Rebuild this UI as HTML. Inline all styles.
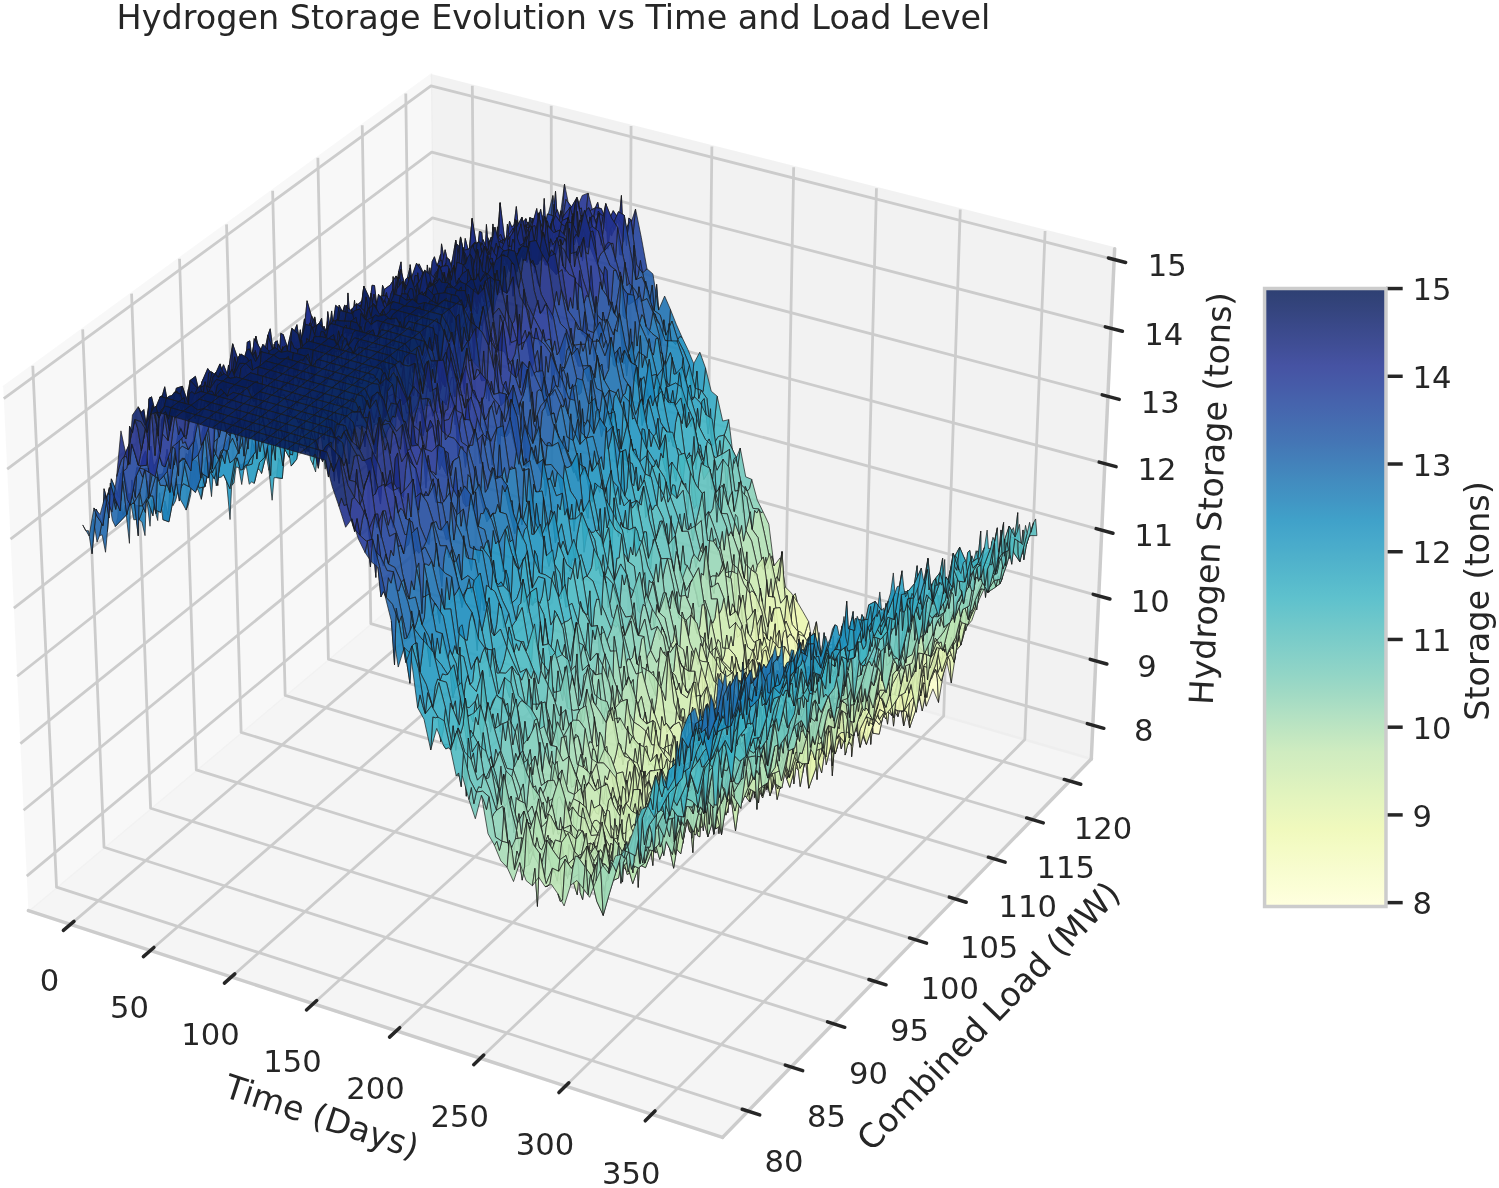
<!DOCTYPE html>
<html lang="en"><head><meta charset="utf-8"><title>Hydrogen Storage Evolution vs Time and Load Level</title>
<style>html,body{margin:0;padding:0;background:#fff}svg{display:block}text{font-family:"DejaVu Sans","Liberation Sans",sans-serif}</style></head>
<body>
<svg width="1499" height="1188" viewBox="116.1700 76.4300 538.0259 426.4008">
 
 <defs>
  <style type="text/css">*{stroke-linejoin: round; stroke-linecap: butt}</style>
 </defs>
 <g id="figure_1">
  <g id="patch_1">
   <path d="M 0 576 L 720 576 L 720 0 L 0 0 z" style="fill: #ffffff"/>
  </g>
  <g id="patch_2">
   <path d="M 92.88 512.64 L 536.4 512.64 L 536.4 69.12 L 92.88 69.12 z" style="fill: #ffffff"/>
  </g>
  <g id="pane3d_1">
   <g id="patch_3">
    <path d="M 126.368819 403.282182 L 272.833607 280.512492 L 270.797607 103.456652 L 117.323723 215.454902 " style="fill: #f2f2f2; opacity: 0.5; stroke: #f2f2f2; stroke-linejoin: miter"/>
   </g>
  </g>
  <g id="pane3d_2">
   <g id="patch_4">
    <path d="M 272.833607 280.512492 L 507.857334 348.82461 L 516.244503 165.670285 L 270.797607 103.456652 " style="fill: #e6e6e6; opacity: 0.5; stroke: #e6e6e6; stroke-linejoin: miter"/>
   </g>
  </g>
  <g id="pane3d_3">
   <g id="patch_5">
    <path d="M 126.368819 403.282182 L 375.505448 484.650204 L 507.857334 348.82461 L 272.833607 280.512492 " style="fill: #ececec; opacity: 0.5; stroke: #ececec; stroke-linejoin: miter"/>
   </g>
  </g>
  <g id="grid3d_1">
   <g id="Line3DCollection_1">
    <path d="M 141.45784 408.210256 L 287.127031 284.667025 L 285.695367 107.232799 " style="fill: none; stroke: #cccccc"/>
    <path d="M 170.153529 417.582268 L 314.288562 292.56181 L 314.015842 114.411214 " style="fill: none; stroke: #cccccc"/>
    <path d="M 199.208256 427.071542 L 341.761764 300.547185 L 342.675338 121.675561 " style="fill: none; stroke: #cccccc"/>
    <path d="M 228.628801 436.680292 L 369.552033 308.62472 L 371.679981 129.027393 " style="fill: none; stroke: #cccccc"/>
    <path d="M 258.422118 446.410789 L 397.66489 316.796017 L 401.036042 136.468298 " style="fill: none; stroke: #cccccc"/>
    <path d="M 288.595336 456.265362 L 426.105985 325.062721 L 430.749947 143.999907 " style="fill: none; stroke: #cccccc"/>
    <path d="M 319.155768 466.246399 L 454.881099 333.42651 L 460.82828 151.623888 " style="fill: none; stroke: #cccccc"/>
    <path d="M 350.110917 476.35635 L 483.996152 341.889107 L 491.277785 159.34195 " style="fill: none; stroke: #cccccc"/>
   </g>
  </g>
  <g id="grid3d_2">
   <g id="Line3DCollection_2">
    <path d="M 127.936822 207.709945 L 136.46148 394.822312 L 384.663174 475.252125 " style="fill: none; stroke: #cccccc"/>
    <path d="M 145.842697 194.643053 L 153.501301 380.539197 L 400.111845 459.397988 " style="fill: none; stroke: #cccccc"/>
    <path d="M 163.394076 181.834856 L 170.218412 366.526583 L 415.252504 443.859948 " style="fill: none; stroke: #cccccc"/>
    <path d="M 180.601381 169.277749 L 186.621894 352.776859 L 430.094271 428.628643 " style="fill: none; stroke: #cccccc"/>
    <path d="M 197.474632 156.964419 L 202.720492 339.282695 L 444.645911 413.69508 " style="fill: none; stroke: #cccccc"/>
    <path d="M 214.023464 144.887835 L 218.522626 326.037033 L 458.915849 399.050614 " style="fill: none; stroke: #cccccc"/>
    <path d="M 230.257143 133.041235 L 234.036413 313.033069 L 472.912186 384.686929 " style="fill: none; stroke: #cccccc"/>
    <path d="M 246.184588 121.418111 L 249.269672 300.264249 L 486.642717 370.596027 " style="fill: none; stroke: #cccccc"/>
    <path d="M 261.814383 110.012199 L 264.229945 287.724252 L 500.114941 356.77021 " style="fill: none; stroke: #cccccc"/>
   </g>
  </g>
  <g id="grid3d_3">
   <g id="Line3DCollection_3">
    <path d="M 508.412456 336.702177 L 272.698585 268.770576 L 125.771093 390.870019 " style="fill: none; stroke: #cccccc"/>
    <path d="M 509.46887 313.632785 L 272.441736 246.434391 L 124.633233 367.241614 " style="fill: none; stroke: #cccccc"/>
    <path d="M 510.537238 290.302355 L 272.182121 223.85755 L 123.482006 343.335642 " style="fill: none; stroke: #cccccc"/>
    <path d="M 511.617764 266.706431 L 271.919693 201.036143 L 122.317175 319.147183 " style="fill: none; stroke: #cccccc"/>
    <path d="M 512.710656 242.840456 L 271.654407 177.966173 L 121.138499 294.671199 " style="fill: none; stroke: #cccccc"/>
    <path d="M 513.816129 218.699766 L 271.386215 154.643558 L 119.945728 269.902533 " style="fill: none; stroke: #cccccc"/>
    <path d="M 514.934399 194.279592 L 271.11507 131.064126 L 118.738608 244.835905 " style="fill: none; stroke: #cccccc"/>
    <path d="M 516.065692 169.57505 L 270.840924 107.223609 L 117.516878 219.465905 " style="fill: none; stroke: #cccccc"/>
   </g>
  </g>
  <g id="axis3d_1">
   <g id="line2d_1">
    <path d="M 126.368819 403.282182 L 375.505448 484.650204 " style="fill: none; stroke: #cccccc; stroke-width: 1.25; stroke-linecap: round"/>
   </g>
   <g id="xtick_1">
    
    <g id="line2d_3">
     <path d="M 142.726319 407.134449 L 138.915439 410.366487 " style="fill: none; stroke: #262626; stroke-width: 1.25; stroke-linecap: round"/>
    </g>
    <g id="text_1">
     <text style="font-size: 11px; font-family: 'DejaVu Sans', 'Liberation Sans', sans-serif; text-anchor: middle; fill: #262626" x="133.939969" y="432.255923" transform="rotate(-0 133.939969 432.255923)">0</text>
    </g>
   </g>
   <g id="xtick_2">
    
    <g id="line2d_5">
     <path d="M 171.409283 416.493047 L 167.6366 419.765413 " style="fill: none; stroke: #262626; stroke-width: 1.25; stroke-linecap: round"/>
    </g>
    <g id="text_2">
     <text style="font-size: 11px; font-family: 'DejaVu Sans', 'Liberation Sans', sans-serif; text-anchor: middle; fill: #262626" x="162.653119" y="441.746685" transform="rotate(-0 162.653119 441.746685)">50</text>
    </g>
   </g>
   <g id="xtick_3">
    
    <g id="line2d_7">
     <path d="M 200.450866 425.968655 L 196.717638 429.282107 " style="fill: none; stroke: #262626; stroke-width: 1.25; stroke-linecap: round"/>
    </g>
    <g id="text_3">
     <text style="font-size: 11px; font-family: 'DejaVu Sans', 'Liberation Sans', sans-serif; text-anchor: middle; fill: #262626" x="191.726335" y="451.356462" transform="rotate(-0 191.726335 451.356462)">100</text>
    </g>
   </g>
   <g id="xtick_4">
    
    <g id="line2d_9">
     <path d="M 229.857836 435.56348 L 226.165359 438.918798 " style="fill: none; stroke: #262626; stroke-width: 1.25; stroke-linecap: round"/>
    </g>
    <g id="text_4">
     <text style="font-size: 11px; font-family: 'DejaVu Sans', 'Liberation Sans', sans-serif; text-anchor: middle; fill: #262626" x="221.166434" y="461.087508" transform="rotate(-0 221.166434 461.087508)">150</text>
    </g>
   </g>
   <g id="xtick_5">
    
    <g id="line2d_11">
     <path d="M 259.637133 445.279787 L 255.986743 448.677769 " style="fill: none; stroke: #262626; stroke-width: 1.25; stroke-linecap: round"/>
    </g>
    <g id="text_5">
     <text style="font-size: 11px; font-family: 'DejaVu Sans', 'Liberation Sans', sans-serif; text-anchor: middle; fill: #262626" x="250.980403" y="470.942131" transform="rotate(-0 250.980403 470.942131)">200</text>
    </g>
   </g>
   <g id="xtick_6">
    
    <g id="line2d_13">
     <path d="M 289.795872 455.119898 L 286.188948 458.561362 " style="fill: none; stroke: #262626; stroke-width: 1.25; stroke-linecap: round"/>
    </g>
    <g id="text_6">
     <text style="font-size: 11px; font-family: 'DejaVu Sans', 'Liberation Sans', sans-serif; text-anchor: middle; fill: #262626" x="281.175411" y="480.922702" transform="rotate(-0 281.175411 480.922702)">250</text>
    </g>
   </g>
   <g id="xtick_7">
    
    <g id="line2d_15">
     <path d="M 320.341353 465.086194 L 316.779315 468.57198 " style="fill: none; stroke: #262626; stroke-width: 1.25; stroke-linecap: round"/>
    </g>
    <g id="text_7">
     <text style="font-size: 11px; font-family: 'DejaVu Sans', 'Liberation Sans', sans-serif; text-anchor: middle; fill: #262626" x="311.758809" y="491.03165" transform="rotate(-0 311.758809 491.03165)">300</text>
    </g>
   </g>
   <g id="xtick_8">
    
    <g id="line2d_17">
     <path d="M 351.281063 475.181117 L 347.765375 478.712088 " style="fill: none; stroke: #262626; stroke-width: 1.25; stroke-linecap: round"/>
    </g>
    <g id="text_8">
     <text style="font-size: 11px; font-family: 'DejaVu Sans', 'Liberation Sans', sans-serif; text-anchor: middle; fill: #262626" x="342.738139" y="501.271469" transform="rotate(-0 342.738139 501.271469)">350</text>
    </g>
   </g>
   <g id="text_9">
    <text style="font-size: 12px; font-family: 'DejaVu Sans', 'Liberation Sans', sans-serif; text-anchor: middle; fill: #262626" x="230.387606" y="481.196517" transform="rotate(-341.912962 230.387606 481.196517)">Time (Days)</text>
   </g>
  </g>
  <g id="axis3d_2">
   <g id="line2d_18">
    <path d="M 507.857334 348.82461 L 375.505448 484.650204 " style="fill: none; stroke: #cccccc; stroke-width: 1.25; stroke-linecap: round"/>
   </g>
   <g id="xtick_9">
    
    <g id="line2d_20">
     <path d="M 382.571571 474.57434 L 388.85179 476.609446 " style="fill: none; stroke: #262626; stroke-width: 1.25; stroke-linecap: round"/>
    </g>
    <g id="text_10">
     <text style="font-size: 11px; font-family: 'DejaVu Sans', 'Liberation Sans', sans-serif; text-anchor: middle; fill: #262626" x="397.540724" y="497.030484" transform="rotate(-0 397.540724 497.030484)">80</text>
    </g>
   </g>
   <g id="xtick_10">
    
    <g id="line2d_22">
     <path d="M 398.034711 458.733782 L 404.271432 460.728101 " style="fill: none; stroke: #262626; stroke-width: 1.25; stroke-linecap: round"/>
    </g>
    <g id="text_11">
     <text style="font-size: 11px; font-family: 'DejaVu Sans', 'Liberation Sans', sans-serif; text-anchor: middle; fill: #262626" x="412.865174" y="481.035532" transform="rotate(-0 412.865174 481.035532)">85</text>
    </g>
   </g>
   <g id="xtick_11">
    
    <g id="line2d_24">
     <path d="M 413.189679 443.208915 L 419.383381 445.163663 " style="fill: none; stroke: #262626; stroke-width: 1.25; stroke-linecap: round"/>
    </g>
    <g id="text_12">
     <text style="font-size: 11px; font-family: 'DejaVu Sans', 'Liberation Sans', sans-serif; text-anchor: middle; fill: #262626" x="427.883981" y="465.359596" transform="rotate(-0 427.883981 465.359596)">90</text>
    </g>
   </g>
   <g id="xtick_12">
    
    <g id="line2d_26">
     <path d="M 428.0456 427.990397 L 434.196756 429.906738 " style="fill: none; stroke: #262626; stroke-width: 1.25; stroke-linecap: round"/>
    </g>
    <g id="text_13">
     <text style="font-size: 11px; font-family: 'DejaVu Sans', 'Liberation Sans', sans-serif; text-anchor: middle; fill: #262626" x="442.606199" y="449.993226" transform="rotate(-0 442.606199 449.993226)">95</text>
    </g>
   </g>
   <g id="xtick_13">
    
    <g id="line2d_28">
     <path d="M 442.611236 413.069247 L 448.720318 414.948303 " style="fill: none; stroke: #262626; stroke-width: 1.25; stroke-linecap: round"/>
    </g>
    <g id="text_14">
     <text style="font-size: 11px; font-family: 'DejaVu Sans', 'Liberation Sans', sans-serif; text-anchor: middle; fill: #262626" x="457.040528" y="434.927342" transform="rotate(-0 457.040528 434.927342)">100</text>
    </g>
   </g>
   <g id="xtick_14">
    
    <g id="line2d_30">
     <path d="M 456.895014 398.436835 L 462.962492 400.279683 " style="fill: none; stroke: #262626; stroke-width: 1.25; stroke-linecap: round"/>
    </g>
    <g id="text_15">
     <text style="font-size: 11px; font-family: 'DejaVu Sans', 'Liberation Sans', sans-serif; text-anchor: middle; fill: #262626" x="471.195329" y="420.153215" transform="rotate(-0 471.195329 420.153215)">105</text>
    </g>
   </g>
   <g id="xtick_15">
    
    <g id="line2d_32">
     <path d="M 470.905038 384.084859 L 476.931375 385.892536 " style="fill: none; stroke: #262626; stroke-width: 1.25; stroke-linecap: round"/>
    </g>
    <g id="text_16">
     <text style="font-size: 11px; font-family: 'DejaVu Sans', 'Liberation Sans', sans-serif; text-anchor: middle; fill: #262626" x="485.078646" y="405.662451" transform="rotate(-0 485.078646 405.662451)">110</text>
    </g>
   </g>
   <g id="xtick_16">
    
    <g id="line2d_34">
     <path d="M 484.649102 370.005334 L 490.634759 371.778838 " style="fill: none; stroke: #262626; stroke-width: 1.25; stroke-linecap: round"/>
    </g>
    <g id="text_17">
     <text style="font-size: 11px; font-family: 'DejaVu Sans', 'Liberation Sans', sans-serif; text-anchor: middle; fill: #262626" x="498.698214" y="391.446977" transform="rotate(-0 498.698214 391.446977)">115</text>
    </g>
   </g>
   <g id="xtick_17">
    
    <g id="line2d_36">
     <path d="M 498.134708 356.190576 L 504.080143 357.930866 " style="fill: none; stroke: #262626; stroke-width: 1.25; stroke-linecap: round"/>
    </g>
    <g id="text_18">
     <text style="font-size: 11px; font-family: 'DejaVu Sans', 'Liberation Sans', sans-serif; text-anchor: middle; fill: #262626" x="512.061478" y="377.49902" transform="rotate(-0 512.061478 377.49902)">120</text>
    </g>
   </g>
   <g id="text_19">
    <text style="font-size: 12px; font-family: 'DejaVu Sans', 'Liberation Sans', sans-serif; text-anchor: middle; fill: #262626" x="473.973188" y="444.004222" transform="rotate(-45.742112 473.973188 444.004222)">Combined Load (MW)</text>
   </g>
  </g>
  <g id="axis3d_3">
   <g id="line2d_37">
    <path d="M 507.857334 348.82461 L 516.244503 165.670285 " style="fill: none; stroke: #cccccc; stroke-width: 1.25; stroke-linecap: round"/>
   </g>
   <g id="xtick_18">
    
    <g id="line2d_39">
     <path d="M 506.433893 336.131965 L 512.374301 337.843962 " style="fill: none; stroke: #262626; stroke-width: 1.25; stroke-linecap: round"/>
    </g>
    <g id="text_20">
     <text style="font-size: 11px; font-family: 'DejaVu Sans', 'Liberation Sans', sans-serif; text-anchor: middle; fill: #262626" x="526.736078" y="342.466512" transform="rotate(-0 526.736078 342.466512)">8</text>
    </g>
   </g>
   <g id="xtick_19">
    
    <g id="line2d_41">
     <path d="M 507.478759 313.068578 L 513.453867 314.762552 " style="fill: none; stroke: #262626; stroke-width: 1.25; stroke-linecap: round"/>
    </g>
    <g id="text_21">
     <text style="font-size: 11px; font-family: 'DejaVu Sans', 'Liberation Sans', sans-serif; text-anchor: middle; fill: #262626" x="527.893472" y="319.424461" transform="rotate(-0 527.893472 319.424461)">9</text>
    </g>
   </g>
   <g id="xtick_20">
    
    <g id="line2d_43">
     <path d="M 508.535443 289.744327 L 514.545658 291.419758 " style="fill: none; stroke: #262626; stroke-width: 1.25; stroke-linecap: round"/>
    </g>
    <g id="text_22">
     <text style="font-size: 11px; font-family: 'DejaVu Sans', 'Liberation Sans', sans-serif; text-anchor: middle; fill: #262626" x="529.063939" y="296.122157" transform="rotate(-0 529.063939 296.122157)">10</text>
    </g>
   </g>
   <g id="xtick_21">
    
    <g id="line2d_45">
     <path d="M 509.604147 266.154759 L 515.649884 267.811115 " style="fill: none; stroke: #262626; stroke-width: 1.25; stroke-linecap: round"/>
    </g>
    <g id="text_23">
     <text style="font-size: 11px; font-family: 'DejaVu Sans', 'Liberation Sans', sans-serif; text-anchor: middle; fill: #262626" x="530.2477" y="272.555166" transform="rotate(-0 530.2477 272.555166)">11</text>
    </g>
   </g>
   <g id="xtick_22">
    
    <g id="line2d_47">
     <path d="M 510.685077 242.295322 L 516.766757 243.932055 " style="fill: none; stroke: #262626; stroke-width: 1.25; stroke-linecap: round"/>
    </g>
    <g id="text_24">
     <text style="font-size: 11px; font-family: 'DejaVu Sans', 'Liberation Sans', sans-serif; text-anchor: middle; fill: #262626" x="531.444984" y="248.718954" transform="rotate(-0 531.444984 248.718954)">12</text>
    </g>
   </g>
   <g id="xtick_23">
    
    <g id="line2d_49">
     <path d="M 511.778445 218.161358 L 517.896497 219.777904 " style="fill: none; stroke: #262626; stroke-width: 1.25; stroke-linecap: round"/>
    </g>
    <g id="text_25">
     <text style="font-size: 11px; font-family: 'DejaVu Sans', 'Liberation Sans', sans-serif; text-anchor: middle; fill: #262626" x="532.656025" y="224.60888" transform="rotate(-0 532.656025 224.60888)">13</text>
    </g>
   </g>
   <g id="xtick_24">
    
    <g id="line2d_51">
     <path d="M 512.884465 193.748102 L 519.039327 195.343884 " style="fill: none; stroke: #262626; stroke-width: 1.25; stroke-linecap: round"/>
    </g>
    <g id="text_26">
     <text style="font-size: 11px; font-family: 'DejaVu Sans', 'Liberation Sans', sans-serif; text-anchor: middle; fill: #262626" x="533.881059" y="200.220196" transform="rotate(-0 533.881059 200.220196)">14</text>
    </g>
   </g>
   <g id="xtick_25">
    
    <g id="line2d_53">
     <path d="M 514.00336 169.050676 L 520.195477 170.625099 " style="fill: none; stroke: #262626; stroke-width: 1.25; stroke-linecap: round"/>
    </g>
    <g id="text_27">
     <text style="font-size: 11px; font-family: 'DejaVu Sans', 'Liberation Sans', sans-serif; text-anchor: middle; fill: #262626" x="535.120333" y="175.548047" transform="rotate(-0 535.120333 175.548047)">15</text>
    </g>
   </g>
   <g id="text_28">
    <text style="font-size: 12px; font-family: 'DejaVu Sans', 'Liberation Sans', sans-serif; text-anchor: middle; fill: #262626" x="554.853" y="255.525" transform="rotate(-87.378092 554.853 255.525)">Hydrogen Storage (tons)</text>
   </g>
  </g>
  <g id="axes_1">
   <g id="surface" transform="scale(0.35892)" fill-opacity="0.9" stroke="#1a1a1a" stroke-opacity="0.85" stroke-width="0.835833" stroke-linejoin="round">
<path d="M769.6 618l5.4-27.5 5.7 .2 2-28.7 2.4 15.5-5.6 13.8-5.3 29.7-2.4-13.3z" fill="#63c3bf"/>
<path d="M762.7 610.1l5.7 6 5.3-44.6 2.3 9.4 2.6 28.9 2.1-19.1-5.7-.2-5.4 27.5-2.3-5.8-2.2 5.3z" fill="#67c4be"/>
<path d="M755.8 601.4l5.8 12.8 5.4-22.5 2.2-8.6 2.4 10.9 2.1-22.5-5.3 44.6-5.7-6-2.1 15.8-2.5-18.7z" fill="#61c2bf"/>
<path d="M780.7 590.7l5.5-21.3 5.5-18.9 2.3 7.6 2.4 15.7-5.7-7-5.6 10.7-2.4-15.5z" fill="#44b7c4"/>
<path d="M773.7 571.5l5.9 22.9 5.6-6.8 2.2-12 2.2-9.4 2.1-15.7-5.5 18.9-5.5 21.3-2.1 19.1-2.6-28.9z" fill="#4cbac2"/>
<path d="M749.1 618l5.7 .9 5.4-21.5 2.3-2.6 2.2-5.2 2.3 2.1-5.4 22.5-5.8-12.8-2.2 12.9-2.2 3.1z" fill="#5fc1c0"/>
<path d="M791.7 550.5l5.6-9.6 5.6-20.3 2.4 18.3 2.2-9.7-5.3 51.4-5.8-6.8-2.4-15.7z" fill="#34a9c3"/>
<path d="M742.2 620.9l5.7 1.9 5.3-39.4 2.4 10.3 2.1-14.9 2.5 18.6-5.4 21.5-5.7-.9-2.4-5.5-2.1 14z" fill="#5bc0c0"/>
<path d="M767 591.7l5.6-15.9 5.5-18.2 2.1-19.9 2.4 13.3 2.6 36.6-5.6 6.8-5.9-22.9-2.1 22.5-2.4-10.9z" fill="#40b5c4"/>
<path d="M785.2 587.6l5.5-25.5 5.4-31.4 2.4 15.8 2.3 1.1 2.1-27-5.6 20.3-5.6 9.6-2.1 15.7-2.2 9.4z" fill="#34a9c3"/>
<path d="M760.2 597.4l5.6-14.2 5.5-21 2.4 17.5 2.3-5.3 2.1-16.8-5.5 18.2-5.6 15.9-2.3-2.1-2.2 5.2z" fill="#40b5c4"/>
<path d="M735.4 627.3l5.5-10.3 5.4-27.2 2.4 6.7 2.4 4.2 2.1-17.3-5.3 39.4-5.7-1.9-2.1 15.3-2.6-23.1z" fill="#59bfc0"/>
<path d="M802.9 520.6l5.8 11.9 5.6-17.3 2.4 15.3 2.2-15.3-5.9-14.2-5.5 28.2-2.2 9.7z" fill="#2296c1"/>
<path d="M778.1 557.6l5.7 3.2 5.6-14.7 2-32.6 2.6 34.7 2.1-17.5-5.4 31.4-5.5 25.5-2.6-36.6-2.4-13.3z" fill="#2ea3c2"/>
<path d="M753.2 583.4l5.5-11.7 6 18.1 2-19.4 2.4 6.6 2.2-14.8-5.5 21-5.6 14.2-2.5-18.6-2.1 14.9z" fill="#3db2c4"/>
<path d="M728.4 626.4l5.5-18.1 5.5-17.2 2.1-12.2 2.4 4.4 2.4 6.5-5.4 27.2-5.5 10.3-2.5-15.8-2 22.6z" fill="#4ebbc2"/>
<path d="M796.1 530.7l5.9 14.3 5.5-26.7 2.3 .5 2.3-4.7 2.2 1.1-5.6 17.3-5.8-11.9-2.1 27-2.3-1.1z" fill="#2397c1"/>
<path d="M771.3 562.2l5.6-12.1 5.7-3.5 2.3 2.5 2.3 8 2.2-11-5.6 14.7-5.7-3.2-2.1 16.8-2.3 5.3z" fill="#31a5c2"/>
<path d="M721.2 605.5l6.3 45.8 5.3-27 2.1-23.4 2.4 7.8 2.1-17.6-5.5 17.2-5.5 18.1-2 21.8-2.5-14.9z" fill="#55bec1"/>
<path d="M746.3 589.8l5.6-8.1 5.7-3.3 2.2-9.7 2.5 18.9 2.4 2.2-6-18.1-5.5 11.7-2.1 17.3-2.4-4.2z" fill="#3cb1c3"/>
<path d="M764.7 589.8l5.5-21.3 5.5-17.6 2.4 7.8 2.5 25.7 2-37.8-5.7 3.5-5.6 12.1-2.2 14.8-2.4-6.6z" fill="#32a6c2"/>
<path d="M814.3 515.2l5.7-20 5.6-21.4 2.4 21.8 2.2-7.1-5.7 11-5.6 15.7-2.2 15.3z" fill="#1f82b9"/>
<path d="M789.4 546.1l5.5-30.2 5.9 10.6 2.1-19.1 2.4 14.1 2.2-3.2-5.5 26.7-5.9-14.3-2.1 17.5-2.6-34.7z" fill="#1f93c0"/>
<path d="M714.6 638.3l5.5-19.6 5.3-28.2 2.6 23.8 2.5 12 2.3-2-5.3 27-6.3-45.8-1.9 33.9-2.2 4.2z" fill="#55bec1"/>
<path d="M1127.8 849.4l5.8 8.8 6.5-23.4 .9 53.7 2.6-27.4-6 3.2-5.3-29.7-2.2 6.9z" fill="#f4fbc0"/>
<path d="M1140.1 834.8l5.1 38.5 6.3-14.5 1.9 3 1.5 25.3-5.6-15.8-5.7-10.2-2.6 27.4z" fill="#f7fcc6"/>
<path d="M739.4 591.1l5.5-13.7 5.9 16.1 2.3-2.5 2.2-14.6 2.3 2-5.7 3.3-5.6 8.1-2.4-6.5-2.4-4.4z" fill="#39adc3"/>
<path d="M1151.5 858.8l6-1.8 5.4 23.2 2.2-4.5 1.6 14.8-5.9 1.1-5.9-4.5-1.5-25.3z" fill="#f8fcca"/>
<path d="M1162.9 880.2l6-1.2 5.6 15.8 2 .8 1.9 6.7-5.3-26.6-6.4 14.8-1.6-14.8z" fill="#fbfdd0"/>
<path d="M807.5 518.3l5.7-19.9 5.7 .7 2.4 8 2.1-28.6 2.2-4.7-5.6 21.4-5.7 20-2.2-1.1-2.3 4.7z" fill="#1f7eb7"/>
<path d="M757.6 578.4l5.4-31.5 5.9 16.8 2.3-2.7 2.2-9.5 2.3-.6-5.5 17.6-5.5 21.3-2.4-2.2-2.5-18.9z" fill="#2ea3c2"/>
<path d="M782.6 546.6l5.6-11.6 5.7-12.4 2.3 5.3 2.1-20 2.5 18.6-5.9-10.6-5.5 30.2-2.2 11-2.3-8z" fill="#1f93c0"/>
<path d="M1116.7 808.9l5.2 38 5.9 2.5 2.3-7.9 2.2-6.9-5.8-10.2-5.7-9.8-1.9-8z" fill="#ecf7b1"/>
<path d="M707.8 649.9l5.6-10.7 5-42.1 2.9 32.2 2.2-9 1.9-29.8-5.3 28.2-5.5 19.6-2.5-11.9-1.9 24z" fill="#52bcc2"/>
<path d="M1174.5 894.8l6.2-7 6-2.3 2.2-7.5 1.6 17.2-5.7-10-6.4 17.1-1.9-6.7z" fill="#fbfdd0"/>
<path d="M732.8 624.3l5.3-31.9 5.6-10.4 2.1-19.3 2.5 15.1 2.5 15.7-5.9-16.1-5.5 13.7-2.1 17.6-2.4-7.8z" fill="#3aaec3"/>
<path d="M1121.7 844.5l5.3 34.6 6.5-27.1 2.1-.4 1.7 13.5 2.8-30.3-6.5 23.4-5.8-8.8-2-2.9-2-1.6z" fill="#f1fabb"/>
<path d="M1133.5 852l5.4 24.8 5.8 7.5 2.2-2.9 2.2-7.2 2.4-15.4-6.3 14.5-5.1-38.5-2.8 30.3-1.7-13.5z" fill="#f5fbc2"/>
<path d="M1105.7 764.6l4.6 69.8 6.4-25.5 2.2-2.3 1.9 8-5.8-8.6-5.8-5.9-2.1 1.4z" fill="#dff2b2"/>
<path d="M1110.5 808.6l5.4 28.9 5.8 7 2.1 .4 2 1.6 2 2.9-5.9-2.5-5.2-38-2.7 33.4-1.9-7.9z" fill="#edf8b2"/>
<path d="M1144.7 884.3l6.4-17.1 6-1.3 1.5 23.6 1.9 5.3 2.4-14.6-5.4-23.2-6 1.8-2.4 15.4-2.2 7.2z" fill="#f7fcc6"/>
<path d="M1186.7 885.5l5.4 24.6 6.5-18.3 1.5 16.5 2.8-27.1-7 37.5-5.4-23.5-1.6-17.2z" fill="#fcfed1"/>
<path d="M750.8 593.5l5.5-22.1 5.9 13.3 1.9-42 2.6 30.9 2.2-9.9-5.9-16.8-5.4 31.5-2.3-2-2.2 14.6z" fill="#2ea3c2"/>
<path d="M825.6 473.8l5.7-22.7 6 43.7 2.2-19.2 2.2-2.5-5.8-5.7-5.7 21.1-2.2 7.1z" fill="#216aad"/>
<path d="M1157.1 865.9l5.4 26.3 5.9 4.1 2.5-21.3 1.5 22.5 2.1-2.7-5.6-15.8-6 1.2-2.4 14.6-1.9-5.3z" fill="#f9fdcc"/>
<path d="M775.7 550.9l5.7-5.1 5.5-27.1 2.2-10.6 2.4 .7 2.4 13.8-5.7 12.4-5.6 11.6-2 37.8-2.5-25.7z" fill="#1f93c0"/>
<path d="M800.8 526.5l5.5-31.4 5.8-3.6 2.2-5.1 2.4 14.9 2.2-2.2-5.7-.7-5.7 19.9-2.2 3.2-2.4-14.1z" fill="#1f7bb6"/>
<path d="M1093.6 772.9l5.4 29.9 6.7-38.2 1.4 36.9 2.1-1.4-5.4-29.3-6.1 8-1.9-10.1z" fill="#d1edb3"/>
<path d="M725.4 590.5l5.7 2.3 5.9 8.5 2-22.1 2.3-3 2.4 5.8-5.6 10.4-5.3 31.9-2.3 2-2.5-12z" fill="#3aaec3"/>
<path d="M1115.4 848.5l5.8 8.5 5.7 15.4 2.1-3.9 2 3.9 2.5-20.4-6.5 27.1-5.3-34.6-2.4 17.1-1.8-11.5z" fill="#f3fabd"/>
<path d="M700.6 636.9l5.7-.4 5.3-27.1 2.4 5.7 2.4 4.5 2-22.5-5 42.1-5.6 10.7-2.3 3.8-2.8-31z" fill="#4ebbc2"/>
<path d="M1098.9 792.7l5.5 23.5 6.1-7.6 1.6 25.8 1.9 7.9 2.7-33.4-6.4 25.5-4.6-69.8-2.7 29.5-2-4.8z" fill="#ddf2b2"/>
<path d="M1126.9 872.4l6.1-10.2 5.5 23.7 2.5-21 1.8 15.6 1.9 3.8-5.8-7.5-5.4-24.8-2.5 20.4-2-3.9z" fill="#f5fbc2"/>
<path d="M1168.4 896.3l6.5-23.1 5.6 15.5 2.1-2.9 1.7 15.9 2.4-16.2-6 2.3-6.2 7-2.1 2.7-1.5-22.5z" fill="#f9fdcb"/>
<path d="M1103.4 853.7l6.3-19.7 5.7 14.5 2.1 1.6 1.8 11.5 2.4-17.1-5.8-7-5.4-28.9-2.6 27.9-2.3 8.9z" fill="#edf8b2"/>
<path d="M1138.5 885.9l6-1.1 5.6 19.1 2 1.4 2.6-25.5 2.4-13.9-6 1.3-6.4 17.1-1.9-3.8-1.8-15.6z" fill="#f7fcc7"/>
<path d="M1198.6 891.8l6-.7 5.7 11 2.5-18.5 2.1-1.1-6.4 14.5-5.6-15.8-2.8 27.1z" fill="#f9fdcc"/>
<path d="M1180.5 888.7l5.4 25.3 6.1-3.4 2.5-17 1.9 4.2 2.2-6-6.5 18.3-5.4-24.6-2.4 16.2-1.7-15.9z" fill="#fafdcf"/>
<path d="M818.9 499.1l5.8-12.9 5.7-16.4 2.3 4.6 2.1-19.5 2.5 39.9-6-43.7-5.7 22.7-2.2 4.7-2.1 28.6z" fill="#2168ad"/>
<path d="M1150.1 903.9l6.6-27.1 5.6 15.7 1.8 9.3 2.8-29.3 1.5 23.8-5.9-4.1-5.4-26.3-2.4 13.9-2.6 25.5z" fill="#f8fcca"/>
<path d="M793.9 522.6l5.4-38.8 6 21.5 2.3 9.5 2.2-20.1 2.3-3.2-5.8 3.6-5.5 31.4-2.5-18.6-2.1 20z" fill="#1f7ab5"/>
<path d="M768.9 563.7l5.4-36.4 6 16.4 2.1-17.6 2.1-24.5 2.4 17.1-5.5 27.1-5.7 5.1-2.3 .6-2.2 9.5z" fill="#1d8ebf"/>
<path d="M1087.1 782.7l6.3-16.3 5.5 26.3 2.1-3.4 2 4.8 2.7-29.5-6.7 38.2-5.4-29.9-2.2 8.8-1.9-11.6z" fill="#ceecb3"/>
<path d="M743.7 582l5.6-11.8 5.6-16.1 2.4 9.1 2.1-22.2 2.8 43.7-5.9-13.3-5.5 22.1-2.5-15.7-2.5-15.1z" fill="#2a9ec1"/>
<path d="M1092.3 809.3l5.9 .8 5.2 43.6 2.2-8.3 2.3-8.9 2.6-27.9-6.1 7.6-5.5-23.5-2.4 17.5-1.8-18.6z" fill="#e0f3b2"/>
<path d="M1082.6 722l5.5 24.6 5.5 26.3 2.2-4.2 1.9 10.1-5.2-41.7-5.8-12.5-2.1 1z" fill="#b2e1b6"/>
<path d="M837.3 494.8l5.7-30.6 5.8 6.7 2.2-28.7 2.2 7.3-5.8-10.6-5.7 34.2-2.2 2.5z" fill="#225ca7"/>
<path d="M718.4 597.1l5.9 6.2 5.9 10.3 1.7-45.1 2.6 20.8 2.5 12-5.9-8.5-5.7-2.3-1.9 29.8-2.2 9z" fill="#39adc3"/>
<path d="M1192 910.6l6.5-17.6 5.6 15.4 2.5-18.1 1.5 17.9 2.2-6.1-5.7-11-6 .7-2.2 6-1.9-4.2z" fill="#fafdce"/>
<path d="M1210.3 902.1l6.6-19.5 5.6 14.8 2.3-11.5 1.6 13.7-6.1 3.6-5.4-20.7-2.1 1.1z" fill="#f8fcca"/>
<path d="M1162.3 892.5l5.3 31.1 6.9-38.5 1.9 5.6 1.6 17.5 2.5-19.5-5.6-15.5-6.5 23.1-1.5-23.8-2.8 29.3z" fill="#f8fcca"/>
<path d="M1120.6 873.8l5.5 23.8 6.3-18.1 2 4.7 2.5-21.8 1.6 23.5-5.5-23.7-6.1 10.2-1.9-8.4-2.3 8.5z" fill="#f4fbc1"/>
<path d="M1109.3 842.4l5.2 37.1 6.1-5.7 2.1-1.3 2.3-8.5 1.9 8.4-5.7-15.4-5.8-8.5-2-1.4-2.2 3.4z" fill="#f0f9b8"/>
<path d="M812.1 491.5l5.8 12.9 5.6-31.1 2.2-19.2 2.5 45.3 2.2-29.6-5.7 16.4-5.8 12.9-2.2 2.2-2.4-14.9z" fill="#216aad"/>
<path d="M1174.5 885.1l5.1 37.2 6.6-22.5 1.8 6.3 1.9 8 2.1-3.5-6.1 3.4-5.4-25.3-2.5 19.5-1.6-17.5z" fill="#fafdcf"/>
<path d="M693 609.7l6 15.1 6 18.2 2.1-15.2 2-28.5 2.5 10.1-5.3 27.1-5.7 .4-2.4 .6-2.2 10.5z" fill="#46b8c3"/>
<path d="M1132.4 879.5l5.7 17.8 6.1-8.6 2.3-11.4 1.9 8.3 1.7 18.3-5.6-19.1-6 1.1-1.6-23.5-2.5 21.8z" fill="#f6fbc5"/>
<path d="M762.2 584.7l5.4-39.6 5.4-28.1 2.7 37.1 2.3-9.7 2.3-.7-6-16.4-5.4 36.4-2.2 9.9-2.6-30.9z" fill="#1f93c0"/>
<path d="M1097.7 821.3l6-.8 5.6 21.9 1.9 8.1 2.2-3.4 2 1.4-5.7-14.5-6.3 19.7-2-7-2-2.8z" fill="#e9f7b1"/>
<path d="M1085.9 814.5l5.5 25.5 6.3-18.7 1.7 22.6 2 2.8 2 7-5.2-43.6-5.9-.8-1.8-16.9-2.8 42.1z" fill="#e2f4b2"/>
<path d="M1204.1 908.4l6.3-10.9 5.5 17.3 2.4-12.8 1.9 6.1 2.3-10.7-5.6-14.8-6.6 19.5-2.2 6.1-1.5-17.9z" fill="#f9fdcc"/>
<path d="M1075.9 742.4l5.8 8.2 5.4 32.1 2.4-12.6 1.9 11.6 2.2-8.8-5.5-26.3-5.5-24.6-2.2 4-2.1-2.8z" fill="#b2e1b6"/>
<path d="M1222.5 897.4l6.3-8.4 5.8 8.1 2-2.4 1.9 6-5.6-16.9-6.5 15.8-1.6-13.7z" fill="#f8fcc9"/>
<path d="M830.4 469.8l5.8-.2 5.8-3 2.2-.9 2.2-28.8 2.4 34-5.8-6.7-5.7 30.6-2.5-39.9-2.1 19.5z" fill="#225aa6"/>
<path d="M1234.6 897.1l5.9 5.6 5.5 17.2 2.4-12.5 1.6 11.7-5.5-19.6-6 1.2-1.9-6z" fill="#fafdce"/>
<path d="M1080.9 778.5l6.1-8.6 5.3 39.4 2.4-17.7 1.8 18.6 2.4-17.5-5.5-26.3-6.3 16.3-2-5.3-2.1 1.9z" fill="#cdebb4"/>
<path d="M1144.2 888.7l6.4-16.2 4.9 49.8 2.6-26.4 2.4-12.9 1.8 9.5-5.6-15.7-6.6 27.1-1.7-18.3-1.9-8.3z" fill="#f7fcc6"/>
<path d="M711.6 609.4l5.7-2.6 5.8 4.9 2.4 1.9 1.8-39.6 2.9 39.6-5.9-10.3-5.9-6.2-2 22.5-2.4-4.5z" fill="#39adc3"/>
<path d="M786.9 518.7l5.8 .9 5.7-19.1 2.3 4.7 2.2-16.9 2.4 17-6-21.5-5.4 38.8-2.4-13.8-2.4-.7z" fill="#2073b2"/>
<path d="M1186.2 899.8l5.5 17.5 6.8-29.2 1 38.9 3.3-46.9 1.3 28.3-5.6-15.4-6.5 17.6-2.1 3.5-1.9-8z" fill="#fafdce"/>
<path d="M737 601.3l5.5-19.6 5.6-14.2 2.2-12.2 2.2-9 2.4 7.8-5.6 16.1-5.6 11.8-2.4-5.8-2.3 3z" fill="#289cc1"/>
<path d="M1070.9 704l5.7 17.3 6 .7 2 3.6 2.1-1-5.7-11.4-5.6-20.9-2.3 9.3z" fill="#8cd2ba"/>
<path d="M1103 843.5l5.2 39.4 5.9 1.5 2.2-4.2 2.1-1.4 2.2-5-6.1 5.7-5.2-37.1-2.2 3.3-2.3 14.1z" fill="#f1faba"/>
<path d="M1155.5 922.3l6.5-23.4 6 1.8 2.2-7.4 2.3-11.3 2 3.1-6.9 38.5-5.3-31.1-1.8-9.5-2.4 12.9z" fill="#f8fcc9"/>
<path d="M1215.9 914.8l6.3-7.7 5.1 31.6 3.2-39.6 2-1.1 2.1-.9-5.8-8.1-6.3 8.4-2.3 10.7-1.9-6.1z" fill="#fafdce"/>
<path d="M1114.1 884.4l6.2-9.6 6.5-22 1.4 33.1 2 2.6 2.2-9-6.3 18.1-5.5-23.8-2.2 5-2.1 1.4z" fill="#f4fbc0"/>
<path d="M1126.8 852.8l4.9 53.2 6.1-6.9 2 3.5 1.9 7 2.5-20.9-6.1 8.6-5.7-17.8-2.2 9-2-2.6z" fill="#f6fbc5"/>
<path d="M848.8 470.9l5.7-19.9 5.9 9.9 2.3-3.1 2.1-29.9-5.8 12.3-5.8 9.3-2.2-7.3z" fill="#2350a1"/>
<path d="M805.3 505.3l5.7-6.2 5.6-31.9 2.4 5.8 2.1-33.2 2.4 33.5-5.6 31.1-5.8-12.9-2.3 3.2-2.2 20.1z" fill="#2165ab"/>
<path d="M1137.8 899.1l6.1-7.4 5.6 20.5 2.5-18 2 2.5 1.5 25.6-4.9-49.8-6.4 16.2-2.5 20.9-1.9-7z" fill="#f8fcc9"/>
<path d="M1246 919.9l6.9-27.1 6.4-10.5 1.7 9.5 1.2 23.6-5.6-13.6-6.6 17.3-1.6-11.7z" fill="#f9fdcb"/>
<path d="M1069.5 743.1l5.8 11 5.6 24.4 2.1 .8 2.1-1.9 2 5.3-5.4-32.1-5.8-8.2-1.8-17.8-2.3 10z" fill="#b2e1b6"/>
<path d="M1074.5 782.4l5.9 4.4 5.5 27.7 1.8 20 2.8-42.1 1.8 16.9-5.3-39.4-6.1 8.6-2.3 9.9-1.9-10.7z" fill="#ceecb3"/>
<path d="M1059.5 669.5l5.6 28.3 5.8 6.2 2.2-2.4 2.3-9.3-6-2.5-5.5-28.8-2.4 18.4z" fill="#71c8bd"/>
<path d="M686.4 638.4l5.3-22.6 6.1 19.7 1.9-28.9 2.8 25.7 2.5 10.7-6-18.2-6-15.1-2.2 10.5-2.4-2.4z" fill="#3fb4c4"/>
<path d="M730.2 613.6l5.1-46.2 5.9 7.3 2.3 3.6 2.3-5.6 2.3-5.2-5.6 14.2-5.5 19.6-2.5-12-2.6-20.8z" fill="#2a9ec1"/>
<path d="M1198.5 888.1l6 3.2 5.7 11.6 1.5 20.5 2.3-10.1 1.9 1.5-5.5-17.3-6.3 10.9-1.3-28.3-3.3 46.9z" fill="#f9fdcb"/>
<path d="M1064.6 703.1l5.8 7.1 5.5 32.2 2.4-19.2 2.1 2.8 2.2-4-6-.7-5.7-17.3-2-4.6-2.5 26.2z" fill="#8cd2ba"/>
<path d="M1168 900.7l5.5 17.8 6.7-24.7 2 1.2 1.8 7.6 2.2-2.8-6.6 22.5-5.1-37.2-2-3.1-2.3 11.3z" fill="#f7fcc7"/>
<path d="M823.5 473.3l5.9 4.4 5.7-23.5 2.3 3.4 2.4 20.3 2.2-11.3-5.8 3-5.8 .2-2.2 29.6-2.5-45.3z" fill="#2259a6"/>
<path d="M780.3 543.7l5.3-42.1 5.7-13.1 2.4 7.8 2.5 25.3 2.2-21.1-5.7 19.1-5.8-.9-2.4-17.1-2.1 24.5z" fill="#2075b3"/>
<path d="M1090.9 851.9l5.9 3.9 6.2-12.3 1.8 16.3 2.3-14.1 2.2-3.3-5.6-21.9-6 .8-2.3 13.3-1.9-15.2z" fill="#e5f5b2"/>
<path d="M1227.3 938.7l6.8-26.2 6.6-15.8 2.5-15.7 1.7 10.3 1.1 28.6-5.5-17.2-5.9-5.6-2.1 .9-2 1.1z" fill="#f8fcca"/>
<path d="M754.9 554.1l5.6-16.1 5.6-16.4 2.4 6.8 2.4 8 2.1-19.4-5.4 28.1-5.4 39.6-2.8-43.7-2.1 22.2z" fill="#1e8abd"/>
<path d="M1079.6 808.7l5.8 15.4 5.5 27.8 2.6-32.5 1.9 15.2 2.3-13.3-6.3 18.7-5.5-25.5-1.9-13.3-2.5 23.7z" fill="#dcf1b2"/>
<path d="M842 466.6l5.8 2.6 5.7-38.6 2.3 1 2.4 39.8 2.2-10.5-5.9-9.9-5.7 19.9-2.4-34-2.2 28.8z" fill="#2350a1"/>
<path d="M1210.2 902.9l6.4-12.2 6 .7 1.4 22.1 2.6-17.7 .7 42.9-5.1-31.6-6.3 7.7-1.9-1.5-2.3 10.1z" fill="#f9fdcb"/>
<path d="M798.4 500.5l5.7-13.1 5.9 13.3 2.3-1.5 2.1-19 2.2-13-5.6 31.9-5.7 6.2-2.4-17-2.2 16.9z" fill="#2166ac"/>
<path d="M1149.5 912.2l6.7-29.8 5.4 27.7 2.4-17.6 2.4-14.1 1.6 22.3-6-1.8-6.5 23.4-1.5-25.6-2-2.5z" fill="#f7fcc6"/>
<path d="M1053.2 662.4l5.4 41.7 6-1 1.8 22.5 2.5-26.2 2 4.6-5.8-6.2-5.6-28.3-2.1 3.1-2.5 22.8z" fill="#73c8bd"/>
<path d="M705 643l4.9-55.5 5.6-9.7 2.3-8.1 2.5 11.5 2.8 30.5-5.8-4.9-5.7 2.6-2.5-10.1-2 28.5z" fill="#32a6c2"/>
<path d="M1084.9 828.5l5.1 56 6.5-30.8 2.4-17 1.4 38.2 2.7-31.4-6.2 12.3-5.9-3.9-2-5.7-2.1-1.1z" fill="#e9f7b1"/>
<path d="M1047.9 648l5.9 9.6 5.7 11.9 2 9.9 2.4-18.4-6.1 15.5-5.4-43.9-2.2 8.9z" fill="#55bec1"/>
<path d="M1180.2 893.8l5.7 11.5 6 2.8 2.3-12.4 2.1-.8 2.2-6.8-6.8 29.2-5.5-17.5-2.2 2.8-1.8-7.6z" fill="#f7fcc6"/>
<path d="M679.3 638.7l5.7-.6 5.8 4 1.8-35.1 2.7 17.4 2.5 11.1-6.1-19.7-5.3 22.6-2.3 4-2.4-3.2z" fill="#40b5c4"/>
<path d="M1063.1 747.8l5.5 28.5 5.9 6.1 2.2-4.7 1.9 10.7 2.3-9.9-5.6-24.4-5.8-11-2.3 11-1.9-15.8z" fill="#b2e1b6"/>
<path d="M1096.5 853.7l5.8 7.1 6-1.3 1.9 12.4 2 5.1 1.9 7.4-5.9-1.5-5.2-39.4-2.7 31.4-1.4-38.2z" fill="#eef8b3"/>
<path d="M860.4 460.9l5.8-24 5.9 11.1 2.2 1 2.2-40.5-5.8 23.5-5.9-4.1-2.1 29.9z" fill="#24479d"/>
<path d="M1068 791.5l5.9 5 5.7 12.2 1.9 16.2 2.5-23.7 1.9 13.3-5.5-27.7-5.9-4.4-2.4 19.3-1.6-36.9z" fill="#cdebb4"/>
<path d="M1161.6 910.1l6.1-6.5 5.3 33.8 2.5-19.4 2.5-17.4 2.2-6.8-6.7 24.7-5.5-17.8-1.6-22.3-2.4 14.1z" fill="#f7fcc7"/>
<path d="M723.1 611.7l5.1-44.2 5.8 1.4 2.6 16.4 2.2-14.7 2.4 4.1-5.9-7.3-5.1 46.2-2.9-39.6-1.8 39.6z" fill="#299dc1"/>
<path d="M1035.9 659.4l6.1-9.9 5.9-1.5 2.3-6.5 2.2-8.9-6 1.4-5.6-24.9-2.4 23z" fill="#44b7c4"/>
<path d="M1120 879.4l5.6 18 6.4-18 1.9 6 1.5 29.6 2.4-15.9-6.1 6.9-4.9-53.2-2.4 13.9-2.2 6.2z" fill="#f3fabd"/>
<path d="M773 517l5.7-14 5.8 1 2.3-10.3 2.4 17 2.1-22.2-5.7 13.1-5.3 42.1-2.3 .7-2.3 9.7z" fill="#2073b2"/>
<path d="M1108.3 859.5l5.8 10.6 5.9 9.3 2.2-6.5 2.2-6.2 2.4-13.9-6.5 22-6.2 9.6-1.9-7.4-2-5.1z" fill="#eff9b5"/>
<path d="M1132 879.4l5.2 38 7-45.3 1.3 34.5 2.2-7.5 1.8 13.1-5.6-20.5-6.1 7.4-2.4 15.9-1.5-29.6z" fill="#f5fbc4"/>
<path d="M1057.9 724.5l6.4-30.7 5.2 49.3 2.3-8.5 2.3-10 1.8 17.8-5.5-32.2-5.8-7.1-2-8.1-2.5 26.1z" fill="#85cfba"/>
<path d="M748.1 567.5l5.6-12.9 5.8 1.5 2.3-2.2 2-30.4 2.3-1.9-5.6 16.4-5.6 16.1-2.4-7.8-2.2 9z" fill="#1e88bc"/>
<path d="M1222.6 891.4l5.5 20.6 5.2 28.6 3.8-58.4 1.6 11.8 2 2.7-6.6 15.8-6.8 26.2-.7-42.9-2.6 17.7z" fill="#f8fcc9"/>
<path d="M1191.9 908.1l5.6 16.7 6.2-5.3 2.3-10.4 2.2-6.2 2 0-5.7-11.6-6-3.2-2.2 6.8-2.1 .8z" fill="#f7fcc6"/>
<path d="M1041.2 669.5l6-3.2 6-3.9 1.7 33 2.5-22.8 2.1-3.1-5.7-11.9-5.9-9.6-2.4 23.2-1.9-17.8z" fill="#59bfc0"/>
<path d="M835.1 454.2l5.8-1.9 5.9 21.2 2.3-12.4 2.2-7.8 2.2-22.7-5.7 38.6-5.8-2.6-2.2 11.3-2.4-20.3z" fill="#2350a1"/>
<path d="M1240.7 896.7l5.2 27.1 7.1-33.7 2 2 2.2-5.8 2.1-4-6.4 10.5-6.9 27.1-1.1-28.6-1.7-10.3z" fill="#f4fbc1"/>
<path d="M1073.3 805.9l5.4 36.6 6.2-14 1.9 16.6 2.1 1.1 2 5.7-5.5-27.8-5.8-15.4-2-3.6-2.1-1.3z" fill="#daf0b3"/>
<path d="M853.5 430.6l6 29.8 5.8-3.8 2.2-21.6 2.3 2 2.3 11-5.9-11.1-5.8 24-2.2 10.5-2.4-39.8z" fill="#24489d"/>
<path d="M1173 937.4l6.4-16.4 6.6-22.6 1.9 6.9 2.1-4.4 1.9 7.2-6-2.8-5.7-11.5-2.2 6.8-2.5 17.4z" fill="#f7fcc7"/>
<path d="M1259.3 882.3l5.7 11.7 6.9-24.4 1.8 4.6 1.3 21.7-5.3-25.5-7.5 45-1.2-23.6z" fill="#f2fabc"/>
<path d="M1144.2 872.1l5.3 33.5 6 1.3 1.9 4.7 1.5 23.9 2.7-25.4-5.4-27.7-6.7 29.8-1.8-13.1-2.2 7.5z" fill="#f6fbc5"/>
<path d="M697.8 635.5l5.4-25.4 5.2-31.3 2.8 25 2.2-12 2.1-14-5.6 9.7-4.9 55.5-2.5-10.7-2.8-25.7z" fill="#32a6c2"/>
<path d="M1029.8 627.8l5.9 3.9 5.5 37.8 2.4-16.1 1.9 17.8 2.4-23.2-5.9 1.5-6.1 9.9-1.7-37.8-2.4 25.3z" fill="#48b9c3"/>
<path d="M1024.7 603.2l5.8 8.1 5.4 48.1 2.5-27.3 2.4-23-5.9-5-5.7-23.2-2.4 23.5z" fill="#34a9c3"/>
<path d="M816.6 467.2l5.9 2.6 5.7-18.2 2.3 3.6 2.3 6.6 2.3-7.6-5.7 23.5-5.9-4.4-2.4-33.5-2.1 33.2z" fill="#2350a1"/>
<path d="M1101.3 898.6l6.3-14 5.5 23.3 2.4-15.5 2.1 2.7 2.4-15.7-5.9-9.3-5.8-10.6-2.4 17.7-2.1-1.1z" fill="#f1faba"/>
<path d="M1203.7 919.5l5.7 12.4 6.5-16.4 1.9 3 2.5-15.7 2.3-11.4-6-.7-6.4 12.2-2 0-2.2 6.2z" fill="#f7fcc7"/>
<path d="M1046.7 672.3l5.8 7.8 5.4 44.4 2.2-3.4 2.5-26.1 2 8.1-6 1-5.4-41.7-2.7 42.7-1.8-23.4z" fill="#6fc7bd"/>
<path d="M791.3 488.5l5.9 4.4 5.7-19.2 2.2-9.9 2.6 44.2 2.3-7.3-5.9-13.3-5.7 13.1-2.2 21.1-2.5-25.3z" fill="#2262aa"/>
<path d="M872.1 448l5.8 7 5.9-5.5 2.2-21.8 2.2-30.7-5.8 42.9-5.9-31.4-2.2 40.5z" fill="#24409a"/>
<path d="M1155.5 906.9l6.3-14.7 5.6 19.9 2.1-2.5 2.1-.9 1.4 28.7-5.3-33.8-6.1 6.5-2.7 25.4-1.5-23.9z" fill="#f8fcc9"/>
<path d="M1090.1 858.3l5.6 19.9 5.6 20.4 2.5-22.5 2.1 1.1 2.4-17.7-6 1.3-5.8-7.1-2.1-4.1-2.4 17.4z" fill="#edf8b1"/>
<path d="M741.2 574.7l5.6-11.3 5.3-41.3 2.7 33.1 2.2-17.4 2.5 18.3-5.8-1.5-5.6 12.9-2.3 5.2-2.3 5.6z" fill="#1d8dbe"/>
<path d="M1186 898.4l5.1 37.3 5.7 10.5 2.8-27.8 2.6-18.7 1.5 19.8-6.2 5.3-5.6-16.7-1.9-7.2-2.1 4.4z" fill="#f8fcca"/>
<path d="M1078.7 822.3l5.2 43.3 6.2-7.3 1.9 8.7 2.4-17.4 2.1 4.1-6.5 30.8-5.1-56-2.4 17.9-2.3 14.3z" fill="#e6f5b2"/>
<path d="M1113.1 907.9l6.3-15.2 5.9 7.1 2.8-36.1 .9 59.3 3-43.6-6.4 18-5.6-18-2.4 15.7-2.1-2.7z" fill="#f3fabf"/>
<path d="M672.8 676.8l4.7-59.5 5.4-20.9 2.6 15.1 2.5 7 2.8 23.6-5.8-4-5.7 .6-2.1 14.5-3.1-33.8z" fill="#3cb1c3"/>
<path d="M1056.7 749.1l5.7 16.5 5.6 25.9 2.5-26.7 1.6 36.9 2.4-19.3-5.9-6.1-5.5-28.5-1.9-17.5-2.1-3z" fill="#abdeb7"/>
<path d="M1051.6 717.6l5.7 14.6 5.8 15.6 2.2-9.5 1.9 15.8 2.3-11-5.2-49.3-6.4 30.7-1.9-19.8-2.2 3.9z" fill="#87d0ba"/>
<path d="M1233.3 940.6l6.7-19.2 6.8-25.7 1.6 14.6 2.5-14.8 2.1-5.4-7.1 33.7-5.2-27.1-2-2.7-1.6-11.8z" fill="#f5fbc4"/>
<path d="M1034.9 658.2l5.7 25.1 6.1-11 2 9.4 1.8 23.4 2.7-42.7-6 3.9-6 3.2-2.1 1-2.2-2.8z" fill="#5bc0c0"/>
<path d="M810 500.7l5.7-10.9 5.7-23.9 2.4 14.6 2.1-26.3 2.3-2.6-5.7 18.2-5.9-2.6-2.2 13-2.1 19z" fill="#2355a4"/>
<path d="M1013 578.2l5.8 22.9 5.9 2.1 2.1 1.2 2.4-23.5-5.7-15.8-6.1 11.5-2.5 29.1z" fill="#289cc1"/>
<path d="M766.1 521.6l5.8 1.1 5.7-9.8 2.4 5.6 2.2-11.1 2.3-3.4-5.8-1-5.7 14-2.1 19.4-2.4-8z" fill="#2070b0"/>
<path d="M1215.9 915.5l5.8 8 6.9-26.8 1.4 19.5 2.6-18.5 .7 42.9-5.2-28.6-5.5-20.6-2.3 11.4-2.5 15.7z" fill="#f7fcc6"/>
<path d="M1196.8 946.2l6.1 .9 7-35.1 1.7 10.8 2.8-27 1.5 19.7-6.5 16.4-5.7-12.4-1.5-19.8-2.6 18.7z" fill="#f9fdcb"/>
<path d="M1125.3 899.8l6.1-7.1 5.7 18 1.9 8.5 2.2-7.7 3-39.4-7 45.3-5.2-38-3 43.6-.9-59.3z" fill="#f4fbc0"/>
<path d="M1018.1 609.8l5.9 5.8 5.8 12.2 2 19.1 2.4-25.3 1.7 37.8-5.4-48.1-5.8-8.1-2.3 8.3-1.8-27.4z" fill="#35aac3"/>
<path d="M1061.7 781.6l5.8 15.2 5.8 9.1 2.2-2.1 2.1 1.3 2 3.6-5.7-12.2-5.9-5-2-8.5-1.8-21.8z" fill="#c4e8b4"/>
<path d="M1066.5 836.2l6-4.5 6.2-9.4 1.5 38.4 2.3-14.3 2.4-17.9-6.2 14-5.4-36.6-1.9-10.9-2.5 23.4z" fill="#d7efb3"/>
<path d="M846.8 473.5l5.9-7.7 5.8-16.8 2.2-20.8 2.2-2.8 2.4 31.2-5.8 3.8-6-29.8-2.2 22.7-2.2 7.8z" fill="#24479d"/>
<path d="M865.3 456.6l5.8-29.7 5.9 2 2.2-24.7 2.3 36.2 2.3 9.1-5.9 5.5-5.8-7-2.3-11-2.3-2z" fill="#24409a"/>
<path d="M1167.4 912.1l6.4-14.4 6.1-.1 1.6 14.6 2 3.2 2.5-17-6.6 22.6-6.4 16.4-1.4-28.7-2.1 .9z" fill="#f6fbc5"/>
<path d="M1001.4 552.5l5.8 11.1 5.8 14.6 1.9 27.5 2.5-29.1-5.8-14-5.8-12.1-2.2-1.2z" fill="#1d90c0"/>
<path d="M1095.3 882.4l6.2-13.3 5.4 36.4 2.3-11 2.2-7.4 1.7 20.8-5.5-23.3-6.3 14-1.7-20.5-2.3 9.3z" fill="#f1faba"/>
<path d="M1039.8 705.4l6.1-7.2 5.7 19.4 2.2-9 2.2-3.9 1.9 19.8-5.4-44.4-5.8-7.8-2.5 24.4-2.2 5.5z" fill="#6fc7bd"/>
<path d="M690.8 642.1l5-44 6 11.1 2-23.7 2.6 13.3 2-20-5.2 31.3-5.4 25.4-2.5-11.1-2.7-17.4z" fill="#2fa4c2"/>
<path d="M1083.8 852.1l5.1 53.1 6.4-22.8 2 5 2.3-9.3 1.7 20.5-5.6-20.4-5.6-19.9-2-7.9-2.3 8.2z" fill="#edf8b2"/>
<path d="M1106.9 905.5l5.9 2 5.8 10.5 2.2-2.8 2.6-27.8 1.9 12.4-5.9-7.1-6.3 15.2-1.7-20.8-2.2 7.4z" fill="#f4fbc0"/>
<path d="M1137.1 910.7l6.2-8.2 5.5 24 2.9-38.4 1.8 12.4 2 6.4-6-1.3-5.3-33.5-3 39.4-2.2 7.7z" fill="#f4fbc1"/>
<path d="M828.2 451.6l5.9 3 5.7-20.8 2.4 26.9 2.2-17.6 2.4 30.4-5.9-21.2-5.8 1.9-2.3 7.6-2.3-6.6z" fill="#24489d"/>
<path d="M665.6 674.2l5-37.6 6 10.2 2-21 2.5 7.7 1.8-37.1-5.4 20.9-4.7 59.5-3.2-42.8-2 19.2z" fill="#3eb3c4"/>
<path d="M1179.9 897.6l5.1 35 6.6-20.6 1.3 29.1 2.5-18.1 1.4 23.2-5.7-10.5-5.1-37.3-2.5 17-2-3.2z" fill="#f8fcca"/>
<path d="M715.5 577.8l5.6-14.6 5.7-5.4 2.5 10.5 2.2-12.8 2.5 13.4-5.8-1.4-5.1 44.2-2.8-30.5-2.5-11.5z" fill="#1d91c0"/>
<path d="M1118.6 918l5.6 24.4 6.4-20.2 1.9 7.3 2.6-23.3 2 4.5-5.7-18-6.1 7.1-1.9-12.4-2.6 27.8z" fill="#f6fbc5"/>
<path d="M784.5 504l6 19.7 5.6-22.5 2.2-16.4 2.3-8.5 2.3-2.6-5.7 19.2-5.9-4.4-2.1 22.2-2.4-17z" fill="#225ea8"/>
<path d="M1006.6 570.5l5.5 42.5 6-3.2 2.5-25.7 1.8 27.4 2.3-8.3-5.9-2.1-5.8-22.9-2.2 9-2.3 6.9z" fill="#299dc1"/>
<path d="M1023.2 640.6l5.8 11.7 5.9 5.9 2 9.5 2.2 2.8 2.1-1-5.5-37.8-5.9-3.9-2-16.2-2.1 2.5z" fill="#3fb4c4"/>
<path d="M883.8 449.5l5.8-37.1 5.9 7.8 2.2 14.2 2.3-12.1-5.9 4.1-5.9-29.4-2.2 30.7z" fill="#253595"/>
<path d="M759.5 556.1l5.5-25.5 5.5-29.2 2.3-7 2.7 41.1 2.1-22.6-5.7 9.8-5.8-1.1-2.3 1.9-2 30.4z" fill="#2072b1"/>
<path d="M1253 890.1l6.9-25.2 5.9 7.7 2.7-21 1.3 20 2.1-2-6.9 24.4-5.7-11.7-2.1 4-2.2 5.8z" fill="#edf8b2"/>
<path d="M1028.2 674l5.9 12.1 5.7 19.3 2.2-3.2 2.2-5.5 2.5-24.4-6.1 11-5.7-25.1-2.1-6.3-2.2 3.8z" fill="#59bfc0"/>
<path d="M734 568.9l6 11.2 5.4-29.9 2-27.8 2.5 10.2 2.2-10.5-5.3 41.3-5.6 11.3-2.4-4.1-2.2 14.7z" fill="#1e86bb"/>
<path d="M989.6 548.1l6-14 5.8 18.4 2.2-3.2 2.2 1.2-5.8-13.1-5.9-15-2.4 37.2z" fill="#1f7eb7"/>
<path d="M1228.6 896.7l5 36.8 7.1-35.8 2.5-13.7 1.2 25 2.4-13.3-6.8 25.7-6.7 19.2-.7-42.9-2.6 18.5z" fill="#f5fbc2"/>
<path d="M1050.3 740.2l5.5 36.2 5.9 5.2 2.5-20.4 1.8 21.8 2 8.5-5.6-25.9-5.7-16.5-2.1-4.6-2.2 4.4z" fill="#a5dcb7"/>
<path d="M1045 726.3l6 .5 5.7 22.3 2.4-21.8 2.1 3 1.9 17.5-5.8-15.6-5.7-14.6-2-12.7-2-8.1z" fill="#80cebb"/>
<path d="M1148.8 926.5l5.9 6.1 6.3-11.4 2.4-15.3 2.3-7.8 1.7 14-5.6-19.9-6.3 14.7-2-6.4-1.8-12.4z" fill="#f4fbc1"/>
<path d="M1071.9 846.3l5.8 9 6.1-3.2 2 6.5 2.3-8.2 2 7.9-6.2 7.3-5.2-43.3-2.5 20-2.2 7.9z" fill="#e0f3b2"/>
<path d="M1055.3 784.2l5.9 2.8 5.3 49.2 2.4-17.8 2.5-23.4 1.9 10.9-5.8-9.1-5.8-15.2-2.7 39.2-1.4-53.3z" fill="#c4e8b4"/>
<path d="M1191.6 912l6 3.3 5.8 10.5 2.1-3.9 2.5-16.4 1.9 6.5-7 35.1-6.1-.9-1.4-23.2-2.5 18.1z" fill="#f8fcca"/>
<path d="M657.8 643l6.4 33.7 5.3-23.8 1.6-42.2 3 30.1 2.5 6-6-10.2-5 37.6-2.4-1.2-2.5-5.7z" fill="#44b7c4"/>
<path d="M977.9 523.5l5.9 4.3 5.8 20.3 2.1 11.5 2.4-37.2-5.8-13.4-6 14-2-25.7z" fill="#2072b1"/>
<path d="M1209.9 912l5.8 8.8 5.9 8.6 2.7-23.5 1.4 19.2 2.9-28.4-6.9 26.8-5.8-8-1.5-19.7-2.8 27z" fill="#f6fbc5"/>
<path d="M1130.6 922.2l6.1-2.5 6 1.3 2.1-1.2 2.3-10.6 1.7 17.3-5.5-24-6.2 8.2-2-4.5-2.6 23.3z" fill="#f7fcc6"/>
<path d="M802.9 473.7l5.8 5.1 5.8-7.6 2.1-34.3 2.5 31.4 2.3-2.4-5.7 23.9-5.7 10.9-2.3 7.3-2.6-44.2z" fill="#2351a2"/>
<path d="M777.6 512.9l5.7-12.6 6 13.6 2.2-13 2.2-19.6 2.4 19.9-5.6 22.5-6-19.7-2.3 3.4-2.2 11.1z" fill="#2163aa"/>
<path d="M1271.9 869.6l6.2-4.3 6.4-7.3 2.3-7.9 2.3-9.1-6.2 1.9-7.9 53-1.3-21.7z" fill="#e5f5b2"/>
<path d="M839.8 433.8l5.9 8.8 5.9-7.4 2.3 6.6 2.3 23.3 2.3-16.1-5.8 16.8-5.9 7.7-2.4-30.4-2.2 17.6z" fill="#24439b"/>
<path d="M1060.1 836.6l6.4-28.6 5.4 38.3 2.1 3.9 2.2-7.9 2.5-20-6.2 9.4-6 4.5-1.8-21.2-2.1-6.8z" fill="#d4eeb3"/>
<path d="M994.8 553.8l6 .2 5.8 16.5 1.9 23.6 2.3-6.9 2.2-9-5.8-14.6-5.8-11.1-2.2 5.1-2.2-2.8z" fill="#1e8bbd"/>
<path d="M877 428.9l5.9 7.4 5.8 .3 2.3-4.3 2.3 11 2.2-23.1-5.9-7.8-5.8 37.1-2.3-9.1-2.3-36.2z" fill="#253896"/>
<path d="M858.5 449l5.8-26.8 5.9 32.7 2.3-.3 2.2-12.5 2.3-13.2-5.9-2-5.8 29.7-2.4-31.2-2.2 2.8z" fill="#243c98"/>
<path d="M1011.7 601.7l5.7 19.5 5.8 19.4 2.5-26.5 2.1-2.5 2 16.2-5.8-12.2-5.9-5.8-2.2 3.3-2-15.1z" fill="#2fa4c2"/>
<path d="M1100.5 907.4l6.3-13.3 5.7 16 2.1-.7 2.1 .7 1.9 7.9-5.8-10.5-5.9-2-1.9-12.6-2.1-2.1z" fill="#f3fabd"/>
<path d="M1033.6 682.3l5.6 30 5.8 14 2.6-29.5 2 8.1 2 12.7-5.7-19.4-6.1 7.2-1.8-32.7-2.5 29.7z" fill="#69c5be"/>
<path d="M821.4 465.9l5.8-1.3 5.9-3.3 2.3-2.1 2.2-13.3 2.2-12.1-5.7 20.8-5.9-3-2.3 2.6-2.1 26.3z" fill="#24479d"/>
<path d="M1112.5 910.1l6.1-5.8 5.7 17.4 2.1 2.1 2.3-9.1 1.9 7.5-6.4 20.2-5.6-24.4-1.9-7.9-2.1-.7z" fill="#f6fbc5"/>
<path d="M895.5 420.2l5.9-8 5.9 27.2 2.2-10.7 2.3-22.6-5.9 2.3-5.9 13.9-2.3 12.1z" fill="#243392"/>
<path d="M1077.2 864.8l5.7 16.6 6.4-18.4 1.4 37 2.3-10.6 2.3-7-6.4 22.8-5.1-53.1-2.5 20.5-1.8-17.8z" fill="#eaf7b1"/>
<path d="M708.4 578.8l6 14.8 5.2-40.2 2.4 2.9 2.8 24 2-22.5-5.7 5.4-5.6 14.6-2.1 14-2.2 12z" fill="#1d90c0"/>
<path d="M1161 921.2l6 1 6.5-16.3 1.2 32.7 2.8-27.9 2.4-13.1-6.1 .1-6.4 14.4-1.7-14-2.3 7.8z" fill="#f4fbc1"/>
<path d="M1246.8 895.7l6 3 7.4-39.1 1.2 26 2.1-5 2.3-8-5.9-7.7-6.9 25.2-2.1 5.4-2.5 14.8z" fill="#eef8b3"/>
<path d="M1016.8 632l5.6 28.8 5.8 13.2 2.4-18.3 2.2-3.8 2.1 6.3-5.9-5.9-5.8-11.7-2-19.3-2.4 28.5z" fill="#3fb4c4"/>
<path d="M1089.3 863l5.5 26.1 5.7 18.3 2.4-16.6 2.1 2.1 1.9 12.6-5.4-36.4-6.2 13.3-2.3 7-2.3 10.6z" fill="#eff9b5"/>
<path d="M682.9 596.4l6 14 5.7-.9 2.2-12.9 2.2-10 2.8 22.6-6-11.1-5 44-2.8-23.6-2.5-7z" fill="#2ca1c2"/>
<path d="M983.1 536.7l5.8 16.8 5.9 .3 2.2 1 2.2 2.8 2.2-5.1-5.8-18.4-6 14-2.1-15.4-2.4 25.7z" fill="#1f7eb7"/>
<path d="M1142.7 921l6 2.8 6.3-11.8 2.3-12.7 1.7 19.2 2 2.7-6.3 11.4-5.9-6.1-1.7-17.3-2.3 10.6z" fill="#f6fbc5"/>
<path d="M1043.6 758.5l5.7 27.1 6-1.4 2.3-16.7 1.4 53.3 2.7-39.2-5.9-5.2-5.5-36.2-2.4 22.9-1.9-18.8z" fill="#a7dcb7"/>
<path d="M1173.5 905.9l5.4 26.4 5.9 3.7 2.1-.5 2.7-23.8 2 .3-6.6 20.6-5.1-35-2.4 13.1-2.8 27.9z" fill="#f7fcc6"/>
<path d="M966.3 485.9l5.7 24.9 5.9 12.7 2.4-26.2 2 25.7-5.7-36.1-5.9-5.1-2.2 1.8z" fill="#225da8"/>
<path d="M999.9 586.5l6-6.7 5.8 21.9 2.2-3.7 2 15.1 2.2-3.3-6 3.2-5.5-42.5-2.5 31.1-2-13.4z" fill="#259ac1"/>
<path d="M752.1 522.1l5.8 2.7 5.7-12.1 2.5 12 2.3-4.9 2.1-18.4-5.5 29.2-5.5 25.5-2.5-18.3-2.2 17.4z" fill="#2070b0"/>
<path d="M726.8 557.8l5.7-6 5.8-1.7 2.4 6.1 2.5 4.5 2.2-10.5-5.4 29.9-6-11.2-2.5-13.4-2.2 12.8z" fill="#1e85ba"/>
<path d="M1021.9 658.4l5.6 34 6.1-10.1 1.9 20.1 2.5-29.7 1.8 32.7-5.7-19.3-5.9-12.1-2.1-1.7-2-14.3z" fill="#55bec1"/>
<path d="M1038.8 704.1l5.7 21.1 5.8 15 2.1 8.7 2.2-4.4 2.1 4.6-5.7-22.3-6-.5-1.8-26.9-2.6 35.9z" fill="#7ecdbb"/>
<path d="M971.4 503.3l5.8 22.7 5.9 10.7 2 21.7 2.4-25.7 2.1 15.4-5.8-20.3-5.9-4.3-2-25.4-2.3 15.6z" fill="#206eb0"/>
<path d="M1065.6 838l5.7 22.1 5.9 4.7 2.3-10 1.8 17.8 2.5-20.5-6.1 3.2-5.8-9-2-9.1-2.4 19.9z" fill="#dff2b2"/>
<path d="M1203.4 925.8l6.7-22.9 5.6 17.7 1.5 18.5 2.7-23.7 1.7 14-5.9-8.6-5.8-8.8-1.9-6.5-2.5 16.4z" fill="#f5fbc4"/>
<path d="M1221.6 929.4l6.8-26.8 6.2-2.8 1.7 12.1 2.6-19.5 1.8 5.3-7.1 35.8-5-36.8-2.9 28.4-1.4-19.2z" fill="#f3fabf"/>
<path d="M676.6 646.8l5.3-23.8 5.8-.9 2.5 8.2 2.3-4.6 2.1-16.2-5.7 .9-6-14-1.8 37.1-2.5-7.7z" fill="#31a5c2"/>
<path d="M870.2 454.9l5.9-5.4 5.9-9.4 2.2-15.7 2.3 9.7 2.2 2.5-5.8-.3-5.9-7.4-2.3 13.2-2.2 12.5z" fill="#253b97"/>
<path d="M1048.8 788.7l5.9 2.6 5.4 45.3 2.5-28.4 2.1 6.8 1.8 21.2-5.3-49.2-5.9-2.8-2.3 10.9-1.9-20.5z" fill="#c2e7b4"/>
<path d="M907.3 439.4l5.9-15.5 5.9-3.3 2.3-5.3 2.2 11.1-5.9 2.3-5.9-22.6-2.3 22.6z" fill="#233390"/>
<path d="M796.1 501.2l5.7-17.2 5.8-18.7 2.3 5.2 2.3 .2 2.3 .5-5.8 7.6-5.8-5.1-2.3 2.6-2.3 8.5z" fill="#2350a1"/>
<path d="M1005.2 599.7l5.7 18.7 5.9 13.6 2 17.8 2.4-28.5 2 19.3-5.8-19.4-5.7-19.5-2.6 38.1-2-15.1z" fill="#32a6c2"/>
<path d="M1124.3 921.7l6.1-2.9 6.4-13.8 1.6 19.5 2.4-13.3 1.9 9.8-6-1.3-6.1 2.5-1.9-7.5-2.3 9.1z" fill="#f5fbc2"/>
<path d="M1265.8 872.6l6.5-12.3 5.6 14.9 2.6-16.2 2.3-10.8 1.7 9.8-6.4 7.3-6.2 4.3-2.1 2-1.3-20z" fill="#e2f4b2"/>
<path d="M650.9 659.9l5.7-4.5 5.4-15.1 2.4-2.9 2.4-.3 2.7 15.8-5.3 23.8-6.4-33.7-1.9 26.1-2.8-17.4z" fill="#3fb4c4"/>
<path d="M888.7 436.6l5.9-15.8 6-10.4 2.2 11.7 2.2-1.2 2.3 18.5-5.9-27.2-5.9 8-2.2 23.1-2.3-11z" fill="#233390"/>
<path d="M1184.8 936l6.1 1.1 6.2-6.6 2.1 .5 2.9-32.6 1.3 27.4-5.8-10.5-6-3.3-2-.3-2.7 23.8z" fill="#f6fbc5"/>
<path d="M814.5 471.2l5.9 6.7 5.8-7.7 2.3-11 2.3 5.9 2.3-3.8-5.9 3.3-5.8 1.3-2.3 2.4-2.5-31.4z" fill="#24479d"/>
<path d="M988 581.4l6.1-15.8 5.8 20.9 2.2 1.7 2 13.4 2.5-31.1-5.8-16.5-6-.2-2-17.3-2.4 28.4z" fill="#1e8abd"/>
<path d="M770.5 501.4l5.7-14.2 6.1 23.3 2.1-23.1 2.5 20.4 2.4 6.1-6-13.6-5.7 12.6-2.1 22.6-2.7-41.1z" fill="#225da8"/>
<path d="M701.8 609.2l5.3-31.6 5.5-19.7 2.5 13 2.6 13.8 1.9-31.3-5.2 40.2-6-14.8-2 20-2.6-13.3z" fill="#1d90c0"/>
<path d="M919.1 420.6l5.9 .9 5.9 15.2 2.3-10.2 2.1 22.3-5.9-5.2-5.8-17.2-2.2-11.1z" fill="#253494"/>
<path d="M1053.8 828.4l6-4.2 5.8 13.8 1.9 19.1 2.4-19.9 2 9.1-5.4-38.3-6.4 28.6-1.9-15.8-2.1-4.1z" fill="#d1edb3"/>
<path d="M851.6 435.2l5.9 16.9 5.8-19 2.4 18.2 2.2-39.9 2.3 43.5-5.9-32.7-5.8 26.8-2.3 16.1-2.3-23.3z" fill="#253b97"/>
<path d="M1240.7 897.7l6.4-9.8 5.9 7.1 2.3-7.8 2.1-3.5 2.8-24.1-7.4 39.1-6-3-2.4 13.3-1.2-25z" fill="#edf8b2"/>
<path d="M1155 912l6-.5 6 5.6 2 3.9 2.1-3.4 2.4-11.7-6.5 16.3-6-1-2-2.7-1.7-19.2z" fill="#f3fabf"/>
<path d="M833.1 461.3l5.8-16.3 5.9 7 2.3-2.7 2.3 14.6 2.2-28.7-5.9 7.4-5.9-8.8-2.2 12.1-2.2 13.3z" fill="#243d98"/>
<path d="M1215.7 920.6l6 3.2 6.1-.1 2 .4 1.9 6 2.9-30.3-6.2 2.8-6.8 26.8-1.7-14-2.7 23.7z" fill="#f5fbc2"/>
<path d="M1070.5 881.3l6.4-19.4 5 62.3 2.8-41.7 2.4-18.3 2.2-1.2-6.4 18.4-5.7-16.6-2.4 17.2-2-10z" fill="#e8f6b1"/>
<path d="M1167 917.1l5.3 31.6 6.8-28.3 1.8 8.6 2 3.8 1.9 3.2-5.9-3.7-5.4-26.4-2.4 11.7-2.1 3.4z" fill="#f6fbc5"/>
<path d="M1081.9 924.2l6.5-30.4 5.8 10.9 2.7-29.5 1.6 27.9 2 4.3-5.7-18.3-5.5-26.1-2.2 1.2-2.4 18.3z" fill="#edf8b2"/>
<path d="M959.6 492.7l6-2.9 5.8 13.5 2.2 10.4 2.3-15.6 2 25.4-5.9-12.7-5.7-24.9-2.2-12.6-2.3 15.3z" fill="#2259a6"/>
<path d="M789.3 513.9l5.6-22.1 5.8-11.8 2.3 .6 2.4 4.2 2.2-19.5-5.8 18.7-5.7 17.2-2.4-19.9-2.2 19.6z" fill="#2352a3"/>
<path d="M993.2 598.8l6-2.8 6 3.7 1.9 25 2 15.1 2.6-38.1-5.8-21.9-6 6.7-2.2 .6-2-16.7z" fill="#2397c1"/>
<path d="M1010.2 640.7l6-10.7 5.7 28.4 2.2-.4 2 14.3 2.1 1.7-5.8-13.2-5.6-28.8-2.3 8-2-15z" fill="#3cb1c3"/>
<path d="M1106.1 915.5l6-.3 5.7 18.7 2.1-2.9 2.5-15.5 1.9 6.2-5.7-17.4-6.1 5.8-2.1-.5-2-4.8z" fill="#f3fabf"/>
<path d="M900.6 410.4l5.8 29.5 6-19.1 2.2 34.1 2.3-22.5 2.2-11.8-5.9 3.3-5.9 15.5-2.3-18.5-2.2 1.2z" fill="#233390"/>
<path d="M976.6 525.2l5.8 21.2 5.6 35 2.4-16.5 2.4-28.4 2 17.3-5.9-.3-5.8-16.8-2.2-2-2.1-7.8z" fill="#2076b3"/>
<path d="M1094.2 904.7l6.4-21.3 5.5 32.1 2.3-10.7 2 4.8 2.1 .5-5.7-16-6.3 13.3-2-4.3-1.6-27.9z" fill="#f0f9b7"/>
<path d="M1037.2 754.2l5.9 9.9 5.7 24.6 2.3-14.1 1.9 20.5 2.3-10.9-6 1.4-5.7-27.1-2.2 5.7-2-13z" fill="#a0dab8"/>
<path d="M1032.1 724.7l5.8 15.8 5.7 18 2.4-14.2 1.9 18.8 2.4-22.9-5.8-15-5.7-21.1-2.4 17.5-2.2 4.1z" fill="#7cccbb"/>
<path d="M930.9 436.7l6-13.1 5.9 9.1 2.3-24.3 2 46.6-5.8-20.4-6 14.2-2.1-22.3z" fill="#253494"/>
<path d="M954.7 432.8l5.7 45.1 5.9 8 2.2-2.3 2.2-1.8-5.7-31.3-5.8-28.5-2.4 25.2z" fill="#24439b"/>
<path d="M1059.2 835.5l5.9 8.8 5.4 37 2.3-9.3 2 10 2.4-17.2-5.9-4.7-5.7-22.1-2.3 10.3-2.2 2z" fill="#dcf1b2"/>
<path d="M1027.2 677.8l5.9 3.3 5.7 23 1.8 31.2 2.6-35.9 1.8 26.9-5.8-14-5.6-30-2.1-4-1.9-19.5z" fill="#5dc0c0"/>
<path d="M1136.8 905l5.8 10.5 6.4-16.2 1.5 28.4 2.4-15.3 2.1-.4-6.3 11.8-6-2.8-1.9-9.8-2.4 13.3z" fill="#f3fabd"/>
<path d="M1197.1 930.5l5.9 7 6.5-13.4 1.7 13 2.7-26.2 1.8 9.7-5.6-17.7-6.7 22.9-1.3-27.4-2.9 32.6z" fill="#f4fbc1"/>
<path d="M1179.1 920.4l5.9 7.3 6.4-12.4 1.7 12.6 1.3 29.5 2.7-26.9-6.2 6.6-6.1-1.1-1.9-3.2-2-3.8z" fill="#f7fcc6"/>
<path d="M1260.2 859.6l5.3 24.8 6.8-19.5 2.6-17.7 1.9 2.9 1.1 25.1-5.6-14.9-6.5 12.3-2.3 8-2.1 5z" fill="#e1f3b2"/>
<path d="M807.6 465.3l5.9 18.6 5.8-8.9 2.3-10.2 2.3-3.4 2.3 8.8-5.8 7.7-5.9-6.7-2.3-.5-2.3-.2z" fill="#24489d"/>
<path d="M863.3 433.1l6 17 5.8-14.4 2.3 15.7 2.3-17.4 2.3 6.1-5.9 9.4-5.9 5.4-2.3-43.5-2.2 39.9z" fill="#253896"/>
<path d="M669.5 652.9l5.3-24.8 5.2-34.3 2.6 15.1 2.4-4.5 2.7 17.7-5.8 .9-5.3 23.8-2.5-6-3-30.1z" fill="#2ea3c2"/>
<path d="M719.6 553.4l6 8.8 6 14.7 1.8-37.4 2.4-2.8 2.5 13.4-5.8 1.7-5.7 6-2 22.5-2.8-24z" fill="#1f7db6"/>
<path d="M745.4 550.2l5.4-30.8 5.9 4.4 2.3-6.7 2.2-11.8 2.4 7.4-5.7 12.1-5.8-2.7-2.2 10.5-2.5-10.2z" fill="#2166ac"/>
<path d="M981.7 551.1l5.6 39 5.9 8.7 2.5-28.4 2 16.7 2.2-.6-5.8-20.9-6.1 15.8-2-15.2-2.2-1.1z" fill="#1e8abd"/>
<path d="M694.6 609.5l6 10.4 5.2-36 2.3-4.1 2.2-11.5 2.3-10.4-5.5 19.7-5.3 31.6-2.8-22.6-2.2 10z" fill="#1d91c0"/>
<path d="M1117.8 933.9l6.3-13.6 5.7 15 2.4-13.4 2.3-10.8 2.3-6.1-6.4 13.8-6.1 2.9-1.9-6.2-2.5 15.5z" fill="#f4fbc0"/>
<path d="M1042.3 789.1l6.1-8.8 5.4 48.1 2.3-11.7 2.1 4.1 1.9 15.8-5.4-45.3-5.9-2.6-2-14.2-2.3 8z" fill="#b9e4b5"/>
<path d="M1234.6 899.8l6 3.2 6.9-23.8 1.4 19.6 1.6 11.7 2.5-15.5-5.9-7.1-6.4 9.8-1.8-5.3-2.6 19.5z" fill="#eef8b3"/>
<path d="M912.4 420.8l5.9 13.4 5.9-6.9 2.3 3.4 2.2 4.3 2.2 1.7-5.9-15.2-5.9-.9-2.2 11.8-2.3 22.5z" fill="#233390"/>
<path d="M882 440.1l5.9-12.1 5.9-7.7 2.2 19.8 2.3-20.7 2.3-9-6 10.4-5.9 15.8-2.2-2.5-2.3-9.7z" fill="#21318d"/>
<path d="M1015.1 682.7l6.2-18.7 5.9 13.8 2.4-19 1.9 19.5 2.1 4-6.1 10.1-5.6-34-2.4 24-1.8-33.1z" fill="#48b9c3"/>
<path d="M1284.5 858l7.3-34.7 6.6-11.4 1.8 5.7 2.1-3.9-6.8 19.7-6.4 7.6-2.3 9.1z" fill="#ceecb3"/>
<path d="M844.8 452l5.9-2.6 5.8-18.1 2.3 7.1 2.3-7.7 2.2 2.4-5.8 19-5.9-16.9-2.2 28.7-2.3-14.6z" fill="#253896"/>
<path d="M942.8 432.7l5.9 10.3 6-10.2 2.1 14.4 2.4-25.2-6.1 18.8-6 14.2-2-46.6z" fill="#243392"/>
<path d="M964.7 514.6l6-3 5.9 13.6 2.2 1.7 2.1 7.8 2.2 2-5.9-10.7-5.8-22.7-2.1-9.2-2.4 17.9z" fill="#2262aa"/>
<path d="M763.6 512.7l5.8-2.6 5.7-22.1 2.3 1.2 2.5 17.7 2.4 3.6-6.1-23.3-5.7 14.2-2.1 18.4-2.3 4.9z" fill="#2259a6"/>
<path d="M826.2 470.2l5.8-11.4 5.8-21.4 2.2-17.9 2.5 25.4 2.3 7.1-5.9-7-5.8 16.3-2.3 3.8-2.3-5.9z" fill="#243c98"/>
<path d="M1076.3 872.1l5.5 30.8 6.2-8.2 2.1 1.8 1.9 11.4 2.2-3.2-5.8-10.9-6.5 30.4-1.6-34.3-1.9-15.3z" fill="#edf8b2"/>
<path d="M1047.5 811.1l5.6 30.3 6.1-5.9 1.9 14.8 2.2-2 2.3-10.3-5.8-13.8-6 4.2-1.9-19.5-2.5 20.6z" fill="#ceecb3"/>
<path d="M998.4 619.2l6.1-8.3 5.7 29.8 2.3-15.7 2 15 2.3-8-5.9-13.6-5.7-18.7-2.1-14.1-2.4 19.8z" fill="#2a9ec1"/>
<path d="M1160.6 922.4l5.7 15.6 5.9 8.6 2.4-11.8 1.9 3.4 2.6-17.8-6.8 28.3-5.3-31.6-1.8-12.6-2.6 20.8z" fill="#f5fbc4"/>
<path d="M1020.2 717.2l5.8 16.6 6.1-9.1 2.1 1 2.2-4.1 2.4-17.5-5.7-23-5.9-3.3-2.2-2.1-2.3 14z" fill="#61c2bf"/>
<path d="M1064.1 884.7l6-3.5 6.2-9.1 2.1 2.5 1.9 15.3 1.6 34.3-5-62.3-6.4 19.4-1.7-24.1-2.6 25.5z" fill="#e6f5b2"/>
<path d="M1149 899.3l5.6 19.6 6 3.5 2 2.9 2.6-20.8 1.8 12.6-6-5.6-6 .5-2.1 .4-2.4 15.3z" fill="#f1fabb"/>
<path d="M687.7 622.1l5.2-31.3 5.8-.5 2.3-9.6 2.1-15 2.7 18.2-5.2 36-6-10.4-2.1 16.2-2.3 4.6z" fill="#2296c1"/>
<path d="M948 428.3l5.8 34.2 5.8 30.2 2.2-4.1 2.3-15.3 2.2 12.6-5.9-8-5.7-45.1-2.2-1.8-2.4 27.5z" fill="#24419a"/>
<path d="M1025.8 706.4l5.4 46.9 6 .9 2.2-3 2 13 2.2-5.7-5.7-18-5.8-15.8-2.4 21.6-1.7-41.5z" fill="#7cccbb"/>
<path d="M969.8 539.5l5.9 6.9 6 4.7 2.1 14 2.2 1.1 2 15.2-5.6-35-5.8-21.2-2.3 14-2.3 8.9z" fill="#2076b3"/>
<path d="M782.3 510.5l5.6-21.3 5.8-13.5 2.3 1.4 2.4-1.1 2.3 4-5.8 11.8-5.6 22.1-2.4-6.1-2.5-20.4z" fill="#2351a2"/>
<path d="M643.1 632.9l5.5-11.6 5.6-8.5 3.2 37.5 1.9-25.3 2.7 15.3-5.4 15.1-5.7 4.5-2 22.2-2.9-24.5z" fill="#36abc3"/>
<path d="M1191.4 915.3l5.9 7.1 5.8 9.8 2 3 2.3-7.9 2.1-3.2-6.5 13.4-5.9-7-2.7 26.9-1.3-29.5z" fill="#f5fbc4"/>
<path d="M1088 894.7l5.7 21.3 6.3-15.1 1.7 21.4 2.3-9 2.1 2.2-5.5-32.1-6.4 21.3-2.2 3.2-1.9-11.4z" fill="#eff9b6"/>
<path d="M1100 900.9l5.8 11.2 5.8 14.1 2.2-6.2 1.9 11 2.1 2.9-5.7-18.7-6 .3-2.1-2.2-2.3 9z" fill="#f3fabd"/>
<path d="M1003.7 630.2l5.6 43 5.8 9.5 2.6-33.4 1.8 33.1 2.4-24-5.7-28.4-6 10.7-2-23.9-2.4 19.7z" fill="#39adc3"/>
<path d="M924.2 427.3l6 3.1 5.9 8.7 2.2 4 2.3-11.7 2.2 1.3-5.9-9.1-6 13.1-2.2-1.7-2.2-4.3z" fill="#22328f"/>
<path d="M712.6 557.9l6.1 22.3 5.3-32.9 2.6 14.8 2.2-11.6 2.8 26.4-6-14.7-6-8.8-1.9 31.3-2.6-13.8z" fill="#1f7eb7"/>
<path d="M952.9 496.1l5.9 6.9 5.9 11.6 2.2-2.6 2.4-17.9 2.1 9.2-5.8-13.5-6 2.9-2-34.4-2.5 49.4z" fill="#2354a3"/>
<path d="M1052.4 861.3l5.9 6.5 5.8 16.9 2.1-2 2.6-25.5 1.7 24.1-5.4-37-5.9-8.8-2.5 23.4-2-9.7z" fill="#dcf1b2"/>
<path d="M1227.8 923.7l6.4-9.7 6.4-9.2 2.2-6.1 1.8 7.1 2.9-26.6-6.9 23.8-6-3.2-2.9 30.3-1.9-6z" fill="#f0f9b7"/>
<path d="M738.3 550.1l5.3-40.1 6.2 27.7 1.9-38.5 2.3-6.7 2.7 31.3-5.9-4.4-5.4 30.8-2.2 10.5-2.5-4.5z" fill="#2168ad"/>
<path d="M893.8 420.3l5.9 23.2 5.9-15.2 2.3 .4 2.2-5.9 2.3-2-6 19.1-5.8-29.5-2.3 9-2.3 20.7z" fill="#21308b"/>
<path d="M1030.3 792.3l6-3.4 6 .2 2.2-6.6 2.3-8 2 14.2-5.7-24.6-5.9-9.9-2-13.4-2.4 16.3z" fill="#99d7b8"/>
<path d="M986.8 581.1l5.7 31.5 5.9 6.6 2.3-13.8 2.4-19.8 2.1 14.1-6-3.7-6 2.8-2.2 .7-2-26.1z" fill="#2094c0"/>
<path d="M1111.6 926.2l5.9 6.2 6.1-1.4 2.3-8.9 2.1 1.2 1.8 12-5.7-15-6.3 13.6-2.1-2.9-1.9-11z" fill="#f4fbc0"/>
<path d="M875.1 435.7l5.9-13 6 19.2 2.2-6.2 2.3 3 2.3-18.4-5.9 7.7-5.9 12.1-2.3-6.1-2.3 17.4z" fill="#233390"/>
<path d="M1277.9 875.2l7.7-46 6 5.7 2.4-11.3 2.4-11.3 2-.4-6.6 11.4-7.3 34.7-1.7-9.8-2.3 10.8z" fill="#cfecb3"/>
<path d="M1253 895l6.7-18.2 7.3-35.7 1.3 24 2.5-15.7 1.5 15.5-6.8 19.5-5.3-24.8-2.8 24.1-2.1 3.5z" fill="#e0f3b2"/>
<path d="M800.7 480l5.8-4.5 5.9-8.4 2.3 11.2 2.1-38.3 2.5 35-5.8 8.9-5.9-18.6-2.2 19.5-2.4-4.2z" fill="#24459c"/>
<path d="M1209.5 924.1l6.2-4.2 7-31.3 1.8 9.5 2.2-7.1 1.1 32.7-6.1 .1-6-3.2-1.8-9.7-2.7 26.2z" fill="#f0f9b8"/>
<path d="M1129.8 935.3l6.5-17.6 6-.6 2 5.5 2.4-14.1 2.3-9.2-6.4 16.2-5.8-10.5-2.3 6.1-2.3 10.8z" fill="#f1faba"/>
<path d="M856.5 431.3l6 33 5.8-34.8 2.3 25.7 2.3-5.5 2.2-14-5.8 14.4-6-17-2.2-2.4-2.3 7.7z" fill="#253494"/>
<path d="M662 640.3l5.4-21.2 5.8 .7 2.2-12.4 2.2-8.5 2.4-5.1-5.2 34.3-5.3 24.8-2.7-15.8-2.4 .3z" fill="#2b9fc2"/>
<path d="M1172.2 946.6l6.5-17 6.2-3.1 1.7 14.7 2.5-17.5 2.3-8.4-6.4 12.4-5.9-7.3-2.6 17.8-1.9-3.4z" fill="#f4fbc1"/>
<path d="M1008.7 673.9l6-5.9 5.5 49.2 2.5-27.5 2.3-14 2.2 2.1-5.9-13.8-6.2 18.7-2-17-2.2 3.9z" fill="#48b9c3"/>
<path d="M975 564.5l5.8 24.6 6-8 2.2-7.7 2 26.1 2.2-.7-5.9-8.7-5.6-39-2.2 .5-2.4 16.4z" fill="#1e85ba"/>
<path d="M1035.7 799.9l6-4 5.8 15.2 1.9 18.4 2.5-20.6 1.9 19.5-5.4-48.1-6.1 8.8-2.1-3.5-2.5 20.8z" fill="#b4e2b6"/>
<path d="M1014 684.8l5.9 13.4 5.9 8.2 2.2-1.6 1.7 41.5 2.4-21.6-6.1 9.1-5.8-16.6-2.2 4.5-2.1-10.2z" fill="#65c3bf"/>
<path d="M936.1 439.1l6-14.5 5.9 3.7 2.1 30.2 2.4-27.5 2.2 1.8-6 10.2-5.9-10.3-2.2-1.3-2.3 11.7z" fill="#233390"/>
<path d="M1041 811.9l5.4 49.2 6 .2 2.3-12.1 2 9.7 2.5-23.4-6.1 5.9-5.6-30.3-2.3 10.9-2.2 4.2z" fill="#ceecb3"/>
<path d="M819.3 475l5.9-.2 5.8-24.6 2.2-16.1 2.3 6.1 2.3-2.8-5.8 21.4-5.8 11.4-2.3-8.8-2.3 3.4z" fill="#243c98"/>
<path d="M958.1 514l6-5.6 5.7 31.1 2.2 8.6 2.3-8.9 2.3-14-5.9-13.6-6 3-2.1-14.9-2.4 25.3z" fill="#2260a9"/>
<path d="M905.6 428.3l5.9 8.6 6-7.6 2.2 10.7 2.3-15.9 2.2 3.2-5.9 6.9-5.9-13.4-2.3 2-2.2 5.9z" fill="#203089"/>
<path d="M887 441.9l5.9 .7 5.9 8.6 2.3-26.7 2.2 33.4 2.3-29.6-5.9 15.2-5.9-23.2-2.3 18.4-2.3-3z" fill="#233390"/>
<path d="M941.3 440.5l5.8 30 5.8 25.6 2.2 11.6 2.5-49.4 2 34.4-5.8-30.2-5.8-34.2-2.4 39.6-2.2-.3z" fill="#24439b"/>
<path d="M1045.8 873.7l5.9 5.9 5.9 6.6 2.4-15.7 2 10.2 2.1 4-5.8-16.9-5.9-6.5-2-13.3-2.4 20.1z" fill="#dff2b2"/>
<path d="M1024.1 762.8l5.9 7.7 5.7 29.4 2 6.5 2.5-20.8 2.1 3.5-6-.2-6 3.4-2.1-6.4-1.9-29.7z" fill="#a0dab8"/>
<path d="M991.9 615.1l5.9 .5 5.9 14.6 2.1 6.3 2.4-19.7 2 23.9-5.7-29.8-6.1 8.3-2-15.7-2.4 14.1z" fill="#299dc1"/>
<path d="M996.8 659.2l6 3.2 5.9 11.5 2.2-4.3 2.2-3.9 2 17-5.8-9.5-5.6-43-2.2-4.9-2.2 10z" fill="#3aaec3"/>
<path d="M837.8 437.4l5.9 .1 5.9-5.8 2.4 28 2.3 4.7 2.2-33.1-5.8 18.1-5.9 2.6-2.3-7.1-2.5-25.4z" fill="#243392"/>
<path d="M1081.4 909.6l6.2-14.3 5.6 30.3 2.2-6.3 2 7.4 2.6-25.8-6.3 15.1-5.7-21.3-2.3 12.6-2.4 13.4z" fill="#eff9b6"/>
<path d="M946.2 497.6l5.9 20 6-3.6 2.1 11 2.4-25.3 2.1 14.9-5.9-11.6-5.9-6.9-2.2 2.4-2.1-23.4z" fill="#2355a4"/>
<path d="M636.7 677.6l5.1-32.5 5.9 7.3 2-23.7 3.1 31.8 1.4-47.7-5.6 8.5-5.5 11.6-1.8 31.9-2 20.1z" fill="#35aac3"/>
<path d="M980.1 587.3l5.9 18.7 5.9 9.1 2.1 2.5 2.4-14.1 2 15.7-5.9-6.6-5.7-31.5-2.4 18.1-2.3 15.9z" fill="#2195c0"/>
<path d="M1069.7 884.9l5.7 18 6 6.7 1.9 11.1 2.4-13.4 2.3-12.6-6.2 8.2-5.5-30.8-2.5 26.7-1.8-26.4z" fill="#eaf7b1"/>
<path d="M1057.6 886.2l5.9 9.3 6.2-10.6 2.3-12.5 1.8 26.4 2.5-26.7-6.2 9.1-6 3.5-2.1-4-2-10.2z" fill="#e3f4b2"/>
<path d="M1142.3 917.1l5.7 17.5 6.6-23.4 2 5.3 1.9 6.1 2.1-.2-6-3.5-5.6-19.6-2.3 9.2-2.4 14.1z" fill="#f0f9b8"/>
<path d="M1154.6 911.2l5.7 16.4 5.8 12.9 2.4-12.4 1.5 24.5 2.2-6-5.9-8.6-5.7-15.6-2.1 .2-1.9-6.1z" fill="#f4fbc0"/>
<path d="M1018.9 739.3l6-5.7 5.4 58.7 2.5-35.2 2.4-16.3 2 13.4-6-.9-5.4-46.9-2.3 12.7-2.3 10.1z" fill="#78cbbc"/>
<path d="M731.6 576.9l5.1-51 5.7-14.2 2.4 4.3 2.8 33.3 2.2-11.6-6.2-27.7-5.3 40.1-2.5-13.4-2.4 2.8z" fill="#2168ad"/>
<path d="M756.7 523.8l5.4-40.5 6 12.5 2.1-21.1 2.7 33.8 2.2-20.5-5.7 22.1-5.8 2.6-2.4-7.4-2.2 11.8z" fill="#2354a3"/>
<path d="M1093.2 925.6l5.9 3.3 5.9 10.8 2.6-27 1.9 12.4 2.1 1.1-5.8-14.1-5.8-11.2-2.6 25.8-2-7.4z" fill="#f1fabb"/>
<path d="M917.5 429.3l5.9 17.8 6-30.5 2.1 45.5 2.3-20.8 2.3-2.2-5.9-8.7-6-3.1-2.2-3.2-2.3 15.9z" fill="#21318d"/>
<path d="M1002.2 668.3l6-2.2 5.8 18.7 1.9 26.7 2.1 10.2 2.2-4.5-5.5-49.2-6 5.9-2.4 23.7-2.1-12.8z" fill="#4ebbc2"/>
<path d="M868.3 429.5l6 30.5 5.9-15.6 2.2-3.7 2.3-17.1 2.3 18.3-6-19.2-5.9 13-2.2 14-2.3 5.5z" fill="#233390"/>
<path d="M1272.3 864.9l6.5-9.5 6.8-19.8 3.1-32.3 .6 40.3 2.3-8.7-6-5.7-7.7 46-1.1-25.1-1.9-2.9z" fill="#cfecb3"/>
<path d="M1123.6 931l6.2-5.6 5.9 8.8 2.4-15.2 2.5-19.8 1.7 17.9-6 .6-6.5 17.6-1.8-12-2.1-1.2z" fill="#f1fabb"/>
<path d="M775.1 488l5.8 3.4 5.7-21 2.6 26.5 2-34.7 2.5 13.5-5.8 13.5-5.6 21.3-2.4-3.6-2.5-17.7z" fill="#234b9f"/>
<path d="M1184.9 926.5l5.4 25.2 6.5-13 2.7-23.2 1.7 10.1 1.9 6.6-5.8-9.8-5.9-7.1-2.3 8.4-2.5 17.5z" fill="#f3fabd"/>
<path d="M1166.1 940.5l6 5.5 6.1-2.2 2.5-17 1.7 17.3 2.5-17.6-6.2 3.1-6.5 17-2.2 6-1.5-24.5z" fill="#f5fbc2"/>
<path d="M1203.1 932.2l6.4-9.7 6 5.8 2.6-21.5 2.2-5.9 2.4-12.3-7 31.3-6.2 4.2-2.1 3.2-2.3 7.9z" fill="#f0f9b8"/>
<path d="M1247.5 879.2l6.1 1.8 6.8-20.5 2-1.7 2.3-7.9 2.3-9.8-7.3 35.7-6.7 18.2-2.5 15.5-1.6-11.7z" fill="#dff2b2"/>
<path d="M898.8 451.2l6-17.9 5.9 27.1 2.2-.9 2.3-30.3 2.3 .1-6 7.6-5.9-8.6-2.3 29.6-2.2-33.4z" fill="#233390"/>
<path d="M963.2 536.1l5.9 13.2 5.9 15.2 2.1 3.5 2.4-16.4 2.2-.5-6-4.7-5.9-6.9-2.1-8.8-2.2-3.2z" fill="#206eb0"/>
<path d="M1034.3 831.8l5.6 25.9 5.9 16 2.2-5.6 2.4-20.1 2 13.3-6-.2-5.4-49.2-2.4 19.1-2.2 5.1z" fill="#d0edb3"/>
<path d="M680 593.8l5.8 3 5.5-20.2 2.6 12.7 2.5 2.1 2.3-1.1-5.8 .5-5.2 31.3-2.7-17.7-2.4 4.5z" fill="#1d8ebf"/>
<path d="M849.6 431.7l6 21.1 5.9-8 2.3-2.9 2.3 5.4 2.2-17.8-5.8 34.8-6-33-2.2 33.1-2.3-4.7z" fill="#253494"/>
<path d="M1105 939.7l6 2.6 6 1.6 2.5-18 2.2-6.5 1.9 11.6-6.1 1.4-5.9-6.2-2.1-1.1-1.9-12.4z" fill="#f3fabd"/>
<path d="M793.7 475.7l5.8-1.9 6.1 24.9 2.1-37.9 2.4 14.3 2.3-8-5.9 8.4-5.8 4.5-2.3-4-2.4 1.1z" fill="#24449c"/>
<path d="M705.8 583.9l5.4-28.9 5.9 3.8 2.1-19.1 2.5 10.3 2.3-2.7-5.3 32.9-6.1-22.3-2.3 10.4-2.2 11.5z" fill="#1f78b4"/>
<path d="M968.3 568.9l5.8 20 6-1.6 2 27.8 2.3-15.9 2.4-18.1-6 8-5.8-24.6-2.2-12.9-2.3 19.4z" fill="#1e85ba"/>
<path d="M929.4 416.6l5.9 14.6 6 9.3 2.1 27.1 2.2 .3 2.4-39.6-5.9-3.7-6 14.5-2.3 2.2-2.3 20.8z" fill="#233390"/>
<path d="M654.2 612.8l5.8 .3 6 8.6 2.7 14.4 2.1-15.5 2.4-.8-5.8-.7-5.4 21.2-2.7-15.3-1.9 25.3z" fill="#299dc1"/>
<path d="M1135.7 934.2l5.8 12.3 6.4-12.9 1.9 7.7 1.6 22.3 3.2-52.4-6.6 23.4-5.7-17.5-1.7-17.9-2.5 19.8z" fill="#f3fabd"/>
<path d="M812.4 467.1l5.9 17.5 5.5-68.9 2.7 55.7 2.2-17.8 2.3-3.4-5.8 24.6-5.9 .2-2.5-35-2.1 38.3z" fill="#253b97"/>
<path d="M1222.7 888.6l5.1 35.4 6.9-26.6 1.9 5.1 2.7-19.9 1.3 22.2-6.4 9.2-6.4 9.7-1.1-32.7-2.2 7.1z" fill="#eaf7b1"/>
<path d="M1012.3 742.7l6-3.6 5.8 23.7 2.2-6.6 1.9 29.7 2.1 6.4-5.4-58.7-6 5.7-2.4 14.3-2-17.5z" fill="#7ecdbb"/>
<path d="M934.5 456.4l5.9 19.6 5.8 21.6 2.4-22.5 2.1 23.4 2.2-2.4-5.8-25.6-5.8-30-2.4 34.6-2.2-18.8z" fill="#24419a"/>
<path d="M990.4 644.8l6 .5 5.8 23 2 16.5 2.1 12.8 2.4-23.7-5.9-11.5-6-3.2-2.1-9.5-2.2 5.2z" fill="#3bb0c3"/>
<path d="M1117 943.9l6.4-13.2 5.6 23 2.3-8.9 1.9 5.4 2.5-16-5.9-8.8-6.2 5.6-1.9-11.6-2.2 6.5z" fill="#f4fbc0"/>
<path d="M1298.4 811.9l6.8-18.6 5.8 11.9 2-.4 2.7-20-6.7 14.3-6.7 14.6-2.1 3.9z" fill="#aedfb6"/>
<path d="M1062.9 907.4l6.2-9 5.6 26.1 2.5-23.1 1.9 16.3 2.3-8.1-6-6.7-5.7-18-2.5 19.6-2-9.4z" fill="#ecf7b1"/>
<path d="M1029.6 758.9l5.4 53.1 6-.1 2 14.3 2.2-4.2 2.3-10.9-5.8-15.2-6 4-2.2-.8-2.1-8.8z" fill="#abdeb7"/>
<path d="M629.2 665.6l5.2-22 6.2 19.1 2.1-19.5 2.3-5 2.7 14.2-5.9-7.3-5.1 32.5-2.5-5-3-24.7z" fill="#36abc3"/>
<path d="M1051.2 882.7l6 4.4 5.7 20.3 2.3-12.3 2 9.4 2.5-19.6-6.2 10.6-5.9-9.3-1.9-17-2.5 21.9z" fill="#e5f5b2"/>
<path d="M1129 953.7l6.1-.8 6 1.5 2.2-2.5 2.2-6.4 2.4-11.9-6.4 12.9-5.8-12.3-2.5 16-1.9-5.4z" fill="#f6fbc5"/>
<path d="M985.3 603.7l5.8 30.4 5.7 25.1 2.5-23.9 2.2-10 2.2 4.9-5.9-14.6-5.9-.5-2.1-14.9-2.3 14.2z" fill="#269bc1"/>
<path d="M956.3 582.8l6-18 6 4.1 2.2 2.1 2.3-19.4 2.2 12.9-5.9-15.2-5.9-13.2-2.4 22.9-2-24.7z" fill="#2073b2"/>
<path d="M910.7 460.4l5.9-4.7 6-29.5 2.2 32 2.3-15.8 2.3-25.8-6 30.5-5.9-17.8-2.3-.1-2.3 30.3z" fill="#22328f"/>
<path d="M880.2 444.4l5.9-11 5.9-2.7 2.3 17.7 2.3-21.9 2.2 24.7-5.9-8.6-5.9-.7-2.3-18.3-2.3 17.1z" fill="#21308b"/>
<path d="M1007.3 697.4l5.9 10.3 5.7 31.6 2.3-10.1 2.3-10.1 2.3-12.7-5.9-8.2-5.9-13.4-2.6 43-1.9-31.4z" fill="#59bfc0"/>
<path d="M831 450.2l5.8-9 6 22.8 2.3-4.2 2.3-12.5 2.2-15.6-5.9 5.8-5.9-.1-2.3 2.8-2.3-6.1z" fill="#22328f"/>
<path d="M1147.9 933.6l6.1-.7 6.3-11.3 1.7 17.4 2 4.3 2.1-2.8-5.8-12.9-5.7-16.4-3.2 52.4-1.6-22.3z" fill="#f3fabf"/>
<path d="M1074.7 924.5l5.9 5.5 6.5-24 1.9 10.9 2.3-5.9 1.9 14.6-5.6-30.3-6.2 14.3-2.3 8.1-1.9-16.3z" fill="#eef8b3"/>
<path d="M1039.4 860.5l5.9 14.6 5.9 7.6 2 8.4 2.5-21.9 1.9 17-5.9-6.6-5.9-5.9-2-18.2-2.1-2.9z" fill="#dbf1b2"/>
<path d="M861.5 444.8l6 29.4 5.8-30.6 2.3 14.5 2.2-40.9 2.4 27.2-5.9 15.6-6-30.5-2.2 17.8-2.3-5.4z" fill="#233390"/>
<path d="M1178.2 943.8l6.1-.3 5.8 13.8 2.8-26.7 2.5-18.8 1.4 26.9-6.5 13-5.4-25.2-2.5 17.6-1.7-17.3z" fill="#f4fbc0"/>
<path d="M1087.1 906l5.4 35.6 6.5-23.9 1.8 22 2.2-8 2 8-5.9-10.8-5.9-3.3-1.9-14.6-2.3 5.9z" fill="#f1faba"/>
<path d="M973.3 617.2l6-5.8 6-7.7 2.2 10.7 2.3-14.2 2.1 14.9-5.9-9.1-5.9-18.7-2.3 14.6-2.2 1.8z" fill="#1d91c0"/>
<path d="M951.4 507l6 1.2 5.8 27.9 2.3-8.6 2.2 3.2 2.1 8.8-5.7-31.1-6 5.6-2.2-15.4-2.3 9z" fill="#2259a6"/>
<path d="M749.8 537.7l5.5-33.3 5.8-.4 2.5 9.3 2.1-20 2.4 2.5-6-12.5-5.4 40.5-2.7-31.3-2.3 6.7z" fill="#2351a2"/>
<path d="M724 547.3l5.5-23.9 6 5.1 2.1-20.7 2.8 31.7 2-27.8-5.7 14.2-5.1 51-2.8-26.4-2.2 11.6z" fill="#2165ab"/>
<path d="M892 430.7l6 27.2 5.9-24.6 2.2 40.7 2.3-21.8 2.3 8.2-5.9-27.1-6 17.9-2.2-24.7-2.3 21.9z" fill="#233390"/>
<path d="M1240.6 904.8l7-26.6 6.3-6.9 2.2-3.3 2.1-2.2 2.2-5.3-6.8 20.5-6.1-1.8-2.9 26.6-1.8-7.1z" fill="#dff2b2"/>
<path d="M698.7 590.3l5.6-13 5.4-27.2 2.9 32.8 1.8-40 2.7 15.9-5.9-3.8-5.4 28.9-2.7-18.2-2.1 15z" fill="#1f7ab5"/>
<path d="M939.6 483.2l5.9 16.5 5.9 7.3 2.2 .6 2.3-9 2.2 15.4-6 3.6-5.9-20-2.2-12.7-2.2 7.7z" fill="#234fa1"/>
<path d="M961.4 598l6.1-8.3 5.8 27.5 2.3-13.5 2.2-1.8 2.3-14.6-6 1.6-5.8-20-2.3 11.5-2-31.8z" fill="#1e86bb"/>
<path d="M1196.8 938.7l6.5-16.4 6.1 3.5 2.8-26.6 1.4 23.1 1.9 6-6-5.8-6.4 9.7-1.9-6.6-1.7-10.1z" fill="#f0f9b7"/>
<path d="M768.1 495.8l5.8-.6 6.1 19.9 2.1-24.6 2.2-12.8 2.3-7.3-5.7 21-5.8-3.4-2.2 20.5-2.7-33.8z" fill="#23499e"/>
<path d="M1267 841.1l6.7-15.6 6.2-1.1 .9 34.8 2.9-25.9 1.9 2.3-6.8 19.8-6.5 9.5-1.5-15.5-2.5 15.7z" fill="#cbebb4"/>
<path d="M1017.5 767.2l5.9 7.2 6.2-15.5 1.8 31.4 2.1 8.8 2.2 .8-5.7-29.4-5.9-7.7-2.3 7.6-2.3 9.9z" fill="#90d4b9"/>
<path d="M786.6 470.4l5.9 .6 6 12 2.3-1.1 2.3-3.4 2.5 20.2-6.1-24.9-5.8 1.9-2.5-13.5-2 34.7z" fill="#24439b"/>
<path d="M1099 917.7l5.7 19.7 6.1 2.3 2.5-20.2 2 5 1.7 19.4-6-1.6-6-2.6-2-8-2.2 8z" fill="#f2fabc"/>
<path d="M842.8 464l5.8-25.3 6 4.3 2.3-4.1 2.3 30 2.3-24.1-5.9 8-6-21.1-2.2 15.6-2.3 12.5z" fill="#233390"/>
<path d="M995.5 675.1l5.9 9.4 5.9 12.9 2.2-1 1.9 31.4 2.6-43-5.8-18.7-6 2.2-2.5 26-2.1-8.8z" fill="#46b8c3"/>
<path d="M922.6 426.2l5.9 37.1 6-6.9 2.2-.1 2.2 18.8 2.4-34.6-6-9.3-5.9-14.6-2.3 25.8-2.3 15.8z" fill="#22328f"/>
<path d="M1027.9 817.6l5.4 48 6.1-5.1 2.3-7.9 2.1 2.9 2 18.2-5.9-16-5.6-25.9-2.5 20.2-1.8-29z" fill="#cdebb4"/>
<path d="M1291.6 834.9l6.6-13.4 6.9-19.8 2.5-12.8 1.9 1.6 1.5 14.7-5.8-11.9-6.8 18.6-2 .4-2.4 11.3z" fill="#aedfb6"/>
<path d="M1160.3 921.6l5.6 23.7 6.3-9.4 2.1 .7 2.1-4.1 1.8 11.3-6.1 2.2-6-5.5-2.1 2.8-2-4.3z" fill="#f3fabf"/>
<path d="M944.8 489.6l5.8 44.3 5.7 48.9 2.5-48.5 2 24.7 2.4-22.9-5.8-27.9-6-1.2-2.3 24.8-2.3-2.9z" fill="#225ea8"/>
<path d="M805.6 498.7l5.5-48.9 6 13.3 2.4 5.2 2.3-6.9 2-45.7-5.5 68.9-5.9-17.5-2.3 8-2.4-14.3z" fill="#253997"/>
<path d="M949.6 572.8l6.1-18 5.7 43.2 2.6-49.4 2 31.8 2.3-11.5-6-4.1-6 18-2-41-2.4 20.5z" fill="#2076b3"/>
<path d="M1022.4 820l6.1-6.8 5.8 18.6 2.1 4.3 2.2-5.1 2.4-19.1-6 .1-5.4-53.1-2.5 29.1-2.2-1.9z" fill="#abdeb7"/>
<path d="M823.8 415.7l6.2 50.4 5.9-6.6 2.3-5.5 2.3 6 2.3 4-6-22.8-5.8 9-2.3 3.4-2.2 17.8z" fill="#253494"/>
<path d="M978.6 611l5.8 24.6 6 9.2 2.1 10.1 2.2-5.2 2.1 9.5-5.7-25.1-5.8-30.4-2.1-4.1-2.4 19.7z" fill="#289cc1"/>
<path d="M673.2 619.8l5.5-14.5 5.4-23.8 2.4-3.7 2.2-11.9 2.6 10.7-5.5 20.2-5.8-3-2.4 5.1-2.2 8.5z" fill="#1e86bb"/>
<path d="M1000.6 711.3l6.1-8 5.6 39.4 2.2-6.6 2 17.5 2.4-14.3-5.7-31.6-5.9-10.3-2.2-4-2.2 8.1z" fill="#5dc0c0"/>
<path d="M1215.5 928.3l7.2-40 5.7 17.5 2.4-14.8 1.6 15.3 2.3-8.9-6.9 26.6-5.1-35.4-2.4 12.3-2.2 5.9z" fill="#e7f6b1"/>
<path d="M903.9 433.3l6 11.9 5.9-6 2.2 21.6 2.3-23 2.3-11.6-6 29.5-5.9 4.7-2.3-8.2-2.3 21.8z" fill="#22328f"/>
<path d="M647.7 652.4l5.1-36.1 5.8-1.6 2.4 2.8 2.2-14.9 2.8 19.1-6-8.6-5.8-.3-1.4 47.7-3.1-31.8z" fill="#2498c1"/>
<path d="M742.4 511.7l5.8-4.1 6 9.7 2.1-19 2.3-8.9 2.5 14.6-5.8 .4-5.5 33.3-2.2 11.6-2.8-33.3z" fill="#2354a3"/>
<path d="M1068.8 889l5.3 47.7 5.9 12 2.6-28.4 1.9 11.6 2.6-25.9-6.5 24-5.9-5.5-1.8-21.8-2.4 17.3z" fill="#eef8b3"/>
<path d="M927.7 463.7l5.9 14.9 6 4.6 2.2 9.4 2.2-7.7 2.2 12.7-5.8-21.6-5.9-19.6-2.3-1.2-2.2 2.2z" fill="#243f99"/>
<path d="M1311 805.2l6.3-3.8 6.4-4.8 2.1-4.6 2.6-14.9-6.9 18.8-5.8-11.1-2.7 20z" fill="#9ed9b8"/>
<path d="M1110.8 939.7l5.9 5.2 6.2-3.9 2.3-9.4 1.9 7.8 1.9 14.3-5.6-23-6.4 13.2-1.7-19.4-2-5z" fill="#f2fabc"/>
<path d="M983.6 660.2l5.8 24.1 6.1-9.2 2.1 10.4 2.1 8.8 2.5-26-5.8-23-6-.5-2.2-3.7-2.2-1z" fill="#36abc3"/>
<path d="M1005.7 744.3l6-.1 5.8 23 2 13.1 2.3-9.9 2.3-7.6-5.8-23.7-6 3.6-2.2-1-2-15.6z" fill="#76cabc"/>
<path d="M1172.2 935.9l6.2-4.1 5.4 28.4 2.5-15.3 1.9 5.7 1.9 6.7-5.8-13.8-6.1 .3-1.8-11.3-2.1 4.1z" fill="#f4fbc0"/>
<path d="M954.9 575.7l5.9 4.3 5.8 37.9 2.2-2.2 2.4-13.8 2.1 15.3-5.8-27.5-6.1 8.3-2.2-4.4-2.2-1z" fill="#1e8abd"/>
<path d="M1285.6 835.6l6.1 2 7-23.9 1.7 9.1 2.7-19.4 2-1.7-6.9 19.8-6.6 13.4-2.3 8.7-.6-40.3z" fill="#b7e3b6"/>
<path d="M932.7 518.3l5.9 8.9 6.2-37.6 2 39.3 2.3 2.9 2.3-24.8-5.9-7.3-5.9-16.5-2.3 .1-2.3 30.5z" fill="#2350a1"/>
<path d="M1141.1 954.4l6.5-19.3 5.9 11.4 2.2-7 2.6-23.2 2 5.3-6.3 11.3-6.1 .7-2.4 11.9-2.2 6.4z" fill="#f2fabc"/>
<path d="M854.6 443l5.8-21.5 6.1 45.4 2.3-13.2 2.2-19.9 2.3 9.8-5.8 30.6-6-29.4-2.3 24.1-2.3-30z" fill="#22328f"/>
<path d="M691.3 576.6l5.8-2.7 5.8-.1 2.5 5.8 2-28.2 2.3-1.3-5.4 27.2-5.6 13-2.3 1.1-2.5-2.1z" fill="#1f7ab5"/>
<path d="M1234.7 897.4l5.3 27.8 8.3-67.4 1.7 8.5 1.2 26.5 2.7-21.5-6.3 6.9-7 26.6-1.3-22.2-2.7 19.9z" fill="#dff2b2"/>
<path d="M1080 948.7l6.3-19.9 6.1 2.3 2.2-7.4 1.8 20.2 2.6-26.2-6.5 23.9-5.4-35.6-2.6 25.9-1.9-11.6z" fill="#f0f9b7"/>
<path d="M621.5 654.3l5.9 4.6 5.5-15.9 2-19.6 2.9 19.6 2.8 19.7-6.2-19.1-5.2 22-2.6-5.4-2.5 .6z" fill="#31a5c2"/>
<path d="M1032.9 863.7l5.9 8.3 5.9 12.7 2.1 1.4 2.3-6.4 2.1 3-5.9-7.6-5.9-14.6-2.5 24.5-1.7-34.3z" fill="#d7efb3"/>
<path d="M873.3 443.6l5.9-15.3 6 8.6 2.3 11.1 2.2-8.8 2.3-8.5-5.9 2.7-5.9 11-2.4-27.2-2.2 40.9z" fill="#1e2e85"/>
<path d="M1044.7 884.7l5.9 4.8 6.1-4.1 2.3-9 1.9 17.7 2 13.3-5.7-20.3-6-4.4-2.1-3-2.3 6.4z" fill="#dff2b2"/>
<path d="M1056.7 885.4l5.8 22.1 6.3-18.5 1.7 31 2.4-17.3 1.8 21.8-5.6-26.1-6.2 9-2-13.3-1.9-17.7z" fill="#e5f5b2"/>
<path d="M761.1 504l5.5-30.6 6.3 31.8 2.1-25.9 2.4 5.9 2.6 29.9-6.1-19.9-5.8 .6-2.4-2.5-2.1 20z" fill="#23499e"/>
<path d="M966.6 617.9l6.3-45.7 5.7 38.8 2.2 8.3 2.4-19.7 2.1 4.1-6 7.7-6 5.8-2.1-15.3-2.4 13.8z" fill="#1d8ebf"/>
<path d="M835.9 459.5l5.9 9 5.9-2.6 2.2-28.5 2.4 25.6 2.3-20-6-4.3-5.8 25.3-2.3-4-2.3-6z" fill="#243392"/>
<path d="M1010.8 778.5l5.9 11.4 5.7 30.1 2.5-33.9 2.2 1.9 2.5-29.1-6.2 15.5-5.9-7.2-2.3 5.2-2.3 11.8z" fill="#8ed3ba"/>
<path d="M1260.4 860.5l6.1 1.4 6.1 1.1 2.5-13 1.6 12 3.2-37.6-6.2 1.1-6.7 15.6-2.3 9.8-2.3 7.9z" fill="#cbebb4"/>
<path d="M1122.9 941l6.3-9.1 5.8 10.4 2.3-7.1 1.9 8.4 1.9 10.8-6-1.5-6.1 .8-1.9-14.3-1.9-7.8z" fill="#f3fabd"/>
<path d="M937.9 526.2l5.9 8.8 5.8 37.8 2.3-10.5 2.4-20.5 2 41-5.7-48.9-5.8-44.3-2.5 45.1-2.1-17.1z" fill="#2262aa"/>
<path d="M1092.4 931.1l5.9 11 6 1.2 2.1 1.6 1.9 11.6 2.5-16.8-6.1-2.3-5.7-19.7-2.6 26.2-1.8-20.2z" fill="#f1fabb"/>
<path d="M666 621.7l5-41 5.9 .8 2.5 3.7 2.6 13.5 2.1-17.2-5.4 23.8-5.5 14.5-2.4 .8-2.1 15.5z" fill="#1e8bbd"/>
<path d="M798.5 483l5.9-2.6 5.8-13.9 2.2-12.4 2.5 17.5 2.2-8.5-6-13.3-5.5 48.9-2.5-20.2-2.3 3.4z" fill="#243c98"/>
<path d="M915.8 439.2l6 4.7 5.9 19.8 2.3-6.3 2.2-2.2 2.3 1.2-6 6.9-5.9-37.1-2.3 11.6-2.3 23z" fill="#21318d"/>
<path d="M1190.1 957.3l6.6-19.2 7.3-40.6 1.6 14.7 1.9 7.8 1.9 5.8-6.1-3.5-6.5 16.4-1.4-26.9-2.5 18.8z" fill="#eff9b5"/>
<path d="M989.1 647.8l5.5 57.8 6 5.7 2.3-9.8 2.2-8.1 2.2 4-5.9-12.9-5.9-9.4-2.5 28.1-2.1-8.1z" fill="#42b6c4"/>
<path d="M717.1 558.8l5.5-20.1 5.4-34.7 2.7 23.4 2.4 3.1 2.4-2-6-5.1-5.5 23.9-2.3 2.7-2.5-10.3z" fill="#225da8"/>
<path d="M1153.5 946.5l5.8 12.7 6.4-13.1 2 2.8 1.7 17.3 2.8-30.3-6.3 9.4-5.6-23.7-2-5.3-2.6 23.2z" fill="#f2fabc"/>
<path d="M640.6 662.7l4.7-54 6.2 19.1 2.8 19.4 1.9-26.7 2.4-5.8-5.8 1.6-5.1 36.1-2.7-14.2-2.3 5z" fill="#269bc1"/>
<path d="M780 515.1l5.6-27.7 5.7-26.6 2.5 16.5 2.1-20.5 2.6 26.2-6-12-5.9-.6-2.3 7.3-2.2 12.8z" fill="#243f99"/>
<path d="M920.9 477.2l5.9 10.3 5.9 30.8 2.3-4.5 2.3-30.5 2.3-.1-6-4.6-5.9-14.9-2.3 1.8-2.2 3.7z" fill="#24419a"/>
<path d="M1016.1 792.4l6.2-11.7 5.6 36.9 2.1 5.4 1.8 29 2.5-20.2-5.8-18.6-6.1 6.8-2.1-12.6-2.1-6.2z" fill="#abdeb7"/>
<path d="M1021 846.6l6 4.6 5.9 12.5 2.3-13 1.7 34.3 2.5-24.5-6.1 5.1-5.4-48-2.2 .1-2.4 22.3z" fill="#caeab4"/>
<path d="M943.1 526.3l5.9 31.4 5.9 18 2.1 16.9 2.2 1 2.2 4.4-5.7-43.2-6.1 18-2.2 4.3-2.2-22.3z" fill="#2075b3"/>
<path d="M817.1 463.1l6 3.1 5.9-1 2.1-28.2 2.5 26 2.3-3.5-5.9 6.6-6.2-50.4-2 45.7-2.3 6.9z" fill="#233390"/>
<path d="M1104.3 943.3l6 2.2 6 5.8 2.1 2 2.5-18.3 2 6-6.2 3.9-5.9-5.2-2.5 16.8-1.9-11.6z" fill="#f3fabd"/>
<path d="M999 747.6l5.6 48.5 6.2-17.6 2.1 5.7 2.3-11.8 2.3-5.2-5.8-23-6 .1-2.1-17.5-2.3 10.6z" fill="#78cbbc"/>
<path d="M885.2 436.9l5.9 4 6-2.4 2.3-25.3 2.2 34.5 2.3-14.4-5.9 24.6-6-27.2-2.3 8.5-2.2 8.8z" fill="#1d2e83"/>
<path d="M1305.1 801.7l6.2 1.7 6.5-10 1.8 6.2 2.4-10.9 1.7 7.9-6.4 4.8-6.3 3.8-1.5-14.7-1.9-1.6z" fill="#99d7b8"/>
<path d="M1049.7 921l6 5.6 5.9 9.6 2.7-37.3 1.7 31.4 2.8-41.3-6.3 18.5-5.8-22.1-2.6 31.2-2-8.6z" fill="#e8f6b1"/>
<path d="M1253.9 871.3l6.7-16.6 5.9 8.8 2.3-6.3 1.6 11.2 2.2-5.4-6.1-1.1-6.1-1.4-2.2 5.3-2.1 2.2z" fill="#d0edb3"/>
<path d="M1209.4 925.8l6.6-19 6.1 2.5 2.7-23 1.8 9.7 1.8 9.8-5.7-17.5-7.2 40-1.9-6-1.4-23.1z" fill="#e6f5b2"/>
<path d="M1279.9 824.4l6.6-11.5 5.5 19.5 2.3-8.1 2.1-2.3 2.3-8.3-7 23.9-6.1-2-1.9-2.3-2.9 25.9z" fill="#b9e4b5"/>
<path d="M994 709.8l5.8 15.7 5.9 18.8 2.4-18.2 2 15.6 2.2 1-5.6-39.4-6.1 8-2.1-12.9-2.2-.6z" fill="#57bec1"/>
<path d="M1135 942.3l5.8 14.6 6.3-9.3 2.2-.7 2 3.8 2.2-4.2-5.9-11.4-6.5 19.3-1.9-10.8-1.9-8.4z" fill="#f3fabd"/>
<path d="M972 612.2l5.8 22.2 5.8 25.8 2.4-20.1 2.2 1 2.2 3.7-6-9.2-5.8-24.6-2.2 7.7-2.2-10.3z" fill="#2498c1"/>
<path d="M735.5 528.5l5.6-21 5.8 1.5 2.6 13.2 2.1-23.1 2.6 18.2-6-9.7-5.8 4.1-2 27.8-2.8-31.7z" fill="#2351a2"/>
<path d="M866.5 466.9l5.9-22.4 5.9-2.4 2.3 14.4 2.3-9.3 2.3-10.3-6-8.6-5.9 15.3-2.3-9.8-2.2 19.9z" fill="#1f2f87"/>
<path d="M614.7 679l5.7-6.8 5-31.6 2.7 10.6 2.7 8.9 2.1-17.1-5.5 15.9-5.9-4.6-2.6-6.5-1.7 28.8z" fill="#31a5c2"/>
<path d="M1061.6 936.2l6.2-10.8 6.2-7.8 2.2 .1 2.1-.2 1.7 31.2-5.9-12-5.3-47.7-2.8 41.3-1.7-31.4z" fill="#edf8b1"/>
<path d="M977 648.8l5.9 14 6.2-15 1.8 47.3 2.1 8.1 2.5-28.1-6.1 9.2-5.8-24.1-2-28.9-2.3 15.8z" fill="#34a9c3"/>
<path d="M1037.9 905.1l6.3-19.1 5.5 35 2.4-13 2 8.6 2.6-31.2-6.1 4.1-5.9-4.8-2-13.8-2.2-.8z" fill="#dff2b2"/>
<path d="M1183.8 960.2l6.8-26.6 6.1 4 2.4-13.2 2.2-4.1 2.7-22.8-7.3 40.6-6.6 19.2-1.9-6.7-1.9-5.7z" fill="#f0f9b8"/>
<path d="M1004.1 784.1l5.9 19.4 6.1-11.1 2.1 8.8 2.1 6.2 2.1 12.6-5.7-30.1-5.9-11.4-2.2-1-2-18.8z" fill="#92d5b9"/>
<path d="M847.7 465.9l5.9-23.7 6 7.1 2.3 8.7 2.3 1.4 2.3 7.5-6.1-45.4-5.8 21.5-2.3 20-2.4-25.6z" fill="#21308b"/>
<path d="M926 502.3l6 8.8 5.9 15.1 2.3-8.6 2.1 17.1 2.5-45.1-6.2 37.6-5.9-8.9-2.1-34.7-2.3-4z" fill="#234da0"/>
<path d="M1165.7 946.1l6.3-8.9 6 6.8 2.1-2.1 2.7-24.8 1 43.1-5.4-28.4-6.2 4.1-2.8 30.3-1.7-17.3z" fill="#f1fabb"/>
<path d="M1147.1 947.6l5.9 12.7 5.9 6.4 2.3-7.3 2.6-22.6 1.9 9.3-6.4 13.1-5.8-12.7-2.2 4.2-2-3.8z" fill="#f3fabf"/>
<path d="M754.2 517.3l5.4-39.3 6.2 30.4 2.4 2.8 2.2-14.1 2.5 8.1-6.3-31.8-5.5 30.6-2.5-14.6-2.3 8.9z" fill="#24479d"/>
<path d="M1228.4 905.8l6.7-19.4 7-27.9 1.3 23.5 2.4-10.2 2.5-14-8.3 67.4-5.3-27.8-2.3 8.9-1.6-15.3z" fill="#dbf1b2"/>
<path d="M909 447.9l6 15.3 5.9 14 2.3-8 2.2-3.7 2.3-1.8-5.9-19.8-6-4.7-2.2-9.3-2.3 15.2z" fill="#21318d"/>
<path d="M684.1 581.5l5.8-1.7 5.9 0 2.1-15 2.4-6.1 2.6 15.1-5.8 .1-5.8 2.7-2.6-10.7-2.2 11.9z" fill="#2073b2"/>
<path d="M897.1 438.5l5.9 21 6-11.6 2.3-2.8 2.3-15.2 2.2 9.3-5.9 6-6-11.9-2.3 14.4-2.2-34.5z" fill="#1c2d81"/>
<path d="M1026.3 859.8l5.9 19.5 5.7 25.8 2.6-35 2.2 .8 2 13.8-5.9-12.7-5.9-8.3-2.4 10.6-1.8-28.6z" fill="#d3eeb3"/>
<path d="M829 465.2l5.8-15.2 5.9-16.5 2.3 12 2.4 19 2.3 1.4-5.9 2.6-5.9-9-2.3 3.5-2.5-26z" fill="#21318d"/>
<path d="M931.1 533.1l5.9 14.8 6.1-21.6 2.1 28.5 2.2 22.3 2.2-4.3-5.8-37.8-5.9-8.8-2.2-11.4-2.3 9.7z" fill="#225da8"/>
<path d="M1116.3 951.3l5.9 8.3 6.5-17.8 2.3-8.2 1.7 21.6 2.3-12.9-5.8-10.4-6.3 9.1-2-6-2.5 18.3z" fill="#f1fabb"/>
<path d="M791.3 460.8l6.1 21.7 5.8-11.5 2.5 16.8 2.2-15.1 2.3-6.2-5.8 13.9-5.9 2.6-2.6-26.2-2.1 20.5z" fill="#253896"/>
<path d="M960.1 578.6l5.7 59.9 6.2-26.3 2.2-3.8 2.2 10.3 2.2-7.7-5.7-38.8-6.3 45.7-2.1-27-2.2 9.8z" fill="#1e88bc"/>
<path d="M1074 917.6l6.3-9.9 5.4 39.8 2.7-35.6 1.9 13.7 2.1 5.5-6.1-2.3-6.3 19.9-1.7-31.2-2.1 .2z" fill="#edf8b1"/>
<path d="M709.7 550.1l5.6-20 5.6-18.4 2.7 19 2-23.2 2.4-3.5-5.4 34.7-5.5 20.1-2.7-15.9-1.8 40z" fill="#225aa6"/>
<path d="M772.9 505.2l5.6-23.5 5.9-2.1 2.3-5.2 2.2-23 2.4 9.4-5.7 26.6-5.6 27.7-2.6-29.9-2.4-5.9z" fill="#243d98"/>
<path d="M1043.5 900l5.5 40.3 6.4-20.8 2.4-15.3 1.9 12.1 1.9 19.9-5.9-9.6-6-5.6-2.2 4.1-2-8.4z" fill="#e9f7b1"/>
<path d="M1204 897.5l5.3 29.9 6.4-7.5 1.7 10.9 2.6-20 2.1-1.5-6.1-2.5-6.6 19-1.9-5.8-1.9-7.8z" fill="#e8f6b1"/>
<path d="M878.3 442.1l6 12.8 5.9-19.5 2.3 12.1 2.3 4.4 2.3-13.4-6 2.4-5.9-4-2.3 10.3-2.3 9.3z" fill="#1d2e83"/>
<path d="M992.3 757.3l6.1-8.1 5.7 34.9 2.5-25.4 2 18.8 2.2 1-6.2 17.6-5.6-48.5-2.4 23.7-1.8-42.7z" fill="#78cbbc"/>
<path d="M810.2 466.5l5.8-8.2 5.9-7.8 2.3-3.3 2.4 6.1 2.4 11.9-5.9 1-6-3.1-2.2 8.5-2.5-17.5z" fill="#22328f"/>
<path d="M1085.7 947.5l6.2-7.3 6 1.8 2.4-13.3 1.8 16.1 2.2-1.5-6-1.2-5.9-11-2.1-5.5-1.9-13.7z" fill="#eff9b5"/>
<path d="M982.2 681l5.9 9.5 5.9 19.3 2.3-12 2.2 .6 2.1 12.9-6-5.7-5.5-57.8-2.4 22.9-2.2-4.6z" fill="#3cb1c3"/>
<path d="M658.6 614.7l5.6-9.2 5.5-17.3 2.4-1.8 2.4-2.3 2.4-2.6-5.9-.8-5 41-2.8-19.1-2.2 14.9z" fill="#1f82b9"/>
<path d="M1097.9 942l6.2-3.1 5.6 26.8 2.3-8.8 2 2.1 2.3-7.7-6-5.8-6-2.2-2.2 1.5-1.8-16.1z" fill="#f1fabb"/>
<path d="M1272.6 863l6.6-12.5 7.2-28.1 2.3-9.1 2-.9 1.3 20-5.5-19.5-6.6 11.5-3.2 37.6-1.6-12z" fill="#b7e3b6"/>
<path d="M632.9 643l5.5-15.2 5.8 3 2.3-8.4 2.5 3.8 2.5 1.6-6.2-19.1-4.7 54-2.8-19.7-2.9-19.6z" fill="#2296c1"/>
<path d="M1323.7 796.6l6.9-19.6 7.3-27 1.8 4.7 1.6 9.1-5.9-9-7 22.3-2.6 14.9z" fill="#7cccbb"/>
<path d="M1009.3 808.3l5.9 14.3 5.8 24 2.3-6.6 2.4-22.3 2.2-.1-5.6-36.9-6.2 11.7-2.2 3.5-2.4 14.8z" fill="#a2dbb8"/>
<path d="M1031.7 875l5.8 19 6 6 2 16.7 2 8.4 2.2-4.1-5.5-35-6.3 19.1-2.1-9.8-2.2 5.6z" fill="#e0f3b2"/>
<path d="M859.6 449.3l5.9 11.9 5.9-22.4 2.4 13.3 2.2-20 2.3 10-5.9 2.4-5.9 22.4-2.3-7.5-2.3-1.4z" fill="#1f2f87"/>
<path d="M987.3 708.4l5.9 21 5.8 18.2 2.3-10.2 2.3-10.6 2.1 17.5-5.9-18.8-5.8-15.7-2.3 5.3-2-20.4z" fill="#55bec1"/>
<path d="M965.3 611.9l5.8 29.4 5.9 7.5 2.3-1.7 2.3-15.8 2 28.9-5.8-25.8-5.8-22.2-2.4 23.5-2.2-7.5z" fill="#2397c1"/>
<path d="M948.2 563.1l6 12 5.9 3.5 2.2 22.1 2.2-9.8 2.1 27-5.8-37.9-5.9-4.3-2.2-8.3-2.4 21.6z" fill="#1f78b4"/>
<path d="M1298.7 813.7l6.8-16.1 6.9-19.7 1.4 15.5 2.3-6.8 1.7 6.8-6.5 10-6.2-1.7-2 1.7-2.7 19.4z" fill="#95d5b9"/>
<path d="M919.2 525.6l5.9 7.3 6 .2 2.3-8.6 2.3-9.7 2.2 11.4-5.9-15.1-6-8.8-2.2-7.5-2.3 19.8z" fill="#2350a1"/>
<path d="M1128.7 941.8l6.4-11.1 5.5 25 2.1 4.2 2.1-.6 2.3-11.7-6.3 9.3-5.8-14.6-2.3 12.9-1.7-21.6z" fill="#f1fabb"/>
<path d="M765.8 508.4l5.8-14 6 10.2 2.2-7.9 2.3-6.3 2.3-10.8-5.9 2.1-5.6 23.5-2.5-8.1-2.2 14.1z" fill="#24449c"/>
<path d="M1014.6 828.1l6 8.4 5.7 23.3 2.4-14.1 1.8 28.6 2.4-10.6-5.9-12.5-6-4.6-2.1-6.4-2-24.2z" fill="#c0e6b5"/>
<path d="M1248.3 857.8l6.2-.6 6.3-4.1 1.9 3.2 2.1-1.5 1.7 8.7-5.9-8.8-6.7 16.6-2.7 21.5-1.2-26.5z" fill="#cbebb4"/>
<path d="M1055.4 919.5l5.7 21.8 6.5-25.6 2 8.8 1.9 14.2 2.5-21.1-6.2 7.8-6.2 10.8-1.9-19.9-1.9-12.1z" fill="#e9f7b1"/>
<path d="M914.2 445.3l5.9 23.9 5.9 33.1 2.3-22.7 2.3 4 2.1 34.7-5.9-30.8-5.9-10.3-2.2-22.9-2.3-10.4z" fill="#253896"/>
<path d="M1158.9 966.7l6.7-24.4 5.9 13 2.7-27.4 1.1 41.8 2.7-25.7-6-6.8-6.3 8.9-1.9-9.3-2.6 22.6z" fill="#f1faba"/>
<path d="M606.9 659.4l6 10.9 5.3-24.5 2.6 7.7 2-20.1 2.6 7.2-5 31.6-5.7 6.8-2.8-16.7-2.5-1.1z" fill="#2da2c2"/>
<path d="M997.5 784.3l5.8 24.9 6-.9 2.2 2.4 2.4-14.8 2.2-3.5-6.1 11.1-5.9-19.4-2.1-12.8-2.1-7z" fill="#8ed3ba"/>
<path d="M1109.7 965.7l6.3-13 6.5-17.1 1.6 25.7 2.3-11 2.3-8.5-6.5 17.8-5.9-8.3-2.3 7.7-2-2.1z" fill="#f2fabc"/>
<path d="M728 504l5.5-23 6.6 48.2 2-24.9 2.4 1.1 2.4 3.6-5.8-1.5-5.6 21-2.4 2-2.4-3.1z" fill="#234c9f"/>
<path d="M953.3 599.7l5.9 27.8 6.1-15.6 2.1 16.3 2.2 7.5 2.4-23.5-6.2 26.3-5.7-59.9-2.3 11.4-2.4 31.9z" fill="#1e8bbd"/>
<path d="M1178 944l6.4-9.7 6.2-4.3 1.9 8.9 2.3-10.5 1.9 9.2-6.1-4-6.8 26.6-1-43.1-2.7 24.8z" fill="#eef8b3"/>
<path d="M702.9 573.8l5.6-14.7 5.4-29.3 2.6 10.8 2.2-11.5 2.2-17.4-5.6 18.4-5.6 20-2.3 1.3-2 28.2z" fill="#225da8"/>
<path d="M890.2 435.4l6 .3 6 14.4 2.3 2.8 2.2-11.1 2.3 6.1-6 11.6-5.9-21-2.3 13.4-2.3-4.4z" fill="#1c2d81"/>
<path d="M676.9 581.5l5.9 5.3 5.2-37.2 2.8 23.4 2.4-.8 2.6 7.6-5.9 0-5.8 1.7-2.1 17.2-2.6-13.5z" fill="#2073b2"/>
<path d="M1019.6 870.3l6 4 6.1 .7 1.9 25.9 2.2-5.6 2.1 9.8-5.7-25.8-5.9-19.5-2.1-3.5-2.4 21.2z" fill="#d3eeb3"/>
<path d="M1140.6 955.7l6.1 1.5 6 4.6 2.9-33.8 1.4 32.3 1.9 6.4-5.9-6.4-5.9-12.7-2.3 11.7-2.1 .6z" fill="#f3fabd"/>
<path d="M840.7 433.5l6 20.3 5.9-13.3 2.4 34.3 2.2-32.8 2.4 7.3-6-7.1-5.9 23.7-2.3-1.4-2.4-19z" fill="#1e2e85"/>
<path d="M746.9 509l5.8-13.9 5.8-7 2.5 9.3 2.3-5.8 2.5 16.8-6.2-30.4-5.4 39.3-2.6-18.2-2.1 23.1z" fill="#24449c"/>
<path d="M936.2 568.9l6 7.2 6-13 2.1 25.9 2.4-21.6 2.2 8.3-5.9-18-5.9-31.4-2.3 18.1-2.3-2.3z" fill="#2166ac"/>
<path d="M1067.6 915.7l5.5 33.4 6 7.7 2.2-5.3 2.7-31.4 1.7 27.4-5.4-39.8-6.3 9.9-2.5 21.1-1.9-14.2z" fill="#edf8b1"/>
<path d="M1222.1 909.3l6.3-3.4 6.6-15.4 2.1-3.1 2.3-6.4 2.7-22.5-7 27.9-6.7 19.4-1.8-9.8-1.8-9.7z" fill="#d9f0b3"/>
<path d="M1079.1 956.8l6.1-1.8 6.1-3.6 2.1 3.7 2.5-17.3 2 4.2-6-1.8-6.2 7.3-1.7-27.4-2.7 31.4z" fill="#f0f9b7"/>
<path d="M651.5 627.8l5.3-28.3 5.7-4.5 2.7 11.8 2.1-17 2.4-1.6-5.5 17.3-5.6 9.2-2.4 5.8-1.9 26.7z" fill="#1e86bb"/>
<path d="M970.3 661.6l5.9 9.6 6 9.8 2.3-14.9 2.2 4.6 2.4-22.9-6.2 15-5.9-14-2.3 10.7-2.1-17.2z" fill="#2ea3c2"/>
<path d="M1317.8 793.4l6.3-1.3 8.1-49.4 .9 28.6 2-1.6 2.8-19.7-7.3 27-6.9 19.6-1.7-7.9-2.4 10.9z" fill="#7ecdbb"/>
<path d="M1002.5 830.7l6 4.4 6.1-7 2.3-12.1 2 24.2 2.1 6.4-5.8-24-5.9-14.3-2-12.8-2.4 13.2z" fill="#a7dcb7"/>
<path d="M1266.5 863.5l7.2-29 6.4-7.4 2.4-9.3 1.6 11.9 2.3-7.3-7.2 28.1-6.6 12.5-2.2 5.4-1.6-11.2z" fill="#bbe4b5"/>
<path d="M625.4 640.6l6.4 24 5.1-30.2 2.2-15.4 2.6 5.9 2.5 5.9-5.8-3-5.5 15.2-2.1 17.1-2.7-8.9z" fill="#2397c1"/>
<path d="M821.9 450.5l6 7.4 5.9-8.1 2.4 26.7 2.3-13.2 2.2-29.8-5.9 16.5-5.8 15.2-2.4-11.9-2.4-6.1z" fill="#1f2f87"/>
<path d="M924.3 556.3l6-23.7 5.9 36.3 2.3-26.8 2.3 2.3 2.3-18.1-6.1 21.6-5.9-14.8-2.3 2.3-2.2-10.4z" fill="#2259a6"/>
<path d="M803.2 471l5.9-6 5.8-14.8 2.4 14.3 2.3-11.5 2.3-2.5-5.9 7.8-5.8 8.2-2.3 6.2-2.2 15.1z" fill="#21318d"/>
<path d="M1196.7 937.6l6.9-28.5 5.9 11.1 2.4-12.5 2 1 1.8 11.2-6.4 7.5-5.3-29.9-2.7 22.8-2.2 4.1z" fill="#e5f5b2"/>
<path d="M975.5 678.9l5.9 17.8 5.9 11.7 2.4-13.7 2 20.4 2.3-5.3-5.9-19.3-5.9-9.5-2.2-8.3-2.3 6.8z" fill="#3cb1c3"/>
<path d="M902.2 450.1l6-26.9 6 22.1 2.2-1.4 2.3 10.4 2.2 22.9-5.9-14-6-15.3-2.3-6.1-2.2 11.1z" fill="#1c2d81"/>
<path d="M1292 832.4l7.7-42.1 6.2 2.7 2 0 1.3 17.4 3.2-32.5-6.9 19.7-6.8 16.1-2.3 8.3-2.1 2.3z" fill="#95d5b9"/>
<path d="M980.6 717.9l5.9 12.7 5.8 26.7 2.5-28.7 1.8 42.7 2.4-23.7-5.8-18.2-5.9-21-2.2 6-2-27.9z" fill="#55bec1"/>
<path d="M871.4 438.8l6 6.8 6-2.5 2.3 14.2 2.3-8.7 2.2-13.2-5.9 19.5-6-12.8-2.3-10-2.2 20z" fill="#1a2b7e"/>
<path d="M912.4 509.8l5.9 24.7 6 21.8 2.3-31.3 2.2 10.4 2.3-2.3-6-.2-5.9-7.3-2.3-18.3-2.2-28.7z" fill="#2350a1"/>
<path d="M958.4 630.6l6 16.3 5.9 14.7 2.3-19.3 2.1 17.2 2.3-10.7-5.9-7.5-5.8-29.4-2.3 3.5-2.4 21.3z" fill="#2397c1"/>
<path d="M600.2 690.6l5.8 .8 4.5-56.4 3.2 32 2.5 .9 2-22.1-5.3 24.5-6-10.9-2.1 17.7-2.6-6.1z" fill="#2fa4c2"/>
<path d="M784.4 479.6l6 11.1 5.4-59.3 2.7 33.4 2.4 7.1 2.3-.9-5.8 11.5-6.1-21.7-2.4-9.4-2.2 23z" fill="#22328f"/>
<path d="M907.3 450.5l5.9 46.1 6 29 2.3-11 2.3-19.8 2.2 7.5-5.9-33.1-5.9-23.9-2.3 21.7-2.3-1.4z" fill="#253997"/>
<path d="M852.6 440.5l6-1.9 6 34.6 2.2-28 2.4 6.8 2.2-13.2-5.9 22.4-5.9-11.9-2.4-7.3-2.2 32.8z" fill="#1c2d81"/>
<path d="M1215.7 919.9l6.4-9.9 7.1-31.3 1.6 15.8 2.6-18.3 1.6 14.3-6.6 15.4-6.3 3.4-2.1 1.5-2.6 20z" fill="#dcf1b2"/>
<path d="M1122.5 935.6l5.6 22.1 6.2-2.5 1.5 30.1 3-40.8 1.8 11.2-5.5-25-6.4 11.1-2.3 8.5-2.3 11z" fill="#f0f9b8"/>
<path d="M1048.6 935.7l6.2-9.5 5.8 21.7 2.4-19.1 2 11 2.6-24.1-6.5 25.6-5.7-21.8-2.3 5.6-2.1-7.8z" fill="#e9f7b1"/>
<path d="M1007.9 831.9l5.8 24.9 5.9 13.5 2.2 7.2 2.4-21.2 2.1 3.5-5.7-23.3-6-8.4-2.4 21.1-2.1-16z" fill="#bde5b5"/>
<path d="M1036.7 923.4l6.3-20.3 5.6 32.6 2.4-18.4 2.1 7.8 2.3-5.6-6.4 20.8-5.5-40.3-2-13.5-2.4 12.7z" fill="#e2f4b2"/>
<path d="M1091.3 951.4l6.5-19.9 6.1 .6 1.6 26.2 2.3-7.4 1.9 14.8-5.6-26.8-6.2 3.1-2-4.2-2.5 17.3z" fill="#eff9b6"/>
<path d="M1060.6 947.9l6 2.5 6.1-.4 2.1 4.9 2.5-23.5 1.8 25.4-6-7.7-5.5-33.4-2.6 24.1-2-11z" fill="#eef8b3"/>
<path d="M720.9 511.7l6.3 31.9 5.7-10.8 2.3-8 2.3-10.2 2.6 14.6-6.6-48.2-5.5 23-2.4 3.5-2 23.2z" fill="#234c9f"/>
<path d="M941.4 563.1l5.9 27.3 6 9.3 2.1 22.2 2.4-31.9 2.3-11.4-5.9-3.5-6-12-2.3 12.3-2.2-15.5z" fill="#2072b1"/>
<path d="M695.8 579.8l5.9 1.2 4.5-82.6 3 35.6 2.2-9.9 2.5 5.7-5.4 29.3-5.6 14.7-2.6-15.1-2.4 6.1z" fill="#225da8"/>
<path d="M985.9 733.9l5.8 22.8 5.8 27.6 2.4-20 2.1 7 2.1 12.8-5.7-34.9-6.1 8.1-2-20.8-2.3 11.9z" fill="#6bc6be"/>
<path d="M1072.7 950l6 4.9 5.9 9.8 2.1 5.9 2.6-27.1 2 7.9-6.1 3.6-6.1 1.8-1.8-25.4-2.5 23.5z" fill="#f0f9b8"/>
<path d="M929.5 553.5l5.9 16.6 6-7 2.3-3.2 2.2 15.5 2.3-12.3-6 13-6-7.2-2.2-17.4-2.4 29.8z" fill="#2166ac"/>
<path d="M991 771.4l5.8 26 5.7 33.3 2.4-22 2.4-13.2 2 12.8-6 .9-5.8-24.9-2.1-12-2.2-.6z" fill="#89d1ba"/>
<path d="M758.5 488.1l5.7-20.7 6.2 29.8 2.6 21.1 2-34.1 2.6 20.4-6-10.2-5.8 14-2.5-16.8-2.3 5.8z" fill="#243f99"/>
<path d="M1337.9 750l5.4 22 6.8-14.3 2.3-8.8 2-.4-6.4 3.4-6.7 11.9-1.6-9.1z" fill="#69c5be"/>
<path d="M1242.1 858.5l6 8 6.1 2.8 2.2-6.3 2.4-12 2 2.1-6.3 4.1-6.2 .6-2.5 14-2.4 10.2z" fill="#c8e9b4"/>
<path d="M740.1 529.2l5.5-26.2 6 3.4 2.1-16.5 2.7 21.9 2.1-23.7-5.8 7-5.8 13.9-2.4-3.6-2.4-1.1z" fill="#24439b"/>
<path d="M883.4 443.1l6 6.1 5.9 15.6 2.3-13.3 2.3-4.2 2.3 2.8-6-14.4-6-.3-2.2 13.2-2.3 8.7z" fill="#1a2b7e"/>
<path d="M963.5 674.7l6-5.7 6 9.9 2.2 .6 2.3-6.8 2.2 8.3-6-9.8-5.9-9.6-2.1-19.1-2.3-.7z" fill="#2ea3c2"/>
<path d="M1171.5 955.3l6.8-26.4 5.8 12.4 2.4-10.3 2.2-5.5 1.9 4.5-6.2 4.3-6.4 9.7-2.7 25.7-1.1-41.8z" fill="#edf8b1"/>
<path d="M1025.1 879.9l5.8 18 5.8 25.5 2.4-24.2 2.4-12.7 2 13.5-6-6-5.8-19-2.4 14.6-2.4 20z" fill="#d7efb3"/>
<path d="M946.5 608l6 6 5.9 16.6 2.2 6.1 2.4-21.3 2.3-3.5-6.1 15.6-5.9-27.8-2.2-3-2.3 9.9z" fill="#1e86bb"/>
<path d="M917.5 545.7l6-10.8 6 18.6 2.1 27.8 2.4-29.8 2.2 17.4-5.9-36.3-6 23.7-2.3-10.1-2.2-36.8z" fill="#225aa6"/>
<path d="M669.7 588.2l6 8.5 5.4-23.6 2.5 3 2.1-18.6 2.3-7.9-5.2 37.2-5.9-5.3-2.4 2.6-2.4 2.3z" fill="#216daf"/>
<path d="M1134.3 955.2l6.4-13.3 5.6 25.3 2.6-22.1 2.1 .4 1.7 16.3-6-4.6-6.1-1.5-1.8-11.2-3 40.8z" fill="#f1faba"/>
<path d="M777.6 504.6l5.6-27 6 11.4 2.3-5.4 2.2-24.7 2.1-27.5-5.4 59.3-6-11.1-2.3 10.8-2.3 6.3z" fill="#253595"/>
<path d="M1012.8 893l6.4-32.2 5.9 19.1 1.8 29.7 2.4-20 2.4-14.6-6.1-.7-6-4-2.2 1.1-2.1-7.6z" fill="#cfecb3"/>
<path d="M864.6 473.2l5.9-19.5 6 4.1 2.3 9.4 2.3-5.8 2.3-18.3-6 2.5-6-6.8-2.2 13.2-2.4-6.8z" fill="#1c2d81"/>
<path d="M1152.7 961.8l6.8-26.9 5.5 26.7 3-35.4 2.4-12.3 1.1 41.4-5.9-13-6.7 24.4-1.9-6.4-1.4-32.3z" fill="#eef8b3"/>
<path d="M833.8 449.8l5.9-8.7 5.9-10.9 2.4 15.9 2.4 16.7 2.2-22.3-5.9 13.3-6-20.3-2.2 29.8-2.3 13.2z" fill="#1a2b7e"/>
<path d="M996.1 803.8l5.9 22.6 5.9 5.5 2.2 1.3 2.1 16 2.4-21.1-6.1 7-6-4.4-2-26.2-2.3 16.3z" fill="#a5dcb7"/>
<path d="M814.9 450.2l6 6.7 5.9-4.5 2.4 18.7 2.4 5.9 2.2-27.2-5.9 8.1-6-7.4-2.3 2.5-2.3 11.5z" fill="#1e2e85"/>
<path d="M1190.6 930l6.1 2.5 6.8-21.1 2.1-.3 1.9 3.8 2 5.3-5.9-11.1-6.9 28.5-1.9-9.2-2.3 10.5z" fill="#e5f5b2"/>
<path d="M1312.4 777.9l6.5-6.6 6.2-.4 1.6 11 2.3-7.1 3.2-32.1-8.1 49.4-6.3 1.3-1.7-6.8-2.3 6.8z" fill="#78cbbc"/>
<path d="M1103.9 932.1l5.6 25.1 6.2-.6 2.2-7.7 2.5-15.8 2.1 2.5-6.5 17.1-6.3 13-1.9-14.8-2.3 7.4z" fill="#eff9b5"/>
<path d="M592.6 683.2l5.1-28.1 5.9 4.3 3 19.3 1.9-20.4 2-23.3-4.5 56.4-5.8-.8-2.5 .1-1.9 22.5z" fill="#31a5c2"/>
<path d="M644.2 630.8l5.1-38.8 5.8 .5 2.5 .5 2.5 4.3 2.4-2.3-5.7 4.5-5.3 28.3-2.5-1.6-2.5-3.8z" fill="#1f80b8"/>
<path d="M895.3 464.8l6 4.1 6-18.4 2.3 15.1 2.3 1.4 2.3-21.7-6-22.1-6 26.9-2.3-2.8-2.3 4.2z" fill="#1b2c80"/>
<path d="M618.2 645.8l5.6-8.4 5.5-12.6 2.6 4.8 2.5 3.3 2.5 1.5-5.1 30.2-6.4-24-2.6-7.2-2 20.1z" fill="#2094c0"/>
<path d="M973.9 716.6l5.8 34.3 6.2-17 2.1 14.5 2.3-11.9 2 20.8-5.8-26.7-5.9-12.7-2.2 .6-2.3 4.5z" fill="#53bdc1"/>
<path d="M1001.1 857.8l6 4.7 5.7 30.5 2.5-29.2 2.1 7.6 2.2-1.1-5.9-13.5-5.8-24.9-2.1-6.9-2.6 38.5z" fill="#c2e7b4"/>
<path d="M1260.8 853.1l6.4-8 6.6-11.6 2.4-8.6 1.7 7.5 2.2-5.3-6.4 7.4-7.2 29-1.7-8.7-2.1 1.5z" fill="#b2e1b6"/>
<path d="M951.6 639.4l5.9 28.4 6 6.9 2.4-32.9 2.3 .7 2.1 19.1-5.9-14.7-6-16.3-2.2 1.4-2.1-32.3z" fill="#2296c1"/>
<path d="M905.6 501.2l5.9 42.2 6 2.3 2.3-36.3 2.2 36.8 2.3 10.1-6-21.8-5.9-24.7-2.3-1.4-2.3 7.6z" fill="#234fa1"/>
<path d="M732.9 532.8l5.8-13.6 6 8.9 2.1-20.2 2.2-11.6 2.6 10.1-6-3.4-5.5 26.2-2.6-14.6-2.3 10.2z" fill="#24489d"/>
<path d="M968.7 686.8l6.1 3 5.8 28.1 2.5-31.4 2 27.9 2.2-6-5.9-11.7-5.9-17.8-2.3 12.8-2.1-28.5z" fill="#39adc3"/>
<path d="M1030.4 899.8l5.6 32.3 6.4-18.4 2.1-.1 2 20.3 2.1 1.8-5.6-32.6-6.3 20.3-2.2 .6-2.5 20.3z" fill="#e3f4b2"/>
<path d="M795.8 431.4l6.3 38.5 6 10.6 2-43.1 2.6 32.7 2.2-19.9-5.8 14.8-5.9 6-2.3 .9-2.4-7.1z" fill="#1e2e85"/>
<path d="M1332.2 742.7l5.4 23.2 5.9 8.8 3.2-31.8 .8 29.9 2.6-15.1-6.8 14.3-5.4-22-2.8 19.7-2 1.6z" fill="#69c5be"/>
<path d="M1084.6 964.7l6.5-19.1 5.6 29.8 2.5-22.7 2 6.7 2.7-27.3-6.1-.6-6.5 19.9-2-7.9-2.6 27.1z" fill="#eff9b6"/>
<path d="M900.5 464.8l5.9 26.8 6 18.2 2.3-31.2 2.2 28.7 2.3 18.3-6-29-5.9-46.1-2.3 19.5-2.3-11.1z" fill="#253795"/>
<path d="M1054.3 927.4l5.7 32.3 5.9 13.2 2.5-23.5 2.2-3.4 2.1 4-6.1 .4-6-2.5-2.2 .6-1.9-20.4z" fill="#eef8b3"/>
<path d="M1018.4 884.2l5.8 26.6 6.2-11 1.6 44.5 2.5-20.3 2.2-.6-5.8-25.5-5.8-18-2.4 14.4-2.3 11.8z" fill="#dbf1b2"/>
<path d="M845.6 430.2l6.1 26.6 5.9 4.2 2.4-3 2.3 7.1 2.3 8.1-6-34.6-6 1.9-2.2 22.3-2.4-16.7z" fill="#1a2b7e"/>
<path d="M713.9 529.8l5.7-17.5 5.6-18.7 3 46.2 1.8-44 2.9 37-5.7 10.8-6.3-31.9-2.2 17.4-2.2 11.5z" fill="#234b9f"/>
<path d="M688 549.6l6.1 10.8 5.8 0 2.2-14.2 2.3-7 1.8-40.8-4.5 82.6-5.9-1.2-2.6-7.6-2.4 .8z" fill="#225da8"/>
<path d="M1286.4 822.4l6.3-3.4 7.7-41.3 1.5 14.1 2.7-19.5 1.3 20.7-6.2-2.7-7.7 42.1-1.3-20-2 .9z" fill="#89d1ba"/>
<path d="M1235 890.5l6.9-24.6 6.2 1 2.7-20.8 1.4 21.5 2 1.7-6.1-2.8-6-8-2.7 22.5-2.3 6.4z" fill="#c8e9b4"/>
<path d="M876.5 457.8l6-8.7 6 2.3 2.3 13.1 2.2-23.3 2.3 23.6-5.9-15.6-6-6.1-2.3 18.3-2.3 5.8z" fill="#1b2c80"/>
<path d="M1042.4 913.7l5.7 26.2 6.2-12.5 2.2 .7 1.9 20.4 2.2-.6-5.8-21.7-6.2 9.5-2.1-1.8-2-20.3z" fill="#e7f6b1"/>
<path d="M934.7 550.5l5.9 28.8 5.9 28.7 2.3-1.4 2.3-9.9 2.2 3-6-9.3-5.9-27.3-2.3 16.7-2.2-2.1z" fill="#2070b0"/>
<path d="M956.8 663.6l6 9.7 5.9 13.5 2.4-23.6 2.1 28.5 2.3-12.8-6-9.9-6 5.7-2.2-3.5-2.2-9.2z" fill="#2ea3c2"/>
<path d="M1115.7 956.6l6.2-7.5 6.5-15.7 1.6 25.4 1.5 29 2.8-32.6-6.2 2.5-5.6-22.1-2.1-2.5-2.5 15.8z" fill="#eff9b5"/>
<path d="M984.3 771.8l5.6 50.6 6.2-18.6 2.1 17 2.3-16.3 2 26.2-5.7-33.3-5.8-26-2.3 8.8-2.4 11.6z" fill="#87d0ba"/>
<path d="M1209.5 920.2l6.8-23.5 6.5-12 1.7 12.4 2.4-9.6 2.3-8.8-7.1 31.3-6.4 9.9-1.8-11.2-2-1z" fill="#d7efb3"/>
<path d="M857.6 461l6 4.5 6-4.3 2.3 10 2.3-19.4 2.3 6-6-4.1-5.9 19.5-2.3-8.1-2.3-7.1z" fill="#1d2e83"/>
<path d="M1350.1 757.7l7.1-22.1 2.1-3.7 1.3 16.7-6.2-.1-2 .4z" fill="#59bfc0"/>
<path d="M770.4 497.2l5.7-24.2 6 8 2.3-9.3 2.3 2.6 2.5 14.7-6-11.4-5.6 27-2.6-20.4-2 34.1z" fill="#253795"/>
<path d="M979 753.9l5.9 17.8 6.1-.3 2.2 .3 2.2 .6 2.1 12-5.8-27.6-5.8-22.8-2.3 .5-2.3 10.9z" fill="#65c3bf"/>
<path d="M1305.9 793l6.1 1.9 6.5-7.7 2.1-.6 2.4-12.2 2.1-3.5-6.2 .4-6.5 6.6-3.2 32.5-1.3-17.4z" fill="#7acbbc"/>
<path d="M939.8 606l5.9 14.5 5.9 18.9 2.5-39.7 2.1 32.3 2.2-1.4-5.9-16.6-6-6-2.3 8-2.2-14.2z" fill="#1e83ba"/>
<path d="M1146.3 967.2l6.5-17.8 6.3-6.1 2 8 2.3-8.3 1.6 18.6-5.5-26.7-6.8 26.9-1.7-16.3-2.1-.4z" fill="#edf8b2"/>
<path d="M910.7 553.3l6 1 6-.2 2.3-8.2 2.2 14.8 2.3-7.2-6-18.6-6 10.8-2.3 11.6-2.3-10.5z" fill="#2259a6"/>
<path d="M826.8 452.4l6 7.2 5.9-1.4 2.3-6.5 2.3-5.9 2.3-15.6-5.9 10.9-5.9 8.7-2.2 27.2-2.4-5.9z" fill="#1a2b7e"/>
<path d="M1006.3 880.1l6 4.1 6.1 0 2 21.9 2.3-11.8 2.4-14.4-5.9-19.1-6.4 32.2-1.9-34-2.4 20.9z" fill="#cdebb4"/>
<path d="M662.5 595l5.6-13.2 5.3-29.1 2.6 6.1 2.4 .4 2.7 13.9-5.4 23.6-6-8.5-2.4 1.6-2.1 17z" fill="#216bae"/>
<path d="M944.8 662.1l6.1-24.8 5.9 26.3 2.3-1.6 2.2 9.2 2.2 3.5-6-6.9-5.9-28.4-2.2-8.3-2.1-16.4z" fill="#2397c1"/>
<path d="M961.9 703.9l6.1-10.8 5.9 23.5 2.2 6.4 2.3-4.5 2.2-.6-5.8-28.1-6.1-3-2.3 11.4-2.2-10z" fill="#3bb0c3"/>
<path d="M888.5 451.4l6 15.1 6-1.7 2.2-5.9 2.3 11.1 2.3-19.5-6 18.4-6-4.1-2.3-23.6-2.2 23.3z" fill="#1c2d81"/>
<path d="M922.7 554.1l5.9 14.8 6.1-18.4 2.2 27.2 2.2 2.1 2.3-16.7-6 7-5.9-16.6-2.3 7.2-2.2-14.8z" fill="#225ea8"/>
<path d="M1096.7 975.4l6.6-30.7 5.9 14.8 2.2-5.2 2.3-7.3 2 9.6-6.2 .6-5.6-25.1-2.7 27.3-2-6.7z" fill="#eff9b5"/>
<path d="M1065.9 972.9l6.6-32.3 6.1-1.2 2 10.5 2.4-17.3 1.6 32.1-5.9-9.8-6-4.9-2.1-4-2.2 3.4z" fill="#edf8b2"/>
<path d="M1165 961.6l6.7-22.9 6.2 .6 2.5-18.7 1.4 28.4 2.3-7.7-5.8-12.4-6.8 26.4-1.1-41.4-2.4 12.3z" fill="#e8f6b1"/>
<path d="M989.4 805.8l5.8 26.3 5.9 25.7 2.1 5.7 2.6-38.5 2.1 6.9-5.9-5.5-5.9-22.6-2.4 17.7-2.2-4.9z" fill="#a0dab8"/>
<path d="M808.1 480.5l5.7-26.5 6 .2 2.5 23.8 2.2-15.6 2.3-10-5.9 4.5-6-6.7-2.2 19.9-2.6-32.7z" fill="#1b2c80"/>
<path d="M994.4 857.9l6 10.5 5.9 11.7 2.2-.2 2.4-20.9 1.9 34-5.7-30.5-6-4.7-2.1-19.4-2.3 16.3z" fill="#c2e7b4"/>
<path d="M1128.4 933.4l5.7 19.9 5.8 14.2 2.8-29.2 1.8 15.9 1.8 13-5.6-25.3-6.4 13.3-2.8 32.6-1.5-29z" fill="#eff9b5"/>
<path d="M751.6 506.4l5.7-15.6 5.9 .2 2-34.2 2.6 15 2.6 25.4-6.2-29.8-5.7 20.7-2.1 23.7-2.7-21.9z" fill="#253595"/>
<path d="M1184.1 941.3l6.5-13.4 6.5-9.9 2.3-8.9 2.3-8 1.8 10.3-6.8 21.1-6.1-2.5-1.9-4.5-2.2 5.5z" fill="#e0f3b2"/>
<path d="M610.5 635l5.5-14.2 6.2 15 2.4-2.1 2.7 11.4 2-20.3-5.5 12.6-5.6 8.4-2 22.1-2.5-.9z" fill="#1d91c0"/>
<path d="M789.2 489l6-.5 5.7-21.4 2.2-22.7 2.4 .9 2.6 35.2-6-10.6-6.3-38.5-2.1 27.5-2.2 24.7z" fill="#1e2e85"/>
<path d="M898.7 490.7l6 51.9 6 10.7 2.2-6.5 2.3 10.5 2.3-11.6-6-2.3-5.9-42.2-2.3-17.7-2.3 39.4z" fill="#234c9f"/>
<path d="M1280.1 827.1l6.9-18.5 6.6-11.2 1.8 6.4 2-.4 3-25.7-7.7 41.3-6.3 3.4-2.3 7.3-1.6-11.9z" fill="#8ed3ba"/>
<path d="M636.9 634.4l5-39.3 5.9-1.2 2.5 2.4 2.2-10.2 2.6 6.4-5.8-.5-5.1 38.8-2.5-5.9-2.6-5.9z" fill="#1f7ab5"/>
<path d="M1023.7 908.2l5.5 45.9 6.3-14.5 2 9.7 2.6-28.8 2.3-6.8-6.4 18.4-5.6-32.3-2.3 8.2-2.5 25.1z" fill="#e1f3b2"/>
<path d="M927.8 593l5.9 10.4 6.1 2.6 2.2-4.2 2.2 14.2 2.3-8-5.9-28.7-5.9-28.8-2.4 32.2-2.3 5z" fill="#2072b1"/>
<path d="M1035.5 939.6l5.8 15.5 6.4-18.6 1.7 30.2 2.6-28.4 2.3-10.9-6.2 12.5-5.7-26.2-2.3 6.8-2.6 28.8z" fill="#e7f6b1"/>
<path d="M967.3 699l5.8 33.9 5.9 21 2.3-8.6 2.3-10.9 2.3-.5-6.2 17-5.8-34.3-2.3 9.6-2.3 4.2z" fill="#4cbac2"/>
<path d="M1343.5 774.7l7.3-28.4 2.5-11.1 1.5 10.1 2.4-9.7-7.1 22.1-2.6 15.1-.8-29.9z" fill="#5bc0c0"/>
<path d="M972.2 771.2l6.2-19.7 5.9 20.3 2 20 2.4-11.6 2.3-8.8-6.1 .3-5.9-17.8-2.2-1.5-2.5 29.4z" fill="#6bc6be"/>
<path d="M1254.2 869.3l7.7-47.4 5.6 18.3 2.6-17.4 2.3-6.1 1.4 16.8-6.6 11.6-6.4 8-2-2.1-2.4 12z" fill="#a9ddb7"/>
<path d="M893.6 475.7l6 19.7 6 5.8 2.2 14.8 2.3-7.6 2.3 1.4-6-18.2-5.9-26.8-2.3 14.9-2.3-50.5z" fill="#253494"/>
<path d="M838.7 458.2l5.9-21 6.1 38 2.3-15 2.4 19.2 2.2-18.4-5.9-4.2-6.1-26.6-2.3 15.6-2.3 5.9z" fill="#192b7c"/>
<path d="M933 603.1l5.9 31.8 5.9 27.2 2.5-47.4 2.1 16.4 2.2 8.3-5.9-18.9-5.9-14.5-2.3 4.8-2.4 42.4z" fill="#1e88bc"/>
<path d="M950 673.8l6 2.8 5.9 27.3 2.3-15.7 2.2 10 2.3-11.4-5.9-13.5-6-9.7-2.2-11.7-2.3 18.2z" fill="#2ea3c2"/>
<path d="M1047.7 936.5l6.1-.2 6 4.3 1.8 25.8 2.4-15.2 1.9 21.7-5.9-13.2-5.7-32.3-2.3 10.9-2.6 28.4z" fill="#ecf7b1"/>
<path d="M1011.5 905.8l6.1 4 6.1-1.6 1.9 24.9 2.5-25.1 2.3-8.2-6.2 11-5.8-26.6-2.6 32.3-2-14.9z" fill="#d7efb3"/>
<path d="M869.6 461.2l6 9.2 6-13.4 2.3-4.9 2.3 5.9 2.3-6.6-6-2.3-6 8.7-2.3-6-2.3 19.4z" fill="#1a2b7e"/>
<path d="M1078.6 939.4l5.7 23.6 6.1-1.1 2.5-17.8 2 9.4 1.8 21.9-5.6-29.8-6.5 19.1-1.6-32.1-2.4 17.3z" fill="#edf8b2"/>
<path d="M1159.1 943.3l6 8.4 6 6.8 2.2-3.2 2 3.5 2.6-19.5-6.2-.6-6.7 22.9-1.6-18.6-2.3 8.3z" fill="#ecf7b1"/>
<path d="M1325.1 770.9l7.1-22.2 6.2 3 3-26.1 .4 41.8 1.7 7.3-5.9-8.8-5.4-23.2-3.2 32.1-2.3 7.1z" fill="#61c2bf"/>
<path d="M977.4 793l5.8 31.7 6.2-18.9 2.1 10.8 2.2 4.9 2.4-17.7-6.2 18.6-5.6-50.6-2.4 23.3-2.1-18.2z" fill="#85cfba"/>
<path d="M1139.9 967.5l6.3-5.8 6.1 5.7 2.3-12.2 1.4 33.5 3.1-45.4-6.3 6.1-6.5 17.8-1.8-13-1.8-15.9z" fill="#eff9b5"/>
<path d="M681.1 573.1l5.3-31.6 6 1.4 2.5 8.3 2.4-5.5 2.6 14.7-5.8 0-6.1-10.8-2.3 7.9-2.1 18.6z" fill="#2259a6"/>
<path d="M725.2 493.6l6.2 19.1 5.7-16.9 2.2-15.3 2.9 39.5 2.5 8.1-6-8.9-5.8 13.6-2.9-37-1.8 44z" fill="#24419a"/>
<path d="M744.7 528.1l5.7-16.5 5.7-14.2 2.3-6.8 2.4-4.3 2.4 4.7-5.9-.2-5.7 15.6-2.6-10.1-2.2 11.6z" fill="#253b97"/>
<path d="M819.8 454.2l6 1.3 6 9 2.3 5.5 2.3-18 2.3 6.2-5.9 1.4-6-7.2-2.3 10-2.2 15.6z" fill="#1a2b7e"/>
<path d="M1109.2 959.5l5.7 20.6 7-45.7 1.5 33 2.4-12.9 2.6-21.1-6.5 15.7-6.2 7.5-2-9.6-2.3 7.3z" fill="#edf8b1"/>
<path d="M1229.2 878.7l6.3-2.4 7-25.9 2.2-5.4 1.8 9 1.6 12.9-6.2-1-6.9 24.6-1.6-14.3-2.6 18.3z" fill="#c2e7b4"/>
<path d="M1090.4 961.9l6.3-6.6 5.8 14.5 1.6 31.9 3.1-50.9 2 8.7-5.9-14.8-6.6 30.7-1.8-21.9-2-9.4z" fill="#eff9b5"/>
<path d="M915.8 552.9l6 21.1 6 19 2.2-5.3 2.3-5 2.4-32.2-6.1 18.4-5.9-14.8-2.3-1.9-2.3 21.7z" fill="#2260a9"/>
<path d="M585.2 686.4l5.2-20.7 5.4-17.7 3.2 25.2 1.3-46.2 3.3 32.4-5.9-4.3-5.1 28.1-2.9-15.5-2.6-4.2z" fill="#259ac1"/>
<path d="M850.7 475.2l6-14.9 5.9-33.6 2.4 32.5 2.3-1 2.3 3-6 4.3-6-4.5-2.2 18.4-2.4-19.2z" fill="#1a2b7e"/>
<path d="M999.9 856.6l5.7 37.1 5.9 12.1 2.3-4.2 2 14.9 2.6-32.3-6.1 0-6-4.1-2.2-4.5-2.1-8z" fill="#cbebb4"/>
<path d="M782.1 481l5.8-12.5 6 .6 2.4 11 2.3-7.7 2.3-5.3-5.7 21.4-6 .5-2.5-14.7-2.3-2.6z" fill="#203089"/>
<path d="M706.2 498.4l6.1 14.4 6.1 13.8 2.3-12.7 2.4-1.4 2.1-18.9-5.6 18.7-5.7 17.5-2.5-5.7-2.2 9.9z" fill="#24419a"/>
<path d="M1203.5 911.4l6.4-9.7 6.6-14.3 2.2-3.5 2.3-7.5 1.8 8.3-6.5 12-6.8 23.5-2-5.3-1.9-3.8z" fill="#d1edb3"/>
<path d="M655.1 592.5l5.4-22.9 6.2 15.7 2.3-5.5 2.5 2.7 1.9-29.8-5.3 29.1-5.6 13.2-2.4 2.3-2.5-4.3z" fill="#2168ad"/>
<path d="M955.2 696l5.9 27.5 6.2-24.5 2 31.4 2.3-4.2 2.3-9.6-5.9-23.5-6.1 10.8-2.1-23.9-2.4 18.6z" fill="#3aaec3"/>
<path d="M1300.4 777.7l5.6 17.6 5.9 9.8 3.8-50.6 .9 31.5 1.9 1.2-6.5 7.7-6.1-1.9-1.3-20.7-2.7 19.5z" fill="#73c8bd"/>
<path d="M629.3 624.8l5.6-12.4 5.8-3.6 2.5 2.2 2.4-.7 2.2-16.4-5.9 1.2-5 39.3-2.5-1.5-2.5-3.3z" fill="#1f7db6"/>
<path d="M938.1 624.7l5.9 43.1 6 6 2.3-3.7 2.3-18.2 2.2 11.7-5.9-26.3-6.1 24.8-2.2-20.1-2.3 3.4z" fill="#2195c0"/>
<path d="M982.6 825.3l6 5.4 5.8 27.2 2.3-3.2 2.3-16.3 2.1 19.4-5.9-25.7-5.8-26.3-2.2 0-2.3 8.8z" fill="#9ed9b8"/>
<path d="M1059.8 940.6l5.7 26 6.4-15.4 2.1 1.6 2.3-4.5 2.3-8.9-6.1 1.2-6.6 32.3-1.9-21.7-2.4 15.2z" fill="#ecf7b1"/>
<path d="M903.8 542.4l6 4.4 6 6.1 2.3 21 2.3-21.7 2.3 1.9-6 .2-6-1-2.3-28.6-2.3 22.7z" fill="#2354a3"/>
<path d="M921 568.6l5.9 43.8 6.1-9.3 2.1 50.1 2.4-42.4 2.3-4.8-6.1-2.6-5.9-10.4-2.3-16-2.2 3.1z" fill="#2073b2"/>
<path d="M881.6 457l6 5.4 6 13.3 2.3-46.5 2.3 50.5 2.3-14.9-6 1.7-6-15.1-2.3 6.6-2.3-5.9z" fill="#192b7c"/>
<path d="M800.9 467.1l5.9-14.5 6 14.8 2.5 16.8 2.2-23.2 2.3-6.8-6-.2-5.7 26.5-2.6-35.2-2.4-.9z" fill="#192b7c"/>
<path d="M1177.9 939.3l6.6-17.7 6.2-.1 2.3-8.8 1.7 16.8 2.4-11.5-6.5 9.9-6.5 13.4-2.3 7.7-1.4-28.4z" fill="#e0f3b2"/>
<path d="M960.4 713.6l5.9 30 5.9 27.6 2.1 10.6 2.5-29.4 2.2 1.5-5.9-21-5.8-33.9-2.4 18.9-2.2-2.2z" fill="#4cbac2"/>
<path d="M831.8 464.5l6 19.9 5.9-26 2.4 9.9 2.2-11.4 2.4 18.3-6.1-38-5.9 21-2.3-6.2-2.3 18z" fill="#1a2b7e"/>
<path d="M1121.9 934.4l5.3 42.9 6.5-15.6 2 4.2 2.7-23.6 1.5 25.2-5.8-14.2-5.7-19.9-2.6 21.1-2.4 12.9z" fill="#edf8b1"/>
<path d="M763.2 491l5.6-28.3 6.2 27.6 2.3-9.3 2.3-6.7 2.5 6.7-6-8-5.7 24.2-2.6-25.4-2.6-15z" fill="#203089"/>
<path d="M1102.5 969.8l6.4-14.1 6.1 7.3 1.7 18.5 2.8-31.3 2.4-15.8-7 45.7-5.7-20.6-2-8.7-3.1 50.9z" fill="#eff9b5"/>
<path d="M987.8 844.9l5.9 20.7 6.2-9 2.1 11 2.1 8 2.2 4.5-5.9-11.7-6-10.5-2.3 5.9-2.1-13.9z" fill="#b7e3b6"/>
<path d="M577.9 696.3l5.3-20.9 5.7-5.6 2.2-9.4 3.2 28.1 1.5-40.5-5.4 17.7-5.2 20.7-2.6-4.4-2.5 2z" fill="#2a9ec1"/>
<path d="M891.8 523.5l6 8.4 6 10.5 2.3 5 2.3-22.7 2.3 28.6-6-10.7-6-51.9-2.3 30.5-2.3-10.7z" fill="#24489d"/>
<path d="M862.6 426.7l6.1 51 6 .5 2.3-7 2.3-3 2.3-11.2-6 13.4-6-9.2-2.3-3-2.3 1z" fill="#192b7c"/>
<path d="M603.6 659.4l5.1-29.5 5.8-2.4 2.5 2.5 2.5-.3 2.7 6.1-6.2-15-5.5 14.2-2 23.3-1.9 20.4z" fill="#1e8bbd"/>
<path d="M1248.1 866.9l6.7-15.5 6.8-18.3 1.9 6.1 2.9-27.5 1.1 28.5-5.6-18.3-7.7 47.4-2-1.7-1.4-21.5z" fill="#a5dcb7"/>
<path d="M1017.2 895.3l5.7 32.6 6 5.1 2.2-.1 2.3-1.7 2.1 8.4-6.3 14.5-5.5-45.9-2.7 42.2-1.6-55z" fill="#ddf2b2"/>
<path d="M1318.5 787.2l7.3-26.9 7.1-21.3 .9 28.5 1.6 9.7 3-25.5-6.2-3-7.1 22.2-2.1 3.5-2.4 12.2z" fill="#61c2bf"/>
<path d="M699.9 560.4l5.3-36.7 6.1 8 2.2-10.8 2.4-1.8 2.5 7.5-6.1-13.8-6.1-14.4-1.8 40.8-2.3 7z" fill="#24479d"/>
<path d="M1273.8 833.5l7-21.9 7-21.4 1.7 9.1 2.9-26.5 1.2 24.6-6.6 11.2-6.9 18.5-2.2 5.3-1.7-7.5z" fill="#85cfba"/>
<path d="M1338.4 751.7l6.1 4.1 1.9 1.8 2.8-19.3 1.6 8-7.3 28.4-1.7-7.3-.4-41.8z" fill="#55bec1"/>
<path d="M1152.3 967.4l6.7-27.3 6.1 5.4 2.4-13.9 1.3 36.4 2.3-9.5-6-6.8-6-8.4-3.1 45.4-1.4-33.5z" fill="#ecf7b1"/>
<path d="M1133.7 961.7l5.9 10.1 6.2 .3 2.4-12.8 1.7 18.3 2.4-10.2-6.1-5.7-6.3 5.8-1.5-25.2-2.7 23.6z" fill="#eff9b5"/>
<path d="M1071.9 951.2l5.9 13.3 6.1 .7 2.2-5 2.2 2.2 2.1-.5-6.1 1.1-5.7-23.6-2.3 8.9-2.3 4.5z" fill="#ecf7b1"/>
<path d="M943.3 665.4l6-2.8 5.9 33.4 2.2 2.6 2.4-18.6 2.1 23.9-5.9-27.3-6-2.8-2.2-10-2.3 17.9z" fill="#2b9fc2"/>
<path d="M970.5 815.6l6.2-20.5 5.9 30.2 2.3-10.7 2.3-8.8 2.2 0-6.2 18.9-5.8-31.7-2.3 2.9-2.2-2.8z" fill="#80cebb"/>
<path d="M926.1 604.6l6 22.6 6-2.5 2.2 20.7 2.3-3.4 2.2 20.1-5.9-27.2-5.9-31.8-2.4 22-2.2-13.8z" fill="#1e83ba"/>
<path d="M965.6 754.2l5.8 24.9 6 13.9 2.4-16.1 2.1 18.2 2.4-23.3-5.9-20.3-6.2 19.7-2.1-26.3-2.2-.2z" fill="#61c2bf"/>
<path d="M1028.9 933l6.3-11.9 6 4.4 1.9 25.2 2.3-10.1 2.3-4.1-6.4 18.6-5.8-15.5-2.1-8.4-2.3 1.7z" fill="#e2f4b2"/>
<path d="M1222.8 884.7l6.6-12.7 6.7-16.9 2.2-4.4 1.1 34.1 3.1-34.4-7 25.9-6.3 2.4-2.3 8.8-2.4 9.6z" fill="#c0e6b5"/>
<path d="M886.7 478.8l6 8.4 6 3.5 2.3 32.2 2.3-39.4 2.3 17.7-6-5.8-6-19.7-2.3-44.8-2.3 53.8z" fill="#21318d"/>
<path d="M812.8 467.4l5.8-27.4 6.1 24 2.4 10.3 2.3-7.3 2.4-2.5-6-9-6-1.3-2.3 6.8-2.2 23.2z" fill="#192b7c"/>
<path d="M622.2 635.8l5.6-10.2 5.3-23.3 2.7 11.8 3 22.4 1.9-27.7-5.8 3.6-5.6 12.4-2 20.3-2.7-11.4z" fill="#1f80b8"/>
<path d="M1004.9 906.5l6 4.4 6.3-15.6 2.2 .1 1.6 55 2.7-42.2-6.1 1.6-6.1-4-2.1-2.7-2-23.3z" fill="#d3eeb3"/>
<path d="M909 557.2l5.9 51.2 6.1-39.8 2.3 11.5 2.2-3.1 2.3 16-6-19-6-21.1-2.3 14.4-2.2-20.6z" fill="#225ea8"/>
<path d="M756.1 497.4l6.2 22.6 5.7-25.1 2.2-13.4 2.4 1.2 2.4 7.6-6.2-27.6-5.6 28.3-2.4-4.7-2.4 4.3z" fill="#22328f"/>
<path d="M673.4 552.7l5.5-24.2 6.4 26.4 2.4-1.2 2.7 14.9 2-25.7-6-1.4-5.3 31.6-2.7-13.9-2.4-.4z" fill="#2352a3"/>
<path d="M1197.1 918l6.6-15 6.2 .1 2.4-13 1.6 18.8 2.6-21.5-6.6 14.3-6.4 9.7-1.8-10.3-2.3 8z" fill="#d0edb3"/>
<path d="M975.9 821.8l6 9.8 5.9 13.3 2.2 5 2.1 13.9 2.3-5.9-5.8-27.2-6-5.4-2.2-7.9-2.4 24.6z" fill="#9ed9b8"/>
<path d="M1041.2 925.5l5.9 21.9 6 5.6 2.1 2.4 2.1 10.1 2.5-24.9-6-4.3-6.1 .2-2.3 4.1-2.3 10.1z" fill="#e5f5b2"/>
<path d="M1053.1 953l5.9 14.2 6 4.4 2.5-21.6 2 16.8 2.4-15.6-6.4 15.4-5.7-26-2.5 24.9-2.1-10.1z" fill="#ecf7b1"/>
<path d="M1171.1 958.5l6.6-18.6 6.5-11.1 2.4-11 2 3.7 2.1 0-6.2 .1-6.6 17.7-2.6 19.5-2-3.5z" fill="#e1f3b2"/>
<path d="M874.7 478.2l5.9-27.5 6.1 28.1 2.3 5.9 2.3-53.8 2.3 44.8-6-13.3-6-5.4-2.3 11.2-2.3 3z" fill="#192b7c"/>
<path d="M993 882.6l6 6 5.9 17.9 2.5-26.7 2 23.3 2.1 2.7-5.9-12.1-5.7-37.1-2.5 27.7-2.3 2.2z" fill="#c9eab4"/>
<path d="M737.1 495.8l5.6-19 6.1 12.8 2.5 9 2.2-17.9 2.6 16.7-5.7 14.2-5.7 16.5-2.5-8.1-2.9-39.5z" fill="#253494"/>
<path d="M1083.9 965.2l6.5-18.9 5.7 23.4 2.2-5.7 2.3-5.4 1.9 11.2-5.8-14.5-6.3 6.6-2.1 .5-2.2-2.2z" fill="#edf8b1"/>
<path d="M718.4 526.6l5.7-19.3 5.7-13.6 2.5 9.5 2.5 6.3 2.3-13.7-5.7 16.9-6.2-19.1-2.1 18.9-2.4 1.4z" fill="#253997"/>
<path d="M793.9 469.1l5.9-5.6 5.9-7.5 2.5 18 2.2-12.5 2.4 5.9-6-14.8-5.9 14.5-2.3 5.3-2.3 7.7z" fill="#192b7c"/>
<path d="M1293.6 797.4l7.4-33.4 6.1 5.1 1.4 17.8 2.6-14.9 .8 33.1-5.9-9.8-5.6-17.6-3 25.7-2 .4z" fill="#6fc7bd"/>
<path d="M843.7 458.4l6-3.5 5.9-15.1 2.5 46.3 2.2-30.7 2.3-28.7-5.9 33.6-6 14.9-2.4-18.3-2.2 11.4z" fill="#172976"/>
<path d="M1065 971.6l6 8.9 6.1 .2 2.2 2.6 2.4-15.4 2.2-2.7-6.1-.7-5.9-13.3-2.4 15.6-2-16.8z" fill="#eef8b3"/>
<path d="M775 490.3l5.7-33.1 6 6.3 2.6 27.6 2.1-28.1 2.5 6.1-6-.6-5.8 12.5-2.5-6.7-2.3 6.7z" fill="#1c2d81"/>
<path d="M948.4 708.9l6 7.5 6-2.8 2.3 2.1 2.2 2.2 2.4-18.9-6.2 24.5-5.9-27.5-2.1-29.3-2.4 34.2z" fill="#35aac3"/>
<path d="M896.9 558.5l6-1.1 6.1-.2 2.3-10.5 2.2 20.6 2.3-14.4-6-6.1-6-4.4-2.3-.2-2.3-7.4z" fill="#2351a2"/>
<path d="M1267.5 840.2l6.4-5 6.9-19.7 2.1-1.8 2.3-7.1 2.6-16.4-7 21.4-7 21.9-1.4-16.8-2.3 6.1z" fill="#87d0ba"/>
<path d="M824.7 464l5.9-15.4 6.3 60.5 2-76.6 2.4 19.5 2.4 6.4-5.9 26-6-19.9-2.4 2.5-2.3 7.3z" fill="#182a7a"/>
<path d="M1115 963l6.6-22.9 5.3 42.2 2.7-26.6 2.2-5.8 1.9 11.8-6.5 15.6-5.3-42.9-2.4 15.8-2.8 31.3z" fill="#eaf7b1"/>
<path d="M647.8 593.9l5.6-12.1 5.4-21 2.7 11.3 2.1-19.5 3.1 32.7-6.2-15.7-5.4 22.9-2.6-6.4-2.2 10.2z" fill="#2260a9"/>
<path d="M931.3 623.8l6 20.6 6 21 2.2 16.3 2.3-17.9 2.2 10-6-6-5.9-43.1-2.2-3.1-2.3 16.5z" fill="#1d8ebf"/>
<path d="M914.1 578.9l6 22.4 6 3.3 2.3 6.7 2.2 13.8 2.4-22-6.1 9.3-5.9-43.8-2.3 21.9-2.3-4.4z" fill="#216daf"/>
<path d="M953.7 712.8l5.7 56.5 6.2-15.1 2.3-9.5 2.2 .2 2.1 26.3-5.9-27.6-5.9-30-2.2 4.2-2.3 3.3z" fill="#48b9c3"/>
<path d="M692.4 542.9l5.4-29 5.9 1.1 2.8 24.3 1.9-32.6 2.9 25-6.1-8-5.3 36.7-2.6-14.7-2.4 5.5z" fill="#24479d"/>
<path d="M1009.9 955.3l6.4-35.2 5.7 40.2 2.5-25.1 2 18 2.4-20.2-6-5.1-5.7-32.6-2.4 13-2.4 20.8z" fill="#ddf2b2"/>
<path d="M1311.9 805.1l7.3-28.4 6.6-10.4 2.6-14 1 26.3 3.5-39.6-7.1 21.3-7.3 26.9-1.9-1.2-.9-31.5z" fill="#5fc1c0"/>
<path d="M963.7 826l6.2-19.3 6 15.1 2.1 20.2 2.4-24.6 2.2 7.9-5.9-30.2-6.2 20.5-2-30.1-2.3 6.4z" fill="#80cebb"/>
<path d="M1096.1 969.7l6 6.8 6.3-7.2 2.1 2 2.4-14.2 2.1 5.9-6.1-7.3-6.4 14.1-1.9-11.2-2.3 5.4z" fill="#edf8b1"/>
<path d="M595.8 648l5.5-13.7 6.3 17.4 2.4-2.9 2-22.8 2.5 1.5-5.8 2.4-5.1 29.5-3.3-32.4-1.3 46.2z" fill="#1e88bc"/>
<path d="M879.8 487.5l6-4.9 6 40.9 2.3-13 2.3 10.7 2.3-30.5-6-3.5-6-8.4-2.4-26.3-2.2 33.1z" fill="#22328f"/>
<path d="M958.9 740l5.9 30 5.7 45.6 2.4-22.5 2.2 2.8 2.3-2.9-6-13.9-5.8-24.9-2.3-.5-2.2-9.4z" fill="#61c2bf"/>
<path d="M1242.5 850.4l6.3-3 6.8-17.9 1.4 19.1 2.4-10.5 2.2-5-6.8 18.3-6.7 15.5-1.6-12.9-1.8-9z" fill="#a0dab8"/>
<path d="M884.9 502.2l6 30.4 6 25.9 2.3-23.7 2.3 7.4 2.3 .2-6-10.5-6-8.4-2.3-9-2.3-5.7z" fill="#24449c"/>
<path d="M569.9 678.6l5.8-1.5 4.9-33.7 3.1 21.2 2.2-13.6 3 18.8-5.7 5.6-5.3 20.9-2.5-1.5-2.5 2.4z" fill="#259ac1"/>
<path d="M1022 960.3l6.3-13.9 6.1-.6 2.2-1.6 2.1 6.6 2.5-25.3-6-4.4-6.3 11.9-2.4 20.2-2-18z" fill="#e1f3b2"/>
<path d="M1332.9 739l5.9 10.8 2.2-5 2.2-7.5 1.3 18.5-6.1-4.1-3 25.5-1.6-9.7z" fill="#50bbc2"/>
<path d="M998.3 898.8l5.8 25.8 5.8 30.7 2.5-26.2 2.4-20.8 2.4-13-6.3 15.6-6-4.4-2.1-10.5-2.3 6.8z" fill="#d3eeb3"/>
<path d="M1145.8 972.1l6.8-28.6 6 10.6 2.2-4.4 2.2-2.9 2.1-1.3-6.1-5.4-6.7 27.3-2.4 10.2-1.7-18.3z" fill="#e8f6b1"/>
<path d="M981.1 839.5l6 10.3 5.9 32.8 2.1 3.9 2.3-2.2 2.5-27.7-6.2 9-5.9-20.7-2.2-4.8-2.3 12.6z" fill="#abdeb7"/>
<path d="M902.1 579.1l6-.4 6 .2 2.3 7.2 2.3 4.4 2.3-21.9-6.1 39.8-5.9-51.2-2.3 7-2.3-9.6z" fill="#225da8"/>
<path d="M855.6 439.8l6.1 37.2 6-16 2.3-27.6 2.3 22.9 2.4 21.9-6-.5-6.1-51-2.3 28.7-2.2 30.7z" fill="#162874"/>
<path d="M1077.1 980.7l6.4-16.6 5.9 15.5 2.3-7.4 2.2-3.6 2.2 1.1-5.7-23.4-6.5 18.9-2.2 2.7-2.4 15.4z" fill="#edf8b2"/>
<path d="M666.7 585.3l5.4-23.7 6 4.4 1.8-34.6 2.6 6.3 2.8 17.2-6.4-26.4-5.5 24.2-1.9 29.8-2.5-2.7z" fill="#2352a3"/>
<path d="M936.5 639.3l5.9 54.7 6 14.9 2.3-8 2.4-34.2 2.1 29.3-5.9-33.4-6 2.8-2.4 15.4-2.2-10.9z" fill="#269bc1"/>
<path d="M1126.9 982.3l6.7-28.6 5.9 12.6 2.4-11.4 2.1 1.2 1.8 16-6.2-.3-5.9-10.1-1.9-11.8-2.2 5.8z" fill="#eaf7b1"/>
<path d="M1165.1 945.5l6.2-.3 6.1 3.6 2.6-19.1 2.2-5.3 2 4.4-6.5 11.1-6.6 18.6-2.3 9.5-1.3-36.4z" fill="#e0f3b2"/>
<path d="M919.3 612.5l5.9 37.5 6.1-26.2 2.3 14.3 2.3-16.5 2.2 3.1-6 2.5-6-22.6-2.3 19-2.3 6.6z" fill="#1f7bb6"/>
<path d="M1190.7 921.5l5.9 11.8 7.8-60.2 1.9 6.7 1.7 15.4 1.9 7.9-6.2-.1-6.6 15-2.4 11.5-1.7-16.8z" fill="#cfecb3"/>
<path d="M805.7 456l6 11.7 6-1.9 2.3-9.7 2.4 9.1 2.3-1.2-6.1-24-5.8 27.4-2.4-5.9-2.2 12.5z" fill="#162874"/>
<path d="M1034.4 945.8l5.9 11.2 6.1 4.6 2.3-7.8 2.2-4.1 2.2 3.3-6-5.6-5.9-21.9-2.5 25.3-2.1-6.6z" fill="#e3f4b2"/>
<path d="M890 542.4l6 18 6.1 18.7 2.3-24.5 2.3 9.6 2.3-7-6.1 .2-6 1.1-2.3-17.4-2.3 22.2z" fill="#2351a2"/>
<path d="M748.8 489.6l6.1 7.1 5.7-18 2.3-4.5 2.4-.9 2.7 21.6-5.7 25.1-6.2-22.6-2.6-16.7-2.2 17.9z" fill="#21308b"/>
<path d="M1216.5 887.4l6.5-7.3 6.4-8.8 2.6-16.2 2.3-9.8 1.8 9.8-6.7 16.9-6.6 12.7-1.8-8.3-2.3 7.5z" fill="#b4e2b6"/>
<path d="M640.7 608.8l5.7-5 5.2-34.8 2.1-19.2 3.2 39 1.9-28-5.4 21-5.6 12.1-2.2 16.4-2.4 .7z" fill="#2163aa"/>
<path d="M711.3 531.7l5.7-14.6 5.4-32.6 2.3-9.7 3 41.9 2.1-23-5.7 13.6-5.7 19.3-2.5-7.5-2.4 1.8z" fill="#253795"/>
<path d="M867.7 461l6 19.3 6.1 7.2 2.3-1.9 2.2-33.1 2.4 26.3-6.1-28.1-5.9 27.5-2.4-21.9-2.3-22.9z" fill="#172978"/>
<path d="M768 494.9l5.8-8.9 5.6-32.8 2.8 43.2 2.3-14.7 2.2-18.2-6-6.3-5.7 33.1-2.4-7.6-2.4-1.2z" fill="#1c2d81"/>
<path d="M729.8 493.7l6.4 38 5.4-46.4 2.6 17.1 2.3-3.3 2.3-9.5-6.1-12.8-5.6 19-2.3 13.7-2.5-6.3z" fill="#233390"/>
<path d="M1046.4 961.6l6 7.4 6.3-15.3 2 14 2.5-17.8 1.8 21.7-6-4.4-5.9-14.2-2.2-3.3-2.2 4.1z" fill="#e8f6b1"/>
<path d="M1261.6 833.1l6.5-7.5 7-21 1.9 2.9 1.1 27.8 2.7-19.8-6.9 19.7-6.4 5-1.1-28.5-2.9 27.5z" fill="#89d1ba"/>
<path d="M941.6 699.8l6 19.1 6.1-6.1 2.2 8.3 2.3-3.3 2.2-4.2-6 2.8-6-7.5-2.1-44.8-2.5 53.6z" fill="#34a9c3"/>
<path d="M836.9 509.1l5.8-47.6 6 11.3 2.4-2.7 2.2-24.6 2.3-5.7-5.9 15.1-6 3.5-2.4-6.4-2.4-19.5z" fill="#152772"/>
<path d="M986.4 865.3l6 6.8 5.9 26.7 2.2 4 2.3-6.8 2.1 10.5-5.9-17.9-6-6-2.4 13.9-2-31.4z" fill="#c2e7b4"/>
<path d="M786.7 463.5l5.9-1.5 6-6.8 2.5 15.7 2.3-8.8 2.3-6.1-5.9 7.5-5.9 5.6-2.5-6.1-2.1 28.1z" fill="#172976"/>
<path d="M969.1 819.4l5.9 23.5 6.1-3.4 2.2 13.2 2.3-12.6 2.2 4.8-5.9-13.3-6-9.8-2.4 14.1-2.2-8.8z" fill="#92d5b9"/>
<path d="M1108.4 969.3l6.6-21.8 5.5 31.6 2.6-22.2 1.7 21.4 2.1 4-5.3-42.2-6.6 22.9-2.1-5.9-2.4 14.2z" fill="#eaf7b1"/>
<path d="M1003.4 932.7l6.1 3.8 6.1-1.3 2 19.6 2.3-4.2 2.1 9.7-5.7-40.2-6.4 35.2-1.9-33-2.2-.7z" fill="#ddf2b2"/>
<path d="M614.5 627.5l5.5-14.7 5.9-.5 2.3-8.6 2.3-9 2.6 7.6-5.3 23.3-5.6 10.2-2.7-6.1-2.5 .3z" fill="#2075b3"/>
<path d="M817.7 465.8l6 8.4 6-5.7 2.3-1.4 2.4 4.2 2.5 37.8-6.3-60.5-5.9 15.4-2.3 1.2-2.4-9.1z" fill="#172978"/>
<path d="M685.3 554.9l5.9 .7 5.5-22.3 2.1-20.1 2.6 8 2.3-6.2-5.9-1.1-5.4 29-2 25.7-2.7-14.9z" fill="#24459c"/>
<path d="M588.9 669.8l5.2-23.6 5.4-19.4 2.4-5.1 3 20.4 2.7 9.6-6.3-17.4-5.5 13.7-1.5 40.5-3.2-28.1z" fill="#1e8abd"/>
<path d="M951.9 774.6l6 4.5 5.8 46.9 2.5-34.1 2.3-6.4 2 30.1-5.7-45.6-5.9-30-2.5 27.8-2.2-7.9z" fill="#63c3bf"/>
<path d="M1058.7 953.7l5.8 25.2 6.2-1.4 2.7-37.1 1.7 33.4 2 6.9-6.1-.2-6-8.9-1.8-21.7-2.5 17.8z" fill="#eaf7b1"/>
<path d="M946.7 740l6.1 2.7 6.1-2.7 2.2 4.3 2.2 9.4 2.3 .5-6.2 15.1-5.7-56.5-2.5 33.1-2.1-22.8z" fill="#44b7c4"/>
<path d="M1089.4 979.6l6 7 6.6-20.9 2.5-21 1.6 31.9 2.3-7.3-6.3 7.2-6-6.8-2.2-1.1-2.2 3.6z" fill="#edf8b1"/>
<path d="M1015.6 935.2l5.9 23 6.1-4.9 2.4-12.8 2.1 6.3 2.3-1-6.1 .6-6.3 13.9-2.1-9.7-2.3 4.2z" fill="#e2f4b2"/>
<path d="M1307.1 769.1l6.5-6.5 5.5 23.6 2.3-8.3 3.3-35 1.1 23.4-6.6 10.4-7.3 28.4-.8-33.1-2.6 14.9z" fill="#5dc0c0"/>
<path d="M907.2 583l6.1-4.3 6 33.8 2.2 17.7 2.3-6.6 2.3-19-6-3.3-6-22.4-2.3 15.5-2.3-7.3z" fill="#2168ad"/>
<path d="M1287.8 790.2l6.6-11.4 6.3 1.8 1.5 13.6 2.2-5.9 2.7-19.2-6.1-5.1-7.4 33.4-1.2-24.6-2.9 26.5z" fill="#65c3bf"/>
<path d="M1209.9 903.1l6.9-26.3 6.5-7.5 1.8 7.9 1.9 5 2.4-10.9-6.4 8.8-6.5 7.3-2.6 21.5-1.6-18.8z" fill="#bde5b5"/>
<path d="M957.1 804l6.2-19 5.8 34.4 2.2 7.7 2.2 8.8 2.4-14.1-6-15.1-6.2 19.3-2.2-2.8-2.2-18.6z" fill="#7ecdbb"/>
<path d="M877.9 517l6.1 19.3 6 6.1 2.3 20.9 2.3-22.2 2.3 17.4-6-25.9-6-30.4-2.3 15.9-2.4-13.7z" fill="#24419a"/>
<path d="M1120.5 979.1l6.7-23.9 5.2 45.9 2.9-35.2 2.1-.5 2.1 .9-5.9-12.6-6.7 28.6-2.1-4-1.7-21.4z" fill="#ecf7b1"/>
<path d="M848.7 472.8l6-5.6 6.1 10.3 2.3-5.4 2.3-14.6 2.3 3.5-6 16-6.1-37.2-2.3 5.7-2.2 24.6z" fill="#152772"/>
<path d="M974.2 863.2l6 12.2 6.2-10.1 2.2-.2 2 31.4 2.4-13.9-5.9-32.8-6-10.3-2.2 5.6-2.4 8.8z" fill="#a9ddb7"/>
<path d="M924.4 637.9l6.1 7.6 6-6.2 2.2 30.6 2.2 10.9 2.4-15.4-6-21-6-20.6-2.2-10.1-2.4 29.3z" fill="#1e86bb"/>
<path d="M658.8 560.8l5.9-1.2 5.7-9.7 2.7 8.9 2.6 9.6 2.4-2.4-6-4.4-5.4 23.7-3.1-32.7-2.1 19.5z" fill="#2352a3"/>
<path d="M1139.5 966.3l5.8 19.5 7.3-51.3 2 4.5 1.3 39.8 2.7-24.7-6-10.6-6.8 28.6-1.8-16-2.1-1.2z" fill="#e6f5b2"/>
<path d="M1325.8 766.3l6.4-3 2.8-19 2.1-3.7 1.7 9.2-5.9-10.8-3.5 39.6-1-26.3z" fill="#4cbac2"/>
<path d="M829.7 468.5l6 .1 6-2.4 2.3-5.8 2.4 1.9 2.3 10.5-6-11.3-5.8 47.6-2.5-37.8-2.4-4.2z" fill="#172978"/>
<path d="M1236.1 855.1l6.8-18.4 6.5-7.3 1.6 16.2 3-32.4 1.6 16.3-6.8 17.9-6.3 3-3.1 34.4-1.1-34.1z" fill="#97d6b9"/>
<path d="M872.8 469.6l6-3 6.1 35.6 2.3 6.6 2.3 5.7 2.3 9-6-40.9-6 4.9-2.4-21.4-2.3-3.3z" fill="#1e2e85"/>
<path d="M798.6 455.2l6 6 6.2 25.2 2.3-8 2.2-18.6 2.4 6-6 1.9-6-11.7-2.3 6.1-2.3 8.8z" fill="#162874"/>
<path d="M991.9 864.2l5.6 51.6 5.9 16.9 2.4-11.1 2.2 .7 1.9 33-5.8-30.7-5.8-25.8-2.2-12-2.3 16.4z" fill="#ceecb3"/>
<path d="M562.4 680.4l5.7-4.9 5.7-3.3 2-19 2.8 10.9 2-20.7-4.9 33.7-5.8 1.5-2.4 4.7-2.1 14.2z" fill="#2195c0"/>
<path d="M703.7 515l5.8-8.9 6.4 29.1 2-25.2 2.6 7.7 1.9-33.2-5.4 32.6-5.7 14.6-2.9-25-1.9 32.6z" fill="#253896"/>
<path d="M1027.6 953.3l6 9.4 6.1 7.8 2.3-7.3 2.5-24.2 1.9 22.6-6.1-4.6-5.9-11.2-2.3 1-2.1-6.3z" fill="#e2f4b2"/>
<path d="M883.1 564l6-17.9 6.1 22.4 2.3-11.3 2.3 4.5 2.3 17.4-6.1-18.7-6-18-2.3 30-2.3 6.2z" fill="#2351a2"/>
<path d="M1184.2 928.8l6.7-17.5 6.6-16.3 2.1 .3 1.8 12.5 3-34.7-7.8 60.2-5.9-11.8-2.1 0-2-3.7z" fill="#cdebb4"/>
<path d="M1039.7 970.5l5.9 11.3 6.5-22.9 1.8 28.6 2.4-15.3 2.4-18.5-6.3 15.3-6-7.4-1.9-22.6-2.5 24.2z" fill="#e8f6b1"/>
<path d="M895.2 568.5l6-7.5 6 22 2.3 4.1 2.3 7.3 2.3-15.5-6-.2-6 .4-2.3-17.4-2.3-4.5z" fill="#2258a5"/>
<path d="M1070.7 977.5l6.5-24.5 5.8 20.2 2.1 8 2.4-13.6 1.9 12-5.9-15.5-6.4 16.6-2-6.9-1.7-33.4z" fill="#e9f7b1"/>
<path d="M934.8 683.6l6 35.6 5.9 20.8 2.4-16.9 2.1 22.8 2.5-33.1-6.1 6.1-6-19.1-2.3 8.6-2.3-3.6z" fill="#34a9c3"/>
<path d="M779.4 453.2l6.4 37.1 5.8-11.6 2.4 4 2.2-22.5 2.4-5-6 6.8-5.9 1.5-2.2 18.2-2.3 14.7z" fill="#172978"/>
<path d="M929.7 640.6l5.9 52.7 6 6.5 2.2 17.9 2.5-53.6 2.1 44.8-6-14.9-5.9-54.7-2.3 13.8-2.3 8.9z" fill="#2397c1"/>
<path d="M633.1 602.3l5.6-14.7 5.4-23.8 2.2-10.2 2.8 12 2.5 3.4-5.2 34.8-5.7 5-1.9 27.7-3-22.4z" fill="#2260a9"/>
<path d="M1280.8 815.5l6.7-12.7 6.8-14.5 2.3-7.9 1.6 12.6 2.5-12.4-6.3-1.8-6.6 11.4-2.6 16.4-2.3 7.1z" fill="#6bc6be"/>
<path d="M1158.6 954.1l6.9-30.1 6.1 4.8 2 3.7 2 3.2 1.8 13.1-6.1-3.6-6.2 .3-2.1 1.3-2.2 2.9z" fill="#dbf1b2"/>
<path d="M945.2 747.3l5.8 50.6 6.1 6.1 2.2 .6 2.2 18.6 2.2 2.8-5.8-46.9-6-4.5-2.3-5-2.2-3.3z" fill="#65c3bf"/>
<path d="M607.6 651.7l4.9-37.7 5.8-6 2.7 11 2.3-12.1 2.6 5.4-5.9 .5-5.5 14.7-2.5-1.5-2 22.8z" fill="#2075b3"/>
<path d="M860.8 477.5l5.9-31.6 6.1 23.7 2.3-6.8 2.3 3.3 2.4 21.4-6.1-7.2-6-19.3-2.3-3.5-2.3 14.6z" fill="#162874"/>
<path d="M810.8 486.4l6 7 5.8-34.1 2.5 25.5 2.2-16 2.4-.3-6 5.7-6-8.4-2.4-6-2.2 18.6z" fill="#172978"/>
<path d="M912.4 617.2l6-5.8 6 26.5 2.3 5.1 2.4-29.3 2.2 10.1-6.1 26.2-5.9-37.5-2.4 17.2-2.2-36.6z" fill="#2075b3"/>
<path d="M760.6 478.7l6 2.3 5.9-9 2.5 10.2 2.5 12.4 1.9-41.4-5.6 32.8-5.8 8.9-2.7-21.6-2.4 .9z" fill="#192b7c"/>
<path d="M678.1 566l5.3-33.8 6.2 13.9 2.3-5.8 2.4-6.5 2.4-.5-5.5 22.3-5.9-.7-2.8-17.2-2.6-6.3z" fill="#24459c"/>
<path d="M1102 965.7l5.9 13.8 6.3-6.6 2 9.1 2.4-12.6 1.9 9.7-5.5-31.6-6.6 21.8-2.3 7.3-1.6-31.9z" fill="#e8f6b1"/>
<path d="M722.4 484.5l6.3 24.3 5.7-15.9 2.7 20.8 2-28.2 2.5-.2-5.4 46.4-6.4-38-2.1 23-3-41.9z" fill="#21308b"/>
<path d="M1255.6 829.5l6.2 .1 6.4-4.6 2.7-19 1.6 15.5 2.6-16.9-7 21-6.5 7.5-2.2 5-2.4 10.5z" fill="#83cebb"/>
<path d="M741.6 485.3l6 6.4 6 5.4 2.2-22.5 2.3-4.9 2.5 9-5.7 18-6.1-7.1-2.3 9.5-2.3 3.3z" fill="#1d2e83"/>
<path d="M871 518.8l6 10.9 6.1 34.3 2.3 14.6 2.3-6.2 2.3-30-6-6.1-6.1-19.3-2.3 15.3-2.3-5.4z" fill="#24459c"/>
<path d="M962.2 848.8l6.2-16.8 5.8 31.2 2.3-9.3 2.4-8.8 2.2-5.6-6.1 3.4-5.9-23.5-2.2-2.2-2.3 10.2z" fill="#8ed3ba"/>
<path d="M939.9 732.6l6.1 10.4 5.9 31.6 2.3-14.7 2.2 7.9 2.5-27.8-6.1 2.7-6.1-2.7-2.2-5-2.4 14.4z" fill="#44b7c4"/>
<path d="M1052.1 958.9l5.6 35.7 6.4-19.2 2.4-10.1 2.1 7 2.1 5.2-6.2 1.4-5.8-25.2-2.4 18.5-2.4 15.3z" fill="#eaf7b1"/>
<path d="M1132.4 1001.1l6.5-18 6.7-19.3 2.1-.3 2 6.4 2.9-35.4-7.3 51.3-5.8-19.5-2.1-.9-2.1 .5z" fill="#e9f7b1"/>
<path d="M1008.8 950.1l5.8 26.3 6.2-3.1 2.4-22.7 2.2 4.3 2.2-1.6-6.1 4.9-5.9-23-2.4 18.9-2-23.5z" fill="#e1f3b2"/>
<path d="M967.5 849.5l5.9 42.5 5.9 17 2.5-27.3 2.4-21.6 2.2 5.2-6.2 10.1-6-12.2-2.3 4.4-2.2 5z" fill="#aedfb6"/>
<path d="M1083 973.2l6.1 6 6.4-14.5 1.8 21.6 2.6-25.1 2.1 4.5-6.6 20.9-6-7-1.9-12-2.4 13.6z" fill="#eaf7b1"/>
<path d="M1300.7 780.6l6.4-5.2 6.3 1.7 2 .6 2.8-22.1 .9 30.6-5.5-23.6-6.5 6.5-2.7 19.2-2.2 5.9z" fill="#59bfc0"/>
<path d="M1114.2 972.9l6 8.4 6.1 4.8 2.5-17 2 3.8 1.6 28.2-5.2-45.9-6.7 23.9-1.9-9.7-2.4 12.6z" fill="#ecf7b1"/>
<path d="M1319.1 786.2l8.2-50.8 .7 33.8 2.5-13.7 1.7 7.8-6.4 3-1.1-23.4-3.3 35z" fill="#4ebbc2"/>
<path d="M900.3 591.2l6.1 1.9 6 24.1 2.3-24.1 2.2 36.6 2.4-17.2-6-33.8-6.1 4.3-2.3 22.4-2.3 2.4z" fill="#2165ab"/>
<path d="M996.7 938.3l6.1-3.3 6 15.1 2.4-19.5 2 23.5 2.4-18.9-6.1 1.3-6.1-3.8-2-21.9-2.4 25.7z" fill="#d7efb3"/>
<path d="M580.6 643.4l5.6-10.3 6.5 22.6 2.1-15.5 2.6 5.3 2.1-18.7-5.4 19.4-5.2 23.6-3-18.8-2.2 13.6z" fill="#1e83ba"/>
<path d="M979.3 909l6.2-12.1 6.4-32.7 1.9 39 2.3-16.4 2.2 12-5.9-26.7-6-6.8-2.2-5.2-2.4 21.6z" fill="#b7e3b6"/>
<path d="M555.3 698.6l5-27.8 6.2 11.6 2.4-4.1 2.5-1 2.4-5.1-5.7 3.3-5.7 4.9-2.6-.4-2.1 15.7z" fill="#2397c1"/>
<path d="M841.7 466.2l6 2.5 6-14.1 2.4 21.4 2.3 .4 2.4 1.1-6.1-10.3-6 5.6-2.3-10.5-2.4-1.9z" fill="#142670"/>
<path d="M1020.8 973.3l6 3.1 6.4-16 2.4-17.5 1.7 40.8 2.4-13.2-6.1-7.8-6-9.4-2.2 1.6-2.2-4.3z" fill="#e5f5b2"/>
<path d="M1177.4 948.8l6.8-23.8 6.8-22.2 1.5 22.7 3-34.4 2 3.9-6.6 16.3-6.7 17.5-2-4.4-2.2 5.3z" fill="#ceecb3"/>
<path d="M696.7 533.3l5.9 .6 5.5-31.7 3 36.5 2.2-14.6 2.6 11.1-6.4-29.1-5.8 8.9-2.3 6.2-2.6-8z" fill="#253896"/>
<path d="M922.7 672.8l6 31.8 6.1-21 2.2 21.2 2.3 3.6 2.3-8.6-6-6.5-5.9-52.7-2.4 41.8-2.3-12.8z" fill="#2498c1"/>
<path d="M984.8 901.4l5.7 44 6.2-7.1 2.3-1.8 2.4-25.7 2 21.9-5.9-16.9-5.6-51.6-2.7 49.3-2.2-7z" fill="#cdebb4"/>
<path d="M927.9 709.3l6 10.9 6 12.4 2.2 16.8 2.4-14.4 2.2 5-5.9-20.8-6-35.6-2.4 51.8-2.2-35.6z" fill="#35aac3"/>
<path d="M950.3 787.2l5.9 35.5 6 26.1 2.4-21.4 2.3-10.2 2.2 2.2-5.8-34.4-6.2 19-2.3 6.7-2.2-14.9z" fill="#73c8bd"/>
<path d="M876.1 564.6l6.1 23.5 6-6.8 2.3-17.8 2.3-4.2 2.4 9.2-6.1-22.4-6 17.9-2.3 3.9-2.4-14.1z" fill="#2350a1"/>
<path d="M1275.1 804.6l6.8-18.2 5.3 30.4 3.1-32.4 2.3-7 1.7 10.9-6.8 14.5-6.7 12.7-2.7 19.8-1.1-27.8z" fill="#6bc6be"/>
<path d="M1033.2 960.4l5.8 21.3 6.3-8.7 2 12.7 2.5-19.5 2.3-7.3-6.5 22.9-5.9-11.3-2.4 13.2-1.7-40.8z" fill="#e7f6b1"/>
<path d="M715.9 535.2l5.4-32.8 6 4.4 2.6 10.1 2.2-14.8 2.3-9.2-5.7 15.9-6.3-24.3-1.9 33.2-2.6-7.7z" fill="#22328f"/>
<path d="M905.4 643.8l6.1-11.1 6 13.7 2.4-22.1 2.3-2.3 2.2 15.9-6-26.5-6 5.8-2.4 19.8-2.2-2z" fill="#2076b3"/>
<path d="M888.2 581.3l6.1-16.8 6 26.7 2.3 16.6 2.3-2.4 2.3-22.4-6-22-6 7.5-2.4-9.2-2.3 4.2z" fill="#2356a4"/>
<path d="M791.6 478.7l5.8-21.6 6-2.1 2.5 14.7 2.3-7.9 2.6 24.6-6.2-25.2-6-6-2.4 5-2.2 22.5z" fill="#13266f"/>
<path d="M1064.1 975.4l6.2 .5 6.4-19.6 1.4 54.3 2.7-35.1 2.2-2.3-5.8-20.2-6.5 24.5-2.1-5.2-2.1-7z" fill="#e8f6b1"/>
<path d="M1095.5 964.7l5.3 47.8 6.7-28.7 2.4-11.8 2.1 3.3 2.2-2.4-6.3 6.6-5.9-13.8-2.1-4.5-2.6 25.1z" fill="#eaf7b1"/>
<path d="M822.6 459.3l6 5.3 6-.6 2.5 21.1 2.3-9 2.3-9.9-6 2.4-6-.1-2.4 .3-2.2 16z" fill="#152772"/>
<path d="M1229.4 871.3l6.4-3.9 6.9-21.7 3.1-35.1 1.4 21.5 2.2-2.7-6.5 7.3-6.8 18.4-1.8-9.8-2.3 9.8z" fill="#90d4b9"/>
<path d="M1204.4 873.1l6.4-6.6 6.2 4.5 2.2-5.8 1.6 18.9 2.5-14.8-6.5 7.5-6.9 26.3-1.9-7.9-1.7-15.4z" fill="#aedfb6"/>
<path d="M955.5 829l6 19.3 6 1.2 2.2 23.1 2.2-5 2.3-4.4-5.8-31.2-6.2 16.8-2.2-9-2.2-24.1z" fill="#90d4b9"/>
<path d="M865.8 467.3l6 9.6 6.1 40.1 2.3-12.6 2.4 13.7 2.3-15.9-6.1-35.6-6 3-2.3 8.3-2.4-7.2z" fill="#1a2b7e"/>
<path d="M772.5 472l6.1 17.1 5.6-39.2 2.5 12.8 2.5 4.7 2.4 11.3-5.8 11.6-6.4-37.1-1.9 41.4-2.5-12.4z" fill="#162874"/>
<path d="M917.5 646.4l6.1-15.2 6.1 9.4 2.2 21.4 2.3-8.9 2.3-13.8-6 6.2-6.1-7.6-2.2-15.9-2.3 2.3z" fill="#1f7bb6"/>
<path d="M893.4 601.8l6-3.9 6 45.9 2.4-8.8 2.2 2 2.4-19.8-6-24.1-6.1-1.9-2.3 11.5-2.3-3z" fill="#216aad"/>
<path d="M651.6 569l5.8-7.6 5.7-9.3 2.4-2.5 2-24.8 2.9 25.1-5.7 9.7-5.9 1.2-1.9 28-3.2-39z" fill="#23499e"/>
<path d="M1001.9 967.7l6.2-10.1 6.1 7.2 2.2 2.5 2.2 3.4 2.2 2.6-6.2 3.1-5.8-26.3-2-20.5-2.5 25.6z" fill="#e1f3b2"/>
<path d="M753.6 497.1l5.8-11.3 5.9-6.4 2.8 31.4 1.9-40.4 2.5 1.6-5.9 9-6-2.3-2.5-9-2.3 4.9z" fill="#182a7a"/>
<path d="M670.4 549.9l5.6-17.8 6.2 15.1 2.2-14.5 2.4-4.4 2.8 17.8-6.2-13.9-5.3 33.8-2.4 2.4-2.6-9.6z" fill="#24449c"/>
<path d="M734.4 492.9l5.8-16.8 6 9.5 2.8 25.3 2-33 2.6 19.2-6-5.4-6-6.4-2.5 .2-2 28.2z" fill="#1b2c80"/>
<path d="M972.7 884.2l6.1 5.9 6 11.3 2.2 5.1 2.2 7 2.7-49.3-6.4 32.7-6.2 12.1-2.1-24.4-2.2 1.1z" fill="#bbe4b5"/>
<path d="M1152.6 934.5l6 10.5 7-32.5 1.5 23.9 1.7 18.6 2.8-26.2-6.1-4.8-6.9 30.1-2.7 24.7-1.3-39.8z" fill="#d7efb3"/>
<path d="M803.4 455l6.3 32.7 5.8-16.7 2.5 13.8 2.3-14.2 2.3-11.3-5.8 34.1-6-7-2.6-24.6-2.3 7.9z" fill="#152772"/>
<path d="M625.9 612.3l5.8-.4 5-42.6 2.4-3.4 2.7 7.6 2.3-9.7-5.4 23.8-5.6 14.7-2.6-7.6-2.3 9z" fill="#225aa6"/>
<path d="M599.5 626.8l5.2-24.8 6.2 13.3 2.8 10.5 2.3-8.4 2.3-9.4-5.8 6-4.9 37.7-2.7-9.6-3-20.4z" fill="#2070b0"/>
<path d="M853.7 454.6l6-1.1 6.1 13.8 2.3 3.4 2.4 7.2 2.3-8.3-6.1-23.7-5.9 31.6-2.4-1.1-2.3-.4z" fill="#12256d"/>
<path d="M1294.3 788.3l6.7-11.3 6.2 3 1.3 18.8 2.7-17 2.2-4.7-6.3-1.7-6.4 5.2-2.5 12.4-1.6-12.6z" fill="#59bfc0"/>
<path d="M960.6 877.1l6.1 3.8 6 3.3 2.3 1.5 2.2-1.1 2.1 24.4-5.9-17-5.9-42.5-2.2 2.5-2.4 16.1z" fill="#abdeb7"/>
<path d="M990 936.2l6 10.6 5.9 20.9 2.4-12.5 2.5-25.6 2 20.5-6-15.1-6.1 3.3-2.3 3.3-2.2-2.4z" fill="#d9f0b3"/>
<path d="M547.3 687.7l6.3 13.9 5-30.2 2.5-.6 2.9 12.1 2.5-.5-6.2-11.6-5 27.8-1.6 33.9-3.7-40.2z" fill="#2498c1"/>
<path d="M1107.5 983.8l5.9 16.5 6.6-24.8 2 7.3 1.9 16.7 2.4-13.4-6.1-4.8-6-8.4-2.2 2.4-2.1-3.3z" fill="#ecf7b1"/>
<path d="M1126.3 986.1l7.1-42.9 5.7 20.4 1.6 28.9 3-41.2 1.9 12.5-6.7 19.3-6.5 18-1.6-28.2-2-3.8z" fill="#e7f6b1"/>
<path d="M689.6 546.1l5.7-13.8 5.8-8.6 2.8 24.8 2.1-22.6 2.1-23.7-5.5 31.7-5.9-.6-2.4 .5-2.4 6.5z" fill="#253b97"/>
<path d="M933.1 731.4l6 11.5 6.1 4.4 2.2 19 2.2 3.3 2.3 5-5.9-31.6-6.1-10.4-2.2-21.9-2.5 60.6z" fill="#3fb4c4"/>
<path d="M858.8 480.1l6.1 27.1 6.1 11.6 2.3 8.1 2.3 5.4 2.3-15.3-6.1-40.1-6-9.6-2.3 32.8-2.3-5z" fill="#1f2f87"/>
<path d="M1014.2 964.8l6.2-8.4 6 16.3 2 12.6 2.4-14.9 2.4-10-6.4 16-6-3.1-2.2-2.6-2.2-3.4z" fill="#e5f5b2"/>
<path d="M938.2 793.2l6.1-16.3 6 10.3 2.3 8.6 2.2 14.9 2.3-6.7-6.1-6.1-5.8-50.6-2.4 23.4-2.3 .5z" fill="#5bc0c0"/>
<path d="M1249.4 829.4l6.4-6 6.8-14.8 1.6 13.9 2.4-10 1.6 12.5-6.4 4.6-6.2-.1-1.6-16.3-3 32.4z" fill="#78cbbc"/>
<path d="M1076.7 956.3l5.8 25.4 6.2 .3 1.8 20.7 3.3-62.7 1.7 24.7-6.4 14.5-6.1-6-2.2 2.3-2.7 35.1z" fill="#e8f6b1"/>
<path d="M977.9 926.3l5.9 16.7 6.2-6.8 2.2 3 2.2 2.4 2.3-3.3-6.2 7.1-5.7-44-2.1-16.8-2.5 28.1z" fill="#d0edb3"/>
<path d="M864 526.2l6-10 6.1 48.4 2.3-10.8 2.4 14.1 2.3-3.9-6.1-34.3-6-10.9-2.4-1.2-2.3 6.4z" fill="#243f99"/>
<path d="M1045.3 973l6 6.9 6.3-6.3 2.6-27.1 1.9 18.2 2 10.7-6.4 19.2-5.6-35.7-2.3 7.3-2.5 19.5z" fill="#e6f5b2"/>
<path d="M1171.6 928.8l6.4-7.9 6.5-10.1 1.8 10.5 2.1 2.3 2.6-20.8-6.8 22.2-6.8 23.8-1.8-13.1-2-3.2z" fill="#cfecb3"/>
<path d="M881.3 589l6-6.2 6.1 19 2.3-2.1 2.3 3 2.3-11.5-6-26.7-6.1 16.8-2.3-1.4-2.3 20.7z" fill="#2259a6"/>
<path d="M1223.3 869.3l6.3-2.7 7.5-42.8 1.7 12.8 2.8-22.3 1.1 31.4-6.9 21.7-6.4 3.9-2.4 10.9-1.9-5z" fill="#95d5b9"/>
<path d="M573.8 672.2l5.7-7.9 4.5-48.5 3.1 18.5 2.9 15.4 2.7 6-6.5-22.6-5.6 10.3-2 20.7-2.8-10.9z" fill="#1f7eb7"/>
<path d="M915.8 684.3l6.1-8.5 6 33.5 2.3-9.5 2.2 35.6 2.4-51.8-6.1 21-6-31.8-2.3 4.9-2.3-14z" fill="#2397c1"/>
<path d="M1313.4 777.1l7.6-36.4 1.1 24.5 2.4-9.7 2.8-20.1-8.2 50.8-.9-30.6-2.8 22.1z" fill="#46b8c3"/>
<path d="M869.1 554.8l6.1 8.4 6.1 25.8 2.3 11.6 2.3-20.7 2.3 1.4-6 6.8-6.1-23.5-2.3-12.3-2.3 0z" fill="#2350a1"/>
<path d="M834.6 464l6.1 20.6 6-21.7 2.3-13.1 2.4 17.2 2.3-12.4-6 14.1-6-2.5-2.3 9.9-2.3 9z" fill="#11246b"/>
<path d="M943.4 818l6 12.1 6.1-1.1 2.3-13.3 2.2 24.1 2.2 9-6-26.1-5.9-35.5-2.3 10.7-2.2-10.1z" fill="#73c8bd"/>
<path d="M1026.4 972.7l6.1 0 6.1 7.1 2.1 4.9 2.2-2.1 2.4-9.6-6.3 8.7-5.8-21.3-2.4 10-2.4 14.9z" fill="#e7f6b1"/>
<path d="M708.1 502.2l5.8-4.2 5.9-9.1 3 37.4 2-24.1 2.5 4.6-6-4.4-5.4 32.8-2.6-11.1-2.2 14.6z" fill="#21318d"/>
<path d="M910.6 650.9l6.1-1.7 6 23.6 2.3-3.2 2.3 12.8 2.4-41.8-6.1-9.4-6.1 15.2-2.2-36.9-2.4 34.6z" fill="#1f7eb7"/>
<path d="M765.3 479.4l6-.9 6.2 15.1 2.2-12.5 2.5 5.5 2-36.7-5.6 39.2-6.1-17.1-2.5-1.6-1.9 40.4z" fill="#162874"/>
<path d="M1268.2 825l7.1-24 6.9-18.8 1.4 19.8 2 2 1.6 12.8-5.3-30.4-6.8 18.2-2.6 16.9-1.6-15.5z" fill="#69c5be"/>
<path d="M746.2 485.6l6-.6 6.1 6.3 2.4 5.6 2.3-11.9 2.3-5.6-5.9 6.4-5.8 11.3-2.6-19.2-2 33z" fill="#192b7c"/>
<path d="M898.5 613.3l6.1 31.9 6 5.7 2.3-6.8 2.4-34.6 2.2 36.9-6-13.7-6.1 11.1-2.2-30.2-2.4 17.9z" fill="#2073b2"/>
<path d="M618.3 608l5.5-15.9 5.5-18.8 2.8 12.7 2.6 6.4 2-23.1-5 42.6-5.8 .4-2.6-5.4-2.3 12.1z" fill="#225ca7"/>
<path d="M644.1 563.8l5.9 1 6 4.7 2.4-5.6 2.4 .4 2.3-12.2-5.7 9.3-5.8 7.6-2.5-3.4-2.8-12z" fill="#23499e"/>
<path d="M1088.7 982l6.3-7.2 6.2-3.5 1.9 18 2.4-15.6 2 10.1-6.7 28.7-5.3-47.8-1.7-24.7-3.3 62.7z" fill="#e7f6b1"/>
<path d="M815.5 471l6.2 21.8 5.8-28.5 2.4 4.8 2.4 6.3 2.3-11.4-6 .6-6-5.3-2.3 11.3-2.3 14.2z" fill="#12256d"/>
<path d="M1197.5 895l7.1-29.5 5.9 13.3 1.8 8.2 2.9-27.6 1.8 11.6-6.2-4.5-6.4 6.6-3 34.7-1.8-12.5z" fill="#a9ddb7"/>
<path d="M727.3 506.8l5.8-17.1 6.1 13.7 2.2-17.6 2.7 23.9 2.1-24.1-6-9.5-5.8 16.8-2.3 9.2-2.2 14.8z" fill="#1b2c80"/>
<path d="M1057.6 973.6l6 7.6 5.9 16.3 2.3-3.6 2.5-18.9 2.4-18.7-6.4 19.6-6.2-.5-2-10.7-1.9-18.2z" fill="#e5f5b2"/>
<path d="M948.6 848.5l6.1-14.6 5.9 43.2 2.3-9 2.4-16.1 2.2-2.5-6-1.2-6-19.3-2.3 5.2-2.3 6.7z" fill="#8cd2ba"/>
<path d="M971 937.5l6 15.2 6 13.4 2.5-36.6 2.2 9.2 2.3-2.5-6.2 6.8-5.9-16.7-2.2-14.8-2.4 23z" fill="#d3eeb3"/>
<path d="M983 966.1l6.2-6.4 6.1-2 2.3-9.3 2.2 10.1 2.1 9.2-5.9-20.9-6-10.6-2.3 2.5-2.2-9.2z" fill="#d9f0b3"/>
<path d="M784.2 449.9l6.3 31.7 5.8-22.9 2.5 12.1 2.2-15.4 2.4-.4-6 2.1-5.8 21.6-2.4-11.3-2.5-4.7z" fill="#0e2265"/>
<path d="M921 698.2l6.1 4.6 6 28.6 2.1 39.9 2.5-60.6 2.2 21.9-6-12.4-6-10.9-2.3-16.6-2.3 12.6z" fill="#2ea3c2"/>
<path d="M1038.6 979.8l6.1 2 6.2-1.6 1.8 27.2 2.7-37.3 2.2 3.5-6.3 6.3-6-6.9-2.4 9.6-2.2 2.1z" fill="#e8f6b1"/>
<path d="M1145.6 963.8l6.8-30 6.1 6.9 2.2-2.9 2.1 3.8 2.8-29.1-7 32.5-6-10.5-2.9 35.4-2-6.4z" fill="#d5efb3"/>
<path d="M592.7 655.7l5.6-7.6 4.9-40.8 2.5 1 2.5-1.1 2.7 8.1-6.2-13.3-5.2 24.8-2.1 18.7-2.6-5.3z" fill="#216daf"/>
<path d="M566.5 682.4l5.1-26.2 5.1-31.2 3.8 47 2-19.2 1.5-37-4.5 48.5-5.7 7.9-2.4 5.1-2.5 1z" fill="#1e83ba"/>
<path d="M846.7 462.9l6 8.1 6.1 9.1 2.4 15 2.3 5 2.3-32.8-6.1-13.8-6 1.1-2.3 12.4-2.4-17.2z" fill="#11246b"/>
<path d="M965.9 884.9l6 22.7 6 18.7 2.3-13.6 2.5-28.1 2.1 16.8-6-11.3-6.1-5.9-2.2-7.3-2.4 19.2z" fill="#b7e3b6"/>
<path d="M995.3 957.7l6 12.8 6.1 1 2.3-7.9 2.3-6.6 2.2 7.8-6.1-7.2-6.2 10.1-2.1-9.2-2.2-10.1z" fill="#ddf2b2"/>
<path d="M886.4 594.2l6.1 17.4 6 1.7 2.3 18.2 2.4-17.9 2.2 30.2-6-45.9-6 3.9-2.3-16-2.4 29.1z" fill="#2163aa"/>
<path d="M926.1 759.5l6.2-18.8 5.9 52.5 2.3-22 2.3-.5 2.4-23.4-6.1-4.4-6-11.5-2.3 9.5-2.3-20.7z" fill="#3db2c4"/>
<path d="M953.8 872.9l6 14.1 6.1-2.1 2.2 11.2 2.4-19.2 2.2 7.3-6-3.3-6.1-3.8-2.2-18.2-2.3 11.6z" fill="#a5dcb7"/>
<path d="M1069.5 997.5l6.6-27.2 5.6 34.3 2.9-42.5 2.1 8.4 2 11.5-6.2-.3-5.8-25.4-2.4 18.7-2.5 18.9z" fill="#e6f5b2"/>
<path d="M1242.7 845.7l6.8-18.7 6.1 6.9 2.5-12.8 1.8 7.6 2.7-20.1-6.8 14.8-6.4 6-2.2 2.7-1.4-21.5z" fill="#75c9bd"/>
<path d="M1307.2 780l7-18.8 2.4-11 1.9 4.2 2.5-13.7-7.6 36.4-2.2 4.7-2.7 17z" fill="#48b9c3"/>
<path d="M701.1 523.7l6.2 15.5 5.7-13.6 2.4-2.7 2.6 12.7 1.8-46.7-5.9 9.1-5.8 4.2-2.1 23.7-2.1 22.6z" fill="#233390"/>
<path d="M1217 871l6.5-8.7 5.8 13.7 3.1-32.2 2.2-6.9 2.5-13.1-7.5 42.8-6.3 2.7-2.5 14.8-1.6-18.9z" fill="#92d5b9"/>
<path d="M796.3 458.7l6.1 14.9 5.9-14.3 2.7 36.7 2.2-23.4 2.3-1.6-5.8 16.7-6.3-32.7-2.4 .4-2.2 15.4z" fill="#102369"/>
<path d="M1287.2 816.8l7.7-42.2 6.3 2.1 3.2-32.7 .4 46.3 2.4-10.3-6.2-3-6.7 11.3-1.7-10.9-2.3 7z" fill="#52bcc2"/>
<path d="M903.7 657.3l6.1-6.5 6 33.5 2.3-20.6 2.3 14 2.3-4.9-6-23.6-6.1 1.7-2.3-.6-2.2-28.6z" fill="#1f82b9"/>
<path d="M758.3 491.3l6 3.4 6 4.7 2.2-17.8 2.6 17.2 2.4-5.2-6.2-15.1-6 .9-2.3 5.6-2.3 11.9z" fill="#172978"/>
<path d="M936.6 796.8l6 18.8 6 32.9 2.3-7.6 2.3-6.7 2.3-5.2-6.1 1.1-6-12.1-2.3 0-2.3-8.5z" fill="#73c8bd"/>
<path d="M777.5 493.6l5.9-5.9 6.2 18.9 2.2-19.6 2.2-24.2 2.3-4.1-5.8 22.9-6.3-31.7-2 36.7-2.5-5.5z" fill="#142670"/>
<path d="M663.1 552.1l5.8-7.2 5.9 1.7 2.3-11.8 2.1-17 3 29.4-6.2-15.1-5.6 17.8-2.9-25.1-2 24.8z" fill="#253b97"/>
<path d="M931.3 778.7l6.1 14.1 6 25.2 2.4-30.2 2.2 10.1 2.3-10.7-6-10.3-6.1 16.3-2.2-26.1-2.3-13.6z" fill="#53bdc1"/>
<path d="M874.3 566.1l6 15.8 6.1 12.3 2.3 20.7 2.4-29.1 2.3 16-6.1-19-6 6.2-2.4-9.2-2.3 28.5z" fill="#2356a4"/>
<path d="M827.5 464.3l6.2 20.3 5.9-14.1 2.4 6.8 2.3-7.6 2.4-6.8-6 21.7-6.1-20.6-2.3 11.4-2.4-6.3z" fill="#11246b"/>
<path d="M1165.6 912.5l5.7 20.8 6.2 1.9 3-33.8 1.5 23 2.5-13.6-6.5 10.1-6.4 7.9-2.8 26.2-1.7-18.6z" fill="#cbebb4"/>
<path d="M857 529.5l6.1 11.5 6 13.8 2.4-2.5 2.3 0 2.3 12.3-6.1-48.4-6 10-2.4-13.1-2.3 7.5z" fill="#253997"/>
<path d="M739.2 503.4l6.1 9 5.9-6 2.3-12.2 2.4 5.3 2.4-8.2-6.1-6.3-6 .6-2.1 24.1-2.7-23.9z" fill="#1a2b7e"/>
<path d="M851.7 460.4l6.2 43.1 6.1 22.7 2.3-2.2 2.3-6.4 2.4 1.2-6.1-11.6-6.1-27.1-2.4-6.8-2.3 3.1z" fill="#1a2b7e"/>
<path d="M908.9 680.6l6 33.6 6.1-16 2.3 7.1 2.3-12.6 2.3 16.6-6-33.5-6.1 8.5-2.3-10.9-2.3 20.2z" fill="#2195c0"/>
<path d="M1050.9 980.2l6 9.4 6.3-7.4 2.3-6.3 1.9 16.4 2.1 5.2-5.9-16.3-6-7.6-2.2-3.5-2.7 37.3z" fill="#e8f6b1"/>
<path d="M1120 975.5l6.3-.9 6.5-15.2 2.6-21 1.7 20.1 2 5.1-5.7-20.4-7.1 42.9-2.4 13.4-1.9-16.7z" fill="#e0f3b2"/>
<path d="M1191 902.8l5.8 18.1 7.2-36.1 2.5-16.4 2.4-11.2 1.6 21.6-5.9-13.3-7.1 29.5-2-3.9-3 34.4z" fill="#abdeb7"/>
<path d="M958.9 923.1l6.2-13.8 5.9 28.2 2.3-3 2.4-23 2.2 14.8-6-18.7-6-22.7-2.1-16.1-2.5 22.9z" fill="#c0e6b5"/>
<path d="M1007.4 971.5l6.3-12.3 5.9 19.7 2.3-4 2.4-19 2.1 16.8-6-16.3-6.2 8.4-2.2-7.8-2.3 6.6z" fill="#ddf2b2"/>
<path d="M540 698.6l5-27.9 5.6-9.2 3 14.3 2.5-2 2.5-2.4-5 30.2-6.3-13.9-2.5 2.4-2.5 .4z" fill="#1d90c0"/>
<path d="M1101.2 971.3l6.6-20.8 5.8 20.4 2.5-15.3 1.4 41.3 2.5-21.4-6.6 24.8-5.9-16.5-2-10.1-2.4 15.6z" fill="#e3f4b2"/>
<path d="M682.2 547.2l5.6-23.3 5.8-8.4 2.1-17.3 2.5 .3 2.9 25.2-5.8 8.6-5.7 13.8-2.8-17.8-2.4 4.4z" fill="#243392"/>
<path d="M719.8 488.9l6.2 18.1 5.7-16.9 2.7 16.2 2.6 15.9 2.2-18.8-6.1-13.7-5.8 17.1-2.5-4.6-2 24.1z" fill="#1c2d81"/>
<path d="M610.9 615.3l5.6-12.3 5.8-7.3 2.4-5.2 2.6 7.1 2-24.3-5.5 18.8-5.5 15.9-2.3 9.4-2.3 8.4z" fill="#225ca7"/>
<path d="M808.3 459.3l6.2 18.3 6-.1 2.4-4.3 2.3-.2 2.3-8.7-5.8 28.5-6.2-21.8-2.3 1.6-2.2 23.4z" fill="#11246b"/>
<path d="M1139.1 963.6l6.3-2.2 7.2-42 1.5 26.8 1.7 19.1 2.7-24.6-6.1-6.9-6.8 30-1.9-12.5-3 41.2z" fill="#d7efb3"/>
<path d="M636.7 569.3l6.2 11.8 5.3-26.3 2.7 9.5 2.2-15.1 2.9 20.3-6-4.7-5.9-1-2.3 9.7-2.7-7.6z" fill="#24489d"/>
<path d="M941.8 837l6 12.9 6 23 2.3-2.4 2.3-11.6 2.2 18.2-5.9-43.2-6.1 14.6-2.3-9.4-2.3 6z" fill="#89d1ba"/>
<path d="M1262.6 808.6l6.2 4.1 7.4-33.3 1.5 15.7 1.6 13.9 2.9-26.8-6.9 18.8-7.1 24-1.6-12.5-2.4 10z" fill="#61c2bf"/>
<path d="M862.1 552.1l6.1 5.2 6.1 8.8 2.3 42.2 2.3-28.5 2.4 9.2-6.1-25.8-6.1-8.4-2.3-12.2-2.3 17.1z" fill="#24489d"/>
<path d="M1081.7 1004.6l6.9-38.4 5.4 41.2 2.6-23.2 2 9.2 2.6-22.1-6.2 3.5-6.3 7.2-2-11.5-2.1-8.4z" fill="#e5f5b2"/>
<path d="M988.5 962.8l6.1 6.9 5.9 17.7 2.2 4.9 2.5-26.5 2.2 5.7-6.1-1-6-12.8-2.4 13.9-2-24.2z" fill="#dff2b2"/>
<path d="M1019.6 978.9l5.9 18.3 6.9-56.4 1.4 62.2 2.8-43.5 2 20.3-6.1-7.1-6.1 0-2.1-16.8-2.4 19z" fill="#e1f3b2"/>
<path d="M976.5 933.6l5.9 25.7 6.1 3.5 2.4-15.4 2 24.2 2.4-13.9-6.1 2-6.2 6.4-2.2-12.4-2.1-18.5z" fill="#d7efb3"/>
<path d="M964.2 930.5l6.1 6.4 6.2-3.3 2.2 1.6 2.1 18.5 2.2 12.4-6-13.4-6-15.2-2.2-12.5-2.3 9.8z" fill="#d0edb3"/>
<path d="M891.6 626.7l6 17.3 6.1 13.3 2.4-35.6 2.2 28.6 2.3 .6-6-5.7-6.1-31.9-2.3-15.8-2.3 12.1z" fill="#216daf"/>
<path d="M1210.5 878.8l6.4-7.1 6 9.4 2.9-28.9 2.1 2.7 1.4 21.1-5.8-13.7-6.5 8.7-1.8-11.6-2.9 27.6z" fill="#97d6b9"/>
<path d="M584 615.8l6.9 37.4 5.4-17.5 1.2-55.3 3.1 24.3 2.6 2.6-4.9 40.8-5.6 7.6-2.7-6-2.9-15.4z" fill="#216bae"/>
<path d="M1063.2 982.2l6.3-6.8 6.3-6.7 1.7 29.6 2 7.7 2.2-1.4-5.6-34.3-6.6 27.2-2.1-5.2-1.9-16.4z" fill="#e7f6b1"/>
<path d="M924.4 788.9l6.1 1.2 6.1 6.7 2.2 12.7 2.3 8.5 2.3 0-6-25.2-6.1-14.1-2.3 9.6-2.2-20.7z" fill="#57bec1"/>
<path d="M770.3 499.4l5.8-18.4 6.1 6.6 2.4-2 2.2-25.2 2.8 46.2-6.2-18.9-5.9 5.9-2.4 5.2-2.6-17.2z" fill="#162874"/>
<path d="M914.1 696.2l6 28.7 6 34.6 2.4-39.3 2.3 20.7 2.3-9.5-6-28.6-6.1-4.6-2.3-2.3-2.3 19.3z" fill="#2b9fc2"/>
<path d="M656 569.5l5.6-16.8 5.7-12.9 2.6 5.8 1.7-39.7 3.2 40.7-5.9-1.7-5.8 7.2-2.3 12.2-2.4-.4z" fill="#243d98"/>
<path d="M1282.2 782.2l5.9 11.7 7-18.4 1.8 5.6 2.2-2.9 2.1-1.5-6.3-2.1-7.7 42.2-1.6-12.8-2-2z" fill="#53bdc1"/>
<path d="M1184.5 910.8l7.2-36.2 5.6 24.2 2.2-5.8 2.5-12.4 2 4.2-7.2 36.1-5.8-18.1-2.6 20.8-2.1-2.3z" fill="#b2e1b6"/>
<path d="M919.3 743.2l6 7.9 6 27.6 2.4-25.2 2.3 13.6 2.2 26.1-5.9-52.5-6.2 18.8-2.2-37.9-2.3 22z" fill="#3cb1c3"/>
<path d="M896.8 653.4l6 23.3 6.1 3.9 2.3 13 2.3-20.2 2.3 10.9-6-33.5-6.1 6.5-2.3-24.8-2.3 14.1z" fill="#1f82b9"/>
<path d="M789.6 506.6l5.8-20.9 5.8-23.5 2.6 27.9 2.3-12 2.2-18.8-5.9 14.3-6.1-14.9-2.3 4.1-2.2 24.2z" fill="#11246b"/>
<path d="M839.6 470.5l6-11.7 6.1 1.6 2.4 16 2.3-3.1 2.4 6.8-6.1-9.1-6-8.1-2.4 6.8-2.3 7.6z" fill="#0e2265"/>
<path d="M751.2 506.4l5.9-10.9 5.8-17.2 2.8 38.2 2.1-31.4 2.5 14.3-6-4.7-6-3.4-2.4 8.2-2.4-5.3z" fill="#172978"/>
<path d="M947 854.5l5.9 41.9 6 26.7 2.4-31.4 2.5-22.9 2.1 16.1-6.1 2.1-6-14.1-2.3-1.3-2.3 5.7z" fill="#a2dbb8"/>
<path d="M731.7 490.1l6.4 29.2 5.9-9.6 2.3-10.6 2.3-9.3 2.6 16.6-5.9 6-6.1-9-2.2 18.8-2.6-15.9z" fill="#1b2c80"/>
<path d="M558.6 671.4l5.5-10.8 5.5-14.6 2.5-.7 2.6 .7 2-21-5.1 31.2-5.1 26.2-2.5 .5-2.9-12.1z" fill="#1f7eb7"/>
<path d="M1237.1 823.8l6.7-14.1 5.9 14.1 1.9 4 1.8 11.3 2.2-5.2-6.1-6.9-6.8 18.7-1.1-31.4-2.8 22.3z" fill="#71c8bd"/>
<path d="M849.9 520.4l6.1 30.3 6.1 1.4 2.4 7.6 2.3-17.1 2.3 12.2-6-13.8-6.1-11.5-2.3 11.8-2.4-17.3z" fill="#253896"/>
<path d="M1032.4 940.8l5.4 56.6 6.7-41.4 2 22 2 10.1 2.4-7.9-6.2 1.6-6.1-2-2-20.3-2.8 43.5z" fill="#e0f3b2"/>
<path d="M820.5 477.5l6-13.3 6-1.5 2.5 20.6 2.4 13 2.2-25.8-5.9 14.1-6.2-20.3-2.3 8.7-2.3 .2z" fill="#0f2367"/>
<path d="M1000.5 987.4l6.3-7.9 6.1-3.8 2.4-8.1 2.5-31.6 1.8 42.9-5.9-19.7-6.3 12.3-2.2-5.7-2.5 26.5z" fill="#ddf2b2"/>
<path d="M952.2 889.6l6.1 17.8 5.9 23.1 2.3 4.3 2.3-9.8 2.2 12.5-5.9-28.2-6.2 13.8-2.1-30.6-2.3 4.4z" fill="#bde5b5"/>
<path d="M1113.6 970.9l6.3-2 6 8.4 2.4-7.5 2 3.8 2.5-14.2-6.5 15.2-6.3 .9-2.5 21.4-1.4-41.3z" fill="#ddf2b2"/>
<path d="M929.7 796.1l6 33.4 6.1 7.5 2.2 8.1 2.3-6 2.3 9.4-6-32.9-6-18.8-2.4 16.8-2.3 6.9z" fill="#6dc6be"/>
<path d="M629.3 573.3l5.8-4.9 6.1 8.6 2.5 1.3 2.1-20.7 2.4-2.8-5.3 26.3-6.2-11.8-2 23.1-2.6-6.4z" fill="#23499e"/>
<path d="M844.7 488.8l6.2 27.7 6.1 13 2.3-8.9 2.3-7.5 2.4 13.1-6.1-22.7-6.2-43.1-2.3 13.2-2.4-1.2z" fill="#182a7a"/>
<path d="M1158.5 940.7l6.7-17.5 6.1 4.2 1.6 23.6 4.2-83.7 .4 67.9-6.2-1.9-5.7-20.8-2.8 29.1-2.1-3.8z" fill="#c8e9b4"/>
<path d="M879.4 598l6.1 10.7 6.1 18 2.3-17.1 2.3-12.1 2.3 15.8-6-1.7-6.1-17.4-2.3-17.3-2.3 23z" fill="#2259a6"/>
<path d="M801.2 462.2l6.3 38.8 6-9.3 2.4 3.4 2.3-14.6 2.3-3-6 .1-6.2-18.3-2.2 18.8-2.3 12z" fill="#11246b"/>
<path d="M867.3 614.1l6.1-7.3 6-8.8 2.4 1.9 2.3-23 2.3 17.3-6.1-12.3-6-15.8-2.4 19.1-2.3-15.9z" fill="#2351a2"/>
<path d="M1094 1007.4l6.6-18 6.7-27.2 1.8 18.5 2 10.7 2.5-20.5-5.8-20.4-6.6 20.8-2.6 22.1-2-9.2z" fill="#e1f3b2"/>
<path d="M1075.8 968.7l6.1 6.4 6.1 3.4 1.9 17.3 2.1 4.5 2 7.1-5.4-41.2-6.9 38.4-2.2 1.4-2-7.7z" fill="#e6f5b2"/>
<path d="M1301.2 776.7l6.9-16.4 2.7-17.3 1.3 18.5 2.1-.3-7 18.8-2.4 10.3-.4-46.3z" fill="#3fb4c4"/>
<path d="M713 525.6l5.8-7.8 5.5-35.2 2.8 24.1 2.2-14.6 2.4-2-5.7 16.9-6.2-18.1-1.8 46.7-2.6-12.7z" fill="#1b2c80"/>
<path d="M901.9 694.1l6.1-14.2 6.1 16.3 2.3 19 2.3-19.3 2.3 2.3-6.1 16-6-33.6-2.3 7-2.3-21.6z" fill="#1d91c0"/>
<path d="M674.8 546.6l5.5-28.1 5.8-5.2 2.9 21.7 2.1-22.1 2.5 2.6-5.8 8.4-5.6 23.3-3-29.4-2.1 17z" fill="#22328f"/>
<path d="M693.6 515.5l6.2 18.7 5.6-22.6 2.5 .5 2.3-6.6 2.8 20.1-5.7 13.6-6.2-15.5-2.9-25.2-2.5-.3z" fill="#1f2f87"/>
<path d="M1255.6 833.9l7-22.4 6.6-8.4 2.2-3.9 1.9 2.8 2.9-22.6-7.4 33.3-6.2-4.1-2.7 20.1-1.8-7.6z" fill="#61c2bf"/>
<path d="M1044.5 956l6 19.4 5.9 18.5 2.1 9.1 2.4-14.8 2.3-6-6.3 7.4-6-9.4-2.4 7.9-2-10.1z" fill="#e2f4b2"/>
<path d="M531.7 680.9l6.2 10.8 5.3-20 2.5-3.8 2.8 8.6 2.1-15-5.6 9.2-5 27.9-3-13.4-1.8 24.4z" fill="#1e8abd"/>
<path d="M907.1 724.5l6.1-11.5 6.1 30.2 2.3 .4 2.3-22 2.2 37.9-6-34.6-6-28.7-2.4 35.1-2.3-9.4z" fill="#2da2c2"/>
<path d="M576.7 625l5.7-5.7 6 2.7 2.7 8.8 2.7 6.3 2.5-1.4-5.4 17.5-6.9-37.4-1.5 37-2 19.2z" fill="#216daf"/>
<path d="M884.6 617.6l6.1 32.4 6.1 3.4 2.3-6.8 2.3-14.1 2.3 24.8-6.1-13.3-6-17.3-2.4-15.8-2.3 9.2z" fill="#216daf"/>
<path d="M855.2 582.2l6-18.7 6.1 50.6 2.3-44.8 2.3 15.9 2.4-19.1-6.1-8.8-6.1-5.2-2.4-11.2-2.3 13.4z" fill="#24459c"/>
<path d="M648.2 554.8l5.9-4.4 6.2 12.4 2.3-9.8 2.4-2.7 2.3-10.5-5.7 12.9-5.6 16.8-2.9-20.3-2.2 15.1z" fill="#243d98"/>
<path d="M969.6 944.3l6 13.6 6.2-.1 2 21.6 2.3-1.9 2.4-14.7-6.1-3.5-5.9-25.7-2.5 26.4-2.1-20.4z" fill="#d5efb3"/>
<path d="M603.2 607.3l5.6-14.2 5.7-6.3 2.3-8.6 2.8 9.6 2.7 7.9-5.8 7.3-5.6 12.3-2.7-8.1-2.5 1.1z" fill="#2355a4"/>
<path d="M782.2 487.6l6 1.3 5.9-21.6 2.4 4.7 2.7 38.5 2-48.3-5.8 23.5-5.8 20.9-2.8-46.2-2.2 25.2z" fill="#11246b"/>
<path d="M762.9 478.3l6.1 16.5 6.2 11.4 2.1-27.9 2.6 20.4 2.3-11.1-6.1-6.6-5.8 18.4-2.5-14.3-2.1 31.4z" fill="#152772"/>
<path d="M1132.8 959.4l6.4-9.2 6.2 3.9 1.8 13.2 2.7-22.5 2.7-25.4-7.2 42-6.3 2.2-2-5.1-1.7-20.1z" fill="#d3eeb3"/>
<path d="M1204 884.8l5.7 20.9 7.2-33.6 2.8-23.6 1.7 13 1.5 19.6-6-9.4-6.4 7.1-1.6-21.6-2.4 11.2z" fill="#95d5b9"/>
<path d="M912.3 741.3l6.1 11.5 6 36.1 2.4-21.3 2.2 20.7 2.3-9.6-6-27.6-6-7.9-2.3 2-2.4-.1z" fill="#3cb1c3"/>
<path d="M981.8 957.8l6 9.6 6.1 8.1 2.4-15.7 2.3-10.2 1.9 37.8-5.9-17.7-6.1-6.9-2.4 14.7-2.3 1.9z" fill="#daf0b3"/>
<path d="M934.9 841.9l6.2-24.1 5.9 36.7 2.2 22.8 2.3-5.7 2.3 1.3-6-23-6-12.9-2.3 3.2-2.3-3.1z" fill="#7ecdbb"/>
<path d="M940.1 863.8l6 40.2 6.1-14.4 2.3 7.3 2.3-4.4 2.1 30.6-6-26.7-5.9-41.9-2.4 26.4-2.3-1.1z" fill="#a0dab8"/>
<path d="M889.8 661.3l6.1 16.4 6 16.4 2.4-28.1 2.3 21.6 2.3-7-6.1-3.9-6-23.3-2.4-26.6-2.3 38z" fill="#1f80b8"/>
<path d="M1177.5 935.2l7.3-41.8 5.7 20.5 2.4-8.6 2.4-10.9 2 4.4-5.6-24.2-7.2 36.2-2.5 13.6-1.5-23z" fill="#b0e0b6"/>
<path d="M832.5 462.7l6.1 1.6 6.1 24.5 2.3-16.4 2.4 1.2 2.3-13.2-6.1-1.6-6 11.7-2.2 25.8-2.4-13z" fill="#0d2163"/>
<path d="M837.6 477.7l6.2 31.7 6.1 11 2.4 3.6 2.4 17.3 2.3-11.8-6.1-13-6.2-27.7-2.3 12.5-2.4-5.1z" fill="#1b2c80"/>
<path d="M1012.9 975.7l6.2-.1 6.2-3.5 2.3-5.9 2 17.9 2.8-43.3-6.9 56.4-5.9-18.3-1.8-42.9-2.5 31.6z" fill="#daf0b3"/>
<path d="M1088 978.5l5.7 30.4 6.7-29.1 1.8 19.7 2.4-11.8 2.7-25.5-6.7 27.2-6.6 18-2-7.1-2.1-4.5z" fill="#e5f5b2"/>
<path d="M550.6 661.5l5.6-10.4 6.3 15.3 1.6-34.7 3.6 37.4 1.9-23.1-5.5 14.6-5.5 10.8-2.5 2.4-2.5 2z" fill="#1f7bb6"/>
<path d="M1056.4 993.9l6.2-3.4 6 15.7 2.7-37.2 1.9 19.7 2.6-20-6.3 6.7-6.3 6.8-2.3 6-2.4 14.8z" fill="#e2f4b2"/>
<path d="M1295.1 775.5l6.5-4.7 1.8 6.9 2.3-6.3 2.4-11.1-6.9 16.4-2.1 1.5-2.2 2.9z" fill="#40b5c4"/>
<path d="M744 509.7l5.8-16.9 6.1 10.1 2.3-8.7 2.4-5.5 2.3-10.4-5.8 17.2-5.9 10.9-2.6-16.6-2.3 9.3z" fill="#152772"/>
<path d="M1025.3 972.1l5.9 24.8 5.8 23.6 2.7-32.8 2.2 3 2.6-34.7-6.7 41.4-5.4-56.6-2.8 43.3-2-17.9z" fill="#e0f3b2"/>
<path d="M957.4 935l6.1 3.9 6.1 5.4 2.3-4.7 2.1 20.4 2.5-26.4-6.2 3.3-6.1-6.4-2.2-12.1-2.2-5.4z" fill="#c9eab4"/>
<path d="M993.9 975.5l6.2-3.3 5.8 29.2 2.5-23.8 2.2 10.1 2.3-12-6.1 3.8-6.3 7.9-1.9-37.8-2.3 10.2z" fill="#ddf2b2"/>
<path d="M1249.7 823.8l6.1 7.3 6.5-7.4 2.7-18.9 2 2.5 2.2-4.2-6.6 8.4-7 22.4-2.2 5.2-1.8-11.3z" fill="#65c3bf"/>
<path d="M843 558.2l6-15 6.2 39 2.2-27.9 2.3-13.4 2.4 11.2-6.1-1.4-6.1-30.3-2.4-18.2-2.3 35z" fill="#253795"/>
<path d="M1152.6 919.4l5.2 45.3 7.4-51.4 2.1 1.9 2.2-1.6 1.8 13.8-6.1-4.2-6.7 17.5-2.7 24.6-1.7-19.1z" fill="#c8e9b4"/>
<path d="M622.3 595.7l5.5-17.3 5.6-16.5 3 22.7 1.9-26 2.9 18.4-6.1-8.6-5.8 4.9-2 24.3-2.6-7.1z" fill="#23499e"/>
<path d="M1276.2 779.4l5.8 14.7 6.3 .8 3-29.4 2.2-2.1 1.6 12.1-7 18.4-5.9-11.7-2.9 26.8-1.6-13.9z" fill="#4ab9c3"/>
<path d="M917.6 761.6l6 12.2 6.1 22.3 2.2 24.4 2.3-6.9 2.4-16.8-6.1-6.7-6.1-1.2-2.3-9.5-2.3 4.4z" fill="#4ebbc2"/>
<path d="M1229.3 876l8-57.3 6.2 3.9 2.2-5.4 2 4.9 2 1.7-5.9-14.1-6.7 14.1-2.5 13.1-2.2 6.9z" fill="#6dc6be"/>
<path d="M794.1 467.3l6.4 52.2 5.8-35.2 2.4 2.9 2.2-18.9 2.6 23.4-6 9.3-6.3-38.8-2 48.3-2.7-38.5z" fill="#11246b"/>
<path d="M1107.3 962.2l5.7 28.4 6.5-18.2 2.3-4.5 1.9 13.4 2.2-4-6-8.4-6.3 2-2.5 20.5-2-10.7z" fill="#dcf1b2"/>
<path d="M872.4 610.5l6.1-8 6.1 15.1 2.3 2.5 2.3-9.2 2.4 15.8-6.1-18-6.1-10.7-2.3-9.4-2.3 15.2z" fill="#2259a6"/>
<path d="M813.5 491.7l5.9-18.6 6-4.9 2.4-.3 2.4 9 2.3-14.2-6 1.5-6 13.3-2.3 3-2.3 14.6z" fill="#0d2163"/>
<path d="M1037 1020.5l6.6-26.9 6.1 .9 1.8 31.2 2.8-42.1 2.1 10.3-5.9-18.5-6-19.4-2.6 34.7-2.2-3z" fill="#e3f4b2"/>
<path d="M860.2 584.5l6.1-.8 6.1 26.8 2.4-6.7 2.3-15.2 2.3 9.4-6 8.8-6.1 7.3-2.4-55.2-2.3 26.8z" fill="#2350a1"/>
<path d="M705.4 511.6l6.1 6 6 2.9 2.3-9.1 2.4-2.9 2.1-25.9-5.5 35.2-5.8 7.8-2.8-20.1-2.3 6.6z" fill="#1a2b7e"/>
<path d="M686.1 513.3l6.3 18.1 5.9-5.8 2.3-10.1 2.4-1.7 2.4-2.2-5.6 22.6-6.2-18.7-2.5-2.6-2.1 22.1z" fill="#1e2e85"/>
<path d="M895 678.2l6.1-12.2 6 58.5 2.3-2.6 2.3 9.4 2.4-35.1-6.1-16.3-6.1 14.2-2.3-10.7-2.3 2.2z" fill="#1d90c0"/>
<path d="M525 712.2l4.5-42 6.4 15.3 1.9-23.5 3.6 36.5 1.8-26.8-5.3 20-6.2-10.8-2.1 15.3-2.4 4.8z" fill="#1e8abd"/>
<path d="M724.3 482.6l6.3 22.4 6-2.5 2.2-14.2 2.5 .6 2.7 20.8-5.9 9.6-6.4-29.2-2.4 2-2.2 14.6z" fill="#162874"/>
<path d="M667.3 539.8l5.8-8.4 6 4.6 2.4-6.3 2.3-7.8 2.3-8.6-5.8 5.2-5.5 28.1-3.2-40.7-1.7 39.7z" fill="#21308b"/>
<path d="M922.7 812.5l6.1 13.4 6.1 16 2.3-4.8 2.3 3.1 2.3-3.2-6.1-7.5-6-33.4-2.3-11.3-2.4 43.3z" fill="#65c3bf"/>
<path d="M877.6 626l6.1 35 6.1 .3 2.3 3.5 2.3-38 2.4 26.6-6.1-3.4-6.1-32.4-2.3 7.5-2.4 10.3z" fill="#216daf"/>
<path d="M1125.9 977.3l7.1-37.5 5.5 33.1 2.5-17.9 2.1 2 2.3-2.9-6.2-3.9-6.4 9.2-2.5 14.2-2-3.8z" fill="#d4eeb3"/>
<path d="M1005.9 1001.4l6.4-14.6 6 14.5 2.6-36.4 2.1 13.5 2.3-6.3-6.2 3.5-6.2 .1-2.3 12-2.2-10.1z" fill="#dff2b2"/>
<path d="M900.2 713l6 22.8 6.1 5.5 2.3 3.8 2.4 .1 2.3-2-6.1-30.2-6.1 11.5-2.3-12.4-2.3 11.4z" fill="#2b9fc2"/>
<path d="M755.9 502.9l6 .6 6.1 10.2 2.3-13.9 2.4 3.2 2.5 3.2-6.2-11.4-6.1-16.5-2.3 10.4-2.4 5.5z" fill="#152772"/>
<path d="M945.3 911.1l6 12.1 6.1 11.8 2.4-22 2.2 5.4 2.2 12.1-5.9-23.1-6.1-17.8-2.3 8.5-2.2-19.1z" fill="#b0e0b6"/>
<path d="M1222.9 881.1l7.3-35.3 7-22 1.2 29.4 3.3-39.5 1.8 8.9-6.2-3.9-8 57.3-1.4-21.1-2.1-2.7z" fill="#75c9bd"/>
<path d="M1197.3 898.8l7.2-34.8 6.6-12.9 1.7 18.2 2.2-5.2 1.9 8-7.2 33.6-5.7-20.9-2-4.2-2.5 12.4z" fill="#92d5b9"/>
<path d="M950.6 912.4l6 35 6 19.4 2.3-6.8 2.3 .8 2.4-16.5-6.1-5.4-6.1-3.9-2.4 25.5-2.3-13z" fill="#cdebb4"/>
<path d="M641.2 577l5.6-17.3 5.7-10.8 2.4-7.4 2.5 2.9 2.9 18.4-6.2-12.4-5.9 4.4-2.4 2.8-2.1 20.7z" fill="#243c98"/>
<path d="M1049.7 994.5l6.5-19.6 5.8 25.3 2.4-7.6 2 10.1 2.2 3.5-6-15.7-6.2 3.4-2.1-10.3-2.8 42.1z" fill="#e5f5b2"/>
<path d="M596.3 635.7l5.5-16.8 5.3-24.5 2.7 5.4 2.3-9.3 2.4-3.7-5.7 6.3-5.6 14.2-2.6-2.6-3.1-24.3z" fill="#2352a3"/>
<path d="M1068.6 1006.2l6.5-21.8 6 15 2.2-5 2.2 1.5 2.5-17.4-6.1-3.4-6.1-6.4-2.6 20-1.9-19.7z" fill="#e0f3b2"/>
<path d="M962.6 966.8l6.1 2.2 6.1 7.2 2.4-11.1 2.4-22 2.2 14.7-6.2 .1-6-13.6-2.4 16.5-2.3-.8z" fill="#d3eeb3"/>
<path d="M927.9 844.7l6.1 19.5 6.1-.4 2.2 16 2.3 1.1 2.4-26.4-5.9-36.7-6.2 24.1-2.4 6.5-2.3 6z" fill="#7cccbb"/>
<path d="M974.8 976.2l6.1 9.2 6.1 3.4 2.3-5.9 2.2 9.4 2.4-16.8-6.1-8.1-6-9.6-2.2-14.7-2.4 22z" fill="#d9f0b3"/>
<path d="M848 554.9l6-9.2 6.2 38.8 2.4 1.2 2.3-26.8 2.4 55.2-6.1-50.6-6 18.7-2.5-37.6-2.4 9.1z" fill="#24419a"/>
<path d="M987 988.8l6.2-2.1 6 13.3 2.4-17.4 2.3 2 2 16.8-5.8-29.2-6.2 3.3-2.4 16.8-2.2-9.4z" fill="#e0f3b2"/>
<path d="M825.4 468.2l6.1 1.6 6.1 7.9 2.4 18.5 2.4 5.1 2.3-12.5-6.1-24.5-6.1-1.6-2.3 14.2-2.4-9z" fill="#0d2161"/>
<path d="M1171.3 927.4l7.1-32.5 6.4-3.9 1.5 24 2.4-13.5 1.8 12.4-5.7-20.5-7.3 41.8-.4-67.9-4.2 83.7z" fill="#aedfb6"/>
<path d="M775.2 506.2l5.7-30.9 6 2.3 2.4-.6 2.4-7.4 2.4-2.3-5.9 21.6-6-1.3-2.3 11.1-2.6-20.4z" fill="#0e2265"/>
<path d="M882.8 650.5l6.1 10.8 6.1 16.9 2.3 7.4 2.3-2.2 2.3 10.7-6-16.4-6.1-16.4-2.4-12.4-2.3 18.6z" fill="#1f7db6"/>
<path d="M933.1 878.8l6.1 18.6 6.1 13.7 2.4-32.1 2.2 19.1 2.3-8.5-6.1 14.4-6-40.2-2.2-14.4-2.6 82.8z" fill="#9cd8b8"/>
<path d="M1018.3 1001.3l6.3-12.7 5.9 19.6 2.7-35 2.1 7.7 1.7 39.6-5.8-23.6-5.9-24.8-2.3 6.3-2.1-13.5z" fill="#e0f3b2"/>
<path d="M806.3 484.3l6 2.9 6.1 7.6 2.3-11.8 2.6 22.9 2.1-37.7-6 4.9-5.9 18.6-2.6-23.4-2.2 18.9z" fill="#0e2265"/>
<path d="M569.6 646l5.3-20.4 5.9-3 2.3-6.8 3 16.8 2.3-10.6-6-2.7-5.7 5.7-2 21-2.6-.7z" fill="#2262aa"/>
<path d="M915.7 850.5l6.1-1.4 6.1-4.4 2.3 9.7 2.3-6 2.4-6.5-6.1-16-6.1-13.4-2.3-.5-2.3 9.1z" fill="#6dc6be"/>
<path d="M660.3 562.8l5.4-27.9 5.7-11.1 2.7 9.7 2.6 6 2.4-3.5-6-4.6-5.8 8.4-2.3 10.5-2.4 2.7z" fill="#233390"/>
<path d="M905.4 725.7l6.1 15.5 6.1 20.4 2.2 22.2 2.3-4.4 2.3 9.5-6-36.1-6.1-11.5-2.3 8.7-2.3 15.2z" fill="#37acc3"/>
<path d="M865.4 604.2l6.1 24.4 6.1-2.6 2.3 9.4 2.4-10.3 2.3-7.5-6.1-15.1-6.1 8-2.3-1.7-2.4-18.8z" fill="#2259a6"/>
<path d="M835.8 537l6.1 21.3 6.1-3.4 2.3-1.2 2.4-9.1 2.5 37.6-6.2-39-6 15-2.6-40.6-2.3 15.9z" fill="#253595"/>
<path d="M938.3 921.5l6.2-7 6.1-2.1 2.1 35.1 2.3 13 2.4-25.5-6.1-11.8-6-12.1-2.4 4.8-2.2-17.4z" fill="#b9e4b5"/>
<path d="M679.1 536l6-1.4 5.9-4.8 2.2-13.9 2.8 22 2.3-12.3-5.9 5.8-6.3-18.1-2.3 8.6-2.3 7.8z" fill="#1e2e85"/>
<path d="M830.6 506.2l6-16.4 6.4 68.4 2.2-21 2.3-35 2.4 18.2-6.1-11-6.2-31.7-2.4-2-2.2 27.3z" fill="#172976"/>
<path d="M1145.4 954.1l6.6-15.7 6.2 2.6 3-37.9 1.8 12.7 2.2-2.5-7.4 51.4-5.2-45.3-2.7 25.4-2.7 22.5z" fill="#c4e8b4"/>
<path d="M698.3 525.6l5.7-16.5 6-.4 2.5 3.9 2.6 12 2.4-4.1-6-2.9-6.1-6-2.4 2.2-2.4 1.7z" fill="#1a2b7e"/>
<path d="M1081.1 999.4l6.6-22 6.1 4.7 1.8 20.1 2.6-20.4 2.2-2-6.7 29.1-5.7-30.4-2.5 17.4-2.2-1.5z" fill="#e0f3b2"/>
<path d="M999.2 1000l6.3-8.7 6.1 .8 2.3-5 2.2 8.7 2.2 5.5-6-14.5-6.4 14.6-2-16.8-2.3-2z" fill="#e1f3b2"/>
<path d="M1119.5 972.4l6.2 4.2 6.2-.1 2.5-14.2 2.1 3.3 2 7.3-5.5-33.1-7.1 37.5-2.2 4-1.9-13.4z" fill="#d5efb3"/>
<path d="M588.4 622l5.5-15.5 5.3-24.3 3.4 32 2.2-13.4 2.3-6.4-5.3 24.5-5.5 16.8-2.5 1.4-2.7-6.3z" fill="#2258a5"/>
<path d="M1100.4 979.8l6.4-6.6 5.9 16.8 2.6-24.3 2.2 1.3 2 5.4-6.5 18.2-5.7-28.4-2.7 25.5-2.4 11.8z" fill="#daf0b3"/>
<path d="M717.5 520.5l6.1 4.5 5.6-27.5 2.6 12.4 2-32.3 2.8 24.9-6 2.5-6.3-22.4-2.1 25.9-2.4 2.9z" fill="#162874"/>
<path d="M543.2 671.7l5.5-13.4 5.6-11.1 2.1-15.8 3 14.3 3.1 20.7-6.3-15.3-5.6 10.4-2.1 15-2.8-8.6z" fill="#2073b2"/>
<path d="M768 513.7l5.8-26 6.1 8.9 2.6 20.8 2.2-18.5 2.2-21.3-6-2.3-5.7 30.9-2.5-3.2-2.4-3.2z" fill="#13266f"/>
<path d="M1269.2 803.1l7.3-30.1 6.8-12.8 1.5 15.8 1.9 3.6 1.6 15.3-6.3-.8-5.8-14.7-2.9 22.6-1.9-2.8z" fill="#44b7c4"/>
<path d="M736.6 502.5l5.9-7.4 5.9-11.9 2.4 2.3 2.5 1.6 2.6 15.8-6.1-10.1-5.8 16.9-2.7-20.8-2.5-.6z" fill="#11246b"/>
<path d="M1243.5 822.6l5.6 24 7.4-36 2.3-6.9 2.1-.7 1.4 20.7-6.5 7.4-6.1-7.3-2-1.7-2-4.9z" fill="#5fc1c0"/>
<path d="M516.2 679.8l6.6 21.2 5.8-1.4 2.2-10.4 2.2-12.7 2.9 9-6.4-15.3-4.5 42-2.9-8.4-2.7-4.4z" fill="#1e8abd"/>
<path d="M1288.3 794.9l7.2-26.1 1.9 5 2.4-10.2 1.8 7.2-6.5 4.7-1.6-12.1-2.2 2.1z" fill="#3cb1c3"/>
<path d="M910.6 789l6.1 5.1 6 18.4 2.3 15.6 2.4-43.3 2.3 11.3-6.1-22.3-6-12.2-2.4 18.8-2.3 5z" fill="#48b9c3"/>
<path d="M1030.5 1008.2l6.3-9.7 6.3-9.5 2.3 .1 2.2-3.7 2.1 9.1-6.1-.9-6.6 26.9-1.7-39.6-2.1-7.7z" fill="#e1f3b2"/>
<path d="M786.9 477.6l6.2 9.7 6.1 11.9 2.4 .4 2.2-27.2 2.5 11.9-5.8 35.2-6.4-52.2-2.4 2.3-2.4 7.4z" fill="#0e2265"/>
<path d="M818.4 494.8l6.1 8 6.1 3.4 2.4-3.2 2.2-27.3 2.4 2-6.1-7.9-6.1-1.6-2.1 37.7-2.6-22.9z" fill="#0f2367"/>
<path d="M893.2 732.1l6.1-.3 6.1-6.1 2.3 39.5 2.3-15.2 2.3-8.7-6.1-5.5-6-22.8-2.4 31.2-2.3-27.2z" fill="#2b9fc2"/>
<path d="M614.5 586.8l6 2.5 5.4-26 2.3-6.1 2.5-3.6 2.7 8.3-5.6 16.5-5.5 17.3-2.7-7.9-2.8-9.6z" fill="#24439b"/>
<path d="M921 838.6l6.1 25.2 6 15 2.2 53.4 2.6-82.8 2.2 14.4-6.1 .4-6.1-19.5-2.3-5.4-2.3 29.6z" fill="#80cebb"/>
<path d="M853.1 574.4l6.2 15.8 6.1 14 2.3-14.2 2.4 18.8 2.3 1.7-6.1-26.8-6.1 .8-2.3 1.2-2.4 3.6z" fill="#234c9f"/>
<path d="M888 677.4l6.1 26.5 6.1 9.1 2.3 10.5 2.3-11.4 2.3 12.4-6-58.5-6.1 12.2-2.4 1.7-2.3 .8z" fill="#1e8bbd"/>
<path d="M1062 1000.2l6.5-19.9 6.2 1.9 1.9 20.5 2.5-18.6 2 15.3-6-15-6.5 21.8-2.2-3.5-2-10.1z" fill="#e0f3b2"/>
<path d="M1216.9 872.1l6.3-1.5 8.3-67.4 .9 39.3 2.1 .3 2.7-19-7 22-7.3 35.3-1.5-19.6-1.7-13z" fill="#75c9bd"/>
<path d="M562.5 666.4l4.8-37.9 6.2 9.6 2.4-5.6 2.6 .8 2.3-10.7-5.9 3-5.3 20.4-1.9 23.1-3.6-37.4z" fill="#2165ab"/>
<path d="M1190.5 913.9l7.2-35.3 6.7-14 1.3 29.4 3.4-46.6 2 3.7-6.6 12.9-7.2 34.8-2-4.4-2.4 10.9z" fill="#8ed3ba"/>
<path d="M633.4 561.9l5.9 .8 5.6-16.8 2.7 6.4 2.5-1.5 2.4-1.9-5.7 10.8-5.6 17.3-2.9-18.4-1.9 26z" fill="#253997"/>
<path d="M870.5 611.7l6.2 24.4 6.1 14.4 2.3 17 2.3-18.6 2.4 12.4-6.1-.3-6.1-35-2.4 .6-2.3-19.7z" fill="#2165ab"/>
<path d="M955.8 949.6l6.2 7.4 6.1 3.2 2.3-1.2 2.1 19.1 2.3-1.9-6.1-7.2-6.1-2.2-2.2-9.2-2.3-1.4z" fill="#d0edb3"/>
<path d="M926.2 878.1l6.1 16.2 6 27.2 2.4-23 2.2 17.4 2.4-4.8-6.1-13.7-6.1-18.6-2.3 15.7-2.2-27.8z" fill="#9cd8b8"/>
<path d="M903.6 773.2l6.1 38.8 6 38.5 2.4-29.4 2.3-9.1 2.3 .5-6-18.4-6.1-5.1-2.4 1-2.3 3.6z" fill="#50bbc2"/>
<path d="M748.4 483.2l6.5 39.9 5.6-29.9 2.3-14.3 2.5 6.4 2.7 28.4-6.1-10.2-6-.6-2.6-15.8-2.5-1.6z" fill="#11246b"/>
<path d="M1165.2 913.3l6.2 4.8 6.3-.5 2.5-13.1 1.8 10.9 2.8-24.4-6.4 3.9-7.1 32.5-1.8-13.8-2.2 1.6z" fill="#a9ddb7"/>
<path d="M1011.6 992.1l6.2-.9 6.4-15.5 2.1 8.4 2.1 14.3 2.1 9.8-5.9-19.6-6.3 12.7-2.2-5.5-2.2-8.7z" fill="#dff2b2"/>
<path d="M840.9 552.9l6.3 56.2 5.9-34.7 2.4 14.9 2.4-3.6 2.3-1.2-6.2-38.8-6 9.2-2.3 7.6-2.6-35.5z" fill="#243d98"/>
<path d="M799.2 499.2l6-2.1 6-10 2.4-4.4 2.3-7.1 2.5 19.2-6.1-7.6-6-2.9-2.5-11.9-2.2 27.2z" fill="#0d2163"/>
<path d="M535.9 685.5l5.5-10.9 5.6-12.6 2.6 2 2.5-1.5 2.2-15.3-5.6 11.1-5.5 13.4-1.8 26.8-3.6-36.5z" fill="#1f78b4"/>
<path d="M968.1 960.2l6 14.4 6.3-7.1 2.2 9 2.3-10 2.1 22.3-6.1-3.4-6.1-9.2-2.3 1.9-2.1-19.1z" fill="#d5efb3"/>
<path d="M1043.1 989l6 15 6.3-1.4 2.1 2.8 2.2 .8 2.3-6-5.8-25.3-6.5 19.6-2.1-9.1-2.2 3.7z" fill="#e0f3b2"/>
<path d="M943.7 931l6 10.9 6.1 7.7 2.3 6.6 2.3 1.4 2.2 9.2-6-19.4-6-35-2.4 28.1-2.3 2.5z" fill="#c6e9b4"/>
<path d="M779.9 496.6l5.9-9.7 6.1-4.4 2.6 22.9 2.4 9.3 2.3-15.5-6.1-11.9-6.2-9.7-2.2 21.3-2.2 18.5z" fill="#11246b"/>
<path d="M823.4 493.7l6.2 27.1 6.2 16.2 2.3-3.5 2.3-15.9 2.6 40.6-6.4-68.4-6 16.4-2.5-27.3-2.2 28.6z" fill="#172978"/>
<path d="M908.8 826.4l6.1 13 6.1-.8 2.3 30.3 2.3-29.6 2.3 5.4-6.1 4.4-6.1 1.4-2.2-46.7-2.4 23.9z" fill="#69c5be"/>
<path d="M710 508.7l6.1 9.7 5.6-28.3 2.5 2.4 3 35.3 2-30.3-5.6 27.5-6.1-4.5-2.4 4.1-2.6-12z" fill="#172976"/>
<path d="M980.4 967.5l5.9 26.1 6.2-3.6 2.1 15.2 2.6-28.6 2 23.4-6-13.3-6.2 2.1-2.1-22.3-2.3 10z" fill="#daf0b3"/>
<path d="M898.4 773.9l6.1-6.3 6.1 21.4 2.3-3.6 2.3-5 2.4-18.8-6.1-20.4-6.1-15.5-2.4 11-2.3 12.5z" fill="#35aac3"/>
<path d="M1283.3 760.2l5.9 13.6 1.7 10.7 1.5 16.4 3.1-32.1-7.2 26.1-1.6-15.3-1.9-3.6z" fill="#3db2c4"/>
<path d="M1138.5 972.9l7.2-41.7 6.4-9.2 2 9.2 2.7-22.6 1.4 32.4-6.2-2.6-6.6 15.7-2.3 2.9-2.1-2z" fill="#c2e7b4"/>
<path d="M858.4 634.7l6-15.7 6.1-7.3 2.4-4.8 2.3 19.7 2.4-.6-6.1 2.6-6.1-24.4-2.4-1.6-2.3 1.8z" fill="#2356a4"/>
<path d="M880.9 685.1l6.1 7.1 6.2 39.9 2.3-15.1 2.3 27.2 2.4-31.2-6.1-9.1-6.1-26.5-2.4 32.8-2.3-12.9z" fill="#1d90c0"/>
<path d="M671.4 523.8l6.1 5.1 5.8-10.2 2.7 12.9 2.3-12.4 2.7 10.6-5.9 4.8-6 1.4-2.4 3.5-2.6-6z" fill="#1d2e83"/>
<path d="M509.8 723l5.1-23.4 5.1-25.7 3.1 17 2.4-6.3 3.1 15-5.8 1.4-6.6-21.2-1.7 27.5-2.3 9.9z" fill="#1e8abd"/>
<path d="M729.2 497.5l6.1 7.1 6.3 20.4 2.1-22.8 2.3-11.4 2.4-7.6-5.9 11.9-5.9 7.4-2.8-24.9-2 32.3z" fill="#11246b"/>
<path d="M691 529.8l5.7-13.7 6.1 6 2.3-12 2.5 5.2 2.4-6.6-6 .4-5.7 16.5-2.3 12.3-2.8-22z" fill="#182a7a"/>
<path d="M1262.3 823.7l6.7-10.3 7.9-47.1 1.6 13.4 1.9 3.5 2.9-23-6.8 12.8-7.3 30.1-2.2 4.2-2-2.5z" fill="#42b6c4"/>
<path d="M1237.2 823.8l5.3 33 7.6-40.8 2.4-10.1 2 .8 2 3.9-7.4 36-5.6-24-1.8-8.9-3.3 39.5z" fill="#5dc0c0"/>
<path d="M652.5 548.9l5.7-16.4 6 4.5 2.5-3.1 2.3-8.7 2.4-1.4-5.7 11.1-5.4 27.9-2.9-18.4-2.5-2.9z" fill="#203089"/>
<path d="M931.4 929l6.1 2.9 6.2-.9 2.2 12 2.3-2.5 2.4-28.1-6.1 2.1-6.2 7-2.2-23-2.4 27.9z" fill="#b2e1b6"/>
<path d="M607.1 594.4l5.6-15.5 5.7-11.2 2.9 17.9 2.1-21.7 2.5-.6-5.4 26-6-2.5-2.4 3.7-2.3 9.3z" fill="#24439b"/>
<path d="M1024.2 975.7l5.9 24 5.9 24.6 2.5-25.6 2.2 5.3 2.4-15-6.3 9.5-6.3 9.7-2.1-9.8-2.1-14.3z" fill="#e0f3b2"/>
<path d="M1211.1 851.1l5.9 17 6.1 5 2.8-21.6 2.1-2.1 3.5-46.2-8.3 67.4-6.3 1.5-1.9-8-2.2 5.2z" fill="#76cabc"/>
<path d="M1074.7 982.2l5.7 32.6 6.7-27.3 2.4-9.1 1.8 22.8 2.5-19.1-6.1-4.7-6.6 22-2-15.3-2.5 18.6z" fill="#dcf1b2"/>
<path d="M828.6 532l6.2 23.7 6.1-2.8 2.2-25.9 2.6 35.5 2.3-7.6-6.1 3.4-6.1-21.3-2.3 21.2-2.6-50.2z" fill="#21318d"/>
<path d="M811.2 487.1l6.1 5.3 6.1 1.3 2.5 13.8 2.2-28.6 2.5 27.3-6.1-3.4-6.1-8-2.5-19.2-2.3 7.1z" fill="#0e2265"/>
<path d="M1093.8 982.1l6.6-18.8 6.1 8.9 2.2-2 2.1 4.2 1.9 15.6-5.9-16.8-6.4 6.6-2.2 2-2.6 20.4z" fill="#d6efb3"/>
<path d="M875.7 659l6.1-3.5 6.2 21.9 2.3 3.3 2.3-.8 2.4-1.7-6.1-16.9-6.1-10.8-2.4-7.1-2.3-6.1z" fill="#2072b1"/>
<path d="M1036 1024.3l6.1 2.2 6.6-25.6 1.9 22.6 2.4-8.8 2.4-12.1-6.3 1.4-6-15-2.4 15-2.2-5.3z" fill="#e5f5b2"/>
<path d="M846 574.8l6.1 6.5 6.3 53.4 2.3-30.3 2.3-1.8 2.4 1.6-6.1-14-6.2-15.8-2.3 25.9-2.4-18.8z" fill="#23499e"/>
<path d="M891.4 768l6.1-15.8 6.1 21 2.3 20.4 2.3-3.6 2.4-1-6.1-21.4-6.1 6.3-2.4-2-2.3 12.4z" fill="#3aaec3"/>
<path d="M1112.7 990l6.7-24.9 6.2 1.5 2.5-13.6 2.5-14.9 1.3 38.4-6.2 .1-6.2-4.2-2-5.4-2.2-1.3z" fill="#d0edb3"/>
<path d="M833.8 575.3l6.2 15.7 6-16.2 2.4 6.7 2.4 18.8 2.3-25.9-5.9 34.7-6.3-56.2-2.3 14.1-2.4 5.5z" fill="#24419a"/>
<path d="M992.5 990l6.2-3.5 6.3-10.2 2.1 21 2.4-17.6 2.1 12.4-6.1-.8-6.3 8.7-2-23.4-2.6 28.6z" fill="#dbf1b2"/>
<path d="M914 873.7l6.1-7.4 6.1 11.8 2.4-11.4 2.2 27.8 2.3-15.7-6-15-6.1-25.2-2.3 13.9-2.3-9.6z" fill="#7acbbc"/>
<path d="M741.6 525l6 1.9 5.7-32 2.4 4.6 2.4-4.3 2.4-2-5.6 29.9-6.5-39.9-2.4 7.6-2.3 11.4z" fill="#12256d"/>
<path d="M1055.4 1002.6l6.4-16.3 6.2 4.7 2.1 6.5 2.1 6 2.5-21.3-6.2-1.9-6.5 19.9-2.3 6-2.2-.8z" fill="#ddf2b2"/>
<path d="M580.8 622.6l5.7-8.2 5.5-16.3 2.3-10.4 3 17.7 1.9-23.2-5.3 24.3-5.5 15.5-2.3 10.6-3-16.8z" fill="#2350a1"/>
<path d="M791.9 482.5l6.2 22.6 6-10.3 2.3-5.5 2.4-3.3 2.4 1.1-6 10-6 2.1-2.3 15.5-2.4-9.3z" fill="#0f2367"/>
<path d="M1184.8 891l6.8-20.8 6.2 2.1 2 8 2.6-19 2 3.3-6.7 14-7.2 35.3-1.8-12.4-2.4 13.5z" fill="#8cd2ba"/>
<path d="M760.5 493.2l6.2 11.5 5.8-20.2 2.5 8.7 2.3-12.9 2.6 16.3-6.1-8.9-5.8 26-2.7-28.4-2.5-6.4z" fill="#0d2163"/>
<path d="M528.6 699.6l5.1-24.7 5.7-8.4 2.7 5.7 2.4-8.1 2.5-2.1-5.6 12.6-5.5 10.9-2.9-9-2.2 12.7z" fill="#1f7ab5"/>
<path d="M554.3 647.2l5.2-23.2 6.5 19.5 2.2-10.9 3.4 29.4 1.9-23.9-6.2-9.6-4.8 37.9-3.1-20.7-3-14.3z" fill="#2163aa"/>
<path d="M886.1 706.3l6.2 25.3 6.1 42.3 2.3-24.7 2.3-12.5 2.4-11-6.1 6.1-6.1 .3-2.4-10.6-2.3 6.6z" fill="#269bc1"/>
<path d="M1256.5 810.6l5.7 18.5 7.6-39.2 1.4 21.5 2.8-20.3 2.9-24.8-7.9 47.1-6.7 10.3-1.4-20.7-2.1 .7z" fill="#4ab9c3"/>
<path d="M919.2 887.9l6.2-1.5 6 42.6 2.3-2.6 2.4-27.9 2.2 23-6-27.2-6.1-16.2-2.4 31-2.2-42.8z" fill="#99d7b8"/>
<path d="M863.5 649.6l6.1 8.8 6.1 .6 2.4-21.7 2.3 6.1 2.4 7.1-6.1-14.4-6.2-24.4-2.3 9-2.4 3.5z" fill="#2260a9"/>
<path d="M1158.2 941l6.9-27.4 6.3-2.4 1.7 19.3 3.2-44.3 1.4 31.4-6.3 .5-6.2-4.8-2.2 2.5-1.8-12.7z" fill="#a5dcb7"/>
<path d="M1131.9 976.5l7.2-41.6 5.9 16.9 1.9 9.5 3.3-49.3 1.9 10-6.4 9.2-7.2 41.7-2-7.3-2.1-3.3z" fill="#c4e8b4"/>
<path d="M816.4 528.1l6.1-7.1 6.1 11 2.3-24 2.6 50.2 2.3-21.2-6.2-16.2-6.2-27.1-2.3 14.3-2.5-21.7z" fill="#172976"/>
<path d="M896.6 782.6l6.1 33.9 6.1 9.9 2.3 1.3 2.4-23.9 2.2 46.7-6-38.5-6.1-38.8-2.4 18.6-2.3-20.7z" fill="#4ab9c3"/>
<path d="M961.1 976.2l6.1 17.1 6.2-9.1 2.3-.8 2.2 2.4 2.5-18.3-6.3 7.1-6-14.4-2.5 24.9-2.1-29.1z" fill="#d3eeb3"/>
<path d="M721.7 490.1l6.5 34.9 5.6-36.3 2.5 6.8 2.7 18.8 2.6 10.7-6.3-20.4-6.1-7.1-2 30.3-3-35.3z" fill="#12256d"/>
<path d="M868.7 678.1l6.1-.7 6.1 7.7 2.4 12.2 2.3 12.9 2.4-32.8-6.2-21.9-6.1 3.5-2.3-3.5-2.4 .6z" fill="#2076b3"/>
<path d="M948.9 965.6l6.1 7 6.1 3.6 2.4-20.2 2.1 29.1 2.5-24.9-6.1-3.2-6.2-7.4-2.3 6.7-2.2-17z" fill="#cbebb4"/>
<path d="M821.6 563l6.1 1.2 6.1 11.1 2.4-2.8 2.4-5.5 2.3-14.1-6.1 2.8-6.2-23.7-2.4 3.6-2.4-7.6z" fill="#233390"/>
<path d="M1005 976.3l6 19.8 6.2-1.2 2.2 5 2 20.9 2.8-45.1-6.4 15.5-6.2 .9-2.1-12.4-2.4 17.6z" fill="#daf0b3"/>
<path d="M901.8 835l6.1 21.3 6.1 17.4 2.4-30.8 2.3 9.6 2.3-13.9-6.1 .8-6.1-13-2.3-1.9-2.4-10z" fill="#65c3bf"/>
<path d="M851.1 582.2l6.3 55 6.1 12.4 2.3-25.4 2.4-3.5 2.3-9-6.1 7.3-6 15.7-2.5-29.9-2.3 9.8z" fill="#2355a4"/>
<path d="M772.5 484.5l6.5 48.2 5.7-37.7 2.5 6.5 2.5 12.3 2.2-31.3-6.1 4.4-5.9 9.7-2.6-16.3-2.3 12.9z" fill="#0e2265"/>
<path d="M702.8 522.1l5.9-8.3 6.3 19.4 1.8-43.7 3 36.8 1.9-36.2-5.6 28.3-6.1-9.7-2.4 6.6-2.5-5.2z" fill="#142670"/>
<path d="M599.2 582.2l5.5-19.2 6.2 11.9 3.3 28.1 2.4-2.8 1.8-32.5-5.7 11.2-5.6 15.5-2.3 6.4-2.2 13.4z" fill="#24449c"/>
<path d="M936.7 934l6 36.5 6.2-4.9 2.4-26.3 2.2 17 2.3-6.7-6.1-7.7-6-10.9-2.4 5-2.2-14.8z" fill="#c0e6b5"/>
<path d="M625.9 563.3l4.8-49.6 6.5 22.9 3.3 37.1 2.3-12.6 2.1-15.2-5.6 16.8-5.9-.8-2.7-8.3-2.5 3.6z" fill="#22328f"/>
<path d="M1231.5 803.2l6 12.6 5.8 17 3-30.5 .5 52 3.3-38.3-7.6 40.8-5.3-33-2.7 19-2.1-.3z" fill="#5bc0c0"/>
<path d="M879.1 755.7l6.1-18.9 6.2 31.2 2.3 16.3 2.3-12.4 2.4 2-6.1-42.3-6.2-25.3-2.3 16.3-2.4-5.4z" fill="#2b9fc2"/>
<path d="M644.9 545.9l6.1 5.4 5.9-5.9 2.1-21.4 2.4-3.1 2.8 16.1-6-4.5-5.7 16.4-2.4 1.9-2.5 1.5z" fill="#1e2e85"/>
<path d="M1017.2 994.9l6.1 7.3 6 18.7 2.6-25.6 2.2-.7 1.9 29.7-5.9-24.6-5.9-24-2.8 45.1-2-20.9z" fill="#dff2b2"/>
<path d="M683.3 518.7l6 .2 6.1 1.3 2.2-13 2.7 11.4 2.5 3.5-6.1-6-5.7 13.7-2.7-10.6-2.3 12.4z" fill="#172976"/>
<path d="M1068 991l6.3-9 6 16.1 1.9 17.8 2.6-24.1 2.3-4.3-6.7 27.3-5.7-32.6-2.5 21.3-2.1-6z" fill="#dbf1b2"/>
<path d="M664.2 537l5.8-10.4 6.1 7.2 2.1-20.6 3.4 47.3 1.7-41.8-5.8 10.2-6.1-5.1-2.4 1.4-2.3 8.7z" fill="#1a2b7e"/>
<path d="M1029.3 1020.9l6.1 11.4 6.3-9.3 2.1 11.4 2.6-25.8 2.3-7.7-6.6 25.6-6.1-2.2-1.9-29.7-2.2 .7z" fill="#e5f5b2"/>
<path d="M501.4 705.4l5.6-8.8 6 3.1 1.8-24.2 2.6-2.2 2.6 .6-5.1 25.7-5.1 23.4-2.7-5.1-2.8-4.9z" fill="#1e83ba"/>
<path d="M924.5 912.5l6.1 2 6.1 19.5 2.4-12.8 2.2 14.8 2.4-5-6.2 .9-6.1-2.9-2.3-8.6-2.4 16.6z" fill="#aedfb6"/>
<path d="M1087.1 987.5l6.4-7.2 5.9 16.8 2.1 4.8 2.7-24.4 2.3-5.3-6.1-8.9-6.6 18.8-2.5 19.1-1.8-22.8z" fill="#d5efb3"/>
<path d="M804.1 494.8l6-8.2 6.3 41.5 2.2-41.8 2.5 21.7 2.3-14.3-6.1-1.3-6.1-5.3-2.4-1.1-2.4 3.3z" fill="#0d2163"/>
<path d="M973.4 984.2l6.2-1 6.2-.8 2.3-1.7 2.3-8.5 2.1 17.8-6.2 3.6-5.9-26.1-2.5 18.3-2.2-2.4z" fill="#d4eeb3"/>
<path d="M856.5 656.4l6-16.8 6.2 38.5 2.3-22 2.4-.6 2.3 3.5-6.1-.6-6.1-8.8-2.4-21-2.3 17.7z" fill="#2166ac"/>
<path d="M873.9 691.5l6.1 17.3 6.1-2.5 2.4 21.8 2.3-6.6 2.4 10.6-6.2-39.9-6.1-7.1-2.3 14.6-2.4-16.3z" fill="#1e88bc"/>
<path d="M1048.7 1000.9l6.1 8.6 6.2-.1 2.5-19.2 2.1 13.2 2.4-12.4-6.2-4.7-6.4 16.3-2.4 12.1-2.4 8.8z" fill="#ddf2b2"/>
<path d="M1276.9 766.3l5.8 16.7 1.9 3.5 2.5-11.2 2.1-1.5-5.9-13.6-2.9 23-1.9-3.5z" fill="#37acc3"/>
<path d="M907 858l6.1 22.2 6.1 7.7 2.4-21.6 2.2 42.8 2.4-31-6.1-11.8-6.1 7.4-2.3-37.9-2.4 27.7z" fill="#7acbbc"/>
<path d="M573.5 638.1l5.4-20.1 5.3-24.6 2.8 8.5 2.5-2.3 2.5-1.5-5.5 16.3-5.7 8.2-2.3 10.7-2.6-.8z" fill="#2351a2"/>
<path d="M753.3 494.9l6.3 25.6 5.7-25.3 2.4-7.4 2.7 22.8 2.1-26.1-5.8 20.2-6.2-11.5-2.4 2-2.4 4.3z" fill="#0e2265"/>
<path d="M1106.5 972.2l6 12.8 7.1-42.7 1.5 33.1 2.4-9.8 2.1 1-6.2-1.5-6.7 24.9-1.9-15.6-2.1-4.2z" fill="#ceecb3"/>
<path d="M733.8 488.7l6.2 17.5 6.1 2.9 2.4-3.8 2.5 5.3 2.3-15.7-5.7 32-6-1.9-2.6-10.7-2.7-18.8z" fill="#11246b"/>
<path d="M838.9 589.9l6.2 18.4 6-26.1 2.5 32.4 2.3-9.8 2.5 29.9-6.3-53.4-6.1-6.5-2.3 26-2.5-28.8z" fill="#24479d"/>
<path d="M1204.4 864.6l6.5-7 6.9-20.3 2.2-3.3 2.3-6.7 .8 45.8-6.1-5-5.9-17-2-3.7-3.4 46.6z" fill="#6dc6be"/>
<path d="M1177.7 917.6l6.8-19 6.9-23.4 2.1-.7 2 4.5 2.3-6.7-6.2-2.1-6.8 20.8-2.8 24.4-1.8-10.9z" fill="#89d1ba"/>
<path d="M547 662l5.1-25.2 6.3 9.9 2.7 6.9 1.9-23.8 3 13.7-6.5-19.5-5.2 23.2-2.2 15.3-2.5 1.5z" fill="#2262aa"/>
<path d="M520 673.9l6.3 13.1 6 3.6 2.1-17.2 2.1-14.6 2.9 7.7-5.7 8.4-5.1 24.7-3.1-15-2.4 6.3z" fill="#2076b3"/>
<path d="M912.3 877.3l6.1 30.3 6.1 4.9 2.2 24.5 2.4-16.6 2.3 8.6-6-42.6-6.2 1.5-2.3-4.4-2.3 22.5z" fill="#97d6b9"/>
<path d="M954.3 971.8l6.1 9.7 6 20.1 2.4-17.7 2.1 27.8 2.5-27.5-6.2 9.1-6.1-17.1-2.2-14.7-2.4 21z" fill="#d4eeb3"/>
<path d="M784.7 495l6.1 5.8 6-8.1 2.5-.1 2.3-5.8 2.5 8-6 10.3-6.2-22.6-2.2 31.3-2.5-12.3z" fill="#0d2161"/>
<path d="M889.6 820.1l6.1-3.8 6.1 18.7 2.3-20.5 2.4 10 2.3 1.9-6.1-9.9-6.1-33.9-2.4 9.6-2.3-1.8z" fill="#4ab9c3"/>
<path d="M942 955.2l6.1 14 6.2 2.6 2.2 10.7 2.4-21 2.2 14.7-6.1-3.6-6.1-7-2.4 12.2-2.2-20.1z" fill="#cbebb4"/>
<path d="M826.5 535.3l6.3 48.4 6.1 6.2 2.3-17.9 2.5 28.8 2.3-26-6 16.2-6.2-15.7-2.3 2-2.5-14.3z" fill="#253b97"/>
<path d="M894.8 830.2l6.1 24.8 6.1 3 2.3 5.5 2.4-27.7 2.3 37.9-6.1-17.4-6.1-21.3-2.4 4.7-2.3 8z" fill="#67c4be"/>
<path d="M985.8 982.4l6 15.3 6.3-15 2.3 4.1 2.1 18.1 2.5-28.6-6.3 10.2-6.2 3.5-2.1-17.8-2.3 8.5z" fill="#d4eeb3"/>
<path d="M861.6 677.5l6.2 15.2 6.1-1.2 2.3-8.1 2.4 16.3 2.3-14.6-6.1-7.7-6.1 .7-2.4-10-2.4-19.9z" fill="#2076b3"/>
<path d="M966.4 1001.6l6.2-8.1 6.1 20.8 2.5-29.2 2 30.2 2.6-32.9-6.2 .8-6.2 1-2.5 27.5-2.1-27.8z" fill="#d9f0b3"/>
<path d="M844.1 615.1l6.2 26.9 6.2 14.4 2.3-10.1 2.3-17.7 2.4 21-6.1-12.4-6.3-55-2.3 19-2.3 7.8z" fill="#2355a4"/>
<path d="M809 493.8l6.3 26.6 6.3 42.6 2.2-35 2.4 7.6 2.4-3.6-6.1-11-6.1 7.1-2.6-38-2.4 1.8z" fill="#152772"/>
<path d="M695.4 520.2l5.9-2.3 6 .5 2.6 4.7 2.3-9.8 2.8 19.9-6.3-19.4-5.9 8.3-2.5-3.5-2.7-11.4z" fill="#142670"/>
<path d="M637.2 536.6l6.3 17 6.1 4.4 1.8-33.5 2.9 18.4 2.6 2.5-5.9 5.9-6.1-5.4-2.1 15.2-2.3 12.6z" fill="#203089"/>
<path d="M884.3 761.4l6.2 16.1 6.1 5.1 2.3-11.5 2.3 20.7 2.4-18.6-6.1-21-6.1 15.8-2.4-7.5-2.3-6.5z" fill="#32a6c2"/>
<path d="M1152.1 922l6.2 5.1 6.7-18.2 2.2-.7 2.6-20.3 1.6 23.3-6.3 2.4-6.9 27.4-1.4-32.4-2.7 22.6z" fill="#a0dab8"/>
<path d="M1125.6 966.6l6.8-22.8 6 13.5 2.7-24.7 1.8 16.4 2.1 2.8-5.9-16.9-7.2 41.6-1.3-38.4-2.5 14.9z" fill="#bde5b5"/>
<path d="M814.4 547.4l6.2 17.9 5.9-30 2.5 27.7 2.5 14.3 2.3-2-6.1-11.1-6.1-1.2-2.4-7.3-2.5-20.7z" fill="#22328f"/>
<path d="M1250.1 816l7-22 6.6-8.5 2.6-14.3 .9 35.7 2.6-17-7.6 39.2-5.7-18.5-2-3.9-2-.8z" fill="#40b5c4"/>
<path d="M998.1 982.7l6 28.1 6.2-1.9 2.3-2.3 2.3-7.1 2.3-4.6-6.2 1.2-6-19.8-2.5 28.6-2.1-18.1z" fill="#d9f0b3"/>
<path d="M1010.3 1008.9l6.2 .6 6.1 11.6 2.1 12.2 2.6-29.9 2 17.5-6-18.7-6.1-7.3-2.3 4.6-2.3 7.1z" fill="#dff2b2"/>
<path d="M1080.3 998.1l6 12.8 6.7-23.5 2.2 1.8 2.5-16.8 1.7 24.7-5.9-16.8-6.4 7.2-2.3 4.3-2.6 24.1z" fill="#d6efb3"/>
<path d="M765.3 495.2l6.1 .6 6.1 4.9 2.5 1.3 2.3-10.8 2.4 3.8-5.7 37.7-6.5-48.2-2.1 26.1-2.7-22.8z" fill="#0d2161"/>
<path d="M676.1 533.8l6.1 4.9 5.3-39.6 3 25.5 2.5 6 2.4-10.4-6.1-1.3-6-.2-1.7 41.8-3.4-47.3z" fill="#172976"/>
<path d="M1269.8 789.9l6.1 10.7 3.1-32 2 2.9 1.7 11.5-5.8-16.7-2.9 24.8-2.8 20.3z" fill="#39adc3"/>
<path d="M715 533.2l5.5-31.2 6-7.7 2.5 8.6 2.4-6 2.4-8.2-5.6 36.3-6.5-34.9-1.9 36.2-3-36.8z" fill="#0e2265"/>
<path d="M1223.1 873.1l7.1-26.8 7.4-35.9 1.8 12.5 2.2-3.2 1.7 13.1-5.8-17-6-12.6-3.5 46.2-2.1 2.1z" fill="#57bec1"/>
<path d="M618.4 567.7l5.9-.8 5.8-9.8 2.3-9.2 2.4-6 2.4-5.3-6.5-22.9-4.8 49.6-2.5 .6-2.1 21.7z" fill="#21308b"/>
<path d="M929.8 935.8l6.2-15.5 6 34.9 2.3 2.5 2.2 20.1 2.4-12.2-6.2 4.9-6-36.5-2.3-10.1-2.3-.2z" fill="#b9e4b5"/>
<path d="M1061 1009.4l6.3-2.9 6.1 8.4 2.3-5.3 2.4-8.3 2.2-3.2-6-16.1-6.3 9-2.4 12.4-2.1-13.2z" fill="#daf0b3"/>
<path d="M849.4 679.9l6.1-19.5 6.1 17.1 2.3-29.3 2.4 19.9 2.4 10-6.2-38.5-6 16.8-2.5-33.9-2.3 16.1z" fill="#2165ab"/>
<path d="M1041.7 1023l6.4-13.5 6.4-13.4 2 16.9 2.6-27.2 1.9 23.6-6.2 .1-6.1-8.6-2.3 7.7-2.6 25.8z" fill="#ddf2b2"/>
<path d="M566 643.5l5.3-20.5 5.5-19 2.6 1 2.2-13.2 2.6 1.6-5.3 24.6-5.4 20.1-1.9 23.9-3.4-29.4z" fill="#2351a2"/>
<path d="M656.9 545.4l5.8-8.8 5.6-18.4 2.8 12 2.7 11.3 2.3-7.7-6.1-7.2-5.8 10.4-2.8-16.1-2.4 3.1z" fill="#182a7a"/>
<path d="M978.7 1014.3l6.4-31.9 5.8 46.1 2.5-22.2 2.2 3.2 2.5-26.8-6.3 15-6-15.3-2.6 32.9-2-30.2z" fill="#daf0b3"/>
<path d="M900 835.3l6.1 48.1 6.2-6.1 2.3 28.7 2.3-22.5 2.3 4.4-6.1-7.7-6.1-22.2-2.3 9-2.4 19.2z" fill="#7acbbc"/>
<path d="M796.8 492.7l6.3 22.7 5.9-21.6 2.4-1.9 2.4-1.8 2.6 38-6.3-41.5-6 8.2-2.5-8-2.3 5.8z" fill="#0c2060"/>
<path d="M866.8 672.3l6.1 30.1 6.2 53.3 2.3-38.5 2.4 5.4 2.3-16.3-6.1 2.5-6.1-17.3-2.4 1.1-2.3 16.5z" fill="#1e86bb"/>
<path d="M493.5 703l5.7-5.3 5.9-.3 1.7-25.9 3.1 13.7 3.1 14.5-6-3.1-5.6 8.8-2.3 8.7-2.5 4.6z" fill="#1f80b8"/>
<path d="M1022.6 1021.1l6.4-17.6 6 18.4 2.3-7.3 2.5-20.8 1.9 29.2-6.3 9.3-6.1-11.4-2-17.5-2.6 29.9z" fill="#e1f3b2"/>
<path d="M746.1 509.1l5.9-8.6 6.1-3.2 2.4-1.4 2.4-4.4 2.4 3.7-5.7 25.3-6.3-25.6-2.3 15.7-2.5-5.3z" fill="#0d2161"/>
<path d="M872 739.2l6.1-14.8 6.2 37 2.4-7.4 2.3 6.5 2.4 7.5-6.2-31.2-6.1 18.9-2.4-29.6-2.3-2.7z" fill="#259ac1"/>
<path d="M831.9 607.6l6.2 25.2 6-17.7 2.4-6.1 2.3-7.8 2.3-19-6 26.1-6.2-18.4-2.4-17.3-2.3 16.2z" fill="#24459c"/>
<path d="M1099.4 997.1l6.2 3.8 7-38.1 2.6-20.8 1.7 25 2.7-24.7-7.1 42.7-6-12.8-2.3 5.3-2.7 24.4z" fill="#cdebb4"/>
<path d="M1171.4 911.2l6.8-20.3 6.4-3 2.4-10 2.1 1 2.3-3.7-6.9 23.4-6.8 19-1.4-31.4-3.2 44.3z" fill="#89d1ba"/>
<path d="M935 981.8l6.1 7.4 6 24.9 2.5-23.4 2.3-16.2 2.4-2.7-6.2-2.6-6.1-14-2.3 11.9-2.4 9.3z" fill="#ceecb3"/>
<path d="M990.9 1028.5l6.2 .6 6.5-34.9 2.1 23.6 2.2 3.9 2.4-12.8-6.2 1.9-6-28.1-2.5 26.8-2.2-3.2z" fill="#ddf2b2"/>
<path d="M947.1 1014.1l6.4-29.5 5.9 39.5 2.4-24.1 2.4-16.5 2.2 18.1-6-20.1-6.1-9.7-2.4 2.7-2.3 16.2z" fill="#d5efb3"/>
<path d="M707.3 518.4l6.2 11 6.1 .4 2.5 5.7 2.4-8.6 2-32.6-6 7.7-5.5 31.2-2.8-19.9-2.3 9.8z" fill="#142670"/>
<path d="M877.3 775.9l6.1 10.1 6.2 34.1 2.3-29.7 2.3 1.8 2.4-9.6-6.1-5.1-6.2-16.1-2.3-6.1-2.4 14.4z" fill="#36abc3"/>
<path d="M592 598.1l5.7-10.4 5.6-11.3 2.6 1.3 2.1-20.4 2.9 17.6-6.2-11.9-5.5 19.2-1.9 23.2-3-17.7z" fill="#253b97"/>
<path d="M539.4 666.5l4.5-44.5 6.7 23.5 2.6 2.9 2.1-17.7 3.1 16-6.3-9.9-5.1 25.2-2.5 2.1-2.4 8.1z" fill="#225ea8"/>
<path d="M610.9 574.9l5.6-16.4 5.9-5.9 2.9 18.1 2-25.6 2.8 12-5.8 9.8-5.9 .8-1.8 32.5-2.4 2.8z" fill="#253494"/>
<path d="M882.5 809.5l6.1-12 6.2 32.7 2.3 17.5 2.3-8 2.4-4.7-6.1-18.7-6.1 3.8-2.4-48.7-2.3 40.5z" fill="#4ab9c3"/>
<path d="M1145 951.8l6.9-29.1 6.4-4.2 2.1 2.4 2.2-.7 2.4-11.3-6.7 18.2-6.2-5.1-1.9-10-3.3 49.3z" fill="#a5dcb7"/>
<path d="M922.7 956.9l6.2 4.6 6.1 20.3 2.3-5.4 2.4-9.3 2.3-11.9-6-34.9-6.2 15.5-2.5 41.2-2.3-.7z" fill="#c4e8b4"/>
<path d="M726.5 494.3l6.5 39 5.9-14.6 2.1-23 2.7 20.9 2.4-7.5-6.1-2.9-6.2-17.5-2.4 8.2-2.4 6z" fill="#0d2163"/>
<path d="M959.4 1024.1l6.3-18.3 6.3-11 2.2 5.9 2.3 3 2.2 10.6-6.1-20.8-6.2 8.1-2.2-18.1-2.4 16.5z" fill="#d9f0b3"/>
<path d="M1243.3 832.8l7.1-25.1 6.1 7 2.9-23.3 1.7 9.8 2.6-15.7-6.6 8.5-7 22-3.3 38.3-.5-52z" fill="#44b7c4"/>
<path d="M836.9 598.3l6.2 24.1 6.3 57.5 2.3-41.3 2.3-16.1 2.5 33.9-6.2-14.4-6.2-26.9-2.3 12.7-2.4-11.4z" fill="#2355a4"/>
<path d="M917.5 915.5l6.1 9.3 6.2 11 2.3-12.1 2.3 .2 2.3 10.1-6.1-19.5-6.1-2-2.3-20.3-2.4 25.3z" fill="#9cd8b8"/>
<path d="M1197.8 872.3l7-25 6.5-4.6 2.1 .2 2.5-14.3 1.9 8.7-6.9 20.3-6.5 7-2-3.3-2.6 19z" fill="#65c3bf"/>
<path d="M1263.7 785.5l5.7 20.6 2.5-12.2 1.8 10 2.2-3.3-6.1-10.7-2.6 17-.9-35.7z" fill="#3bb0c3"/>
<path d="M1073.4 1014.9l6.6-23.4 6 17.3 2.4-9.3 2.2-3.6 2.4-8.5-6.7 23.5-6-12.8-2.2 3.2-2.4 8.3z" fill="#d9f0b3"/>
<path d="M819.4 562.5l6.3 33.9 6.2 11.2 2.3-18.8 2.3-16.2 2.4 17.3-6.1-6.2-6.3-48.4-2.1 52.8-2.6-30.5z" fill="#253896"/>
<path d="M1003.6 994.2l5.9 38.6 6.3-12.3 2.2 6.8 2.3-7.7 2.3 1.5-6.1-11.6-6.2-.6-2.4 12.8-2.2-3.9z" fill="#e0f3b2"/>
<path d="M777.5 500.7l6-6.2 6.1 2.7 2.4-2.2 2.4-2.6 2.4 .3-6 8.1-6.1-5.8-2.4-3.8-2.3 10.8z" fill="#0a1e5c"/>
<path d="M513 699.7l6.1 5.7 5.4-14.4 1.2-45.9 2.3-9.6 4.3 55.1-6-3.6-6.3-13.1-2.6-.6-2.6 2.2z" fill="#2070b0"/>
<path d="M887.7 835.1l6.2 39.2 6.1-39 2.3 50.9 2.4-19.2 2.3-9-6.1-3-6.1-24.8-2.4 3-2.3 1.1z" fill="#63c3bf"/>
<path d="M486.6 732.6l6 2.2 5-26.3 2-17.4 3.4 22.9 2.1-16.6-5.9 .3-5.7 5.3-1.8 24.7-3.1-13.8z" fill="#1e86bb"/>
<path d="M801.9 507.3l6-6.2 6.5 46.3 2.3-12.4 2.5 20.7 2.4 7.3-6.3-42.6-6.3-26.6-2.3 11.2-2.5-7.1z" fill="#13266f"/>
<path d="M854.5 660.1l6.1 16.9 6.2-4.7 2.4 36.8 2.3-16.5 2.4-1.1-6.1 1.2-6.2-15.2-2.4-18.9-2.3 14z" fill="#2072b1"/>
<path d="M1119.6 942.3l6.2 2.3 6.6-15.7 1.6 31.4 2.4-11 2 8-6-13.5-6.8 22.8-2.1-1-2.4 9.8z" fill="#bbe4b5"/>
<path d="M824.8 618.4l6-6.6 6.1-13.5 2.5 18.1 2.4 11.4 2.3-12.7-6 17.7-6.2-25.2-2.5-13.3-2.3 4.3z" fill="#23499e"/>
<path d="M905.2 911.4l6.2-29.9 6.1 34 2.3 2 2.4-25.3 2.3 20.3-6.1-4.9-6.1-30.3-2.4 7.9-2.3 2.8z" fill="#87d0ba"/>
<path d="M940.3 986.6l6.2-1.7 6.1 25.6 2.3-8.7 2.2 22.6 2.3-.3-5.9-39.5-6.4 29.5-2.1-27-2.5 31.8z" fill="#d7efb3"/>
<path d="M649.6 558l5.9-5.4 5.6-19.7 2.4-5.8 2.7 7.5 2.1-16.4-5.6 18.4-5.8 8.8-2.6-2.5-2.9-18.4z" fill="#182a7a"/>
<path d="M687.5 499.1l6.3 13.4 6.1 7.7 2.3-13 2.6 4.4 2.5 6.8-6-.5-5.9 2.3-2.4 10.4-2.5-6z" fill="#102369"/>
<path d="M630.1 557.1l5.3-28.2 6.4 18.4 2.5-1.5 2.6 .2 2.7 12-6.1-4.4-6.3-17-2.4 5.3-2.4 6z" fill="#1b2c80"/>
<path d="M1217.8 837.3l6.8-15.3 6.5-5.1 1.3 28.4 2.5-12.6 2.7-22.3-7.4 35.9-7.1 26.8-.8-45.8-2.3 6.7z" fill="#53bdc1"/>
<path d="M910.5 902.3l6.1 23.2 6.1 31.4 2.3 19.4 2.3 .7 2.5-41.2-6.2-11-6.1-9.3-2.3-8.9-2.4 24.4z" fill="#a9ddb7"/>
<path d="M758.1 497.3l6.2 15.9 5.9-12.9 2.4-3.7 2.5 5.3 2.4-1.2-6.1-4.9-6.1-.6-2.4-3.7-2.4 4.4z" fill="#0a1e5c"/>
<path d="M859.7 704.9l6.1-.9 6.2 35.2 2.4-15.8 2.3 2.7 2.4 29.6-6.2-53.3-6.1-30.1-2.4 28.3-2.3 5.1z" fill="#1e85ba"/>
<path d="M1035 1021.9l6.4-16.7 6.1 13.7 2.1 9.2 2.4-8.1 2.5-23.9-6.4 13.4-6.4 13.5-1.9-29.2-2.5 20.8z" fill="#dcf1b2"/>
<path d="M738.9 518.7l6.1 7.2 5.8-25 2.5 11.4 2.4-6.4 2.4-8.6-6.1 3.2-5.9 8.6-2.4 7.5-2.7-20.9z" fill="#0d2163"/>
<path d="M668.3 518.2l6.2 5 5.9-6.6 2.6 10.8 2.4-9.7 2.1-18.6-5.3 39.6-6.1-4.9-2.3 7.7-2.7-11.3z" fill="#13266f"/>
<path d="M1093 987.4l6.3-1.9 6.3-2.9 2.3-2.3 2.5-18.1 2.2 .6-7 38.1-6.2-3.8-1.7-24.7-2.5 16.8z" fill="#cdebb4"/>
<path d="M972 994.8l6 16 6.5-28.8 2.1 23.4 2.1 16.8 2.2 6.3-5.8-46.1-6.4 31.9-2.2-10.6-2.3-3z" fill="#d7efb3"/>
<path d="M806.9 519.5l6.4 32.9 6.1 10.1 2.4-4.9 2.6 30.5 2.1-52.8-5.9 30-6.2-17.9-2.3 14.2-2.6-20.9z" fill="#1e2e85"/>
<path d="M789.6 497.2l6.2 5 6.1 5.1 2.3-9.4 2.5 7.1 2.3-11.2-5.9 21.6-6.3-22.7-2.4-.3-2.4 2.6z" fill="#0a1e5c"/>
<path d="M928.1 961.9l6.1 7.8 6.1 16.9 2.2 32.3 2.5-31.8 2.1 27-6-24.9-6.1-7.4-2.3-7.1-2.3-15.3z" fill="#ceecb3"/>
<path d="M719.6 529.8l5.7-23.1 6 .5 2.4-5.8 2.5 .6 2.7 16.7-5.9 14.6-6.5-39-2 32.6-2.4 8.6z" fill="#0f2367"/>
<path d="M1054.5 996.1l6.2 6.1 6.6-25.2 1.9 21.8 2.3-4.6 1.9 20.7-6.1-8.4-6.3 2.9-1.9-23.6-2.6 27.2z" fill="#d5efb3"/>
<path d="M842.3 673.8l6-36 6.2 22.3 2.4 12.5 2.3-14 2.4 18.9-6.1-17.1-6.1 19.5-2.6-65.5-2.3 21.7z" fill="#2260a9"/>
<path d="M893 885.6l6.1-6.8 6.1 32.6 2.4-23.4 2.3-2.8 2.4-7.9-6.2 6.1-6.1-48.1-2.3 16.1-2.4 28.6z" fill="#75c9bd"/>
<path d="M952.6 1010.5l6.1 3.3 6.1 17.4 2.6-46.9 2.1 39.4 2.5-28.9-6.3 11-6.3 18.3-2.3 .3-2.2-22.6z" fill="#dbf1b2"/>
<path d="M870.2 768.7l6.1-5.8 6.2 46.6 2.4 2.4 2.3-40.5 2.4 48.7-6.2-34.1-6.1-10.1-2.4-6-2.3 9.6z" fill="#35aac3"/>
<path d="M558.4 646.7l5.2-25.1 4.9-37 3 14.7 2.3-8.4 3 13.1-5.5 19-5.3 20.5-3-13.7-1.9 23.8z" fill="#234c9f"/>
<path d="M865 749.3l6.1-14.5 6.2 41.1 2.3-6.2 2.4-14.4 2.3 6.1-6.2-37-6.1 14.8-2.3 5.2-2.5-34.1z" fill="#2397c1"/>
<path d="M584.2 593.4l5.6-15.2 6 1.8 2-20 2.8 6.4 2.7 10-5.6 11.3-5.7 10.4-2.5 1.5-2.5 2.3z" fill="#253997"/>
<path d="M1138.4 957.3l6.9-29.6 6.8-20.4 2 8.2 1.8 14.9 2.4-11.9-6.4 4.2-6.9 29.1-2.1-2.8-1.8-16.4z" fill="#a2dbb8"/>
<path d="M984.5 982l5.9 37.2 6.2-3.9 2.3-4.4 2.2 12.3 2.5-29-6.5 34.9-6.2-.6-2.2-6.3-2.1-16.8z" fill="#dbf1b2"/>
<path d="M532.3 690.6l4.9-35.2 5.7-5.4 2-22 2.7 4.8 3 12.7-6.7-23.5-4.5 44.5-2.9-7.7-2.1 14.6z" fill="#225da8"/>
<path d="M1015.8 1020.5l6.2 6 6.4-16.4 2.3-6.3 2.2 1.9 2.1 16.2-6-18.4-6.4 17.6-2.3-1.5-2.3 7.7z" fill="#dcf1b2"/>
<path d="M812.2 558.5l6.3 26.2 6.3 33.7 2.3-19.8 2.3-4.3 2.5 13.3-6.2-11.2-6.3-33.9-2.3 17.7-2.6-34z" fill="#253896"/>
<path d="M1191.4 875.2l6.7-15.7 7.3-34.2 1.4 25.1 1.7 15.5 2.8-23.2-6.5 4.6-7 25-2.3 6.7-2-4.5z" fill="#65c3bf"/>
<path d="M699.9 520.2l6.5 23.7 5.6-23.2 2.3-13.4 2.4-5.4 2.9 27.9-6.1-.4-6.2-11-2.5-6.8-2.6-4.4z" fill="#102369"/>
<path d="M1165 908.9l6.9-23.1 5.6 29 3.2-41.3 2.4-8.9 1.5 23.3-6.4 3-6.8 20.3-1.6-23.3-2.6 20.3z" fill="#7ecdbb"/>
<path d="M770.2 500.3l6.1-.1 6.1 3.4 2.4-3.7 2.7 27.6 2.1-30.3-6.1-2.7-6 6.2-2.4 1.2-2.5-5.3z" fill="#0a1e5c"/>
<path d="M915.7 955.7l6.2 21.1 6.2-14.9 2.3-2.5 2.3 15.3 2.3 7.1-6.1-20.3-6.2-4.6-2.3 2.4-2.3-29.5z" fill="#bde5b5"/>
<path d="M829.7 607.1l6.4 42.1 6.2 24.6 2.2-37.7 2.3-21.7 2.6 65.5-6.3-57.5-6.2-24.1-2.2 44.1-2.5-28.9z" fill="#2352a3"/>
<path d="M641.8 547.3l5.9-8.1 6.3 15.5 2.5 1.6 2.2-20.1 2.4-3.3-5.6 19.7-5.9 5.4-2.7-12-2.6-.2z" fill="#1a2b7e"/>
<path d="M898.2 899.2l6.1 34.2 6.2-31.1 2.3 28.7 2.4-24.4 2.3 8.9-6.1-34-6.2 29.9-2.3 7.4-2.3-51.9z" fill="#89d1ba"/>
<path d="M1237.6 810.4l6.2 6.7 7.8-45.7 1.1 31.3 2.3-5.9 1.5 17.9-6.1-7-7.1 25.1-1.7-13.1-2.2 3.2z" fill="#3eb3c4"/>
<path d="M1256.5 814.7l7-19.4 2 2.9 2.9-25.8 1 33.7-5.7-20.6-2.6 15.7-1.7-9.8z" fill="#37acc3"/>
<path d="M478.4 722.6l6 2.8 5-26.4 2.2-11.7 2.8 5.5 3.2 15.7-5 26.3-6-2.2-3.5-26.9-1.7 27.8z" fill="#1e83ba"/>
<path d="M794.8 524l6.3 26.6 5.8-31.1 2.6 21.2 2.6 20.9 2.3-14.2-6.5-46.3-6 6.2-2.5-6-2.4 1.9z" fill="#12256d"/>
<path d="M505.1 697.4l4.9-31 6.1 6.8 1.7-29 3.1 14.7 3.6 32.1-5.4 14.4-6.1-5.7-3.1-14.5-3.1-13.7z" fill="#216daf"/>
<path d="M750.8 500.9l6.1 6.7 6.1-1.2 2.5 5.3 2.4-3.2 2.3-8.2-5.9 12.9-6.2-15.9-2.4 8.6-2.4 6.4z" fill="#0b1f5e"/>
<path d="M875.4 792l6.2 15.9 6.1 27.2 2.4-.8 2.3-1.1 2.4-3-6.2-32.7-6.1 12-2.4-5.1-2.4-20.2z" fill="#3fb4c4"/>
<path d="M603.3 576.4l6-2.3 5.5-18.7 2.4-8 2.8 13.2 2.4-8-5.9 5.9-5.6 16.4-2.9-17.6-2.1 20.4z" fill="#203089"/>
<path d="M847.4 678.3l6.1-4.9 6.2 31.5 2.4 .8 2.3-5.1 2.4-28.3-6.2 4.7-6.1-16.9-2.4 20-2.4-8.8z" fill="#206eb0"/>
<path d="M996.6 1015.3l6.1 11.8 6.4-13.3 2.3-5.1 2.1 17.8 2.3-6-6.3 12.3-5.9-38.6-2.5 29-2.2-12.3z" fill="#dbf1b2"/>
<path d="M852.5 681.7l6.3 53.2 6.2 14.4 2.2-39 2.5 34.1 2.3-5.2-6.2-35.2-6.1 .9-2.4-7.9-2.2 41.8z" fill="#1e86bb"/>
<path d="M622.4 552.6l6.2 10.5 5.6-19.9 2.8 12.9 2.6 2.9 2.2-11.7-6.4-18.4-5.3 28.2-2.8-12-2 25.6z" fill="#1b2c80"/>
<path d="M880.6 827.1l6.2 14.6 6.2 43.9 2.3-5.6 2.4-28.6 2.3-16.1-6.1 39-6.2-39.2-2.3 2.4-2.4-5.5z" fill="#5bc0c0"/>
<path d="M782.4 503.6l6.1-.1 6.3 20.5 2.2-20.8 2.4-1.9 2.5 6-6.1-5.1-6.2-5-2.1 30.3-2.7-27.6z" fill="#0b1f5e"/>
<path d="M661.1 532.9l5.9-5.1 6.3 16.1 2.1-22.1 3 23.2 2-28.4-5.9 6.6-6.2-5-2.1 16.4-2.7-7.5z" fill="#13266f"/>
<path d="M1047.5 1018.9l6.4-8.3 6.2 2.2 2.3-2.5 2.5-18.6 2.4-14.7-6.6 25.2-6.2-6.1-2.5 23.9-2.4 8.1z" fill="#d5efb3"/>
<path d="M680.4 516.6l6.1 5.9 6.1 4.8 2.1-21.2 2.9 20.9 2.3-6.8-6.1-7.7-6.3-13.4-2.1 18.6-2.4 9.7z" fill="#0e2265"/>
<path d="M1067.3 977l5.8 31 6.8-29.7 1.8 24 2.4-12.8 1.9 19.3-6-17.3-6.6 23.4-1.9-20.7-2.3 4.6z" fill="#d0edb3"/>
<path d="M1086 1008.8l6.8-31.9 6.5-10.7 2 12.7 2.2-1.1 2.1 4.8-6.3 2.9-6.3 1.9-2.4 8.5-2.2 3.6z" fill="#cbebb4"/>
<path d="M550.6 645.5l5.6-12.1 6.1 7.4 1.9-24 2.4-9.6 1.9-22.6-4.9 37-5.2 25.1-3.1-16-2.1 17.7z" fill="#234da0"/>
<path d="M964.8 1031.2l6.3-13.3 6.3-9.1 2.1 17.5 2.5-21.3 2.5-23-6.5 28.8-6-16-2.5 28.9-2.1-39.4z" fill="#d6efb3"/>
<path d="M731.3 507.2l6.3 13.9 5.9-14.5 2.4-1.9 2.6 9.2 2.3-13-5.8 25-6.1-7.2-2.7-16.7-2.5-.6z" fill="#0c2060"/>
<path d="M885.9 867.6l6.1 5.3 6.2 26.3 2.4-32.3 2.3 51.9 2.3-7.4-6.1-32.6-6.1 6.8-2.4-7.7-2.4-20.7z" fill="#75c9bd"/>
<path d="M1028.4 1010.1l6.3-5.9 5.9 25.3 2 17.1 2.9-48.1 2 20.4-6.1-13.7-6.4 16.7-2.1-16.2-2.2-1.9z" fill="#d9f0b3"/>
<path d="M817.5 607.3l6.1-1.6 6.1 1.4 2.5 6.4 2.5 28.9 2.2-44.1-6.1 13.5-6 6.6-2.5-17.1-2.6-33.9z" fill="#24419a"/>
<path d="M857.8 747.1l6.2-9.9 6.2 31.5 2.4 10.8 2.3-9.6 2.4 6-6.2-41.1-6.1 14.5-2.4-14.3-2.5-18.6z" fill="#2296c1"/>
<path d="M1112.6 962.8l6.4-5.2 6.7-21.5 2 9.7 2.1 5.2 2.6-22.1-6.6 15.7-6.2-2.3-2.7 24.7-1.7-25z" fill="#abdeb7"/>
<path d="M903.5 922.4l6.1-3.7 6.1 37 2.4-25.9 2.3 29.5 2.3-2.4-6.1-31.4-6.1-23.2-2.4 30-2.3 4.9z" fill="#a0dab8"/>
<path d="M576.8 604l5.4-21.9 5.8-6.5 2.4-3.8 3 13.9 2.4-5.7-6-1.8-5.6 15.2-2.6-1.6-2.2 13.2z" fill="#253795"/>
<path d="M805.2 593.7l6.1-.6 6.2 14.2 2.2-39.9 2.6 33.9 2.5 17.1-6.3-33.7-6.3-26.2-2 53.1-2.8-47.7z" fill="#253896"/>
<path d="M1158.3 918.5l6.6-12.3 6.9-23.4 2.7-22.7 1.6 23.9 1.4 30.8-5.6-29-6.9 23.1-2.4 11.3-2.2 .7z" fill="#80cebb"/>
<path d="M692.6 527.3l6.2 7.9 5.9-9.2 2.4-3.6 2.4-2.1 2.5 .4-5.6 23.2-6.5-23.7-2.3 6.8-2.9-20.9z" fill="#102369"/>
<path d="M933.4 982.8l6.1 8 6.1 28.1 2.3 6.1 2.5-31.9 2.2 17.4-6.1-25.6-6.2 1.7-2.4 15.5-2.2-12.7z" fill="#d0edb3"/>
<path d="M524.5 691l4.2-55.5 7.4 46.3 1.3-44.2 2.4-5.5 3.1 17.9-5.7 5.4-4.9 35.2-4.3-55.1-2.3 9.6z" fill="#225aa6"/>
<path d="M891.1 921.2l6.2 2.2 6.2-1 2.3 14.8 2.3-4.9 2.4-30-6.2 31.1-6.1-34.2-2.3-10.6-2.4 13.5z" fill="#8ed3ba"/>
<path d="M712 520.7l5.9-13.4 6.1 1.6 2.5 6.9 2.7 13.8 2.1-22.4-6-.5-5.7 23.1-2.9-27.9-2.4 5.4z" fill="#0c2060"/>
<path d="M945.6 1018.9l6.2-4.1 6.4-37.7 2.1 37.6 2.3 1.9 2.2 14.6-6.1-17.4-6.1-3.3-2.2-17.4-2.5 31.9z" fill="#d6efb3"/>
<path d="M1211.3 842.7l6.4-1.1 7.4-36.4 1 38.3 3.1-33.6 1.9 7-6.5 5.1-6.8 15.3-1.9-8.7-2.5 14.3z" fill="#48b9c3"/>
<path d="M1009.1 1013.8l6.1 13.1 6 14.6 2.7-38.2 2.2 5.7 2.3 1.1-6.4 16.4-6.2-6-2.3 6-2.1-17.8z" fill="#daf0b3"/>
<path d="M763 506.4l6-.6 6.2 1.7 2.4 4.4 2.4-8.2 2.4-.1-6.1-3.4-6.1 .1-2.3 8.2-2.4 3.2z" fill="#091e5a"/>
<path d="M799.8 539.1l6.2 6.5 6.2 12.9 2.3-12.3 2.6 34 2.3-17.7-6.1-10.1-6.4-32.9-2.3 11.4-2.3 12.9z" fill="#182a7a"/>
<path d="M863.1 785.8l6.1 2.1 6.2 4.1 2.3-7.8 2.4 20.2 2.4 5.1-6.2-46.6-6.1 5.8-2.5-19.8-2.2 38.6z" fill="#2fa4c2"/>
<path d="M1184.6 887.9l7.3-35.4 6.4-2.5 1.8 12.5 2.7-21.2 2.6-16-7.3 34.2-6.7 15.7-2.3 3.7-2.1-1z" fill="#5fc1c0"/>
<path d="M1132.4 928.9l6.2 5.3 6.8-21.2 2.2 .7 2.3-6 2.2-.4-6.8 20.4-6.9 29.6-2-8-2.4 11z" fill="#99d7b8"/>
<path d="M1231.1 816.9l6 13.4 7-22.3 1.7 14.6 2.8-22.6 3-28.6-7.8 45.7-6.2-6.7-2.7 22.3-2.5 12.6z" fill="#3eb3c4"/>
<path d="M634.2 543.2l6.2 10.4 6-1.5 2.6 3.6 2.1-21.1 2.9 20.1-6.3-15.5-5.9 8.1-2.2 11.7-2.6-2.9z" fill="#182a7a"/>
<path d="M673.3 543.9l5.8-13.6 6.2 10.3 2.4-9.2 2.1-21.5 2.8 17.4-6.1-4.8-6.1-5.9-2 28.4-3-23.2z" fill="#11246b"/>
<path d="M834.8 612.4l6.2 17.9 6.4 48 2.3-7 2.4 8.8 2.4-20-6.2-22.3-6 36-2.6-34.1-2.4-19.6z" fill="#2258a5"/>
<path d="M868.3 791.5l6.2 46.5 6.1-10.9 2.4 4.9 2.4 5.5 2.3-2.4-6.1-27.2-6.2-15.9-2.3 20.7-2.4 1.2z" fill="#3fb4c4"/>
<path d="M1251.6 771.4l4.9 45.9 2.7-19.1 2.1 0 2.2-2.9-7 19.4-1.5-17.9-2.3 5.9z" fill="#36abc3"/>
<path d="M497.6 708.5l4.8-33.5 5.8-3.6 2.8 5.4 2.1-17.3 3 13.7-6.1-6.8-4.9 31-2.1 16.6-3.4-22.9z" fill="#216bae"/>
<path d="M873.6 867.3l6.1 3.6 6.2-3.3 2.3-10.4 2.4 20.7 2.4 7.7-6.2-43.9-6.2-14.6-2.3-3.5-2.4 27.7z" fill="#5bc0c0"/>
<path d="M977.4 1008.8l6.1 8.4 6.3-10 2.4-11.4 2.1 21.5 2.3-2-6.2 3.9-5.9-37.2-2.5 23-2.5 21.3z" fill="#d4eeb3"/>
<path d="M787.5 521.5l6.2 12.6 6.1 5 2.5 4.7 2.3-12.9 2.3-11.4-5.8 31.1-6.3-26.6-2.6-17-2.3 12.8z" fill="#11246b"/>
<path d="M743.5 506.6l6.1 2.4 6.1 4.8 2.4-5.8 2.6 13.4 2.3-15-6.1 1.2-6.1-6.7-2.3 13-2.6-9.2z" fill="#0a1e5c"/>
<path d="M840.1 664.3l6.3 19.6 6.1-2.2 2.6 57.1 2.2-41.8 2.4 7.9-6.2-31.5-6.1 4.9-2.5-20.5-2.3 19.5z" fill="#216bae"/>
<path d="M822.6 618l6.2 16.9 6-22.5 2.5 7.7 2.4 19.6 2.6 34.1-6.2-24.6-6.4-42.1-2.2 24.5-2.4 1.3z" fill="#234da0"/>
<path d="M921 975.8l6.2 .1 6.2 6.9 2.3 6.6 2.2 12.7 2.4-15.5-6.1-16.9-6.1-7.8-2.3-11.8-2.4-4.9z" fill="#c0e6b5"/>
<path d="M654 554.7l5.3-36.4 6.1 5.1 2.8 11.5 2.1-16.8 3 25.8-6.3-16.1-5.9 5.1-2.4 3.3-2.2 20.1z" fill="#13266f"/>
<path d="M595.8 580l5.6-12.8 5.6-19.5 3.1 22.5 2.2-14.2 2.5-.6-5.5 18.7-6 2.3-2.7-10-2.8-6.4z" fill="#1e2e85"/>
<path d="M1040.6 1029.5l6.5-13.7 6.4-14 2.2 2.6 2.3-2.1 2.1 10.5-6.2-2.2-6.4 8.3-2-20.4-2.9 48.1z" fill="#d6efb3"/>
<path d="M614.8 555.4l6.1 5.5 6.3 12.7 1.9-28 2.6 0 2.5-2.4-5.6 19.9-6.2-10.5-2.4 8-2.8-13.2z" fill="#1a2b7e"/>
<path d="M908.7 941.7l6.2 29.7 6.1 4.4 2.4-30.6 2.4 4.9 2.3 11.8-6.2 14.9-6.2-21.1-2.3-1.3-2.3 5.4z" fill="#b2e1b6"/>
<path d="M775.2 507.5l6.1 1.6 6.2 12.4 2.4-1.7 2.3-12.8 2.6 17-6.3-20.5-6.1 .1-2.4 .1-2.4 8.2z" fill="#0a1e5c"/>
<path d="M845.5 737.9l6.1-24.1 6.2 33.3 2.3-30.7 2.5 18.6 2.4 14.3-6.2-14.4-6.3-53.2-2.3 33.3-2.5-33.7z" fill="#1f82b9"/>
<path d="M1105.6 982.6l6.9-32.2 6.6-11.7 2.1 3.3 2 12.3 2.5-18.2-6.7 21.5-6.4 5.2-2.2-.6-2.5 18.1z" fill="#b0e0b6"/>
<path d="M724 508.9l6.1 4.3 6-1 2.8 21.9 2.1-25.7 2.5-1.8-5.9 14.5-6.3-13.9-2.1 22.4-2.7-13.8z" fill="#0c2060"/>
<path d="M470 709.1l6.6 19.6 4.4-40.3 3.1 10 2.6-.1 2.7 .7-5 26.4-6-2.8-3-9.9-1.7 26.5z" fill="#1f7bb6"/>
<path d="M792.7 553.9l6-12.3 6.5 52.1 2.2-29.8 2.8 47.7 2-53.1-6.2-12.9-6.2-6.5-2.1 34.2-2.8-47.1z" fill="#1c2d81"/>
<path d="M958.2 977.1l5.9 54.6 6.3-15.6 2.4-9.5 2.3-2.9 2.3 5.1-6.3 9.1-6.3 13.3-2.2-14.6-2.3-1.9z" fill="#d5efb3"/>
<path d="M1021.2 1041.5l6.5-15.3 6.1 6.7 2.4-12.6 2.4-4.5 2 13.7-5.9-25.3-6.3 5.9-2.3-1.1-2.2-5.7z" fill="#d7efb3"/>
<path d="M810.2 593.1l6.2 17.3 6.2 7.6 2.5 14.9 2.4-1.3 2.2-24.5-6.1-1.4-6.1 1.6-2.5-13-2.3 19.8z" fill="#24419a"/>
<path d="M896.4 933.1l6.2 .2 6.1 8.4 2.4 18.1 2.3-5.4 2.3 1.3-6.1-37-6.1 3.7-2.4 4.9-2.4 17.4z" fill="#9ed9b8"/>
<path d="M989.8 1007.2l6.4-11.2 5.8 37.7 2.4-3.1 2.5-27.1 2.2 10.3-6.4 13.3-6.1-11.8-2.3 2-2.1-21.5z" fill="#d5efb3"/>
<path d="M850.7 739.7l6.2 29.9 6.2 16.2 2.4 1.7 2.2-38.6 2.5 19.8-6.2-31.5-6.2 9.9-2.3 .1-2.5-33.3z" fill="#2195c0"/>
<path d="M542.9 650l5.2-27.4 5.7-6.8 1.9-24.9 3.2 21.2 3.4 28.7-6.1-7.4-5.6 12.1-3-12.7-2.7-4.8z" fill="#23499e"/>
<path d="M755.7 513.8l6.1 3.5 6.1-4.1 2.4-1.9 2.6 15.2 2.3-19-6.2-1.7-6 .6-2.3 15-2.6-13.4z" fill="#0a1e5c"/>
<path d="M1205.4 825.3l6.1 9.7 6.9-18.3 1.2 31.7 2.7-21.9 2.8-21.3-7.4 36.4-6.4 1.1-2.8 23.2-1.7-15.5z" fill="#48b9c3"/>
<path d="M704.7 526l5.9-7.2 6-4.2 2.7 14.8 2.4-5.5 2.3-15-6.1-1.6-5.9 13.4-2.5-.4-2.4 2.1z" fill="#0c2060"/>
<path d="M1060.1 1012.8l6.7-29.4 6 18.2 2.3-6.8 2.3-4.5 2.5-12-6.8 29.7-5.8-31-2.4 14.7-2.5 18.6z" fill="#cbebb4"/>
<path d="M797.9 592.9l6.1-7.4 6.2 7.6 2.5 21 2.3-19.8 2.5 13-6.2-14.2-6.1 .6-2.5-10.6-2.4-.8z" fill="#253795"/>
<path d="M1152.1 907.3l5.7 26.8 7.3-41.4 2.6-18.1 2.1 2.7 2 5.5-6.9 23.4-6.6 12.3-2.4 11.9-1.8-14.9z" fill="#7cccbb"/>
<path d="M856 801.1l6.1-11.5 6.2 1.9 2.4 22.4 2.4-1.2 2.3-20.7-6.2-4.1-6.1-2.1-2.4-16.9-2.4-5.4z" fill="#31a5c2"/>
<path d="M926.3 1008.4l6.2-3.1 6.2 4.9 2.3 8.9 2.3-10.3 2.3 10.1-6.1-28.1-6.1-8-2.4 10-2.3-4.1z" fill="#cfecb3"/>
<path d="M878.8 865.8l6.2 23 6.1 32.4 2.4-19.1 2.4-13.5 2.3 10.6-6.2-26.3-6.1-5.3-2.4-4.6-2.4-10.5z" fill="#6dc6be"/>
<path d="M685.3 540.6l5.8-17 5.9-6.6 2.6 4.5 2.8 20.2 2.3-15.7-5.9 9.2-6.2-7.9-2.8-17.4-2.1 21.5z" fill="#0e2265"/>
<path d="M938.7 1010.2l6.1 11.6 6.2 13 2.3-5.4 2.4-6.9 2.5-45.4-6.4 37.7-6.2 4.1-2.3-10.1-2.3 10.3z" fill="#d5efb3"/>
<path d="M516.1 673.2l5.8-5.6 5.5-14.2 2-20.8 2.9 10.8 3.8 38.4-7.4-46.3-4.2 55.5-3.6-32.1-3.1-14.7z" fill="#2259a6"/>
<path d="M1177.5 914.8l7.8-59.2 6.4 0 1.9 8.7 2.6-17.5 2.1 3.2-6.4 2.5-7.3 35.4-1.5-23.3-2.4 8.9z" fill="#5fc1c0"/>
<path d="M861.2 813.8l6.2 13.4 6.2 40.1 2.3-16 2.4-27.7 2.3 3.5-6.1 10.9-6.2-46.5-2.4 17.7-2.3 7z" fill="#40b5c4"/>
<path d="M1002 1033.7l6.5-25.2 6 27.2 2.4-15.9 2.5-16.7 1.8 38.4-6-14.6-6.1-13.1-2.2-10.3-2.5 27.1z" fill="#d7efb3"/>
<path d="M1079.9 978.3l6.3-2.6 6 14.2 3.1-45.9 1.9 18.2 2.1 4-6.5 10.7-6.8 31.9-1.9-19.3-2.4 12.8z" fill="#c0e6b5"/>
<path d="M838.4 746.6l6.1-17.4 6.2 10.5 2.3-25.8 2.5 33.3 2.3-.1-6.2-33.3-6.1 24.1-2.4-21.7-2.4 13.7z" fill="#1e86bb"/>
<path d="M970.4 1016.1l6.2 7.9 6.3-5.8 2.2 2.9 2.3 1.8 2.4-15.7-6.3 10-6.1-8.4-2.3-5.1-2.3 2.9z" fill="#d4eeb3"/>
<path d="M884 903.7l6.2-25 6.2 54.4 2.3 11.6 2.4-17.4 2.4-4.9-6.2 1-6.2-2.2-2.3-41.4-2.4 33.7z" fill="#85cfba"/>
<path d="M665.4 523.4l6.2 6.9 5.9-6.2 2.7 11.2 2.6 .8 2.5 4.5-6.2-10.3-5.8 13.6-3-25.8-2.1 16.8z" fill="#0f2367"/>
<path d="M736.1 512.2l6.2 4.9 6.1-1.6 2.5 3.6 2.4-4.9 2.4-.4-6.1-4.8-6.1-2.4-2.5 1.8-2.1 25.7z" fill="#0a1e5c"/>
<path d="M588 575.6l6.4 17.1 5.7-11.7 2.5-2.4 1.8-32.3 2.6 1.4-5.6 19.5-5.6 12.8-2.4 5.7-3-13.9z" fill="#1f2f87"/>
<path d="M914 989.9l6.2-13.2 6.1 31.7 2.4-19.7 2.3 4.1 2.4-10-6.2-6.9-6.2-.1-2.3-12.4-2.3-1.6z" fill="#c0e6b5"/>
<path d="M646.4 552.1l6.1 4.8 6-2.2 2.1-17.5 2.2-19.2 2.6 5.4-6.1-5.1-5.3 36.4-2.9-20.1-2.1 21.1z" fill="#13266f"/>
<path d="M462.8 732.6l5.4-14.6 5.6-9.1 2.7-.1 3.2 17.7 1.3-38.1-4.4 40.3-6.6-19.6-1.3 39.5-3.1-13.6z" fill="#1f7eb7"/>
<path d="M901.7 949.1l6.1 28.6 6.2 12.2 2.4-28.1 2.3 1.6 2.3 12.4-6.1-4.4-6.2-29.7-2.3 26.4-2.4-11.3z" fill="#b2e1b6"/>
<path d="M568.5 584.6l5.7-11.3 5.3-24.1 3.3 27.4 2.5-2.8 2.7 1.8-5.8 6.5-5.4 21.9-3-13.1-2.3 8.4z" fill="#21318d"/>
<path d="M780.1 516.5l6.1 1.6 6.5 35.8 2.2-27.7 2.8 47.1 2.1-34.2-6.1-5-6.2-12.6-2.5-8.8-2.5 1.9z" fill="#0f2367"/>
<path d="M627.2 573.6l5.4-29.8 5.7-13.9 3.1 28.1 2.4-9.4 2.6 3.5-6 1.5-6.2-10.4-2.5 2.4-2.6 0z" fill="#162874"/>
<path d="M1244.1 808l7.2-25.6 1.6 16.8 1.9 6.1 1.7 12-4.9-45.9-3 28.6-2.8 22.6z" fill="#34a9c3"/>
<path d="M866.4 858.3l6.2-1.6 6.2 9.1 2.3-13.3 2.4 10.5 2.4 4.6-6.2 3.3-6.1-3.6-2.4-16.4-2.4-19.4z" fill="#57bec1"/>
<path d="M1125.7 936.1l6.5-6.8 6.7-16.5 1.7 21.3 2.8-29.5 2 8.4-6.8 21.2-6.2-5.3-2.6 22.1-2.1-5.2z" fill="#90d4b9"/>
<path d="M607 547.7l6.4 19.5 5.9-7.1 2.5-2.7 2.2-14.7 3.2 30.9-6.3-12.7-6.1-5.5-2.5 .6-2.2 14.2z" fill="#192b7c"/>
<path d="M833 682.9l6.2-2.2 6.3 57.2 2.2-56.6 2.5 33.7 2.3-33.3-6.1 2.2-6.3-19.6-2.3 17.7-2.4-2.4z" fill="#216aad"/>
<path d="M1099.3 966.2l5.8 27.6 6.9-29.9 2.4-9 2.7-29.4 2 13.2-6.6 11.7-6.9 32.2-2.1-4.8-2.2 1.1z" fill="#b0e0b6"/>
<path d="M827.8 649.5l6-18.9 6.3 33.7 2.5 13 2.3-19.5 2.5 20.5-6.4-48-6.2-17.9-2.2 33.4-2.4 3.4z" fill="#2352a3"/>
<path d="M489.4 699l5.5-10.6 5.2-23.1 3 10 2.5-4.1 2.6 .2-5.8 3.6-4.8 33.5-3.2-15.7-2.8-5.5z" fill="#2166ac"/>
<path d="M767.9 513.2l6.1 1.6 6.1 1.7 2.4-1.9 2.5-1.9 2.5 8.8-6.2-12.4-6.1-1.6-2.3 19-2.6-15.2z" fill="#091e5a"/>
<path d="M1014.5 1035.7l6.4-16.7 6.1 19.4 2.3-5.6 2.4-9.5 2.1 9.6-6.1-6.7-6.5 15.3-1.8-38.4-2.5 16.7z" fill="#d9f0b3"/>
<path d="M1033.8 1032.9l6.4-13 6.3 1.3 2.4-11 2.4-11.5 2.2 3.1-6.4 14-6.5 13.7-2-13.7-2.4 4.5z" fill="#d4eeb3"/>
<path d="M1053.5 1001.8l5.7 42 7-51 2 16 2.2 1.4 2.4-8.6-6-18.2-6.7 29.4-2.1-10.5-2.3 2.1z" fill="#ceecb3"/>
<path d="M785.5 564.3l6-10.4 6.4 39 2.4-10.6 2.4 .8 2.5 10.6-6.5-52.1-6 12.3-2.5-.6-2.5-13.5z" fill="#1b2c80"/>
<path d="M982.9 1018.2l6.1 13.8 6.1 7.8 2.5-17.3 2.2 6.2 2.2 5-5.8-37.7-6.4 11.2-2.4 15.7-2.3-1.8z" fill="#d6efb3"/>
<path d="M1225.1 805.2l6.4-.7 6.6-7.8 2.7-18.1 1.1 34.6 2.2-5.2-7 22.3-6-13.4-1.9-7-3.1 33.6z" fill="#37acc3"/>
<path d="M843.5 744.3l6.2 13.1 6.3 43.7 2.3-37.6 2.4 5.4 2.4 16.9-6.2-16.2-6.2-29.9-2.4 2.9-2.4 9.8z" fill="#2296c1"/>
<path d="M815.3 618.2l6.4 28.9 6.1 2.4 2.4-.3 2.4-3.4 2.2-33.4-6 22.5-6.2-16.9-2.4 9.3-2.5-13.7z" fill="#24489d"/>
<path d="M951 1034.8l6.3-32.2 6.3-.2 2.1 24.1 2.4-4 2.3-6.4-6.3 15.6-5.9-54.6-2.5 45.4-2.4 6.9z" fill="#d3eeb3"/>
<path d="M716.6 514.6l6.1 1.7 6.1 2.7 2.4-3 2.5-1.9 2.4-1.9-6 1-6.1-4.3-2.3 15-2.4 5.5z" fill="#091e5a"/>
<path d="M825.8 688.5l6.3 30.9 6.3 27.2 2.3-16.7 2.4-13.7 2.4 21.7-6.3-57.2-6.2 2.2-2.3 12.5-2.5-15z" fill="#2075b3"/>
<path d="M871.7 884.1l6.2 21.4 6.1-1.8 2.4 9.8 2.4-33.7 2.3 41.4-6.1-32.4-6.2-23-2.4 2.6-2.3 11.1z" fill="#6fc7bd"/>
<path d="M1072.8 1001.6l6.2 3.6 6.4-5.6 2.2 .8 2.5-13.9 2.1 3.4-6-14.2-6.3 2.6-2.5 12-2.3 4.5z" fill="#c6e9b4"/>
<path d="M803.1 615.7l6.2 17.3 6-14.8 2.4-4.6 2.5 13.7 2.4-9.3-6.2-7.6-6.2-17.3-2.3 15.6-2.4 5.5z" fill="#243f99"/>
<path d="M697 517l6.3 10.3 6 1 2.7 11.7 2.2-21.3 2.4-4.1-6 4.2-5.9 7.2-2.3 15.7-2.8-20.2z" fill="#0c2060"/>
<path d="M1198.3 850l6.3 2.2 6.6-8.2 1.6 18.9 3.1-34.3 2.5-11.9-6.9 18.3-6.1-9.7-2.6 16-2.7 21.2z" fill="#48b9c3"/>
<path d="M889.3 922.8l6.2 30 6.2-3.7 2.3 7.7 2.4 11.3 2.3-26.4-6.1-8.4-6.2-.2-2.4 4.5-2.3-2.3z" fill="#9cd8b8"/>
<path d="M848.7 769.9l6.3 47.9 6.2-4 2.4 2.4 2.3-7 2.4-17.7-6.2-1.9-6.1 11.5-2.4-15.2-2.5-22.1z" fill="#2fa4c2"/>
<path d="M562.3 640.8l4.7-47.1 6.2 9.7 2.3-13.3 2.4-4.4 1.6-36.5-5.3 24.1-5.7 11.3-1.9 22.6-2.4 9.6z" fill="#253494"/>
<path d="M748.4 515.5l6.1 1.7 6.1 1.6 2.4-1.9 2.4-1.9 2.5-1.8-6.1 4.1-6.1-3.5-2.4 .4-2.4 4.9z" fill="#081d58"/>
<path d="M919.3 1000.2l6.2 12.3 6.1 9.1 2.4-5.2 2.4-16.1 2.3 9.9-6.2-4.9-6.2 3.1-2.3 2.5-2.3-18.9z" fill="#ceecb3"/>
<path d="M1171.8 882.8l7.2-31.6 5.7 26.3 2.1 1.4 2.2-2.4 2.7-20.9-6.4 0-7.8 59.2-1.4-30.8-1.6-23.9z" fill="#5fc1c0"/>
<path d="M963.6 1002.4l6 33.3 6.1 11.1 2.5-25.6 2.2 13.1 2.5-16.1-6.3 5.8-6.2-7.9-2.3 6.4-2.4 4z" fill="#d6efb3"/>
<path d="M536.1 681.8l3.9-67.3 6 1.3 1.8-29.5 3.4 29 2.6 .5-5.7 6.8-5.2 27.4-3.1-17.9-2.4 5.5z" fill="#24459c"/>
<path d="M995.1 1039.8l6.3-3.5 6.5-18.7 2.1 9 2.3 .8 2.2 8.3-6-27.2-6.5 25.2-2.2-5-2.2-6.2z" fill="#d7efb3"/>
<path d="M508.2 671.4l6.3 12.5 4.5-45 2.4-9.6 3.5 29 2.5-4.9-5.5 14.2-5.8 5.6-3-13.7-2.1 17.3z" fill="#2356a4"/>
<path d="M906.9 980.2l6.2 5.7 6.2 14.3 2.4-8.2 2.3 18.9 2.3-2.5-6.1-31.7-6.2 13.2-2.4-1.8-2.3-17.9z" fill="#c4e8b4"/>
<path d="M677.5 524.1l6-2.2 6.3 11.5 2.3-12.6 2.6 8.8 2.3-12.6-5.9 6.6-5.8 17-2.5-4.5-2.6-.8z" fill="#0d2161"/>
<path d="M790.4 561.2l6.5 47.4 6.2 7.1 2.4-1.5 2.4-5.5 2.3-15.6-6.2-7.6-6.1 7.4-2.6-20.3-2.4 1.2z" fill="#233390"/>
<path d="M1145.4 913l6.7-14.1 6.7-15.1 2.3-5.4 1.5 28.9 2.5-14.6-7.3 41.4-5.7-26.8-2.2 .4-2.3 6z" fill="#76cabc"/>
<path d="M638.3 529.9l6.8 36.6 5.5-23 2.6-1.7 2.1-17.9 3.2 30.8-6 2.2-6.1-4.8-2.6-3.5-2.4 9.4z" fill="#13266f"/>
<path d="M854 805.2l6.1-4.2 6.3 57.3 2.4-26.8 2.4 19.4 2.4 16.4-6.2-40.1-6.2-13.4-2.4-2.7-2.4 7.4z" fill="#3eb3c4"/>
<path d="M975.7 1046.8l6.4-22.8 6.1 23.1 2.4-12.6 2.4-5.9 2.1 11.2-6.1-7.8-6.1-13.8-2.5 16.1-2.2-13.1z" fill="#d9f0b3"/>
<path d="M728.8 519l6.1 .6 6.1 1.6 2.5-1.9 2.5 7.7 2.4-11.5-6.1 1.6-6.2-4.9-2.4 1.9-2.5 1.9z" fill="#081d58"/>
<path d="M931.6 1021.6l6.3-13.1 6.1 17.5 2.5-26.6 2.3 3.6 2.2 31.8-6.2-13-6.1-11.6-2.3-9.9-2.4 16.1z" fill="#d0edb3"/>
<path d="M820.5 641l6.1-2.2 6.4 44.1 2.4-3.3 2.4 2.4 2.3-17.7-6.3-33.7-6 18.9-2.6-25.4-2.1 48.7z" fill="#2354a3"/>
<path d="M808.2 633.4l6.3 21 6-13.4 2.6 31.8 2.1-48.7 2.6 25.4-6.1-2.4-6.4-28.9-2.4 3.4-2.2 32z" fill="#234b9f"/>
<path d="M859.3 852.9l6.2 21.5 6.2 9.7 2.4-4.6 2.3-11.1 2.4-2.6-6.2-9.1-6.2 1.6-2.4-23.6-2.3 28z" fill="#55bec1"/>
<path d="M1027 1038.4l6.6-26 5.9 29.5 2.6-26.4 2.3-7.3 2.1 13-6.3-1.3-6.4 13-2.1-9.6-2.4 9.5z" fill="#d4eeb3"/>
<path d="M772.8 522.2l6.2 9.1 6.5 33 2.2-24.5 2.5 13.5 2.5 .6-6.5-35.8-6.1-1.6-2.4 1.9-2.4 1.9z" fill="#0d2163"/>
<path d="M619.3 560.1l6.1 3.3 5.7-12.2 2.2-15.3 3.2 28.1 1.8-34.1-5.7 13.9-5.4 29.8-3.2-30.9-2.2 14.7z" fill="#142670"/>
<path d="M481 688.4l5.9-1.8 6.6 18.6 1.3-39.6 3.1 12.4 2.2-12.7-5.2 23.1-5.5 10.6-2.7-.7-2.6 .1z" fill="#2163aa"/>
<path d="M831 698.6l6.3 28.3 6.2 17.4 2.4 8.1 2.4-9.8 2.4-2.9-6.2-10.5-6.1 17.4-2.6-33-2.3 1.7z" fill="#1f80b8"/>
<path d="M876.9 909.6l6.2 19.1 6.2-5.9 2.4 12.5 2.3 2.3 2.4-4.5-6.2-54.4-6.2 25-2.3-19.9-2.4 30.5z" fill="#7cccbb"/>
<path d="M760.6 518.8l6.1 1.7 6.1 1.7 2.5-1.9 2.4-1.9 2.4-1.9-6.1-1.7-6.1-1.6-2.5 1.8-2.4 1.9z" fill="#081d58"/>
<path d="M894.6 935.5l6.2 41.7 6.1 3 2.4-10 2.3 17.9 2.4 1.8-6.2-12.2-6.1-28.6-2.4-1.6-2.4 9z" fill="#abdeb7"/>
<path d="M1218.4 816.7l6.6-7.5 6.3 2.6 2.1-.7 1.5 23.5 3.2-37.9-6.6 7.8-6.4 .7-2.8 21.3-2.7 21.9z" fill="#37acc3"/>
<path d="M658.5 554.7l5.4-31.3 6.1 1.7 2.6 7.1 2.5-.7 2.4-7.4-5.9 6.2-6.2-6.9-2.6-5.4-2.2 19.2z" fill="#0c2060"/>
<path d="M600.1 581l5.5-19.2 6 .8 2.3-11.7 2.6 1.4 2.8 7.8-5.9 7.1-6.4-19.5-2.6-1.4-1.8 32.3z" fill="#172978"/>
<path d="M1066.2 992.8l6.2 6.6 6.5-12.3 1.7 35.3 2.9-42.5 1.9 19.7-6.4 5.6-6.2-3.6-2.4 8.6-2.2-1.4z" fill="#c8e9b4"/>
<path d="M1119.1 938.7l6.3 .6 7.2-41 1.4 37 2.6-19.8 2.3-2.7-6.7 16.5-6.5 6.8-2.5 18.2-2-12.3z" fill="#89d1ba"/>
<path d="M709.3 528.3l6-6.3 6.1 1.6 2.5-1.9 2.4-1.9 2.5-.8-6.1-2.7-6.1-1.7-2.4 4.1-2.2 21.3z" fill="#091e5a"/>
<path d="M454.1 714l6.1 4.8 6-.1 2.9 6.8 1.5-31.7 3.2 15.1-5.6 9.1-5.4 14.6-2.6-.3-2.7 .5z" fill="#1f78b4"/>
<path d="M836.3 752.4l6.3 30 6.1-12.5 2.4-6.1 2.5 22.1 2.4 15.2-6.3-43.7-6.2-13.1-2.4-5.8-2.3 30.5z" fill="#2195c0"/>
<path d="M795.7 602.9l6.2 11.4 6.3 19.1 2.5 20.2 2.2-32 2.4-3.4-6 14.8-6.2-17.3-2.5-3.8-2.5-8.3z" fill="#243f99"/>
<path d="M1092.2 989.9l6.5-9.5 7.1-43.9 2 14 2.3-3.7 1.9 17.1-6.9 29.9-5.8-27.6-2.1-4-1.9-18.2z" fill="#a7dcb7"/>
<path d="M579.5 549.2l6.7 26.3 5.3-27.2 2.4-6.6 3.3 26 2.9 13.3-5.7 11.7-6.4-17.1-2.7-1.8-2.5 2.8z" fill="#192b7c"/>
<path d="M553.8 615.8l5.9-4.9 5.6-11.9 2-23.5 2.9 10.3 3 17.6-6.2-9.7-4.7 47.1-3.4-28.7-3.2-21.2z" fill="#253595"/>
<path d="M1046.5 1021.2l6.7-26.2 5.9 21.3 2.6-22.6 2.1 14.1 2.4-15-7 51-5.7-42-2.2-3.1-2.4 11.5z" fill="#cbebb4"/>
<path d="M1191.7 855.6l6.8-17.9 6.2 10.2 2.5-13.5 2.2-2.5 1.8 12.1-6.6 8.2-6.3-2.2-2.1-3.2-2.6 17.5z" fill="#46b8c3"/>
<path d="M1007.9 1017.6l6.4-18.6 6 30.8 2.2 2.6 2.2 8 2.3-2-6.1-19.4-6.4 16.7-2.2-8.3-2.3-.8z" fill="#d4eeb3"/>
<path d="M689.8 533.4l6-3 6.1-1.1 2.6 9.6 2.3-16.7 2.5 6.1-6-1-6.3-10.3-2.3 12.6-2.6-8.8z" fill="#0b1f5e"/>
<path d="M864.5 883.5l6.2 12.5 6.2 13.6 2.4 4.7 2.4-30.5 2.3 19.9-6.1 1.8-6.2-21.4-2.4 8-2.4-31z" fill="#6bc6be"/>
<path d="M813.3 653l6.4 37.2 6.1-1.7 2.4-8.1 2.5 15 2.3-12.5-6.4-44.1-6.1 2.2-2.3 14.3-2.3 22.8z" fill="#2259a6"/>
<path d="M741 521.2l6.1 1.7 6.2 1.7 2.4-1.9 2.4-1.9 2.5-2-6.1-1.6-6.1-1.7-2.4 11.5-2.5-7.7z" fill="#081d58"/>
<path d="M944 1026l6.2 3.7 6.3-3.3 2.4-9.8 2.2 15.1 2.5-29.3-6.3 .2-6.3 32.2-2.2-31.8-2.3-3.6z" fill="#cfecb3"/>
<path d="M778.1 558.1l6.4 36.4 5.9-33.3 2.5 12.6 2.4-1.2 2.6 20.3-6.4-39-6 10.4-2.8-36.9-2.4 1.9z" fill="#172978"/>
<path d="M841.5 781.2l6.3 34.1 6.2-10.1 2.4 13.3 2.4-7.4 2.4 2.7-6.2 4-6.3-47.9-2.4 3.2-2.3 20.9z" fill="#2ea3c2"/>
<path d="M527.4 653.4l5.5-14.4 5-33.6 2.8 7 3.2 19.5 2.1-16.1-6-1.3-3.9 67.3-3.8-38.4-2.9-10.8z" fill="#24459c"/>
<path d="M1238.1 796.7l6.9-15.7 1.8 10.1 1.9 6 2.6-14.7-7.2 25.6-2.2 5.2-1.1-34.6z" fill="#2ca1c2"/>
<path d="M882.2 959.2l6.2-11.9 6.2-11.8 2.3 21 2.4-9 2.4 1.6-6.2 3.7-6.2-30-2.4 20.3-2.3-23.7z" fill="#92d5b9"/>
<path d="M988.2 1047.1l6.4-22.4 6.3 3.6 2.3 1.2 2.2 6.4 2.5-18.3-6.5 18.7-6.3 3.5-2.1-11.2-2.4 5.9z" fill="#d6efb3"/>
<path d="M783.4 600.6l5.9-21.8 6.4 24.1 2.4 .7 2.5 8.3 2.5 3.8-6.2-7.1-6.5-47.4-2.1 45.8-2.6-20.5z" fill="#233390"/>
<path d="M500.1 665.3l5.7-6.3 6.1 3.4 2.5-5 2.5-3.7 2.1-14.8-4.5 45-6.3-12.5-2.6-.2-2.5 4.1z" fill="#2354a3"/>
<path d="M956.5 1026.4l6.2 1.3 6.2 11.2 2.4-17.8 2.3-2.3 2.1 28-6.1-11.1-6-33.3-2.5 29.3-2.2-15.1z" fill="#d3eeb3"/>
<path d="M1085.4 999.6l6.4-4.2 7-38.7 2.3-1.4 1.8 18.8 2.9-37.6-7.1 43.9-6.5 9.5-2.1-3.4-2.5 13.9z" fill="#b0e0b6"/>
<path d="M670 525.1l6.1 1.7 6.4 21.5 2.2-21.8 2.5 4.2 2.6 2.7-6.3-11.5-6 2.2-2.4 7.4-2.5 .7z" fill="#0b1f5e"/>
<path d="M818.6 691.9l6.1-2 6.3 8.7 2.5 16.7 2.3-1.7 2.6 33-6.3-27.2-6.3-30.9-2.6-30.7-2.2 34.1z" fill="#216aad"/>
<path d="M473.8 708.9l5.3-19.1 6 1.6 2.3-7.8 2.2-13.8 3.9 35.4-6.6-18.6-5.9 1.8-1.3 38.1-3.2-17.7z" fill="#2166ac"/>
<path d="M721.4 523.6l6.1 1.7 6.2 1.7 2.4-1.9 2.5-2 2.4-1.9-6.1-1.6-6.1-.6-2.5 .8-2.4 1.9z" fill="#081d58"/>
<path d="M1138.9 912.8l6 12.5 6.7-15.5 2.7-22.4 2.2 2.5 2.3-6.1-6.7 15.1-6.7 14.1-2-8.4-2.8 29.5z" fill="#73c8bd"/>
<path d="M1165.1 892.7l7-25.8 6.3 3.1 2.9-31.7 1.3 34.3 2.1 4.9-5.7-26.3-7.2 31.6-2-5.5-2.1-2.7z" fill="#55bec1"/>
<path d="M800.9 631l6.2 16.5 6.2 5.5 2.6 25.1 2.3-22.8 2.3-14.3-6 13.4-6.3-21-2.6-22.7-2.2 33.6z" fill="#23499e"/>
<path d="M1211.2 844l7.4-37.9 6.4 1.5 1.6 17.5 2.2-1.5 2.5-11.8-6.3-2.6-6.6 7.5-2.5 11.9-3.1 34.3z" fill="#37acc3"/>
<path d="M869.8 920l6.2 23.1 6.2 16.1 2.4-39.8 2.3 23.7 2.4-20.3-6.2 5.9-6.2-19.1-2.4-40.6-2.4 25.4z" fill="#7cccbb"/>
<path d="M852.1 857.4l6.1-20.5 6.3 46.6 2.4-22.4 2.4 31 2.4-8-6.2-9.7-6.2-21.5-2.4-4.1-2.3 35.9z" fill="#53bdc1"/>
<path d="M912.3 995.1l6.1 8.7 6.3-3.8 2.3 17 2.4-21.3 2.2 25.9-6.1-9.1-6.2-12.3-2.3-6-2.4-10.1z" fill="#c6e9b4"/>
<path d="M650.6 543.5l5.9-9.6 6.1-.2 2.7 8.6 2.4-3.7 2.3-13.5-6.1-1.7-5.4 31.3-3.2-30.8-2.1 17.9z" fill="#0d2161"/>
<path d="M753.3 524.6l6.1 1.6 6.1 1.7 2.5-1.9 2.4-1.9 2.4-1.9-6.1-1.7-6.1-1.7-2.5 2-2.4 1.9z" fill="#081d58"/>
<path d="M899.9 987.9l6.1 18.5 6.3-11.3 2.3-11 2.4 10.1 2.3 6-6.2-14.3-6.2-5.7-2.3-12.9-2.4 9.2z" fill="#b9e4b5"/>
<path d="M631.1 551.2l5.8-10.4 6-4.6 2.4-4.9 3.2 31.5 2.1-19.3-5.5 23-6.8-36.6-1.8 34.1-3.2-28.1z" fill="#102369"/>
<path d="M1112 963.9l6.4-3.1 6.9-29.3 2.2 1.1 2.3-4.9 2.8-29.4-7.2 41-6.3-.6-2-13.2-2.7 29.4z" fill="#8cd2ba"/>
<path d="M591.5 548.3l6.6 20.4 6.5 19.9 1.8-29.1 3.1 20.1 2.1-17-6-.8-5.5 19.2-2.9-13.3-3.3-26z" fill="#172976"/>
<path d="M968.9 1038.9l6.3-5.5 6.3-10.9 2.1 19 2.3 1.1 2.3 4.5-6.1-23.1-6.4 22.8-2.1-28-2.3 2.3z" fill="#d5efb3"/>
<path d="M846.7 792.4l6.3 31.9 6.3 28.6 2.4 9.8 2.3-28 2.4 23.6-6.3-57.3-6.1 4.2-2.4 20.5-2.4-16.1z" fill="#39adc3"/>
<path d="M701.9 529.3l6-1.6 6.2 4.5 2.4-4.7 2.5-2 2.4-1.9-6.1-1.6-6 6.3-2.5-6.1-2.3 16.7z" fill="#091e5a"/>
<path d="M1039.5 1041.9l6.3-5 6.8-35.4 2.2 6.8 2.1 8.1 2.2-.1-5.9-21.3-6.7 26.2-2.1-13-2.3 7.3z" fill="#cdebb4"/>
<path d="M765.5 527.9l6.3 11.2 6.3 19 2.2-28.8 2.4-1.9 2.8 36.9-6.5-33-6.2-9.1-2.4 1.9-2.4 1.9z" fill="#0c2060"/>
<path d="M1231.3 811.8l6.4-1.2 2.3-5.8 2.3-6 2.7-17.8-6.9 15.7-3.2 37.9-1.5-23.5z" fill="#2fa4c2"/>
<path d="M611.6 562.6l6-2.4 6-2.8 2.3-11.3 2.2-14.3 3 19.4-5.7 12.2-6.1-3.3-2.8-7.8-2.6-1.4z" fill="#12256d"/>
<path d="M924.7 1000l6.2-2.9 6.2 20.7 2.2 14 2.4-13 2.3 7.2-6.1-17.5-6.3 13.1-2.2-25.9-2.4 21.3z" fill="#cbebb4"/>
<path d="M446.6 728.2l5.6-8.8 5.8-4.4 3.9 33.8 1-46.9 3.3 16.8-6 .1-6.1-4.8-1 42.3-4.2-38.3z" fill="#2076b3"/>
<path d="M770.7 552.8l6.3 17.6 6.4 30.2 2.3-14.1 2.6 20.5 2.1-45.8-5.9 33.3-6.4-36.4-2.6-13.1-2.4 9.4z" fill="#192b7c"/>
<path d="M573.2 603.4l4.6-51.8 6.3 10.1 2.9 12.4 3.2 20.8 1.3-46.6-5.3 27.2-6.7-26.3-1.6 36.5-2.4 4.4z" fill="#192b7c"/>
<path d="M937.1 1017.8l6.2 10.6 6.2-12.4 2.3 19.8 2.3-2.1 2.4-7.3-6.3 3.3-6.2-3.7-2.3-7.2-2.4 13z" fill="#d1edb3"/>
<path d="M1184.7 877.5l6.6-8.7 7.4-40.5 2.2 .2 2.1 .3 1.7 19.1-6.2-10.2-6.8 17.9-2.7 20.9-2.2 2.4z" fill="#46b8c3"/>
<path d="M1020.3 1029.8l6.5-23.8 6.1 19.5 2.4-9.6 2.6-26.4 1.6 52.4-5.9-29.5-6.6 26-2.3 2-2.2-8z" fill="#cfecb3"/>
<path d="M682.5 548.3l6.1 .4 5.9-11.1 2.4-7.7 2.4-2 2.6 1.4-6.1 1.1-6 3-2.6-2.7-2.5-4.2z" fill="#0b1f5e"/>
<path d="M887.5 949.8l6.2 24.9 6.2 13.2 2.3-11.4 2.4-9.2 2.3 12.9-6.1-3-6.2-41.7-2.4 39-2.4-25.8z" fill="#a5dcb7"/>
<path d="M823.8 725.1l6.2 1.9 6.3 25.4 2.5 16.6 2.3-30.5 2.4 5.8-6.2-17.4-6.3-28.3-2.4 6.2-2.5-6.4z" fill="#1f78b4"/>
<path d="M733.7 527l6.1 1.6 6.1 1.7 2.5-1.9 2.4-1.9 2.5-1.9-6.2-1.7-6.1-1.7-2.4 1.9-2.5 2z" fill="#081d58"/>
<path d="M1059.1 1016.3l6.3-.2 6.6-16.2 2.5-16 2.1 7.4 2.3-4.2-6.5 12.3-6.2-6.6-2.4 15-2.1-14.1z" fill="#c0e6b5"/>
<path d="M829 742.4l6.3 23.5 6.2 15.3 2.5 12.8 2.3-20.9 2.4-3.2-6.1 12.5-6.3-30-2.4 2.4-2.5-16.2z" fill="#1d90c0"/>
<path d="M857.3 883.3l6.3 37.6 6.2-.9 2.3-25.6 2.4-25.4 2.4 40.6-6.2-13.6-6.2-12.5-2.3 13.4-2.4-9.1z" fill="#67c4be"/>
<path d="M788.5 621.1l6-11.1 6.4 21 2.5 13.3 2.2-33.6 2.6 22.7-6.3-19.1-6.2-11.4-2.3 20.3-2.7-27z" fill="#253997"/>
<path d="M1000.9 1028.3l6.3-8.4 6.1 24.8 2.3-7.3 2.3-2.9 2.4-4.7-6-30.8-6.4 18.6-2.5 18.3-2.2-6.4z" fill="#d0edb3"/>
<path d="M806 647.6l6.4 34.1 6.2 10.2 2.4 0 2.2-34.1 2.6 30.7-6.1 1.7-6.4-37.2-2.5-9-2.3 14.5z" fill="#2355a4"/>
<path d="M875.1 961.4l6.1-26.6 6.3 15 2.3-1.1 2.4 25.8 2.4-39-6.2 11.8-6.2 11.9-2.4-20.6-2.4-21.4z" fill="#90d4b9"/>
<path d="M834.5 816.8l6.1-5.4 6.1-19 2.5 17.2 2.4 16.1 2.4-20.5-6.2 10.1-6.3-34.1-2.4-3.2-2.4-8.8z" fill="#2b9fc2"/>
<path d="M1158.8 883.8l5.6 31 8.1-70.2 1.8 13.4 1.9 13.7 2.2-1.7-6.3-3.1-7 25.8-2.5 14.6-1.5-28.9z" fill="#57bec1"/>
<path d="M862.6 917.2l6.2-2.3 6.3 46.5 2.3-44.2 2.4 21.4 2.4 20.6-6.2-16.1-6.2-23.1-2.4 5.6-2.4-11.3z" fill="#80cebb"/>
<path d="M949.5 1016l6.2 8.3 6.3 3.2 2.4-7.8 2 42.7 2.5-23.5-6.2-11.2-6.2-1.3-2.4 7.3-2.3 2.1z" fill="#d1edb3"/>
<path d="M714.1 532.2l6.1-1.2 6.2 12.4 2.3-12.6 2.5-1.9 2.5-1.9-6.2-1.7-6.1-1.7-2.4 1.9-2.5 2z" fill="#081d58"/>
<path d="M662.6 533.7l6 .4 6.1 .1 2.5-1.9 2.5-1.9 2.8 17.9-6.4-21.5-6.1-1.7-2.3 13.5-2.4 3.7z" fill="#0a1e5c"/>
<path d="M546 615.8l5.2-26.5 5.1-32.5 3.6 33 2.4-4.7 3 13.9-5.6 11.9-5.9 4.9-2.6-.5-3.4-29z" fill="#21308b"/>
<path d="M519 638.9l5.7-10.7 5.4-19.9 2.8 6.7 3.1 15.7 1.9-25.3-5 33.6-5.5 14.4-2.5 4.9-3.5-29z" fill="#243f99"/>
<path d="M493.5 705.2l4.7-38.1 5-27.4 3.2 16.5 2.6-1.5 2.9 7.7-6.1-3.4-5.7 6.3-2.2 12.7-3.1-12.4z" fill="#2351a2"/>
<path d="M1132.6 898.3l6.2 7.2 6.7-15.1 1.7 19.7 2.3-3.1 2.1 2.8-6.7 15.5-6-12.5-2.3 2.7-2.6 19.8z" fill="#71c8bd"/>
<path d="M745.9 530.3l6.2 1.7 6.1 1.6 2.4-1.9 2.6 12.3 2.3-16.1-6.1-1.7-6.1-1.6-2.5 1.9-2.4 1.9z" fill="#081d58"/>
<path d="M1078.9 987.1l6.7-19.4 5.9 23.3 2.6-23.1 2.8-28.4 1.9 17.2-7 38.7-6.4 4.2-1.9-19.7-2.9 42.5z" fill="#aedfb6"/>
<path d="M905.2 1001.1l6.1 35.6 6.3-15.6 2.3 4.9 2.4 1.2 2.4-27.2-6.3 3.8-6.1-8.7-2.4 3.7-2.4-10.4z" fill="#c6e9b4"/>
<path d="M775.9 583.9l6.2 10.2 6.4 27 2.2-24.9 2.7 27 2.3-20.3-6.4-24.1-5.9 21.8-2.5-9.3-2.6-6z" fill="#21308b"/>
<path d="M1105.8 936.5l6.2 10.1 6.5-7.4 2 10.6 2.7-23 2.1 4.7-6.9 29.3-6.4 3.1-1.9-17.1-2.3 3.7z" fill="#8cd2ba"/>
<path d="M1204.7 847.9l6.8-17.8 6.4 2.3 2.3-6.6 1.8 11.6 3-29.8-6.4-1.5-7.4 37.9-1.8-12.1-2.2 2.5z" fill="#37acc3"/>
<path d="M466.2 718.7l5.6-9.6 4.9-26.6 2.5-5 3.3 16.2 2.6-2.3-6-1.6-5.3 19.1-3.2-15.1-1.5 31.7z" fill="#2163aa"/>
<path d="M839.7 833.4l6.1-12.8 6.3 36.8 2.5 27.3 2.3-35.9 2.4 4.1-6.3-28.6-6.3-31.9-2.3 23.8-2.4 2.5z" fill="#3aaec3"/>
<path d="M962 1027.5l6.2-.7 6.1 34.1 2.2 17.6 2.6-44.4 2.4-11.6-6.3 10.9-6.3 5.5-2.5 23.5-2-42.7z" fill="#d5efb3"/>
<path d="M892.7 969.4l6.3 18.1 6.2 13.6 2.3-12.7 2.4 10.4 2.4-3.7-6.3 11.3-6.1-18.5-2.4 11.1-2.4 1.2z" fill="#b7e3b6"/>
<path d="M758.2 533.6l6.2 3.5 6.3 15.7 2.4 1.6 2.4-9.4 2.6 13.1-6.3-19-6.3-11.2-2.3 16.1-2.6-12.3z" fill="#0d2161"/>
<path d="M1225 807.6l6.5-2 1.8 10.8 2.4-10.2 2 4.4-6.4 1.2-2.5 11.8-2.2 1.5z" fill="#2fa4c2"/>
<path d="M584.1 561.7l6.5 17.6 6.1 3.2 1.9-27.5 2.5-1.2 3.5 34.8-6.5-19.9-6.6-20.4-1.3 46.6-3.2-20.8z" fill="#172976"/>
<path d="M642.9 536.2l6.2 8 5.9-7.6 2.6 4.3 2.4-8.1 2.6 .9-6.1 .2-5.9 9.6-2.1 19.3-3.2-31.5z" fill="#0b1f5e"/>
<path d="M981.5 1022.5l6.3-.5 6.3-3.2 2.2 9.1 2.4-14.1 2.2 14.5-6.3-3.6-6.4 22.4-2.3-4.5-2.3-1.1z" fill="#cfecb3"/>
<path d="M604.6 588.6l5.4-22.8 5.5-24.4 2.6 2.5 2.5-6.3 3 19.8-6 2.8-6 2.4-2.1 17-3.1-20.1z" fill="#12256d"/>
<path d="M1032.9 1025.5l6.3-3.7 6 25.7 2.7-33.8 2.2 3.8 2.5-16-6.8 35.4-6.3 5-1.6-52.4-2.6 26.4z" fill="#cbebb4"/>
<path d="M694.5 537.6l6-4.2 6.1 1.7 2.5-1.9 2.5-1.9 2.5 .9-6.2-4.5-6 1.6-2.6-1.4-2.4 2z" fill="#081d58"/>
<path d="M793.6 632.9l6.3 21.7 6.1-7 2.5 10.9 2.3-14.5 2.5 9-6.2-5.5-6.2-16.5-2.4 15.1-2.5-7.5z" fill="#24459c"/>
<path d="M844.9 854.7l6.2 12.9 6.2 15.7 2.5 4.5 2.4 9.1 2.3-13.4-6.3-46.6-6.1 20.5-2.4 6.4-2.4-9.3z" fill="#4ebbc2"/>
<path d="M565.3 599l5.4-24.5 6.2 8.6 2.1-19.6 2.9 12.1 2.2-13.9-6.3-10.1-4.6 51.8-3-17.6-2.9-10.3z" fill="#182a7a"/>
<path d="M816.6 726l6.3 29.7 6.1-13.3 2.4-3.8 2.5 16.2 2.4-2.4-6.3-25.4-6.2-1.9-2.4-7.9-2.4 9.1z" fill="#1f7ab5"/>
<path d="M880.3 959.7l6.2 14.4 6.2-4.7 2.4 30.8 2.4-1.2 2.4-11.1-6.2-13.2-6.2-24.9-2.4 .6-2.4 24.4z" fill="#a5dcb7"/>
<path d="M1013.3 1044.7l6.2 3.1 6.8-40.7 1.9 26.7 2.5-13.5 2.2 5.2-6.1-19.5-6.5 23.8-2.4 4.7-2.3 2.9z" fill="#cfecb3"/>
<path d="M850.1 881.8l6.3 35.3 6.2 .1 2.4-2.9 2.4 11.3 2.4-5.6-6.2 .9-6.3-37.6-2.3 8.1-2.5-4.8z" fill="#6bc6be"/>
<path d="M726.4 543.4l6-9 6.2 1.7 2.4-2 2.5-1.9 2.4-1.9-6.1-1.7-6.1-1.6-2.5 1.9-2.5 1.9z" fill="#081d58"/>
<path d="M811.4 701.3l6-20 6.4 43.8 2.3-26.7 2.5 6.4 2.4-6.2-6.3-8.7-6.1 2-2.5-11.5-2.4 9.2z" fill="#2260a9"/>
<path d="M674.7 534.2l6.1 1.7 6.3 12.4 2.3-12.7 2.5-1.9 2.6 3.9-5.9 11.1-6.1-.4-2.8-17.9-2.5 1.9z" fill="#0a1e5c"/>
<path d="M821.8 753.4l6.4 31.9 6.3 31.5 2.2-47.6 2.4 8.8 2.4 3.2-6.2-15.3-6.3-23.5-2.2 42.6-2.5-21.8z" fill="#1d91c0"/>
<path d="M917.6 1021.1l6.2-3.5 6.2 11.1 2.4-15.4 2.4-3.1 2.3 7.6-6.2-20.7-6.2 2.9-2.4 27.2-2.4-1.2z" fill="#c8e9b4"/>
<path d="M763.6 578.9l5.9-13.6 6.4 18.6 2.4 1.4 2.6 6 2.5 9.3-6.4-30.2-6.3-17.6-2.6-10.5-2.3 19.8z" fill="#172976"/>
<path d="M623.6 557.4l5.6-20.1 6.1 1.7 2.8 10.5 2.3-10.9 2.5-2.4-6 4.6-5.8 10.4-3-19.4-2.2 14.3z" fill="#0c2060"/>
<path d="M1052.6 1001.5l6 22.5 6.7-27.1 2.4-7.7 2.3-6.3 2 17-6.6 16.2-6.3 .2-2.2 .1-2.1-8.1z" fill="#c0e6b5"/>
<path d="M1178.4 870l7.3-36.2 6.4 .6 1.7 17.6 1.9 7.5 3-31.2-7.4 40.5-6.6 8.7-2.1-4.9-1.3-34.3z" fill="#40b5c4"/>
<path d="M1151.6 909.8l6.6-9.2 7.1-31.1 2 7.3 1.7 22.6 3.5-54.8-8.1 70.2-5.6-31-2.3 6.1-2.2-2.5z" fill="#5bc0c0"/>
<path d="M439 739.4l5.7-5.9 5.7-6 1.9-20.3 2.7-.8 3 8.6-5.8 4.4-5.6 8.8-3.6-24.3-1.6 26.6z" fill="#206eb0"/>
<path d="M930 1028.7l6.2 13.6 6.2 4.1 2.5-28.5 2.3 9.6 2.3-11.5-6.2 12.4-6.2-10.6-2.3-7.6-2.4 3.1z" fill="#cbebb4"/>
<path d="M485.1 691.4l5.7-6.8 5.1-24.7 2.7 1.4 3.6 27.7 1-49.3-5 27.4-4.7 38.1-3.9-35.4-2.2 13.8z" fill="#2354a3"/>
<path d="M780.9 596.6l6.5 35.4 6.2 .9 2.4 5.7 2.5 7.5 2.4-15.1-6.4-21-6 11.1-2.6-12.9-2.4-.6z" fill="#253896"/>
<path d="M706.6 535.1l6.1 1.7 6.2 1.7 2.6 6.2 2.3-10.1 2.6 8.8-6.2-12.4-6.1 1.2-2.5-.9-2.5 1.9z" fill="#091e5a"/>
<path d="M827.1 798.7l6.2 6.5 6.4 28.2 2.3-14.7 2.4-2.5 2.3-23.8-6.1 19-6.1 5.4-2.6-25-2.4-8.9z" fill="#2b9fc2"/>
<path d="M511.9 662.4l5.7-8.1 5.2-25.8 2.6-.9 2.4-7 2.3-12.3-5.4 19.9-5.7 10.7-2.1 14.8-2.5 3.7z" fill="#24409a"/>
<path d="M798.6 642.1l6.4 30.9 6.4 28.3 2.3-11.7 2.4-9.2 2.5 11.5-6.2-10.2-6.4-34.1-2.2 28.9-2.6-21.9z" fill="#2352a3"/>
<path d="M867.9 939.2l6.2 19 6.2 1.5 2.4 15.1 2.4-24.4 2.4-.6-6.3-15-6.1 26.6-2.5-28.9-2.3 16.3z" fill="#8cd2ba"/>
<path d="M832.4 826.5l6.3 26 6.2 2.2 2.4-.2 2.4 9.3 2.4-6.4-6.3-36.8-6.1 12.8-2.4 3.2-2.4 3.9z" fill="#3cb1c3"/>
<path d="M537.9 605.4l6.2 9.2 5.6-14.7 2.5-5.5 2.7 3.6 1.4-41.2-5.1 32.5-5.2 26.5-2.1 16.1-3.2-19.5z" fill="#203089"/>
<path d="M994.1 1018.8l6.2 2.3 6 35.3 2.4-16.5 2.5-14.5 2.1 19.3-6.1-24.8-6.3 8.4-2.2-14.5-2.4 14.1z" fill="#ceecb3"/>
<path d="M458 715l5.6-10.1 5.1-23.7 3.7 30.3 1.7-28.5 2.6-.5-4.9 26.6-5.6 9.6-3.3-16.8-1 46.9z" fill="#2165ab"/>
<path d="M804.1 709l6.4 25.7 6.1-8.7 2.4 .3 2.4-9.1 2.4 7.9-6.4-43.8-6 20-2.4 3.9-2.7-30.1z" fill="#2166ac"/>
<path d="M655 536.6l6.1 1.7 6.1 2.2 2.5-2.5 2.7 10.7 2.3-14.5-6.1-.1-6-.4-2.6-.9-2.4 8.1z" fill="#091e5a"/>
<path d="M898 1007.5l6.3-6.3 6.2 26.4 2.3 6.8 2.4-21.5 2.4 8.2-6.3 15.6-6.1-35.6-2.4 16.2-2.4-24.7z" fill="#c6e9b4"/>
<path d="M738.6 536.1l6.1 1.6 6.1 1.7 2.5-1.9 2.5-1.9 2.4-2-6.1-1.6-6.2-1.7-2.4 1.9-2.5 1.9z" fill="#081d58"/>
<path d="M910.5 1027.6l6.2 17.3 6.2-9.1 2.3 8.1 2.4-15.2 2.4 0-6.2-11.1-6.2 3.5-2.4-8.2-2.4 21.5z" fill="#cdebb4"/>
<path d="M687.1 548.3l6-4.7 6.3 7.9 2.4-2.8 2.4-9.9 2.4-3.7-6.1-1.7-6 4.2-2.6-3.9-2.5 1.9z" fill="#0a1e5c"/>
<path d="M974.3 1060.9l6.4-29.1 6.4-4.4 2.2 5 2.3 4.6 2.5-18.2-6.3 3.2-6.3 .5-2.4 11.6-2.6 44.4z" fill="#d0edb3"/>
<path d="M942.4 1046.4l6.2-.1 6.3-5.2 2.4-3.8 2.3 1.6 2.4-11.4-6.3-3.2-6.2-8.3-2.3 11.5-2.3-9.6z" fill="#ceecb3"/>
<path d="M1098.8 956.7l6.7-20.4 5.9 24.2 2.6-20.2 2.2 4.1 2.3-5.2-6.5 7.4-6.2-10.1-2.9 37.6-1.8-18.8z" fill="#89d1ba"/>
<path d="M954.9 1041.1l6.2 12.2 6.2 3.9 2.4-5.1 2.2 11 2.4-2.2-6.1-34.1-6.2 .7-2.4 11.4-2.3-1.6z" fill="#d4eeb3"/>
<path d="M750.8 539.4l6.2 1.7 6.6 37.8 2.2-16.8 2.3-19.8 2.6 10.5-6.3-15.7-6.2-3.5-2.4 2-2.5 1.9z" fill="#0c2060"/>
<path d="M922.9 1035.8l6.2 9.7 6.2 8.1 2.4-7.9 2.4-7.7 2.3 8.4-6.2-4.1-6.2-13.6-2.4 0-2.4 15.2z" fill="#d1edb3"/>
<path d="M596.7 582.5l5.4-25.6 6.5 16.9 2.2-12.1 2.8 8.9 1.9-29.2-5.5 24.4-5.4 22.8-3.5-34.8-2.5 1.2z" fill="#12256d"/>
<path d="M855.5 929.1l6.2 13.9 6.2-3.8 2.4 9.6 2.3-16.3 2.5 28.9-6.3-46.5-6.2 2.3-2.4 5.7-2.5-32z" fill="#78cbbc"/>
<path d="M635.3 539l6.4 18.6 5.8-12.6 2.7 5 2.3-11.5 2.5-1.9-5.9 7.6-6.2-8-2.5 2.4-2.3 10.9z" fill="#0a1e5c"/>
<path d="M885.6 982.9l6.2 21.6 6.2 3 2.4-14.9 2.4 24.7 2.4-16.2-6.2-13.6-6.3-18.1-2.3 27.9-2.4 9.8z" fill="#b4e2b6"/>
<path d="M718.9 538.5l6.1 1.6 6.2 1.7 2.4-1.9 2.6 7.9 2.4-11.7-6.2-1.7-6 9-2.6-8.8-2.3 10.1z" fill="#091e5a"/>
<path d="M809.2 720.3l6.3 13 6.3 20.1 2.5 9.8 2.5 21.8 2.2-42.6-6.1 13.3-6.3-29.7-2.4 4.4-2.5-8z" fill="#1f7bb6"/>
<path d="M873.2 977.2l6.2 15 6.2-9.3 2.4 24.2 2.4-9.8 2.3-27.9-6.2 4.7-6.2-14.4-2.3 30.2-2.5-26z" fill="#a5dcb7"/>
<path d="M1026.3 1007.1l5.8 40.9 6.7-35.3 2.1 13.7 2.4-11.7 1.9 32.8-6-25.7-6.3 3.7-2.2-5.2-2.5 13.5z" fill="#caeab4"/>
<path d="M1006.3 1056.4l6.6-36.1 6.4-.9 1.9 29.2 2.3 1.2 2.8-42.7-6.8 40.7-6.2-3.1-2.1-19.3-2.5 14.5z" fill="#cfecb3"/>
<path d="M576.9 583.1l5.9-4.9 5.7-12 2.7 3 2.5-4.4 3 17.7-6.1-3.2-6.5-17.6-2.2 13.9-2.9-12.1z" fill="#152772"/>
<path d="M837.7 865.2l6.2 20.2 6.2-3.6 2.4 4.8 2.5 4.8 2.3-8.1-6.2-15.7-6.2-12.9-2.4 8.8-2.5-6.9z" fill="#4cbac2"/>
<path d="M1125.3 931.5l6.8-20.2 6.9-28.9 2 13.9 1.7 20.4 2.8-26.3-6.7 15.1-6.2-7.2-2.8 29.4-2.3 4.9z" fill="#69c5be"/>
<path d="M814.6 769.7l6.4 29.9 6.1-.9 2.4-15.8 2.4 8.9 2.6 25-6.3-31.5-6.4-31.9-2.4 3.5-2.5-13.5z" fill="#1d91c0"/>
<path d="M1198.7 828.3l6.1 11.2 6.8-14.1 2.5-12.7 2.5-10 1.3 29.7-6.4-2.3-6.8 17.8-1.7-19.1-2.1-.3z" fill="#33a7c2"/>
<path d="M1072 999.9l6.9-32.6 6.6-16.9 2.1 9.4 1.9 21 2 10.2-5.9-23.3-6.7 19.4-2.3 4.2-2.1-7.4z" fill="#a2dbb8"/>
<path d="M1217.9 832.4l7.8-48.7 1.7 16.5 1.8 9.7 2.3-4.3-6.5 2-3 29.8-1.8-11.6z" fill="#2ca1c2"/>
<path d="M615.5 541.4l6.2 5.6 6.7 27.5 2-23 2.6 2.2 2.3-14.7-6.1-1.7-5.6 20.1-3-19.8-2.5 6.3z" fill="#0c2060"/>
<path d="M667.2 540.5l6.1 1.1 6.2 1.7 2.6 6.2 2.3-10 2.7 8.8-6.3-12.4-6.1-1.7-2.3 14.5-2.7-10.7z" fill="#091e5a"/>
<path d="M786.1 626.5l6.5 34.2 6-18.6 2.6 12.5 2.6 21.9 2.2-28.9-6.1 7-6.3-21.7-2.7-21-2.2 21.2z" fill="#24409a"/>
<path d="M768.7 599.9l5.8-29.2 6.4 25.9 2.6 11 2.4 .6 2.6 12.9-6.4-27-6.2-10.2-2.8-27.2-2.4 6.7z" fill="#1a2b7e"/>
<path d="M819.8 795.5l6.3 17.9 6.3 13.1 2.5 14 2.4-3.9 2.4-3.2-6.4-28.2-6.2-6.5-2.4-3.9-2.4 2.6z" fill="#2ca1c2"/>
<path d="M935.3 1053.6l6.3-5.5 6.1 25.3 2.6-36.6 2.4-10 2.2 14.3-6.3 5.2-6.2 .1-2.3-8.4-2.4 7.7z" fill="#d3eeb3"/>
<path d="M967.3 1057.2l6.4-13.4 6.1 17.5 2.4 1.1 2.5-28.2 2.4-6.8-6.4 4.4-6.4 29.1-2.4 2.2-2.2-11z" fill="#d4eeb3"/>
<path d="M1045.2 1047.5l6.9-44.6 6.2 8.3 2.9-46 1.8 33 2.3-1.3-6.7 27.1-6-22.5-2.5 16-2.2-3.8z" fill="#bbe4b5"/>
<path d="M556.3 556.8l6.6 18.8 6.1 5.5 1.9-26 2.6-1.3 3.4 29.3-6.2-8.6-5.4 24.5-3-13.9-2.4 4.7z" fill="#152772"/>
<path d="M699.4 551.5l5.9-8.9 6.2 1.6 2.4-1.9 2.5-1.9 2.5-1.9-6.2-1.7-6.1-1.7-2.4 3.7-2.4 9.9z" fill="#091e5a"/>
<path d="M647.5 545l6.5 21.7 6-7.5 2.2-15.4 2.8 13.3 2.2-16.6-6.1-2.2-6.1-1.7-2.5 1.9-2.3 11.5z" fill="#0b1f5e"/>
<path d="M842.9 888.1l6.3 29.9 6.3 11.1 2.2-38.2 2.5 32 2.4-5.7-6.2-.1-6.3-35.3-2.4 4.7-2.4 6.6z" fill="#63c3bf"/>
<path d="M476.7 682.5l5.5-13.8 6.4 11 2.1-17.4 3.3 19.6 1.9-22-5.1 24.7-5.7 6.8-2.6 2.3-3.3-16.2z" fill="#2352a3"/>
<path d="M1172.5 844.6l6.1 9.8 6.4 .6 2 7.2 2.3-3.7 2.8-24.1-6.4-.6-7.3 36.2-2.2 1.7-1.9-13.7z" fill="#3db2c4"/>
<path d="M503.2 639.7l6.4 12.1 5.1-27.4 2.5-3.6 2.9 8.4 2.7-.7-5.2 25.8-5.7 8.1-2.9-7.7-2.6 1.5z" fill="#243f99"/>
<path d="M987.1 1027.4l6.1 22.9 6.4-21.5 2.2 16 2.4-11.3 2.1 22.9-6-35.3-6.2-2.3-2.5 18.2-2.3-4.6z" fill="#cdebb4"/>
<path d="M731.2 541.8l6.1 1.7 6.2 1.7 2.4-1.9 2.5-2 2.4-1.9-6.1-1.7-6.1-1.6-2.4 11.7-2.6-7.9z" fill="#081d58"/>
<path d="M1145.5 890.4l6.7-15.5 6.3 4.5 2.9-27.9 1.5 29.8 2.4-11.8-7.1 31.1-6.6 9.2-2.1-2.8-2.3 3.1z" fill="#53bdc1"/>
<path d="M756 564l6.4 24.4 6.3 11.5 2-36.5 2.4-6.7 2.8 27.2-6.4-18.6-5.9 13.6-2.8-30.4-2.5-1.9z" fill="#12256d"/>
<path d="M791.4 659.3l6.3 22.1 6.4 27.6 2.2-33.9 2.7 30.1 2.4-3.9-6.4-28.3-6.4-30.9-2.3 16.1-2.5 .1z" fill="#2350a1"/>
<path d="M860.6 931.8l6.3 25.5 6.3 19.9 2.3-13.3 2.5 26 2.3-30.2-6.2-1.5-6.2-19-2.5-22.7-2.3 24.4z" fill="#87d0ba"/>
<path d="M825.1 821.4l6.3 27 6.3 16.8 2.3-8.6 2.5 6.9 2.4-8.8-6.2-2.2-6.3-26-2.4 8.6-2.4 5.7z" fill="#3aaec3"/>
<path d="M608.6 573.8l6.1 2.1 5.7-14 2.8 9.3 2.1-18 3.1 21.3-6.7-27.5-6.2-5.6-1.9 29.2-2.8-8.9z" fill="#0f2367"/>
<path d="M628.4 574.5l5.6-19.3 6-5.7 2.6 4.3 2.4-9.5 2.5 .7-5.8 12.6-6.4-18.6-2.3 14.7-2.6-2.2z" fill="#0c2060"/>
<path d="M1118.5 939.2l6.5-5.9 6.1 11.6 3.5-60.8 1.7 23.8 2.7-25.5-6.9 28.9-6.8 20.2-2.1-4.7-2.7 23z" fill="#6dc6be"/>
<path d="M431.1 744.6l3.9-52.8 6.6 15.9 2.9 5.5 1.9-19.2 4 33.5-5.7 6-5.7 5.9-2.9-6.1-3.6-21.1z" fill="#2168ad"/>
<path d="M773.6 606l6.4 17.5 6.1 3 2.6 6.6 2.2-21.2 2.7 21-6.2-.9-6.5-35.4-2 41.2-2.7-23.4z" fill="#243392"/>
<path d="M679.5 543.3l6.1 1.7 6.1 1.7 2.5-2 2.5-1.9 2.7 8.7-6.3-7.9-6 4.7-2.7-8.8-2.3 10z" fill="#091e5a"/>
<path d="M1091.5 991l6.9-31.8 6.4-2.9 2.1 9.9 3.1-46.3 1.4 40.6-5.9-24.2-6.7 20.4-1.9-17.2-2.8 28.4z" fill="#89d1ba"/>
<path d="M588.5 566.2l6.3 8.7 6.2 6 2.2-14.1 3 17 2.4-10-6.5-16.9-5.4 25.6-3-17.7-2.5 4.4z" fill="#13266f"/>
<path d="M530.1 608.3l5.6-13.2 5.9-3.2 2.2-15.1 3 14.7 2.9 8.4-5.6 14.7-6.2-9.2-1.9 25.3-3.1-15.7z" fill="#1e2e85"/>
<path d="M796.8 707.4l6.1-9.9 6.3 22.8 2.5 2.1 2.5 8 2.4-4.4-6.1 8.7-6.4-25.7-2.5-12.7-2.6-17z" fill="#2163aa"/>
<path d="M890.9 1027.4l6.2-15.7 6.3 3.4 2.3 43.8 2.4-61.9 2.4 30.6-6.2-26.4-6.3 6.3-2.3 11.1-2.4-4z" fill="#c0e6b5"/>
<path d="M743.5 545.2l6.3 12 6.2 6.8 2.3-17.4 2.5 1.9 2.8 30.4-6.6-37.8-6.2-1.7-2.4 1.9-2.5 2z" fill="#0b1f5e"/>
<path d="M1192.1 834.4l6 14.6 6.8-14.7 2.2-2.5 2.6-15.6 1.9 9.2-6.8 14.1-6.1-11.2-3 31.2-1.9-7.5z" fill="#35aac3"/>
<path d="M903.4 1015.1l6.2 5.3 6.2 17.3 2.4-4.2 2.4-.2 2.3 2.5-6.2 9.1-6.2-17.3-2.4-30.6-2.4 61.9z" fill="#c9eab4"/>
<path d="M878.4 978.3l6.3 27.5 6.2 21.6 2.4-12.8 2.4 4 2.3-11.1-6.2-3-6.2-21.6-2.4 18.3-2.4-26.8z" fill="#b2e1b6"/>
<path d="M1019.3 1019.4l6.2 5.6 6 24.7 2.8-37.1 2 17.7 2.5-17.6-6.7 35.3-5.8-40.9-2.8 42.7-2.3-1.2z" fill="#c9eab4"/>
<path d="M711.5 544.2l6.1 1.7 6.2 1.7 2.4-1.9 2.5-1.9 2.5-2-6.2-1.7-6.1-1.6-2.5 1.9-2.5 1.9z" fill="#081d58"/>
<path d="M549.7 599.9l6.1 1.8 5.5-17.3 2.1-17.7 3.7 39.5 1.9-25.1-6.1-5.5-6.6-18.8-1.4 41.2-2.7-3.6z" fill="#172978"/>
<path d="M660 559.2l5.8-11.8 6.3 11.1 2.5-5.9 2.4-7.4 2.5-1.9-6.2-1.7-6.1-1.1-2.2 16.6-2.8-13.3z" fill="#0a1e5c"/>
<path d="M947.7 1073.4l6.4-23.6 6.3-6.1 2.4-1.2 2.4-14.8 2.1 29.5-6.2-3.9-6.2-12.2-2.2-14.3-2.4 10z" fill="#d0edb3"/>
<path d="M450.4 727.5l5.2-19.5 5-27.3 2.7 2 3 7.4 2.4-8.9-5.1 23.7-5.6 10.1-3-8.6-2.7 .8z" fill="#225ca7"/>
<path d="M866 984.7l6.3 31.5 6.1-37.9 2.4-3.9 2.4 26.8 2.4-18.3-6.2 9.3-6.2-15-2.5-21.2-2.4 9.4z" fill="#a0dab8"/>
<path d="M1065.3 996.9l6.8-30.9 5.9 26.6 2.4-9.4 2.2 4.4 2.9-37.2-6.6 16.9-6.9 32.6-2-17-2.3 6.3z" fill="#9ed9b8"/>
<path d="M761 573.8l6.1-.7 6.5 32.9 2.6 8.4 2.7 23.4 2-41.2-6.4-25.9-5.8 29.2-2.7-18.4-2.2 22z" fill="#1a2b7e"/>
<path d="M569 581.1l6-.9 5.9-5.5 2.7 2.2 2.3-11.4 2.6 .7-5.7 12-5.9 4.9-3.4-29.3-2.6 1.3z" fill="#11246b"/>
<path d="M802 739.4l6.2 3.1 6.4 27.2 2.3-26.3 2.5 13.5 2.4-3.5-6.3-20.1-6.3-13-2.4 6.3-2.4-.2z" fill="#2073b2"/>
<path d="M1165.3 869.5l6.3 3 6.5-2.1 2.6-15.5 2.6-17.4 1.7 17.5-6.4-.6-6.1-9.8-3.5 54.8-1.7-22.6z" fill="#3fb4c4"/>
<path d="M999.6 1028.8l6.4-7.9 6.3 1.1 2.1 17 2.1 26.6 2.8-46.2-6.4 .9-6.6 36.1-2.1-22.9-2.4 11.3z" fill="#caeab4"/>
<path d="M778.7 618.7l6.5 36.3 6.2 4.3 2.4-1 2.5-.1 2.3-16.1-6 18.6-6.5-34.2-2.4 7.1-2.1 35.3z" fill="#243f99"/>
<path d="M495.9 659.9l5.8-4.7 5.8-6 2.7-.7 2.1-16 2.4-8.1-5.1 27.4-6.4-12.1-1 49.3-3.6-27.7z" fill="#24419a"/>
<path d="M915.8 1037.7l6.2 9.6 6.3-10.1 2.4-14.3 2.4 1.2 2.2 29.5-6.2-8.1-6.2-9.7-2.3-2.5-2.4 .2z" fill="#cbebb4"/>
<path d="M807.2 762.1l6.3 8.7 6.3 24.7 2.5 1.9 2.4-2.6 2.4 3.9-6.1 .9-6.4-29.9-2.5-16.3-2.5 1.7z" fill="#1d8dbe"/>
<path d="M830.4 859.8l6.2 14.7 6.3 13.6 2.4 5 2.4-6.6 2.4-4.7-6.2 3.6-6.2-20.2-2.5-15.9-2.5-9.4z" fill="#44b7c4"/>
<path d="M1111.4 960.5l6.8-23.4 7.1-31.4 1.9 14.9 2.6-19.2 1.3 43.5-6.1-11.6-6.5 5.9-2.3 5.2-2.2-4.1z" fill="#73c8bd"/>
<path d="M691.7 546.7l6.2 1.7 6.1 1.6 2.5-1.9 2.5-1.9 2.5-2-6.2-1.6-5.9 8.9-2.7-8.7-2.5 1.9z" fill="#081d58"/>
<path d="M848.2 915.6l6.2 5.3 6.2 10.9 2.5 9.1 2.3-24.4 2.5 22.7-6.2 3.8-6.2-13.9-2.6-37-2.3 25.6z" fill="#6dc6be"/>
<path d="M979.8 1061.3l6.6-30.2 6.2 13.8 2.3-1.3 2.2 6.3 2.5-21.1-6.4 21.5-6.1-22.9-2.4 6.8-2.5 28.2z" fill="#ceecb3"/>
<path d="M640 549.5l6 .4 6.2 1.6 2.5-1.9 2.5-1.9 2.8 11.5-6 7.5-6.5-21.7-2.5-.7-2.4 9.5z" fill="#0a1e5c"/>
<path d="M620.4 561.9l6.3 12.8 5.7-20.7 2.9 17.1 2.1-21 2.6-.6-6 5.7-5.6 19.3-3.1-21.3-2.1 18z" fill="#0d2163"/>
<path d="M601 580.9l6-.1 5.9-8.9 2.2-17.4 2.7 6.7 2.6 .7-5.7 14-6.1-2.1-2.4 10-3-17z" fill="#11246b"/>
<path d="M1038.8 1012.7l6.6-17.1 6.6-18.1 1.7 39.9 2.6-23 2 16.8-6.2-8.3-6.9 44.6-1.9-32.8-2.4 11.7z" fill="#b4e2b6"/>
<path d="M766.5 634.1l6.1-1.8 6.1-13.6 2.9 50.2 2.1-35.3 2.4-7.1-6.1-3-6.4-17.5-2.3 16.5-2.4 1z" fill="#253494"/>
<path d="M748.4 554.4l6.4 19.6 6.2-.2 2.8 29.7 2.2-22 2.7 18.4-6.3-11.5-6.4-24.4-2.7-13.5-2.3 12.3z" fill="#12256d"/>
<path d="M723.8 547.6l6.1 1.7 6.2 1.7 2.4-1.9 2.5-2 2.5-1.9-6.2-1.7-6.1-1.7-2.5 2-2.5 1.9z" fill="#081d58"/>
<path d="M468.7 681.2l6 .6 5.7-6 2.4-8.2 3.1 10.8 2.7 1.3-6.4-11-5.5 13.8-2.6 .5-1.7 28.5z" fill="#2350a1"/>
<path d="M423.2 748.6l4.8-27.1 5.1-20.8 3 5 3.3 16.6 2.2-14.6-6.6-15.9-3.9 52.8-1.9 20.6-3.4-17.4z" fill="#2168ad"/>
<path d="M1211.6 825.4l7-19.4 2.3-6.5 2.2-.6 2.6-15.2-7.8 48.7-1.3-29.7-2.5 10z" fill="#259ac1"/>
<path d="M1085.5 950.4l5.9 28.5 7.1-43.5 2 11.9 2 15.1 2.3-6.1-6.4 2.9-6.9 31.8-2-10.2-1.9-21z" fill="#89d1ba"/>
<path d="M784 659.5l6.3 7.4 6.5 40.5 2.2-28.1 2.6 17 2.5 12.7-6.4-27.6-6.3-22.1-2.3 21-2.6-20.4z" fill="#234fa1"/>
<path d="M928.3 1037.2l6.2 13.5 6.3 1 2.4-4 2.4-15.2 2.1 40.9-6.1-25.3-6.3 5.5-2.2-29.5-2.4-1.2z" fill="#cdebb4"/>
<path d="M812.5 799.6l6.3 5.2 6.3 16.6 2.5 19.4 2.4-5.7 2.4-8.6-6.3-13.1-6.3-17.9-2.6-22.5-2.2 30z" fill="#269bc1"/>
<path d="M672.1 558.5l6-7.7 6.1 1.7 2.5-2 2.5-1.9 2.5-1.9-6.1-1.7-6.1-1.7-2.5 1.9-2.4 7.4z" fill="#081d58"/>
<path d="M940.8 1051.7l6.2 12 6.3 7.6 2.3 5.8 2.4-16.8 2.4-16.6-6.3 6.1-6.4 23.6-2.1-40.9-2.4 15.2z" fill="#d3eeb3"/>
<path d="M835.6 879.4l6.3 28.9 6.3 7.3 2.4 2.1 2.3-25.6 2.6 37-6.3-11.1-6.3-29.9-2.4-1.4-2.5-4.2z" fill="#59bfc0"/>
<path d="M883.7 1009.4l6.3 17.9 6.2-7.4 2.4 31.9 2.4-20 2.4-16.7-6.3-3.4-6.2 15.7-2.4-9.3-2.4-.9z" fill="#c0e6b5"/>
<path d="M522.8 628.5l5-30.2 5.9-6.3 2.4-6.8 3.3 21.4 2.2-14.7-5.9 3.2-5.6 13.2-2.3 12.3-2.4 7z" fill="#1c2d81"/>
<path d="M853.5 949l6.1-12.7 6.4 48.4 2.3-19.3 2.4-9.4 2.5 21.2-6.3-19.9-6.3-25.5-2.4 1.4-2.3 12.1z" fill="#80cebb"/>
<path d="M960.4 1043.7l6.3-4.5 6.4-10.6 2.2 25 2.4-14.7 2.1 22.4-6.1-17.5-6.4 13.4-2.1-29.5-2.4 14.8z" fill="#cdebb4"/>
<path d="M736.1 551l6.1 1.7 6.2 1.7 2.6 8.4 2.3-12.3 2.7 13.5-6.2-6.8-6.3-12-2.5 1.9-2.5 2z" fill="#091e5a"/>
<path d="M704 550l6.2 1.7 6.1 1.7 2.5-1.9 2.5-2 2.5-1.9-6.2-1.7-6.1-1.7-2.5 2-2.5 1.9z" fill="#081d58"/>
<path d="M789.5 719.3l6.2-2.2 6.3 22.3 2.4-13 2.4 .2 2.4-6.3-6.3-22.8-6.1 9.9-2.6-17.2-2.5-2.7z" fill="#2260a9"/>
<path d="M1139 882.4l6.3 7.8 6.9-22.2 1.5 28.2 3.3-47.2 1.5 30.4-6.3-4.5-6.7 15.5-2.8 26.3-1.7-20.4z" fill="#4ab9c3"/>
<path d="M652.2 551.5l6.1 1.7 6.4 13.4 2.2-13.6 2.6-2 2.6 7.5-6.3-11.1-5.8 11.8-2.8-11.5-2.5 1.9z" fill="#091e5a"/>
<path d="M896.2 1019.9l6.3 8.8 6.2 2.8 2.4 16 2.3 5.2 2.4-15-6.2-17.3-6.2-5.3-2.4 16.7-2.4 20z" fill="#c6e9b4"/>
<path d="M1185 855l7.4-37.2 6.5-3.4 1.8 15.1 2.3-6.4 1.9 11.2-6.8 14.7-6-14.6-2.8 24.1-2.3 3.7z" fill="#32a6c2"/>
<path d="M1012.3 1022l6.2 18.4 6.4-13.9 2.1 17.2 2.7-30.2 1.8 36.2-6-24.7-6.2-5.6-2.8 46.2-2.1-26.6z" fill="#c8e9b4"/>
<path d="M580.9 574.7l5.6-17.5 6.3 6.9 2.9 11.7 2.1-18.7 3.2 23.8-6.2-6-6.3-8.7-2.6-.7-2.3 11.4z" fill="#0e2265"/>
<path d="M817.9 848.8l6.2-6.8 6.3 17.8 2.3-19.9 2.5 9.4 2.5 15.9-6.3-16.8-6.3-27-2.5-5.6-2.3 21.7z" fill="#34a9c3"/>
<path d="M1058.3 1011.2l6.2 10.1 7.1-51.2 2.2 5.5 2.1 12.2 2.1 4.8-5.9-26.6-6.8 30.9-2.3 1.3-1.8-33z" fill="#9ed9b8"/>
<path d="M871.2 993.9l6.3-.7 6.2 16.2 2.4 7.8 2.4 .9 2.4 9.3-6.2-21.6-6.3-27.5-2.4-3.7-2.3 26.2z" fill="#a9ddb7"/>
<path d="M753.9 604.7l6.1-3.8 6.5 33.2 2.4-10.6 2.4-1 2.3-16.5-6.5-32.9-6.1 .7-2.3 22-2.6-13.8z" fill="#1a2b7e"/>
<path d="M541.6 591.9l5.6-14.2 6.5 16.6 2.4-8.1 2.2-16.4 3 14.6-5.5 17.3-6.1-1.8-2.9-8.4-3-14.7z" fill="#152772"/>
<path d="M823.2 885.8l6.2 .4 6.2-6.8 2.4 3.1 2.5 4.2 2.4 1.4-6.3-13.6-6.2-14.7-2.4 12-2.4 8.1z" fill="#46b8c3"/>
<path d="M441.6 707.7l4.8-28 7.5 38.2 1.7-25 3.4 17.5 1.6-29.7-5 27.3-5.2 19.5-4-33.5-1.9 19.2z" fill="#2259a6"/>
<path d="M561.3 584.4l5.7-11.3 5.8-11.2 2.8 8.8 2.5-5.6 2.8 9.6-5.9 5.5-6 .9-1.9 25.1-3.7-39.5z" fill="#11246b"/>
<path d="M488.6 679.7l5.4-15.4 4.8-38.3 3.4 21.8 2.4-6.3 2.9 7.7-5.8 6-5.8 4.7-1.9 22-3.3-19.6z" fill="#24409a"/>
<path d="M858.7 969.1l6.3 29.5 6.2-4.7 2.5 6.9 2.3-26.2 2.4 3.7-6.1 37.9-6.3-31.5-2.5-29.4-2.3 23.1z" fill="#99d7b8"/>
<path d="M684.2 552.5l6.2 1.7 6.1 1.7 2.5-2 2.5-1.9 2.5-2-6.1-1.6-6.2-1.7-2.5 1.9-2.5 1.9z" fill="#081d58"/>
<path d="M840.9 920.5l6.4 36.6 6.2-8.1 2.4-3.7 2.3-12.1 2.4-1.4-6.2-10.9-6.2-5.3-2.5-2.2-2.4 1.9z" fill="#6bc6be"/>
<path d="M908.7 1031.5l6.2 17 6.3-.6 2.4-6.2 2.4-21 2.3 16.5-6.3 10.1-6.2-9.6-2.4 15-2.3-5.2z" fill="#c9eab4"/>
<path d="M771.6 649.3l6.2 1.9 6.2 8.3 2.5 .4 2.6 20.4 2.3-21-6.2-4.3-6.5-36.3-2.4 9.8-2.3 17.2z" fill="#243d98"/>
<path d="M992.6 1044.9l6.3 1.6 6.3-4.5 2.2 7 2.5-18.4 2.4-8.6-6.3-1.1-6.4 7.9-2.5 21.1-2.2-6.3z" fill="#c8e9b4"/>
<path d="M632.4 554l6.1 1.7 6.1 1.7 2.5-2 2.6-1.9 2.5-2-6.2-1.6-6-.4-2.6 .6-2.1 21z" fill="#091e5a"/>
<path d="M716.3 553.4l6.2 1.7 6.1 1.7 2.5-1.9 2.5-2 2.5-1.9-6.2-1.7-6.1-1.7-2.5 1.9-2.5 2z" fill="#081d58"/>
<path d="M1204.9 834.3l7-20.4 2.4-8 2.7-20 1.6 20.1-7 19.4-1.9-9.2-2.6 15.6z" fill="#259ac1"/>
<path d="M1104.8 956.3l6.6-9.8 7-33.5 2.4-5.2 1.8 20.2 2.7-22.3-7.1 31.4-6.8 23.4-1.4-40.6-3.1 46.3z" fill="#6fc7bd"/>
<path d="M612.9 571.9l6.4 13.5 5.5-24.3 2.5-3.2 2.5-2 2.6-1.9-5.7 20.7-6.3-12.8-2.6-.7-2.7-6.7z" fill="#0c2060"/>
<path d="M664.7 566.6l5.9-10 6.3 10 2.4-7.4 2.4-4.8 2.5-1.9-6.1-1.7-6 7.7-2.6-7.5-2.6 2z" fill="#091e5a"/>
<path d="M794.4 707.4l6.4 30.7 6.4 24 2.4-7 2.5-1.7 2.5 16.3-6.4-27.2-6.2-3.1-2.7-34.5-2.3 18.9z" fill="#216daf"/>
<path d="M973.1 1028.6l6.2 15.3 6.2 14.3 2.5-18.5 2.3 2.6 2.3 2.6-6.2-13.8-6.6 30.2-2.1-22.4-2.4 14.7z" fill="#caeab4"/>
<path d="M953.3 1071.3l6.2 6.1 6.6-53.6 2.2 28.6 2.2 19.6 2.6-43.4-6.4 10.6-6.3 4.5-2.4 16.6-2.4 16.8z" fill="#cfecb3"/>
<path d="M1158.5 879.4l7.1-29.7 5.8 25.4 3.2-38.5 2.3-6.2 1.2 40-6.5 2.1-6.3-3-2.4 11.8-1.5-29.8z" fill="#3bb0c3"/>
<path d="M1031.5 1049.7l6.6-20.9 6.5-12.4 2.4-4.7 2.5-18.4 2.5-15.8-6.6 18.1-6.6 17.1-2.5 17.6-2-17.7z" fill="#b0e0b6"/>
<path d="M805.2 805.6l6.3 12.5 6.4 30.7 2.4-11.3 2.3-21.7 2.5 5.6-6.3-16.6-6.3-5.2-2.4-1.4-2.3 25.6z" fill="#269bc1"/>
<path d="M415.7 766.7l4.2-44.7 6.6 16.4 1.2-36.7 3.2 11.4 2.2-12.4-5.1 20.8-4.8 27.1-2.5 6.4-3.7-23z" fill="#2166ac"/>
<path d="M1131.1 944.9l7.6-58.3 6.3 5 2.1 5.6 2.1 4.8 3-34-6.9 22.2-6.3-7.8-2.7 25.5-1.7-23.8z" fill="#50bbc2"/>
<path d="M799.9 762.7l6.2 1 6.4 35.9 2.5 3.4 2.2-30 2.6 22.5-6.3-24.7-6.3-8.7-2.5-3-2.3 16.4z" fill="#1e85ba"/>
<path d="M741 560.2l6.5 23.9 6.4 20.6 2.2-22.7 2.6 13.8 2.3-22-6.2 .2-6.4-19.6-2.3 13.8-2.6-9.4z" fill="#0f2367"/>
<path d="M758.9 622.6l6.4 20.8 6.3 5.9 2.4-3.6 2.3-17.2 2.4-9.8-6.1 13.6-6.1 1.8-2.6-13.4-2.8-24.2z" fill="#22328f"/>
<path d="M776.7 674l6.2-4.4 6.6 49.7 2.2-31.8 2.5 2.7 2.6 17.2-6.5-40.5-6.3-7.4-2.3 11.9-2.5 .6z" fill="#234c9f"/>
<path d="M846.3 964.1l6.2 15.2 6.2-10.2 2.5 9.3 2.3-23.1 2.5 29.4-6.4-48.4-6.1 12.7-2.4 4.9-2.5-19.6z" fill="#80cebb"/>
<path d="M810.4 820.6l6.5 45.5 6.3 19.7 2.4-5.9 2.4-8.1 2.4-12-6.3-17.8-6.2 6.8-2.5-3.8-2.6-34.3z" fill="#36abc3"/>
<path d="M933.7 1060l6.2 19.1 6.4-27.7 2.3 21.4 2.4-14.9 2.3 13.4-6.3-7.6-6.2-12-2.3-20.1-2.5 41.1z" fill="#d1edb3"/>
<path d="M460.6 680.7l6 1 6.1 3.5 1.8-26.2 3.6 27.5 2.3-10.7-5.7 6-6-.6-2.4 8.9-3-7.4z" fill="#234b9f"/>
<path d="M921.2 1047.9l6.3 1.4 6.2 10.7 2.3 12.7 2.5-41.1 2.3 20.1-6.3-1-6.2-13.5-2.3-16.5-2.4 21z" fill="#caeab4"/>
<path d="M514.7 624.4l5.7-9 5.4-21 2.5-4.3 3 9.6 2.4-7.7-5.9 6.3-5 30.2-2.7 .7-2.9-8.4z" fill="#1b2c80"/>
<path d="M1078 992.6l7.2-49 5.8 34.1 3-41.4 2.2 4.8 2.3-5.7-7.1 43.5-5.9-28.5-2.9 37.2-2.2-4.4z" fill="#83cebb"/>
<path d="M592.8 564.1l6-3.5 6.2 4.7 2.4-5 2.6-1.9 2.9 13.5-5.9 8.9-6 .1-3.2-23.8-2.1 18.7z" fill="#0d2161"/>
<path d="M696.5 555.9l6.2 1.7 6.2 1.6 2.4-1.9 2.5-1.9 2.5-2-6.1-1.7-6.2-1.7-2.5 2-2.5 1.9z" fill="#081d58"/>
<path d="M828.3 890.6l6.3 5.2 6.3 24.7 2.4-5.2 2.4-1.9 2.5 2.2-6.3-7.3-6.3-28.9-2.3 31.1-2.5-8z" fill="#55bec1"/>
<path d="M728.6 556.8l6.3 8 6.1-4.6 2.5-1.4 2.6 9.4 2.3-13.8-6.2-1.7-6.1-1.7-2.5 1.9-2.5 2z" fill="#081d58"/>
<path d="M644.6 557.4l6.1 1.7 6.2 1.7 2.5-2 2.5-1.9 2.8 9.7-6.4-13.4-6.1-1.7-2.5 2-2.6 1.9z" fill="#081d58"/>
<path d="M815.7 862.8l6.5 44.2 6.1-16.4 2.5 11.9 2.5 8 2.3-31.1-6.2 6.8-6.2-.4-2.4 .2-2.6-24.7z" fill="#48b9c3"/>
<path d="M533.7 592l5.8-6.7 6.8 24.9 2.6 1.3 2-23.5 2.8 6.3-6.5-16.6-5.6 14.2-2.2 14.7-3.3-21.4z" fill="#162874"/>
<path d="M1052 977.5l5.9 27.1 6.6-12 2.3-1.4 2.8-38.5 2 17.4-7.1 51.2-6.2-10.1-2-16.8-2.6 23z" fill="#9cd8b8"/>
<path d="M864 1000.2l6.3 15.6 6.2-4.4 2.5 25.1 2.3-24.9 2.4-2.2-6.2-16.2-6.3 .7-2.3 7.3-2.4 5.2z" fill="#a9ddb7"/>
<path d="M764.4 675.3l6.3 13.3 6-14.6 2.5-2 2.5-.6 2.3-11.9-6.2-8.3-6.2-1.9-2.5 3.5-2.9-38.9z" fill="#24409a"/>
<path d="M782.1 711.8l6-12.9 6.3 8.5 2.6 16.4 2.3-18.9 2.7 34.5-6.3-22.3-6.2 2.2-2.5-3.6-2.6-15.8z" fill="#225ca7"/>
<path d="M985.5 1058.2l6.3-5 6.3 6.2 2.3 1.8 2.7-35.8 2.1 16.6-6.3 4.5-6.3-1.6-2.3-2.6-2.3-2.6z" fill="#c9eab4"/>
<path d="M676.9 566.6l6-6.6 6.1 1.7 2.5-1.9 2.5-2 2.5-1.9-6.1-1.7-6.2-1.7-2.5 1.9-2.4 4.8z" fill="#081d58"/>
<path d="M1178.1 870.4l7.5-42.9 6.1 13.2 2.1 4.2 2.6-17.2 2.5-13.3-6.5 3.4-7.4 37.2-1.7-17.5-2.6 17.4z" fill="#2ea3c2"/>
<path d="M1198.9 814.4l6.3 8.7 2.2-2 1.6 18.2 2.9-25.4-7 20.4-1.9-11.2-2.3 6.4z" fill="#289cc1"/>
<path d="M876.5 1011.4l6.3-20.2 6.2 21.3 2.4 29.5 2.4-5.3 2.4-16.8-6.2 7.4-6.3-17.9-2.4 2.2-2.3 24.9z" fill="#b2e1b6"/>
<path d="M851.5 972.5l6.3 40.6 6.2-12.9 2.5 6.2 2.4-5.2 2.3-7.3-6.2 4.7-6.3-29.5-2.3 18.5-2.5-25.1z" fill="#99d7b8"/>
<path d="M901.6 1045l6.2 13.5 6.3-2.4 2.3 19.8 2.4-22.4 2.4-5.6-6.3 .6-6.2-17-2.4-10.7-2.4 21.8z" fill="#c9eab4"/>
<path d="M1005.2 1042l6.5-14.7 6.4-4.3 2.1 16.6 2.2 5.1 2.5-18.2-6.4 13.9-6.2-18.4-2.4 8.6-2.5 18.4z" fill="#c0e6b5"/>
<path d="M1024.9 1026.5l6.6-19.3 5.9 40 2.4-12.8 3.1-64.4 1.7 46.4-6.5 12.4-6.6 20.9-1.8-36.2-2.7 30.2z" fill="#b7e3b6"/>
<path d="M833.7 936.6l6.1-24.6 6.5 52.1 2.3-29.8 2.5 19.6 2.4-4.9-6.2 8.1-6.4-36.6-2.4-1.5-2.5-13z" fill="#6bc6be"/>
<path d="M572.8 561.9l6.4 12.7 5.8-9.9 2.6 1.4 2.9 10 2.3-12-6.3-6.9-5.6 17.5-2.8-9.6-2.5 5.6z" fill="#0b1f5e"/>
<path d="M889 1012.5l6.3 24.9 6.3 7.6 2.3-2.4 2.4-21.8 2.4 10.7-6.2-2.8-6.3-8.8-2.4 16.8-2.4 5.3z" fill="#bde5b5"/>
<path d="M708.9 559.2l6.1 1.7 6.2 1.7 2.5-1.9 2.5-2 2.4-1.9-6.1-1.7-6.2-1.7-2.5 2-2.5 1.9z" fill="#081d58"/>
<path d="M746.4 606.4l5.8-32.8 6.7 49 2.2-26.1 2.8 24.2 2.6 13.4-6.5-33.2-6.1 3.8-2.9-30.4-2.4 4.5z" fill="#172978"/>
<path d="M433.1 700.7l6.6 15.7 4.8-30.2 2.7-.7 3.8 26.7 2.9 5.7-7.5-38.2-4.8 28-2.2 14.6-3.3-16.6z" fill="#2355a4"/>
<path d="M406.4 737.9l6.4 11.1 4.8-28.1 3 8.2 3 4.4 2.9 4.9-6.6-16.4-4.2 44.7-3.6-23.1-2.8 .1z" fill="#216aad"/>
<path d="M624.8 561.1l6.1 .4 6.1 1.7 2.6-1.9 2.5-2 2.5-1.9-6.1-1.7-6.1-1.7-2.6 1.9-2.5 2z" fill="#081d58"/>
<path d="M553.7 594.3l5.7-13.9 5.6-13.2 2.8 4.2 2.4-8.1 2.6-1.4-5.8 11.2-5.7 11.3-3-14.6-2.2 16.4z" fill="#0d2163"/>
<path d="M787.1 722.1l6.6 38.3 6.2 2.3 2.5 12.8 2.3-16.4 2.5 3-6.4-24-6.4-30.7-2.3 18.8-2.3 17.8z" fill="#216daf"/>
<path d="M507.5 649.2l4.5-46.7 7 29.2 1.7-28.6 2.7-.1 2.4-8.6-5.4 21-5.7 9-2.4 8.1-2.1 16z" fill="#1e2e85"/>
<path d="M656.9 560.8l6.1 1.7 6.2 1.6 2.5-1.9 2.5-1.9 2.7 6.3-6.3-10-5.9 10-2.8-9.7-2.5 1.9z" fill="#091e5a"/>
<path d="M966.1 1023.8l6.1 28.9 6.3 1.2 2.3 5 2.3 2.6 2.4-3.3-6.2-14.3-6.2-15.3-2.6 43.4-2.2-19.6z" fill="#caeab4"/>
<path d="M792.5 771.6l6.3 .9 6.4 33.1 2.6 18.2 2.3-25.6 2.4 1.4-6.4-35.9-6.2-1-2.5-3.4-2.3 24.1z" fill="#1e85ba"/>
<path d="M769.2 664.2l6.6 35.4 6.3 12.2 2.3-11.9 2.6 15.8 2.5 3.6-6.6-49.7-6.2 4.4-2.3 14.6-2.7-22.9z" fill="#234fa1"/>
<path d="M914.1 1056.1l6.2 4 6.4-18.2 2.3 8.3 2.3 17.6 2.4-7.8-6.2-10.7-6.3-1.4-2.4 5.6-2.4 22.4z" fill="#cdebb4"/>
<path d="M1098.5 935.4l6.7-17.8 6 23.3 2.6-18.2 2.1 6.4 2.5-16.1-7 33.5-6.6 9.8-2.3 6.1-2-15.1z" fill="#6bc6be"/>
<path d="M605 565.3l6-1.3 6.1 1.7 2.7 3.2 2.4-7.1 2.6-.7-5.5 24.3-6.4-13.5-2.9-13.5-2.6 1.9z" fill="#0a1e5c"/>
<path d="M1125.3 905.7l6.2 9.1 7.3-44.1 1.7 26.5 2.5-13.9 2 8.3-6.3-5-7.6 58.3-1.3-43.5-2.6 19.2z" fill="#50bbc2"/>
<path d="M946.3 1051.4l6.2 11.1 6.3 4 2.4-12.8 2.4 .6 2.5-30.5-6.6 53.6-6.2-6.1-2.3-13.4-2.4 14.9z" fill="#ceecb3"/>
<path d="M480.4 675.8l5-30 6.3 7.6 1.5-33.4 2.6-2 3 8-4.8 38.3-5.4 15.4-2.7-1.3-3.1-10.8z" fill="#253997"/>
<path d="M453.9 717.9l5-26.6 5.5-12.5 2.3-9.8 2.5-5.1 3.5 21.3-6.1-3.5-6-1-1.6 29.7-3.4-17.5z" fill="#234c9f"/>
<path d="M751.3 611.4l6.4 15.4 6.7 48.5 1.8-61.4 2.9 38.9 2.5-3.5-6.3-5.9-6.4-20.8-2.4 6.6-2.7-17z" fill="#22328f"/>
<path d="M733.6 566l6.2 1.7 6.6 38.7 2.2-27.6 2.4-4.5 2.9 30.4-6.4-20.6-6.5-23.9-2.3 13.3-2.4 7.1z" fill="#0e2265"/>
<path d="M838.9 944.9l6.4 32.4 6.2-4.8 2.4-10 2.5 25.1 2.3-18.5-6.2 10.2-6.2-15.2-2.5 2.4-2.5-29.9z" fill="#80cebb"/>
<path d="M721.2 562.6l6.2 1.7 6.2 1.7 2.7 14.6 2.4-7.1 2.3-13.3-6.1 4.6-6.3-8-2.4 1.9-2.5 2z" fill="#091e5a"/>
<path d="M689 561.7l6.2 1.7 6.2 1.7 2.5-2 2.5-1.9 2.5-2-6.2-1.6-6.2-1.7-2.5 1.9-2.5 2z" fill="#081d58"/>
<path d="M1152.2 868l6.3 5.9 7.2-34.7 2.3-5.5 1.5 32.1 1.9 9.3-5.8-25.4-7.1 29.7-1.5-30.4-3.3 47.2z" fill="#37acc3"/>
<path d="M821.1 909.9l6.2 1.9 6.4 24.8 2.3-30.6 2.5 13 2.4 1.5-6.3-24.7-6.3-5.2-2.3 23.7-2.4-1.9z" fill="#55bec1"/>
<path d="M1071.6 970.1l6.4-1.2 6.4 .9 2.4-9.8 2.9-34.6 1.3 52.3-5.8-34.1-7.2 49-2.1-4.8-2.1-12.2z" fill="#80cebb"/>
<path d="M797.7 793.6l6.2-7.6 6.5 34.6 2.4-9.9 2.6 34.3 2.5 3.8-6.4-30.7-6.3-12.5-2.2 25.3-2.7-24.3z" fill="#2296c1"/>
<path d="M803.1 831.2l6.4 30.8 6.2 .8 2.5-1.5 2.6 24.7 2.4-.2-6.3-19.7-6.5-45.5-2.4 11.7-2.4 11.3z" fill="#33a7c2"/>
<path d="M894.4 1038.2l6.2 41 6.3-34.5 2.4 40.9 2.4-18.1 2.4-11.4-6.3 2.4-6.2-13.5-2.4 7.1-2.4 6.3z" fill="#cdebb4"/>
<path d="M637 563.2l6.2 1.7 6.1 1.7 2.5-1.9 2.6-2 2.5-1.9-6.2-1.7-6.1-1.7-2.5 1.9-2.5 2z" fill="#081d58"/>
<path d="M756.5 638.3l6.7 44.6 6-18.7 2.5 1.5 2.7 22.9 2.3-14.6-6 14.6-6.3-13.3-2.9-42.3-2.3 23.1z" fill="#24409a"/>
<path d="M978.5 1053.9l6.3 3.6 6.4-6.6 2.5-15.9 2.2 17.4 2.2 7-6.3-6.2-6.3 5-2.4 3.3-2.3-2.6z" fill="#caeab4"/>
<path d="M1044.6 1016.4l6.7-21.9 6.3-.5 2.3 2.9 2.3-.4 2.3-3.9-6.6 12-5.9-27.1-2.5 15.8-2.5 18.4z" fill="#99d7b8"/>
<path d="M546.3 610.2l5.3-24.1 6.1 1.8 2.4-10.8 2.4-8 2.5-1.9-5.6 13.2-5.7 13.9-2.8-6.3-2 23.5z" fill="#102369"/>
<path d="M585 564.7l6.1 1.7 6.1 1.7 2.6-1.9 2.5-2 2.7 1.1-6.2-4.7-6 3.5-2.3 12-2.9-10z" fill="#091e5a"/>
<path d="M669.2 564.1l6.1 1.7 6.2 1.8 2.5-2 2.5-2 2.5-1.9-6.1-1.7-6 6.6-2.7-6.3-2.5 1.9z" fill="#081d58"/>
<path d="M881.9 1047.2l6.2-6.1 6.3-2.9 2.4 20.2 2.4-6.3 2.4-7.1-6.3-7.6-6.3-24.9-2.3 33.9-2.5-16.2z" fill="#c0e6b5"/>
<path d="M808.3 860.8l6.4 23.2 6.4 25.9 2.5 2.5 2.4 1.9 2.3-23.7-6.1 16.4-6.5-44.2-2.2 27-2.7-28.6z" fill="#42b6c4"/>
<path d="M856.8 1000.4l6.2 8.5 6.3 22.8 2.4-21.9 2.4 12.5 2.4-10.9-6.2 4.4-6.3-15.6-2.4 12.9-2.4-14.2z" fill="#a5dcb7"/>
<path d="M525.8 594.4l5.6-12.9 6.3 8.4 2.7-.9 3.6 34.5 2.3-13.3-6.8-24.9-5.8 6.7-2.4 7.7-3-9.6z" fill="#13266f"/>
<path d="M1171.4 875.1l7.5-43.5 6.5 1.7 1.7 17.9 2.5-14.5 2.1 4-6.1-13.2-7.5 42.9-1.2-40-2.3 6.2z" fill="#2da2c2"/>
<path d="M926.7 1041.9l6.1 33.7 6.4-17.1 2.4-4.9 2.4-16.6 2.3 14.4-6.4 27.7-6.2-19.1-2.4 7.8-2.3-17.6z" fill="#caeab4"/>
<path d="M565 567.2l6.2 4 6.7 21.8 2.3-12.8 2.8 9.6 2-25.1-5.8 9.9-6.4-12.7-2.6 1.4-2.4 8.1z" fill="#0c2060"/>
<path d="M998.1 1059.4l6.3 7.4 6.6-34.8 2.6-20.7 1.9 39.9 2.6-28.2-6.4 4.3-6.5 14.7-2.1-16.6-2.7 35.8z" fill="#bde5b5"/>
<path d="M617.1 565.7l6.2 1.7 6.1 1.7 2.6-2 2.8 14.1 2.2-18-6.1-1.7-6.1-.4-2.6 .7-2.4 7.1z" fill="#091e5a"/>
<path d="M701.4 565.1l6.1 1.7 6.2 1.7 2.5-2 2.5-1.9 2.5-2-6.2-1.7-6.1-1.7-2.5 2-2.5 1.9z" fill="#081d58"/>
<path d="M1145 891.6l7.1-27.3 6.2 9.2 2.3-5.6 1.7 21.2 3.4-49.9-7.2 34.7-6.3-5.9-3 34-2.1-4.8z" fill="#3cb1c3"/>
<path d="M426.5 738.4l4.7-31.4 6 .6 2.7-1.4 2.9 4.5 1.7-24.5-4.8 30.2-6.6-15.7-2.2 12.4-3.2-11.4z" fill="#2355a4"/>
<path d="M869.3 1031.7l6.3-14 6.3 29.5 2.3-17 2.5 16.2 2.3-33.9-6.2-21.3-6.3 20.2-2.4 10.9-2.4-12.5z" fill="#aedfb6"/>
<path d="M1191.7 840.7l6.7-10.6 2.3-3.6 2.8-21.6 1.7 18.2-6.3-8.7-2.5 13.3-2.6 17.2z" fill="#259ac1"/>
<path d="M774.6 713.9l6.4 13.5 6.1-5.3 2.7 21.9 2.3-17.8 2.3-18.8-6.3-8.5-6 12.9-2.8-31.3-2.3 22z" fill="#2356a4"/>
<path d="M1018.1 1023l6.3 4.9 6.5-14.6 2 24 2.7-35.4 1.8 45.3-5.9-40-6.6 19.3-2.5 18.2-2.2-5.1z" fill="#b2e1b6"/>
<path d="M472.7 685.2l6.2 4.3 5.1-24.9 1.6-32.3 2.5-5.5 3.6 26.6-6.3-7.6-5 30-2.3 10.7-3.6-27.5z" fill="#243c98"/>
<path d="M738.5 576.3l6.7 35.8 6.1-.7 2.5 .8 2.7 17 2.4-6.6-6.7-49-5.8 32.8-2.7-14.8-2.2 17.9z" fill="#162874"/>
<path d="M844.1 965.9l6.4 20.2 6.3 14.3 2.4-1.5 2.4 14.2 2.4-12.9-6.2 12.9-6.3-40.6-2.4 23.8-2.5-32.3z" fill="#92d5b9"/>
<path d="M498.8 626l5.6-11.4 6.2 5.3 2.5-6 2.4-8.8 3.5 26.6-7-29.2-4.5 46.7-2.9-7.7-2.4 6.3z" fill="#1d2e83"/>
<path d="M649.3 566.6l6.2 1.7 6.1 1.7 2.6-1.9 2.5-2 2.5-2-6.2-1.6-6.1-1.7-2.5 1.9-2.6 2z" fill="#081d58"/>
<path d="M779.8 736.2l6.4 14.1 6.3 21.3 2.6 11.8 2.3-24.1 2.5 3.4-6.2-2.3-6.6-38.3-2.3 17.1-2.8-36.1z" fill="#216bae"/>
<path d="M785.3 793l6.2-4.4 6.2 5 2.6 13 2.7 24.3 2.2-25.3-6.4-33.1-6.3-.9-2.4-1.6-2.7-21.3z" fill="#1e83ba"/>
<path d="M906.9 1044.7l6.3 18.6 6.3 3.6 2.3-1.9 2.4-6.5 2.5-16.6-6.4 18.2-6.2-4-2.4 11.4-2.4 18.1z" fill="#cbebb4"/>
<path d="M1118.4 913l6.5-2.4 6.6-10 2.1 5.7 2.2 .6 3-36.2-7.3 44.1-6.2-9.1-2.7 22.3-1.8-20.2z" fill="#4ebbc2"/>
<path d="M826.2 912.7l6.4 18.1 6.3 14.1 2.4-8.3 2.5 29.9 2.5-2.4-6.5-52.1-6.1 24.6-2.5-20.5-2.5 3z" fill="#63c3bf"/>
<path d="M681.5 567.6l6.2 1.7 6.2 1.7 2.5-2 2.5-2 2.5-1.9-6.2-1.7-6.2-1.7-2.5 1.9-2.5 2z" fill="#081d58"/>
<path d="M597.2 568.1l6.2 3.9 6.1-.5 2.5-1.9 2.9 10.6 2.2-14.5-6.1-1.7-6 1.3-2.7-1.1-2.5 2z" fill="#081d58"/>
<path d="M958.8 1066.5l6.4-17.4 6.2 18 2.5-10.9 2.4-14.5 2.2 12.2-6.3-1.2-6.1-28.9-2.5 30.5-2.4-.6z" fill="#c6e9b4"/>
<path d="M743.8 607.8l6.6 37.2 6.1-6.7 2.7 17.8 2.3-23.1 2.9 42.3-6.7-48.5-6.4-15.4-2.2 23.7-2.3 13.5z" fill="#21318d"/>
<path d="M939.2 1058.5l6.2 18.5 6.4-14.5 2.3 14.3 2.4-6.3 2.3-4-6.3-4-6.2-11.1-2.3-14.4-2.4 16.6z" fill="#cbebb4"/>
<path d="M577.9 593l6-.6 5.6-18.4 2.6-2 2.6-1.9 2.5-2-6.1-1.7-6.1-1.7-2 25.1-2.8-9.6z" fill="#0b1f5e"/>
<path d="M713.7 568.5l6.3 5.1 6.2 4.1 2.4-7.7 2.5-2 2.5-2-6.2-1.7-6.2-1.7-2.5 2-2.5 1.9z" fill="#081d58"/>
<path d="M813.9 922.8l6.1-14.7 6.2 4.6 2.5 6.4 2.5-3 2.5 20.5-6.4-24.8-6.2-1.9-2.4 .5-2.4 3.9z" fill="#53bdc1"/>
<path d="M629.4 569.1l6.4 10.7 5.9-7.3 2.6-2 2.5-1.9 2.5-2-6.1-1.7-6.2-1.7-2.2 18-2.8-14.1z" fill="#091e5a"/>
<path d="M726.2 577.7l6.2 1.4 6.1-2.8 3 33.2 2.2-17.9 2.7 14.8-6.6-38.7-6.2-1.7-2.5 2-2.5 2z" fill="#0d2161"/>
<path d="M991.2 1050.9l6.1 30.3 6.7-40.5 2.2 11.6 2.5-14.7 2.3-5.6-6.6 34.8-6.3-7.4-2.2-7-2.2-17.4z" fill="#c4e8b4"/>
<path d="M1091 977.7l7.3-49.1 6.3 5.7 2.5-15 2.4-9.1 1.7 30.7-6-23.3-6.7 17.8-2.3 5.7-2.2-4.8z" fill="#61c2bf"/>
<path d="M444.5 686.2l5.9-4.8 5-24.5 3 7.6 3.3 13.5 2.7 .8-5.5 12.5-5 26.6-2.9-5.7-3.8-26.7z" fill="#24479d"/>
<path d="M417.6 720.9l6.2 6.5 5.2-19.7 3.7 23.3 1.3-34.8 3.2 11.4-6-.6-4.7 31.4-2.9-4.9-3-4.4z" fill="#2258a5"/>
<path d="M537.7 589.9l5.7-12.6 6.6 15.6 2.2-14.9 2.9 11.7 2.6-1.8-6.1-1.8-5.3 24.1-2.3 13.3-3.6-34.5z" fill="#102369"/>
<path d="M661.6 570l6.2 1.7 6.2 1.7 2.5-1.9 2.5-1.5 2.5-2.4-6.2-1.8-6.1-1.7-2.5 2-2.5 2z" fill="#081d58"/>
<path d="M862.1 1042.9l6.3-5.8 6.2-7.8 2.4 18.1 2.4-13.5 2.5 13.3-6.3-29.5-6.3 14-2.4-16.5-2.4 5z" fill="#b2e1b6"/>
<path d="M1064.5 992.6l7-43.9 6.6-8.1 1.6 36.7 2.7-20.8 2 13.3-6.4-.9-6.4 1.2-2-17.4-2.8 38.5z" fill="#78cbbc"/>
<path d="M1185.4 833.3l6.4-1.1 2.6-12.9 1.5 23.3 2.5-12.5-6.7 10.6-2.1-4-2.5 14.5z" fill="#289cc1"/>
<path d="M874.6 1029.3l6.3 12.9 6.3 .9 2.4 17.7 2.4 10.5 2.4-33.1-6.3 2.9-6.2 6.1-2.5-13.3-2.4 13.5z" fill="#bde5b5"/>
<path d="M795.6 825.4l6.5 26.4 6.2 9 2.5 .4 2.7 28.6 2.2-27-6.2-.8-6.4-30.8-2.2 32.3-2.7-30z" fill="#2fa4c2"/>
<path d="M761.7 657.9l6.2 3.2 6.7 52.8 2.4-11.4 2.3-22 2.8 31.3-6.3-12.2-6.6-35.4-2.5-2.1-2.4 4.8z" fill="#24449c"/>
<path d="M1165.7 839.2l5.9 24.8 6.5-2.4 2.8-23.8 2 6.7 2.5-11.2-6.5-1.7-7.5 43.5-1.9-9.3-1.5-32.1z" fill="#2ca1c2"/>
<path d="M831.5 934.6l6.5 45 6.1-13.7 2.5-1.9 2.5 32.3 2.4-23.8-6.2 4.8-6.4-32.4-2.4 12.8-2.6-31.9z" fill="#75c9bd"/>
<path d="M1037.4 1047.2l7-52.8 6.1 17.8 3.1-54.7 1.9 24.1 2.1 12.4-6.3 .5-6.7 21.9-1.7-46.4-3.1 64.4z" fill="#95d5b9"/>
<path d="M693.9 571l6.1 1.7 6.2 1.7 2.5-2 2.5-1.9 2.5-2-6.2-1.7-6.1-1.7-2.5 1.9-2.5 2z" fill="#081d58"/>
<path d="M801 869.7l6.6 44.7 6.3 8.4 2.4-8.5 2.4-3.9 2.4-.5-6.4-25.9-6.4-23.2-2.4 5.3-2.4 9.4z" fill="#40b5c4"/>
<path d="M609.5 571.5l6.1 1.7 6.2 1.7 2.5-1.9 2.6 .2 2.5-4.1-6.1-1.7-6.2-1.7-2.2 14.5-2.9-10.6z" fill="#081d58"/>
<path d="M849.6 1028.3l6.2-9.3 6.3 23.9 2.4-22.7 2.4-5 2.4 16.5-6.3-22.8-6.2-8.5-2.5-20.1-2.4 22.4z" fill="#a2dbb8"/>
<path d="M519 631.7l5-33.5 6.4 12.9 1.9-25.2 2.6-1.4 2.8 5.4-6.3-8.4-5.6 12.9-2.4 8.6-2.7 .1z" fill="#12256d"/>
<path d="M557.7 587.9l5.8-11.6 6.1 .2 2.5-2 2.6-2 3.2 20.5-6.7-21.8-6.2-4-2.5 1.9-2.4 8z" fill="#0a1e5c"/>
<path d="M731.5 613.2l6-13.7 6.3 8.3 3 40.8 2.3-13.5 2.2-23.7-6.1 .7-6.7-35.8-2.2 24.6-2.4 5.5z" fill="#172976"/>
<path d="M919.5 1066.9l6.3-32 6.2 42.4 2.5-21.3 2.3 2.7 2.4-.2-6.4 17.1-6.1-33.7-2.5 16.6-2.4 6.5z" fill="#c8e9b4"/>
<path d="M790.4 801.9l6.2-1.7 6.5 31 2.5 12.4 2.4-11.3 2.4-11.7-6.5-34.6-6.2 7.6-2.3 11.7-2.6-13.7z" fill="#1d8ebf"/>
<path d="M951.8 1062.5l6.3 2.7 6.4-15.2 2.4-5.6 2.1 33.2 2.4-10.5-6.2-18-6.4 17.4-2.3 4-2.4 6.3z" fill="#c9eab4"/>
<path d="M767.2 714.9l6.1-9 6.5 30.3 2.2-33.1 2.8 36.1 2.3-17.1-6.1 5.3-6.4-13.5-2.7-22.1-2.2 19.4z" fill="#2355a4"/>
<path d="M772.5 751l6.4 18.2 6.4 23.8 2.1-44.3 2.7 21.3 2.4 1.6-6.3-21.3-6.4-14.1-2.3 16.8-2.9-38.1z" fill="#216bae"/>
<path d="M641.7 572.5l6.2 1.7 6.1 1.7 2.6-2 2.5-1.9 2.5-2-6.1-1.7-6.2-1.7-2.5 2-2.5 1.9z" fill="#081d58"/>
<path d="M971.4 1067.1l6.6-26 6.3 1.3 2.2 18.8 2.4-16.3 2.3 6-6.4 6.6-6.3-3.6-2.2-12.2-2.4 14.5z" fill="#c2e7b4"/>
<path d="M464.4 678.8l6-.6 3.6-68 4.7 58.4 1.8-27.3 3.5 23.3-5.1 24.9-6.2-4.3-3.5-21.3-2.5 5.1z" fill="#253997"/>
<path d="M1138.8 870.7l6 21.6 7-25.1 2.2-.1 2.3-2.6 2 9-6.2-9.2-7.1 27.3-2-8.3-2.5 13.9z" fill="#39adc3"/>
<path d="M887.2 1043.1l6.3 2.7 6.2 6.5 2.4-9.5 2.4 .7 2.4 1.2-6.3 34.5-6.2-41-2.4 33.1-2.4-10.5z" fill="#c2e7b4"/>
<path d="M1111.2 940.9l6.7-13.9 7.2-41.9 1.8 21.4 2.7-21.8 1.9 15.9-6.6 10-6.5 2.4-2.5 16.1-2.1-6.4z" fill="#4cbac2"/>
<path d="M674 573.4l6.1 1.7 6.2 1.7 2.5-1.9 2.5-2 2.6-1.9-6.2-1.7-6.2-1.7-2.5 2.4-2.5 1.5z" fill="#081d58"/>
<path d="M621.8 574.9l6.1 1.8 6.2 1.7 3 20.4 2.1-24.4 2.5-1.9-5.9 7.3-6.4-10.7-2.5 4.1-2.6-.2z" fill="#091e5a"/>
<path d="M1084.4 969.8l6.8-26.3 6.6-7.6 2.3-4.3 2 12.5 2.5-9.8-6.3-5.7-7.3 49.1-1.3-52.3-2.9 34.6z" fill="#65c3bf"/>
<path d="M589.5 574l6.2 1.7 6.1 1.7 2.6-2 2.5-1.9 2.6-2-6.1 .5-6.2-3.9-2.5 2-2.6 1.9z" fill="#081d58"/>
<path d="M777.7 775l6.6 38.5 6.1-11.6 2.4-10.3 2.6 13.7 2.3-11.7-6.2-5-6.2 4.4-2.7-26-2.4 6.3z" fill="#1f80b8"/>
<path d="M749.3 662.3l6.2 2.2 6.2-6.6 2.6 9 2.4-4.8 2.5 2.1-6 18.7-6.7-44.6-2.5-5-2.4 8.3z" fill="#253595"/>
<path d="M1011 1032l6.3 13.1 6.6-25.3 2.3 3.7 2.4-12 2.3 1.8-6.5 14.6-6.3-4.9-2.6 28.2-1.9-39.9z" fill="#a9ddb7"/>
<path d="M706.2 574.4l6.2 1.7 6.2 1.7 2.5-2 2.5-1.9 2.6 3.8-6.2-4.1-6.3-5.1-2.5 2-2.5 1.9z" fill="#081d58"/>
<path d="M932 1077.3l6.4-21.4 6.3 8.5 2.3 15.1 2.3 3 2.5-20-6.4 14.5-6.2-18.5-2.4 .2-2.3-2.7z" fill="#caeab4"/>
<path d="M718.6 577.8l6.4 15.5 6.5 19.9 2.4-6.8 2.4-5.5 2.2-24.6-6.1 2.8-6.2-1.4-2.6-3.8-2.5 1.9z" fill="#0d2161"/>
<path d="M806.2 883.2l6.6 51.3 6.3 6.7 2.3-15 2.6 18.9 2.2-32.4-6.2-4.6-6.1 14.7-2.5 .4-2.5-4.6z" fill="#53bdc1"/>
<path d="M491.7 653.4l5.1-26.2 5.6-12.8 3 10.1 2.3-11.3 2.9 6.7-6.2-5.3-5.6 11.4-3-8-2.6 2z" fill="#192b7c"/>
<path d="M819.1 941.2l6.2-4.1 6.2-2.5 2.4-8.8 2.6 31.9 2.4-12.8-6.3-14.1-6.4-18.1-2.2 32.4-2.6-18.9z" fill="#5dc0c0"/>
<path d="M836.9 982.8l6.3 17.2 6.4 28.3 2.3-25.6 2.4-22.4 2.5 20.1-6.3-14.3-6.4-20.2-2.4 6.8-2.4-6.3z" fill="#87d0ba"/>
<path d="M569.6 576.5l6.2 6.8 6-3.4 2.6-1.4 2.6-2.6 2.5-1.9-5.6 18.4-6 .6-3.2-20.5-2.6 2z" fill="#0a1e5c"/>
<path d="M1030.9 1013.3l6.3 7.5 6.9-39.1 2 17.8 2.3 2.5 2.1 10.2-6.1-17.8-7 52.8-1.8-45.3-2.7 35.4z" fill="#99d7b8"/>
<path d="M510.6 619.9l5.5-18.5 6 .5 3.1 11 2.3-11.7 2.9 9.9-6.4-12.9-5 33.5-3.5-26.6-2.4 8.8z" fill="#142670"/>
<path d="M654 575.9l6.2 1.7 6.2 1.7 2.5-1.9 2.5-2 2.6-2-6.2-1.7-6.2-1.7-2.5 2-2.5 1.9z" fill="#081d58"/>
<path d="M854.8 1038.1l6.3 12.7 6.3 9.2 2.4-19.6 2.4-13.5 2.4 2.4-6.2 7.8-6.3 5.8-2.4-7.5-2.5-2.2z" fill="#b2e1b6"/>
<path d="M754.5 684.9l6.3 7.5 6.4 22.5 2.5-3.7 2.2-19.4 2.7 22.1-6.7-52.8-6.2-3.2-2.2 30-2.5-3.1z" fill="#24459c"/>
<path d="M437.2 707.6l6.6 16.3 3.9-54.4 2.8 .1 3 7.6 1.9-20.3-5 24.5-5.9 4.8-1.7 24.5-2.9-4.5z" fill="#24449c"/>
<path d="M736.6 638.1l6.3 5.4 6.4 18.8 2.3-20.7 2.4-8.3 2.5 5-6.1 6.7-6.6-37.2-2.4 11.5-2.4 7.7z" fill="#1d2e83"/>
<path d="M1178.1 861.6l6.9-18.9 2.5-13 1.6 24.6 2.7-22.1-6.4 1.1-2.5 11.2-2-6.7z" fill="#269bc1"/>
<path d="M1158.3 873.5l6.7-12 7-19.9 2.3-3.7 2.5-13.5 1.3 37.2-6.5 2.4-5.9-24.8-3.4 49.9-1.7-21.2z" fill="#2da2c2"/>
<path d="M842.2 1013.1l6.3 3 6.3 22 2.4-4.9 2.5 2.2 2.4 7.5-6.3-23.9-6.2 9.3-2.6-31.4-2.4 6.9z" fill="#a2dbb8"/>
<path d="M793.8 897.5l6.3 7.1 6.1-21.4 2.7 35.4 2.5 4.6 2.5-.4-6.3-8.4-6.6-44.7-2.4 4-2.3 20.7z" fill="#40b5c4"/>
<path d="M867.4 1060l6.3-8.5 6.3 23.8 2.4-11.4 2.4 15.7 2.4-36.5-6.3-.9-6.3-12.9-2.4-2.4-2.4 13.5z" fill="#bde5b5"/>
<path d="M550 592.9l5.7-10.4 6.6 19 2.1-20 2.6-3.1 2.6-1.9-6.1-.2-5.8 11.6-2.6 1.8-2.9-11.7z" fill="#0b1f5e"/>
<path d="M686.3 576.8l6.2 1.8 6.2 1.7 2.5-2 2.5-2 2.5-1.9-6.2-1.7-6.1-1.7-2.6 1.9-2.5 2z" fill="#081d58"/>
<path d="M899.7 1052.3l6.3-8.8 6.3 25.6 2.4-.7 2.4-13 2.4 11.5-6.3-3.6-6.3-18.6-2.4-1.2-2.4-.7z" fill="#c0e6b5"/>
<path d="M1057.6 994l6.7-19.5 6.6-13 2.4-6.5 2.4-7.1 2.4-7.3-6.6 8.1-7 43.9-2.3 3.9-2.3 .4z" fill="#76cabc"/>
<path d="M782.9 800l6.4 15.8 6.3 9.6 2.6 8.1 2.7 30 2.2-32.3-6.5-31-6.2 1.7-2.4 6.3-2.4 12.3z" fill="#1d91c0"/>
<path d="M984.3 1042.4l6.3-.6 6.3 15.5 2.2 10.3 2.7-36 2.2 9.1-6.7 40.5-6.1-30.3-2.3-6-2.4 16.3z" fill="#bde5b5"/>
<path d="M601.8 577.4l6.2 1.7 6.1 1.7 2.6-1.9 2.5-2 2.6-2-6.2-1.7-6.1-1.7-2.6 2-2.5 1.9z" fill="#081d58"/>
<path d="M944.7 1064.4l6.2 23.1 6.3-4 2.6-42.1 2.1 59 2.6-50.4-6.4 15.2-6.3-2.7-2.5 20-2.3-3z" fill="#caeab4"/>
<path d="M634.1 578.4l6.2 1.7 6.1 1.7 2.6-2 2.5-1.9 2.5-2-6.1-1.7-6.2-1.7-2.5 1.9-2.1 24.4z" fill="#091e5a"/>
<path d="M788.4 852.3l6.5 30.2 6.1-12.8 2.5 5.8 2.4-9.4 2.4-5.3-6.2-9-6.5-26.4-2.4 9.3-2.3 18.5z" fill="#2da2c2"/>
<path d="M824.3 963.7l6.3 17.6 6.3 1.5 2.4-16.4 2.4 6.3 2.4-6.8-6.1 13.7-6.5-45-2.3 19.2-2.6-16.8z" fill="#71c8bd"/>
<path d="M723.7 597.2l6.4 14.4 6.5 26.5 2.4-11.1 2.4-7.7 2.4-11.5-6.3-8.3-6 13.7-2.5 2.4-2.5 2.2z" fill="#152772"/>
<path d="M530.4 611.1l5.3-26 6.2 5.3 2.5-5.6 3.2 16.8 2.4-8.7-6.6-15.6-5.7 12.6-2.8-5.4-2.6 1.4z" fill="#0d2161"/>
<path d="M759.7 715.1l6.2 .7 6.6 35.2 2.1-36.1 2.9 38.1 2.3-16.8-6.5-30.3-6.1 9-2.5 2.3-2.7-25.4z" fill="#2354a3"/>
<path d="M964.5 1050l6.2 19.8 6.5-19.5 2.2 15.7 2.4-3.4 2.5-20.2-6.3-1.3-6.6 26-2.4 10.5-2.1-33.2z" fill="#c0e6b5"/>
<path d="M880 1075.3l6.2-35.7 6.3 17.6 2.4 6.3 2.4 9.2 2.4-20.4-6.2-6.5-6.3-2.7-2.4 36.5-2.4-15.7z" fill="#c2e7b4"/>
<path d="M764.9 742.9l6.2-8.8 6.6 40.9 2.5-1.7 2.4-6.3 2.7 26-6.4-23.8-6.4-18.2-2.5 1.7-2.6-9.4z" fill="#216aad"/>
<path d="M912.3 1069.1l6.3-9.4 6.3 11.6 2.4-3.3 2.4-8.3 2.3 17.6-6.2-42.4-6.3 32-2.4-11.5-2.4 13z" fill="#c4e8b4"/>
<path d="M741.7 658l6.4 10.8 6.4 16.1 2.5-.1 2.5 3.1 2.2-30-6.2 6.6-6.2-2.2-2.5-1.8-2.9-26z" fill="#253795"/>
<path d="M666.4 579.3l6.2 1.7 6.2 1.7 2.5-1.9 2.5-2 2.5-2-6.2-1.7-6.1-1.7-2.6 2-2.5 2z" fill="#081d58"/>
<path d="M562.3 601.5l6.1-.3 5.7-15.4 3.1 16 3 16.7 1.6-38.6-6 3.4-6.2-6.8-2.6 1.9-2.6 3.1z" fill="#0d2161"/>
<path d="M829.6 983.7l6.2 6.4 6.4 23 2.4-9.3 2.4-6.9 2.6 31.4-6.4-28.3-6.3-17.2-2.4 10.5-2.4 4.2z" fill="#8cd2ba"/>
<path d="M711.3 594l6-8.6 6.4 11.8 2.8 20.6 2.5-2.2 2.5-2.4-6.5-19.9-6.4-15.5-2.5 2-2.5 1.9z" fill="#0d2163"/>
<path d="M484 664.6l4.7-38.9 6-1.6 2.5-4.3 2.9 5.7 2.3-11.1-5.6 12.8-5.1 26.2-3.6-26.6-2.5 5.5z" fill="#1a2b7e"/>
<path d="M581.8 579.9l6.2 1.7 6.1 1.7 2.6-2 2.6-1.9 2.5-2-6.1-1.7-6.2-1.7-2.5 1.9-2.6 2.6z" fill="#081d58"/>
<path d="M1131.5 900.6l6.9-19.2 6.7-14.2 2.7-21.6 1.8 19.2 2.2 2.4-7 25.1-6-21.6-3 36.2-2.2-.6z" fill="#36abc3"/>
<path d="M698.7 580.3l6.2 1.7 6.4 12 2.3-12.3 2.5-1.9 2.5-2-6.2-1.7-6.2-1.7-2.5 1.9-2.5 2z" fill="#081d58"/>
<path d="M1078.1 940.6l6 21.6 6.6-9.7 2.5-12.7 2.4-8.9 2.2 5-6.6 7.6-6.8 26.3-2-13.3-2.7 20.8z" fill="#65c3bf"/>
<path d="M429 707.7l6.7 17.4 4.6-35.5 2.4-9 2.4-7.8 2.6-3.3-3.9 54.4-6.6-16.3-3.2-11.4-1.3 34.8z" fill="#24489d"/>
<path d="M1004 1040.7l6.6-24.8 6.3 10.7 2.6-23.9 2 22.7 2.4-5.6-6.6 25.3-6.3-13.1-2.3 5.6-2.5 14.7z" fill="#a5dcb7"/>
<path d="M614.1 580.8l6.2 1.8 6.2 1.7 2.5-2 2.6-2 2.5-1.9-6.2-1.7-6.1-1.8-2.6 2-2.5 2z" fill="#081d58"/>
<path d="M729 634.7l6.6 24.3 6.1-1 2.2-23.5 2.9 26 2.5 1.8-6.4-18.8-6.3-5.4-2.9-28.7-1.9 41.9z" fill="#1f2f87"/>
<path d="M811.5 915.6l6.4 25.5 6.4 22.6 2.3-26.7 2.6 16.8 2.3-19.2-6.2 2.5-6.2 4.1-2.6-14.4-2.3 18.3z" fill="#5bc0c0"/>
<path d="M1104.6 934.3l7-33.6 6.1 18.2 2.9-32 2.2 1.7 2.3-3.5-7.2 41.9-6.7 13.9-1.7-30.7-2.4 9.1z" fill="#46b8c3"/>
<path d="M924.9 1071.3l6.2 31.6 6.5-50.6 2.3 16.8 2.4 9.6 2.4-14.3-6.3-8.5-6.4 21.4-2.3-17.6-2.4 8.3z" fill="#c8e9b4"/>
<path d="M799 914.3l6.5 37.1 6-35.8 2.7 29.5 2.3-18.3 2.6 14.4-6.3-6.7-6.6-51.3-2.2 44.6-2.6-21z" fill="#50bbc2"/>
<path d="M817 980.9l6.2-16.2 6.4 19 2.5 13.8 2.4-4.2 2.4-10.5-6.3-1.5-6.3-17.6-2.4 5.3-2.5-7z" fill="#78cbbc"/>
<path d="M646.4 581.8l6.2 1.7 6.2 1.7 2.5-1.9 2.6-2 2.5-2-6.2-1.7-6.2-1.7-2.5 2-2.5 1.9z" fill="#081d58"/>
<path d="M541.9 590.4l6-3.8 6.2 4.7 2.8 3.6 2.9 9.4 2.5-2.8-6.6-19-5.7 10.4-2.4 8.7-3.2-16.8z" fill="#0c2060"/>
<path d="M455.4 656.9l6.8 21.2 5.1-26.4 2.3-11.5 3.5 22.9 .9-52.9-3.6 68-6 .6-2.7-.8-3.3-13.5z" fill="#243392"/>
<path d="M781.1 866.8l6.2 2.8 6.5 27.9 2.5-3.1 2.3-20.7 2.4-4-6.1 12.8-6.5-30.2-2.6-14.6-2.5 2.4z" fill="#2fa4c2"/>
<path d="M770.1 758.7l6.4 16 6.4 25.3 2.7 20.5 2.4-12.3 2.4-6.3-6.1 11.6-6.6-38.5-2.6-12.3-2.4 7.9z" fill="#1f7ab5"/>
<path d="M678.8 582.7l6.2 1.8 6.2 1.7 2.5-2 2.5-2 2.5-1.9-6.2-1.7-6.2-1.8-2.5 2-2.5 2z" fill="#081d58"/>
<path d="M786.6 918.7l6.2 2.1 6.2-6.5 2.4-7.5 2.6 21 2.2-44.6-6.1 21.4-6.3-7.1-2.5-9-2.4 8.3z" fill="#40b5c4"/>
<path d="M746.6 658.1l6.6 27.7 6.5 29.3 2.3-23.3 2.7 25.4 2.5-2.3-6.4-22.5-6.3-7.5-2.7-16.5-2.2 32.7z" fill="#24439b"/>
<path d="M834.8 1009.2l6.4 27 6.3-12.1 2.5 19.1 2.4-7.4 2.4 2.3-6.3-22-6.3-3-2.4-2.7-2.3 35.3z" fill="#a0dab8"/>
<path d="M594.1 583.3l6.2 1.7 6.1 1.8 2.6-2 2.6-2 2.5-2-6.1-1.7-6.2-1.7-2.5 2-2.6 1.9z" fill="#081d58"/>
<path d="M892.5 1057.2l6.3 13 6.3-3.1 2.4-10.5 2.4-10.5 2.4 23-6.3-25.6-6.3 8.8-2.4 20.4-2.4-9.2z" fill="#bde5b5"/>
<path d="M522.1 601.9l6-3.5 6.2 2.5 2.3-11 2.6-3.1 2.7 3.6-6.2-5.3-5.3 26-2.9-9.9-2.3 11.7z" fill="#0d2163"/>
<path d="M1050.5 1012.2l7-39.7 6.6-14.2 2.4-3.2 1.9 23.9 2.5-17.5-6.6 13-6.7 19.5-2.1-12.4-1.9-24.1z" fill="#73c8bd"/>
<path d="M775.4 789.9l6.7 55.9 6.3 6.5 2.5 .9 2.3-18.5 2.4-9.3-6.3-9.6-6.4-15.8-2.4 4.5-2.5 4z" fill="#1d8ebf"/>
<path d="M502.4 614.4l6.3 7 5.1-28.1 2.7-2 2.6-2 3 12.6-6-.5-5.5 18.5-2.9-6.7-2.3 11.3z" fill="#102369"/>
<path d="M1151.8 867.2l6.6-5.3 6.4 1.3 2.5-10.5 3.1-38.6 1.6 27.5-7 19.9-6.7 12-2-9-2.3 2.6z" fill="#2a9ec1"/>
<path d="M574.1 585.8l6.1 1.7 6.2 1.7 2.6-1.9 2.5-2 2.6-2-6.1-1.7-6.2-1.7-1.6 38.6-3-16.7z" fill="#0a1e5c"/>
<path d="M977.2 1050.3l6.2 22 6.5-17.8 2.4-8.1 2.3 8.4 2.3 2.5-6.3-15.5-6.3 .6-2.5 20.2-2.4 3.4z" fill="#b9e4b5"/>
<path d="M626.5 584.3l6.1 1.7 6.2 1.7 2.5-2 2.6-1.9 2.5-2-6.1-1.7-6.2-1.7-2.5 1.9-2.6 2z" fill="#081d58"/>
<path d="M957.2 1083.5l6.6-41.1 6.2 22.2 2.4 1.4 2.3 1.4 2.5-17.1-6.5 19.5-6.2-19.8-2.6 50.4-2.1-59z" fill="#c0e6b5"/>
<path d="M847.5 1024.1l6.3 18 6.2-18.4 2.4-11.9 2.5 25.7 2.5 22.5-6.3-9.2-6.3-12.7-2.4-2.3-2.4 7.4z" fill="#a7dcb7"/>
<path d="M1023.9 1019.8l6.3 5.7 7.1-54.6 1.8 37.4 2.6-20.7 2.4-5.9-6.9 39.1-6.3-7.5-2.3-1.8-2.4 12z" fill="#8cd2ba"/>
<path d="M716.1 597.2l6.7 35.4 6.2 2.1 2.8 16.6 1.9-41.9 2.9 28.7-6.5-26.5-6.4-14.4-2.7-8.1-2.1 26.9z" fill="#142670"/>
<path d="M1172 841.6l6.4 1.8 2.5-14.2 2.1 5 2 8.5-6.9 18.9-1.3-37.2-2.5 13.5z" fill="#2296c1"/>
<path d="M658.8 585.2l6.2 1.7 6.2 1.8 2.5-2 2.5-2 2.6-2-6.2-1.7-6.2-1.7-2.5 2-2.6 2z" fill="#081d58"/>
<path d="M937.6 1052.3l6.3 8.5 6.3 13.5 2.3 7.5 2.4-8.3 2.3 10-6.3 4-6.2-23.1-2.4 14.3-2.4-9.6z" fill="#c6e9b4"/>
<path d="M822.3 1001.9l6.3 17.4 6.2-10.1 2.7 36.5 2.3-35.3 2.4 2.7-6.4-23-6.2-6.4-2.4 23.6-2.6-28.3z" fill="#8cd2ba"/>
<path d="M860 1023.7l6.4 23.2 6.3 25.8 2.4-19.5 2.4 3.8 2.5 18.3-6.3-23.8-6.3 8.5-2.5-22.5-2.5-25.7z" fill="#b2e1b6"/>
<path d="M691.2 586.2l6.2 1.7 6.3 9.3 2.4-9.5 2.5-2 2.7 8.3-6.4-12-6.2-1.7-2.5 1.9-2.5 2z" fill="#081d58"/>
<path d="M1125.1 885.1l6.5 .5 6.4 0 2.5-12.3 1.8 21.2 2.8-27.3-6.7 14.2-6.9 19.2-1.9-15.9-2.7 21.8z" fill="#36abc3"/>
<path d="M872.7 1072.7l6.3-19.8 6.3 2.3 2.4 15.1 2.4 18.8 2.4-31.9-6.3-17.6-6.2 35.7-2.5-18.3-2.4-3.8z" fill="#bde5b5"/>
<path d="M554.1 591.3l6.1-1.3 6.1 1.7 2.6-2 2.6-1.9 2.6-2-5.7 15.4-6.1 .3-2.5 2.8-2.9-9.4z" fill="#0b1f5e"/>
<path d="M773.6 862.7l6.3 14 6.7 42 2.3-21.9 2.4-8.3 2.5 9-6.5-27.9-6.2-2.8-2.6-8.3-2.4 9.4z" fill="#33a7c2"/>
<path d="M905.1 1067.1l6.3-6.2 6.3 13.3 2.4-1.8 2.4 2.4 2.4-3.5-6.3-11.6-6.3 9.4-2.4-23-2.4 10.5z" fill="#c0e6b5"/>
<path d="M752.1 708.6l6.1-12 6.7 46.3 2.5 .4 2.6 9.4 2.5-1.7-6.6-35.2-6.2-.7-2.8-23.4-2.4 5.5z" fill="#2350a1"/>
<path d="M734.2 661.7l6.4 16.1 6-19.7 3 43 2.2-32.7 2.7 16.5-6.4-16.1-6.4-10.8-2.5-1.9-2.9-26.3z" fill="#243392"/>
<path d="M606.4 586.8l6.2 1.7 6.2 1.7 2.5-2 2.6-2 2.6-1.9-6.2-1.7-6.2-1.8-2.5 2-2.6 2z" fill="#081d58"/>
<path d="M804.1 917.9l6.4 22.7 6.5 40.3 2.4-18.9 2.5 7 2.4-5.3-6.4-22.6-6.4-25.5-2.3 18.4-2.5-1.4z" fill="#5bc0c0"/>
<path d="M1097.8 935.9l7-31.8 6.5-.7 2.3-6.2 2.3-1.1 1.8 22.8-6.1-18.2-7 33.6-2.5 9.8-2-12.5z" fill="#44b7c4"/>
<path d="M638.8 587.7l6.2 1.7 6.2 1.8 2.5-2 2.6-2 2.5-2-6.2-1.7-6.2-1.7-2.5 2-2.6 1.9z" fill="#081d58"/>
<path d="M703.7 597.2l6.1-5.8 6.3 5.8 2.8 18.8 2.1-26.9 2.7 8.1-6.4-11.8-6 8.6-2.7-8.3-2.5 2z" fill="#0a1e5c"/>
<path d="M474 610.2l7.1 31.2 4.9-32.8 2.4-8.9 3.3 17.9 3 6.5-6 1.6-4.7 38.9-3.5-23.3-1.8 27.3z" fill="#172978"/>
<path d="M917.7 1074.2l6.4-11.6 6.3 10.8 2.4-5.7 2.3 22.7 2.5-38.1-6.5 50.6-6.2-31.6-2.4 3.5-2.4-2.4z" fill="#c6e9b4"/>
<path d="M791.7 929.3l6.2-3.5 6.2-7.9 2.6 14.7 2.5 1.4 2.3-18.4-6 35.8-6.5-37.1-2.3 20.6-2.6-7.1z" fill="#4cbac2"/>
<path d="M996.9 1057.3l6.5-16 6.6-21.9 2.5-20.5 2.2 16 2.2 11.7-6.3-10.7-6.6 24.8-2.2-9.1-2.7 36z" fill="#a0dab8"/>
<path d="M671.2 588.7l6.2 1.7 6.2 1.7 2.5-2 2.5-1.9 2.6-2-6.2-1.7-6.2-1.8-2.6 2-2.5 2z" fill="#081d58"/>
<path d="M809.5 964l6.4 20 6.4 17.9 2.3-22.9 2.6 28.3 2.4-23.6-6.4-19-6.2 16.2-2.5-11.6-2.4 5.6z" fill="#75c9bd"/>
<path d="M1070.9 961.5l6.4 4.6 6.5-9.4 2.8-27.5 2.5-14.3 1.6 37.6-6.6 9.7-6-21.6-2.4 7.3-2.4 7.1z" fill="#5bc0c0"/>
<path d="M885.3 1055.2l6.3-8.9 6.3 17.7 2.4 4.7 2.4 12.7 2.4-14.3-6.3 3.1-6.3-13-2.4 31.9-2.4-18.8z" fill="#bde5b5"/>
<path d="M586.4 589.2l6.2 1.8 6.1 1.7 2.6-2 2.6-2 2.5-1.9-6.1-1.8-6.2-1.7-2.6 2-2.5 2z" fill="#081d58"/>
<path d="M840.2 1043.2l6.4 37.4 6.3-3 2.4-8.7 2.3-26.2 2.4-19-6.2 18.4-6.3-18-2.4 23.1-2.5-20.6z" fill="#aedfb6"/>
<path d="M757.3 735.7l6.5 23 6.3 0 2.6 11.9 2.4-7.9 2.6 12.3-6.6-40.9-6.2 8.8-2.5-.9-2.6-7.7z" fill="#225da8"/>
<path d="M778.9 901.4l6.2-6 6.6 33.9 2.4-1.5 2.6 7.1 2.3-20.6-6.2 6.5-6.2-2.1-3.1-58.7-2.2 30.9z" fill="#3eb3c4"/>
<path d="M950.2 1074.3l6.2 22.3 6.5-18.9 2.4-11.2 2.3 6.2 2.4-8.1-6.2-22.2-6.6 41.1-2.3-10-2.4 8.3z" fill="#c4e8b4"/>
<path d="M739.3 681l6.6 26.8 6.2 .8 2.4-11.4 2.4-5.5 2.8 23.4-6.5-29.3-6.6-27.7-2.1 36.2-2.1 31z" fill="#24419a"/>
<path d="M494.7 624.1l5.3-23 6-1.9 3.4 21.6 2.5-3.7 1.9-23.8-5.1 28.1-6.3-7-2.3 11.1-2.9-5.7z" fill="#102369"/>
<path d="M447.7 669.5l5.6-13.5 5.1-23.6 3.1 9.4 3.5 21.9 2.3-12-5.1 26.4-6.8-21.2-1.9 20.3-3-7.6z" fill="#21308b"/>
<path d="M534.3 600.9l5.8-8.4 6.1 1.7 2.6-2 2.6-1.9 2.7 1-6.2-4.7-6 3.8-2.7-3.6-2.6 3.1z" fill="#091e5a"/>
<path d="M1044.1 981.7l6.4 2 6.6-16.1 2.4-4.1 2.4-7.6 2.2 2.4-6.6 14.2-7 39.7-2.1-10.2-2.3-2.5z" fill="#73c8bd"/>
<path d="M618.8 590.2l6.2 1.7 6.1 1.7 2.6-1.9 2.6-2 2.5-2-6.2-1.7-6.1-1.7-2.6 1.9-2.6 2z" fill="#081d58"/>
<path d="M970 1064.6l6.4-2.4 6.5-13 2.3 5.6 2.2 13.8 2.5-14.1-6.5 17.8-6.2-22-2.5 17.1-2.3-1.4z" fill="#b7e3b6"/>
<path d="M768.2 822.1l6.2-.2 6.7 44.9 2.2-26.7 2.5-2.4 2.6 14.6-6.3-6.5-6.7-55.9-2.3 22.8-2.8-22.3z" fill="#1d8dbe"/>
<path d="M721.2 617.5l6.5 18.2 6.5 26 2.1-31.9 2.9 26.3 2.5 1.9-6.1 1-6.6-24.3-2.5-1.2-2.9-21.1z" fill="#192b7c"/>
<path d="M852.9 1077.6l6.2-21.1 6.3 6.2 2.5 14.5 2.4-18.7 2.4 14.2-6.3-25.8-6.4-23.2-2.4 19-2.3 26.2z" fill="#b4e2b6"/>
<path d="M762.8 779.3l6.3 7.1 6.3 3.5 2.6 18.6 2.5-4 2.4-4.5-6.4-25.3-6.4-16-2.4 11.8-2.2 29.1z" fill="#2073b2"/>
<path d="M566.3 591.7l6.2 1.8 6.2 1.7 2.6-.6 3.4 28.6 1.7-34-6.2-1.7-6.1-1.7-2.6 2-2.6 1.9z" fill="#091e5a"/>
<path d="M1145.1 867.2l6.6-6.4 6.5 2.2 2.2-1.3 2.5-12 1.9 13.5-6.4-1.3-6.6 5.3-2.2-2.4-1.8-19.2z" fill="#299dc1"/>
<path d="M651.2 591.2l6.2 1.7 6.2 1.7 2.5-2 2.6-2 2.5-1.9-6.2-1.8-6.2-1.7-2.5 2-2.6 2z" fill="#081d58"/>
<path d="M513.8 593.3l6.3 6.9 6.4 7.8 2.2-13.3 3.1 11.7 2.5-5.5-6.2-2.5-6 3.5-3-12.6-2.6 2z" fill="#0b1f5e"/>
<path d="M683.6 592.1l6.2 1.7 6.2 2.5 2.5-2.7 2.6-2 2.6 5.6-6.3-9.3-6.2-1.7-2.6 2-2.5 1.9z" fill="#081d58"/>
<path d="M1164.8 863.2l6.6-5.1 2.8-22.6 2.3-5.8 1.9 13.7-6.4-1.8-1.6-27.5-3.1 38.6z" fill="#2094c0"/>
<path d="M726.3 637.6l6.7 36.3 6.3 7.1 3.1 44.3 2.1-31 2.1-36.2-6 19.7-6.4-16.1-2.5 1.2-2.4 6.7z" fill="#253494"/>
<path d="M989.9 1054.5l6.2 13 6.8-41.8 2.3 8.4 2.3 4.3 2.5-19-6.6 21.9-6.5 16-2.3-2.5-2.3-8.4z" fill="#a7dcb7"/>
<path d="M865.4 1062.7l6.3-14.5 6.3 37.1 2.5-8 2.4-1.7 2.4-20.4-6.3-2.3-6.3 19.8-2.4-14.2-2.4 18.7z" fill="#bbe4b5"/>
<path d="M598.7 592.7l6.2 1.7 6.2 1.7 2.6-1.9 2.5-2 2.6-2-6.2-1.7-6.2-1.7-2.5 1.9-2.6 2z" fill="#081d58"/>
<path d="M897.9 1064l6.3 7.7 6.4-12.6 2.4 8.6 2.3 22.3 2.4-15.8-6.3-13.3-6.3 6.2-2.4 14.3-2.4-12.7z" fill="#bde5b5"/>
<path d="M1064.1 958.3l6.2 12.3 6.8-19.1 2.1 11.9 2.5-13.9 2.1 7.2-6.5 9.4-6.4-4.6-2.5 17.5-1.9-23.9z" fill="#61c2bf"/>
<path d="M709 630.3l5.9-14.3 6.3 1.5 2.4-5.1 2.9 21.1 2.5 1.2-6.2-2.1-6.7-35.4-2.5 3.4-2.5 3.9z" fill="#11246b"/>
<path d="M827.3 987.3l6.5 30.8 6.4 25.1 2.4-16.6 2.5 20.6 2.4-23.1-6.3 12.1-6.4-27-2.3 21.2-2.6-27.9z" fill="#92d5b9"/>
<path d="M1117.7 918.9l7.2-37.3 6.1 17.3 2.5-8.8 2.6-17.3 1.9 12.8-6.4 0-6.5-.5-2.3 3.5-2.2-1.7z" fill="#34a9c3"/>
<path d="M796.9 947.7l6.3 11.3 6.3 5 2.6 10.9 2.4-5.6 2.5 11.6-6.5-40.3-6.4-22.7-2.3 19.8-2.6-7.5z" fill="#5bc0c0"/>
<path d="M930.4 1073.4l6.3 10.5 6.4-5.6 2.3 3.3 2.5-20.8 2.3 13.5-6.3-13.5-6.3-8.5-2.5 38.1-2.3-22.7z" fill="#bde5b5"/>
<path d="M832.9 1066l6.3-14.3 6.2-.9 2.6 15 2.3-26.8 2.6 38.6-6.3 3-6.4-37.4-2.4 19.3-2.4-3.8z" fill="#b2e1b6"/>
<path d="M631.1 593.6l6.2 1.8 6.2 1.7 2.6-2 2.5-2 2.6-1.9-6.2-1.8-6.2-1.7-2.5 2-2.6 2z" fill="#081d58"/>
<path d="M696 596.3l6.2 1 6.8 33 2.1-25.8 2.5-3.9 2.5-3.4-6.3-5.8-6.1 5.8-2.6-5.6-2.6 2z" fill="#0a1e5c"/>
<path d="M1016.9 1026.6l6.9-43 6 33.3 2.7-29.9 2.4-14.2 2.4-1.9-7.1 54.6-6.3-5.7-2.4 5.6-2-22.7z" fill="#80cebb"/>
<path d="M546.2 594.2l6.2 1.7 6.1 1.8 2.6-2 2.6-2 2.6-2-6.1-1.7-6.1 1.3-2.7-1-2.6 1.9z" fill="#081d58"/>
<path d="M578.7 595.2l6.1 1.7 6.2 1.7 2.6-1.9 2.6-2 2.5-2-6.1-1.7-6.2-1.8-1.7 34-3.4-28.6z" fill="#091e5a"/>
<path d="M1090.7 952.5l7-30 6.8-17.5 2.1 3.7 2.4-5.3 2.3 0-6.5 .7-7 31.8-2.2-5-2.4 8.9z" fill="#42b6c4"/>
<path d="M663.6 594.6l6.2 1.7 6.2 1.8 2.5-2 2.6-2 2.5-2-6.2-1.7-6.2-1.7-2.5 1.9-2.6 2z" fill="#081d58"/>
<path d="M526.5 608l6.5 13.6 5.7-12.2 2.3-11.2 2.6-2 2.6-2-6.1-1.7-5.8 8.4-2.5 5.5-3.1-11.7z" fill="#0b1f5e"/>
<path d="M1138 885.6l6.4 2.6 7.1-26.8 2 10.3 2.4-6.8 2.3-1.9-6.5-2.2-6.6 6.4-2.8 27.3-1.8-21.2z" fill="#2ca1c2"/>
<path d="M814.7 979.8l6.5 37.3 6.1-29.8 2.6 15.2 2.6 27.9 2.3-21.2-6.2 10.1-6.3-17.4-2.6-13.4-2.5-8.4z" fill="#7ecdbb"/>
<path d="M744.5 705.9l6.4 9.5 6.4 20.3 2.5-1.4 2.6 7.7 2.5 .9-6.7-46.3-6.1 12-2.6-4.1-2.4 5.9z" fill="#234b9f"/>
<path d="M760.6 819.1l6.4 10.1 6.6 33.5 2.5 5.2 2.4-9.4 2.6 8.3-6.7-44.9-6.2 .2-2.8-20.6-2.1 34.8z" fill="#1d90c0"/>
<path d="M878 1085.3l6.3-1.2 6.4-6.1 2.4 9.5 2.4-1.9 2.4-21.6-6.3-17.7-6.3 8.9-2.4 20.4-2.4 1.7z" fill="#bde5b5"/>
<path d="M750 754.1l6-19 6.8 44.2 2.7 20.3 2.2-29.1 2.4-11.8-6.3 0-6.5-23-2.5 .5-2.2 21.2z" fill="#225ea8"/>
<path d="M467.3 651.7l4.9-31.4 6.2 2.6 3.6 26.1 1.4-38.9 2.6-1.5-4.9 32.8-7.1-31.2-.9 52.9-3.5-22.9z" fill="#152772"/>
<path d="M784 911.2l6.7 45.3 6.2-8.8 2.3-17.5 2.6 7.5 2.3-19.8-6.2 7.9-6.2 3.5-2.6-5.8-2.4 7.4z" fill="#48b9c3"/>
<path d="M765.9 846.6l6.5 27.4 6.5 27.4 2.4-10.5 2.2-30.9 3.1 58.7-6.7-42-6.3-14-2.4 9.4-2.7-10.5z" fill="#2da2c2"/>
<path d="M611.1 596.1l6.2 1.8 6.2 1.7 2.5-2 2.6-2 2.5-2-6.1-1.7-6.2-1.7-2.6 2-2.5 2z" fill="#081d58"/>
<path d="M506 599.2l6.7 19.4 5.7-11.6 2.5-5.3 2.6-3 3 9.3-6.4-7.8-6.3-6.9-1.9 23.8-2.5 3.7z" fill="#0c2060"/>
<path d="M1158.2 863l6.8-15 2.7-18.6 1.7 20.6 2 8.1-6.6 5.1-1.9-13.5-2.5 12z" fill="#2296c1"/>
<path d="M910.6 1059.1l6.3 21.1 6.3 8.1 2.4-16.7 2.5-14.1 2.3 15.9-6.3-10.8-6.4 11.6-2.4 15.8-2.3-22.3z" fill="#bbe4b5"/>
<path d="M943.1 1078.3l6.4-15.5 6.3 15.3 2.3 2.3 2.5-14.8 2.3 12.1-6.5 18.9-6.2-22.3-2.3-13.5-2.5 20.8z" fill="#bde5b5"/>
<path d="M643.5 597.1l6.2 1.7 6.2 1.8 2.6-2 2.5-2 2.6-2-6.2-1.7-6.2-1.7-2.6 1.9-2.5 2z" fill="#081d58"/>
<path d="M440.3 689.6l4.3-45.8 7.3 34.3 1.3-39 3 6.4 2.2-13.1-5.1 23.6-5.6 13.5-2.6 3.3-2.4 7.8z" fill="#1f2f87"/>
<path d="M962.9 1077.7l6.3 2.9 6.5-16.8 2.4-3 2.5-16.9 2.3 5.3-6.5 13-6.4 2.4-2.4 8.1-2.3-6.2z" fill="#b4e2b6"/>
<path d="M713.8 634.6l6.4 9.8 6.1-6.8 3 32 2.4-6.7 2.5-1.2-6.5-26-6.5-18.2-2.4 12.6-2.5-1.1z" fill="#182a7a"/>
<path d="M1037.3 970.9l5.9 39.4 7-46.9 2.3 7 2.2 2 2.4-4.8-6.6 16.1-6.4-2-2.4 5.9-2.6 20.7z" fill="#6dc6be"/>
<path d="M558.5 597.7l6.2 1.7 6.2 1.7 2.6-1.9 2.6-2 2.6-2-6.2-1.7-6.2-1.8-2.6 2-2.6 2z" fill="#081d58"/>
<path d="M755.2 773.8l6.5 28.4 6.5 19.9 2.1-31.7 2.8 22.3 2.3-22.8-6.3-3.5-6.3-7.1-2.8-23.2-2.3 23.5z" fill="#2070b0"/>
<path d="M676 598.1l6.2 1.7 6.2 1.7 2.6-2 2.5-1.9 2.5-1.3-6.2-2.5-6.2-1.7-2.5 2-2.6 2z" fill="#081d58"/>
<path d="M890.7 1078l6.3-6.1 6.3 7.8 2.4 19.9 2.4-8.2 2.5-32.3-6.4 12.6-6.3-7.7-2.4 21.6-2.4 1.9z" fill="#c0e6b5"/>
<path d="M731.5 665.3l6.9 45.5 6.1-4.9 2.6 4.5 2.4-5.9 2.6 4.1-6.2-.8-6.6-26.8-2.5-3.2-2.7-6.7z" fill="#243c98"/>
<path d="M802 954.7l6.6 38.8 6.1-13.7 2.5 .3 2.5 8.4 2.6 13.4-6.4-17.9-6.4-20-2.6-18.4-2.3 25.4z" fill="#69c5be"/>
<path d="M486 608.6l7.3 35.2 4.8-38.6 2.6-1 2.9 5.6 2.4-10.6-6 1.9-5.3 23-3-6.5-3.3-17.9z" fill="#0d2161"/>
<path d="M845.4 1050.8l6.4 4.1 6.3 14.8 2.4-19.1 2.5 10.3 2.4 1.8-6.3-6.2-6.2 21.1-2.6-38.6-2.3 26.8z" fill="#aedfb6"/>
<path d="M820.1 1023.4l6.3-4.4 6.5 47 2.5-7.3 2.4 3.8 2.4-19.3-6.4-25.1-6.5-30.8-2.2 30.4-2.6-17.3z" fill="#95d5b9"/>
<path d="M591 598.6l6.2 1.8 6.2 1.7 2.5-2 2.6-2 2.6-2-6.2-1.7-6.2-1.7-2.5 2-2.6 2z" fill="#081d58"/>
<path d="M771.3 887.4l6.1-9.6 6.6 33.4 2.7 19.7 2.4-7.4 2.6 5.8-6.6-33.9-6.2 6-2.4 9.6-2.7-27.2z" fill="#39adc3"/>
<path d="M623.5 599.6l6.2 1.7 6.2 1.8 2.5-2 2.6-2 2.5-2-6.2-1.7-6.2-1.8-2.5 2-2.6 2z" fill="#081d58"/>
<path d="M1010 1019.4l6.4 .6 6.6-22.7 2.3 7.5 2 22.1 2.5-10-6-33.3-6.9 43-2.2-11.7-2.2-16z" fill="#83cebb"/>
<path d="M538.7 609.4l5.9-7.5 6.3 7.5 2.4-7.7 2.6-2 2.6-2-6.1-1.8-6.2-1.7-2.6 2-2.6 2z" fill="#081d58"/>
<path d="M688.4 601.5l6.5 13.5 6-10 2.6 1.1 2.6 3.7 2.9 20.5-6.8-33-6.2-1-2.5 1.3-2.5 1.9z" fill="#0a1e5c"/>
<path d="M923.2 1088.3l6.4-30.9 6.2 36.5 2.5-10.1 2.4-2.9 2.4-2.6-6.4 5.6-6.3-10.5-2.3-15.9-2.5 14.1z" fill="#bbe4b5"/>
<path d="M700.9 605l6.4 7.7 6.5 21.9 2.5-5.6 2.5 1.1 2.4-12.6-6.3-1.5-5.9 14.3-2.9-20.5-2.6-3.7z" fill="#0e2265"/>
<path d="M736.7 692.2l6.9 46.5 6.4 15.4 2.6 3.3 2.2-21.2 2.5-.5-6.4-20.3-6.4-9.5-2.3 17.1-2.6-5.4z" fill="#234c9f"/>
<path d="M982.9 1049.2l6.6-23.1 6.4 2.9 2.1 26 2.7-41.9 2.2 12.6-6.8 41.8-6.2-13-2.5 14.1-2.2-13.8z" fill="#9ed9b8"/>
<path d="M1111.3 903.4l6.8-18 6.7-11.8 2.3-1.2 2 9.6 1.9 16.9-6.1-17.3-7.2 37.3-1.8-22.8-2.3 1.1z" fill="#32a6c2"/>
<path d="M655.9 600.6l6.3 1.7 6.2 1.7 2.5-1.9 2.6-2 2.5-2-6.2-1.8-6.2-1.7-2.6 2-2.5 2z" fill="#081d58"/>
<path d="M858.1 1069.7l6.3 11.7 6.3-28.2 2.5 19.1 2.4 11.2 2.4 1.8-6.3-37.1-6.3 14.5-2.4-1.8-2.5-10.3z" fill="#b2e1b6"/>
<path d="M1057.1 967.6l6.3 6.6 6.5-5.3 2.7-24 2.1 13.8 2.4-7.2-6.8 19.1-6.2-12.3-2.2-2.4-2.4 7.6z" fill="#5bc0c0"/>
<path d="M570.9 601.1l6.5 13.7 5.8-10.2 2.6-2 2.6-2 2.6-2-6.2-1.7-6.1-1.7-2.6 2-2.6 2z" fill="#081d58"/>
<path d="M1131 898.9l7.1-29.8 6.3 11.5 2.2 .6 2.6-16.2 2.3-3.6-7.1 26.8-6.4-2.6-1.9-12.8-2.6 17.3z" fill="#2ca1c2"/>
<path d="M903.3 1079.7l6.3 14 6.4 .2 2.4-16.7 2.4 4 2.4 7.1-6.3-8.1-6.3-21.1-2.5 32.3-2.4 8.2z" fill="#c2e7b4"/>
<path d="M518.4 607l6-2.6 6.2 1.8 2.6-2 2.7-.1 2.8 5.3-5.7 12.2-6.5-13.6-3-9.3-2.6 3z" fill="#0a1e5c"/>
<path d="M789.1 911.1l6.7 53.9 6.2-10.3 2.6 16.3 2.3-25.4 2.6 18.4-6.3-5-6.3-11.3-2.6-4.6-2.3 18.8z" fill="#53bdc1"/>
<path d="M870.7 1053.2l6.3 10.7 6.4 8.9 2.4 37.2 2.4-20.4 2.5-11.6-6.4 6.1-6.3 1.2-2.4-1.8-2.4-11.2z" fill="#bde5b5"/>
<path d="M742.6 766.1l6.1-6.1 6.5 13.8 2.5 5.8 2.3-23.5 2.8 23.2-6.8-44.2-6 19-2.4 5.1-2.5 3.8z" fill="#225da8"/>
<path d="M603.4 602.1l6.2 1.7 6.2 1.8 2.5-2 2.6-2 2.6-2-6.2-1.7-6.2-1.8-2.6 2-2.6 2z" fill="#081d58"/>
<path d="M776.6 922.1l6.4 16 6.1-27 2.9 50.8 2.3-18.8 2.6 4.6-6.2 8.8-6.7-45.3-2.2 29.2-2.8-26.7z" fill="#46b8c3"/>
<path d="M955.8 1078.1l6.3 2.8 6.4-4.9 2.4-6.3 2.5-7 2.3 1.1-6.5 16.8-6.3-2.9-2.3-12.1-2.5 14.8z" fill="#b7e3b6"/>
<path d="M458.4 632.4l6.2 2.2 6.4 10.6 1.5-33.5 2.7-2 3.2 13.2-6.2-2.6-4.9 31.4-2.3 12-3.5-21.9z" fill="#13266f"/>
<path d="M747.6 776.7l6.7 33.4 6.3 9 2.7 17.2 2.1-34.8 2.8 20.6-6.5-19.9-6.5-28.4-2.5 4.6-2.6-1.3z" fill="#2073b2"/>
<path d="M1083.8 956.7l7.1-35.3 6.6-9.9 2.7-20.6 2.3-1.4 2 15.5-6.8 17.5-7 30-1.6-37.6-2.5 14.3z" fill="#3db2c4"/>
<path d="M752.9 806.9l6.7 37.5 6.3 2.2 2.6 15 2.7 10.5 2.4-9.4-6.6-33.5-6.4-10.1-2.5-3.1-2.4 12.7z" fill="#1e8bbd"/>
<path d="M718.8 647.7l6.6 27.1 6.1-9.5 2.6 5.8 2.7 6.7 2.5 3.2-6.3-7.1-6.7-36.3-2.2 24.5-2.6-3.8z" fill="#1e2e85"/>
<path d="M825.5 1054.2l6.3 1.7 6.4 26.9 2.4-18.7 2.5 6.5 2.3-19.8-6.2 .9-6.3 14.3-2.5-22.2-2.6-23.2z" fill="#a7dcb7"/>
<path d="M635.9 603.1l6.2 1.7 6.2 1.8 2.5-2 2.6-2 2.5-2-6.2-1.8-6.2-1.7-2.5 2-2.6 2z" fill="#081d58"/>
<path d="M758.6 870.4l6.3 7.1 6.4 9.9 2.5-3.6 2.7 27.2 2.4-9.6-6.5-27.4-6.5-27.4-2.3 19.8-2.7-15.5z" fill="#2a9ec1"/>
<path d="M550.9 609.4l6-4 6.2 1.7 2.6-2 2.6-2 2.6-2-6.2-1.7-6.2-1.7-2.6 2-2.6 2z" fill="#081d58"/>
<path d="M807.3 986.8l6.4 16.5 6.4 20.1 2.4-23 2.6 17.3 2.2-30.4-6.1 29.8-6.5-37.3-2.4 10.9-2.4 .9z" fill="#76cabc"/>
<path d="M498.1 605.2l6.1 1.7 6.9 24.3 1.9-24.5 2.6-2 2.8 2.3-5.7 11.6-6.7-19.4-2.4 10.6-2.9-5.6z" fill="#0a1e5c"/>
<path d="M883.4 1072.8l6.3-4.4 6.3 22.9 2.5 8.6 2.4 7.8 2.4-28-6.3-7.8-6.3 6.1-2.5 11.6-2.4 20.4z" fill="#c2e7b4"/>
<path d="M724.5 707.1l6.1-6.5 6.1-8.4 2.9 25.4 2.6 5.4 2.3-17.1-6.1 4.9-6.9-45.5-2.3 18.1-2.1 27z" fill="#243c98"/>
<path d="M668.4 604l6.2 1.8 6.2 1.7 2.6-2 2.5-2 2.5-2-6.2-1.7-6.2-1.7-2.5 2-2.6 2z" fill="#081d58"/>
<path d="M478.4 622.9l5.6-13.5 6.1 1.8 2.7-2 2.7-.7 2.6-3.3-4.8 38.6-7.3-35.2-2.6 1.5-1.4 38.9z" fill="#0d2161"/>
<path d="M1151.5 861.4l7.1-23.7 2.2 1.1 2 9.5 2.2-.3-6.8 15-2.3 1.9-2.4 6.8z" fill="#2094c0"/>
<path d="M583.2 604.6l6.2 1.8 6.2 1.7 2.6-2 2.6-2 2.6-2-6.2-1.7-6.2-1.8-2.6 2-2.6 2z" fill="#081d58"/>
<path d="M794.7 972.3l6.4 20.9 6.2-6.4 2.6 4.8 2.4-.9 2.4-10.9-6.1 13.7-6.6-38.8-2.3 30.6-2.6-19.5z" fill="#67c4be"/>
<path d="M729.7 731.8l6.2 3.1 6.7 31.2 2.5-3.1 2.5-3.8 2.4-5.1-6.4-15.4-6.9-46.5-2 37.7-2.9-23.8z" fill="#234fa1"/>
<path d="M1029.8 1016.9l6.8-35.4 6.7-15 2 23.9 2.5-15.4 2.4-11.6-7 46.9-5.9-39.4-2.4 1.9-2.4 14.2z" fill="#69c5be"/>
<path d="M812.6 1009.6l6.6 40.5 6.3 4.1 2.3-33.6 2.6 23.2 2.5 22.2-6.5-47-6.3 4.4-2.4 2.9-2.5 4.9z" fill="#90d4b9"/>
<path d="M706.2 637.9l6.2-1.6 6.4 11.4 2.7 10.6 2.6 3.8 2.2-24.5-6.1 6.8-6.4-9.8-2.5-.1-2.6-1.9z" fill="#162874"/>
<path d="M935.8 1093.9l6.4-2.9 6.5-34.1 2.4 4.6 2.4 4.4 2.3 12.2-6.3-15.3-6.4 15.5-2.4 2.6-2.4 2.9z" fill="#b4e2b6"/>
<path d="M1077.1 951.5l6.4-1.2 6.8-19.9 2.7-19.7 2.1 8.7 2.4-7.9-6.6 9.9-7.1 35.3-2.1-7.2-2.5 13.9z" fill="#44b7c4"/>
<path d="M615.8 605.6l6.2 1.7 6.2 1.8 2.5-2 2.6-2 2.6-2-6.2-1.8-6.2-1.7-2.6 2-2.6 2z" fill="#081d58"/>
<path d="M916 1093.9l6.4-18.2 6.3 1.5 2.3 32.2 2.4-12.8 2.4-2.7-6.2-36.5-6.4 30.9-2.4-7.1-2.4-4z" fill="#bde5b5"/>
<path d="M530.6 606.2l6.1 1.7 6.2 1.7 2.6-2 2.6-2 2.8 3.8-6.3-7.5-5.9 7.5-2.8-5.3-2.7 .1z" fill="#081d58"/>
<path d="M896 1091.3l6.4-4.3 6.3 7 2.4 12.6 2.5-14.9 2.4 2.2-6.4-.2-6.3-14-2.4 28-2.4-7.8z" fill="#c6e9b4"/>
<path d="M838.2 1082.8l6.2-18.8 6.2-31.6 2.6 34.3 2.4-11.1 2.5 14.1-6.3-14.8-6.4-4.1-2.3 19.8-2.5-6.5z" fill="#a9ddb7"/>
<path d="M1002.9 1025.7l6.6-13.5 6.5-10.4 2.3 5.6 2.3-2.8 2.4-7.3-6.6 22.7-6.4-.6-2.5 19-2.3-4.3z" fill="#80cebb"/>
<path d="M648.3 606.6l6.2 1.7 6.2 1.7 2.6-2 2.5-2 2.6-2-6.2-1.7-6.3-1.7-2.5 2-2.6 2z" fill="#081d58"/>
<path d="M563.1 607.1l6.2 1.8 6.2 1.7 2.5-2 2.6-2 2.6-2-5.8 10.2-6.5-13.7-2.6 2-2.6 2z" fill="#081d58"/>
<path d="M680.8 607.5l6.3 1.8 6.4 12.2 2.4-12.5 2.5-1.5 2.5-2.5-6 10-6.5-13.5-2.5 2-2.5 2z" fill="#091e5a"/>
<path d="M511.1 631.2l5.8-8.2 5.8-10.8 2.6-2 2.6-2 2.7-2-6.2-1.8-6 2.6-2.8-2.3-2.6 2z" fill="#0a1e5c"/>
<path d="M693.5 621.5l6.1-8.7 6.6 25.1 2.5-5.3 2.6 1.9 2.5 .1-6.5-21.9-6.4-7.7-2.5 2.5-2.5 1.5z" fill="#0d2161"/>
<path d="M711.2 655.2l6.9 41.7 6.4 10.2 2.6 3.3 2.1-27 2.3-18.1-6.1 9.5-6.6-27.1-2.6-3.9-2.2 22.6z" fill="#203089"/>
<path d="M1104.5 905l6.6-10.5 6.7-10.8 1.9 16.7 2.8-22.5 2.3-4.3-6.7 11.8-6.8 18-2.3 0-2.4 5.3z" fill="#2ea3c2"/>
<path d="M1023 997.3l6.6-9.4 6.5-7.8 1.9 37.4 2.3 .6 3-51.6-6.7 15-6.8 35.4-2.5 10-2-22.1z" fill="#73c8bd"/>
<path d="M595.6 608.1l6.2 1.7 6.2 1.8 2.6-2 2.6-2 2.6-2-6.2-1.8-6.2-1.7-2.6 2-2.6 2z" fill="#081d58"/>
<path d="M975.7 1063.8l6.4-6 6.7-25.2 2.2 9.3 2.3 7.7 2.6-20.6-6.4-2.9-6.6 23.1-2.3-5.3-2.5 16.9z" fill="#97d6b9"/>
<path d="M763.8 893.3l6.3 1.9 6.5 26.9 2.4-8.4 2.8 26.7 2.2-29.2-6.6-33.4-6.1 9.6-2.5 .3-2.6-1z" fill="#32a6c2"/>
<path d="M818.1 1058.2l6.4 15.7 6.3 6.4 2.3-27 2.5 10.1 2.6 19.4-6.4-26.9-6.3-1.7-2.4 9.2-2.6-9.2z" fill="#a9ddb7"/>
<path d="M800 1005.1l6.3-1 6.3 5.5 2.6 21.6 2.5-4.9 2.4-2.9-6.4-20.1-6.4-16.5-2.4 13.9-2.5-1.1z" fill="#78cbbc"/>
<path d="M781.8 940.9l6.5 23.9 6.4 7.5 2.4-6.5 2.6 19.5 2.3-30.6-6.2 10.3-6.7-53.9-2.3 26.8-2.4 8.4z" fill="#50bbc2"/>
<path d="M1050.2 963.4l6.3 13.8 7.2-52.8 2 24.8 2.3-2.4 1.9 22.1-6.5 5.3-6.3-6.6-2.4 4.8-2.2-2z" fill="#53bdc1"/>
<path d="M740.1 781.3l6.6 29 6.2-3.4 2.8 21.8 2.4-12.7 2.5 3.1-6.3-9-6.7-33.4-1.9 49.9-3.2-50.7z" fill="#2073b2"/>
<path d="M734.7 746.9l6.2-6.4 6.7 36.2 2.5 .4 2.6 1.3 2.5-4.6-6.5-13.8-6.1 6.1-2.6-3.3-2.5 4z" fill="#225aa6"/>
<path d="M628.2 609.1l6.2 1.7 6.2 1.8 2.6-2 2.5-2 2.6-2-6.2-1.8-6.2-1.7-2.6 2-2.6 2z" fill="#081d58"/>
<path d="M451.9 678.1l4.2-50.1 5.8-8.3 2.9 5.6 2.7-2.8 3.5 22.7-6.4-10.6-6.2-2.2-2.2 13.1-3-6.4z" fill="#12256d"/>
<path d="M850.6 1032.4l6.4 25.1 6.4 8.9 2.5 12.8 2.4 12.4 2.4-38.4-6.3 28.2-6.3-11.7-2.5-14.1-2.4 11.1z" fill="#a9ddb7"/>
<path d="M542.9 609.6l6.2 1.8 6.2 1.7 2.6-2 2.6-2 2.6-2-6.2-1.7-6 4-2.8-3.8-2.6 2z" fill="#081d58"/>
<path d="M863.4 1066.4l6.4 30.3 6.3-15.5 2.4 3.7 2.5 9.2 2.4-21.3-6.4-8.9-6.3-10.7-2.4 38.4-2.4-12.4z" fill="#b4e2b6"/>
<path d="M660.7 610l6.3 1.8 6.2 1.7 2.6-2 2.6 2.3 2.4-6.3-6.2-1.7-6.2-1.8-2.6 2-2.5 2z" fill="#081d58"/>
<path d="M928.7 1077.2l6.4 9 6.4-16 2.4 10.5 2.3 14.3 2.5-38.1-6.5 34.1-6.4 2.9-2.4 2.7-2.4 12.8z" fill="#b9e4b5"/>
<path d="M490.1 611.2l6.2 1.7 6.2 1.8 2.6-2 2.6-2 3.4 20.5-6.9-24.3-6.1-1.7-2.6 3.3-2.7 .7z" fill="#091e5a"/>
<path d="M745.7 837.4l6.4 11.3 6.5 21.7 2.3-19.5 2.7 15.5 2.3-19.8-6.3-2.2-6.7-37.5-2.7-13.4-2.1 36.6z" fill="#1e86bb"/>
<path d="M575.5 610.6l6.1 1.8 6.2 1.7 2.6-2 2.6-2 2.6-2-6.2-1.7-6.2-1.8-2.6 2-2.6 2z" fill="#081d58"/>
<path d="M1144.4 880.6l7-23.8 2.4-4.9 2.4-10 2.4-4.2-7.1 23.7-2.3 3.6-2.6 16.2z" fill="#1f93c0"/>
<path d="M830.8 1080.3l6.4 14.2 6.2-18.9 2.5 17.5 2.4-13.6 2.3-47.1-6.2 31.6-6.2 18.8-2.6-19.4-2.5-10.1z" fill="#aedfb6"/>
<path d="M769.1 921l6.6 36.8 6.1-16.9 2.6 5.4 2.4-8.4 2.3-26.8-6.1 27-6.4-16-2.6-6.2-2.2 29z" fill="#3fb4c4"/>
<path d="M787.1 965.5l6.5 27.2 6.4 12.4 2.4-5.5 2.5 1.1 2.4-13.9-6.2 6.4-6.4-20.9-2.7-21.3-2 58.2z" fill="#67c4be"/>
<path d="M471 645.2l5.1-26.6 6.6 12.1 2.4-8 2.6-2.6 2.4-8.9-6.1-1.8-5.6 13.5-3.2-13.2-2.7 2z" fill="#0b1f5e"/>
<path d="M721.9 726l6.6 21.5 6.2-.6 2.8 19.9 2.5-4 2.6 3.3-6.7-31.2-6.2-3.1-2.7-7.9-2.6-2.8z" fill="#234da0"/>
<path d="M1124.8 873.6l7-22.6 6.6-4.8 1.7 23.6 2.3-.7 2 11.5-6.3-11.5-7.1 29.8-1.9-16.9-2-9.6z" fill="#2397c1"/>
<path d="M608 611.6l6.2 1.7 6.2 1.8 2.6-2 2.6-2 2.6-2-6.2-1.8-6.2-1.7-2.6 2-2.6 2z" fill="#081d58"/>
<path d="M699 666.9l5.7-30.3 6.5 18.6 2.8 11.2 2.2-22.6 2.6 3.9-6.4-11.4-6.2 1.6-2.5 5-2.5-.2z" fill="#152772"/>
<path d="M685.9 630.8l6.3-.3 6.8 36.4 2.2-24.2 2.5 .2 2.5-5-6.6-25.1-6.1 8.7-2.7-8.5-2.4 9.9z" fill="#0f2367"/>
<path d="M750.8 857.5l6.4 8.1 6.6 27.7 2.4-6.6 2.6 1 2.5-.3-6.4-9.9-6.3-7.1-2.8-23.8-2.1 33.3z" fill="#259ac1"/>
<path d="M716.8 703.6l6.2-3.1 6.7 31.3 2.1-25.7 2.9 23.8 2-37.7-6.1 8.4-6.1 6.5-3.2-41.2-2.4 5.7z" fill="#253896"/>
<path d="M805.1 1008.1l6.6 38.6 6.4 11.5 2.4-4 2.6 9.2 2.4-9.2-6.3-4.1-6.6-40.5-2.4 12.9-2.5-8.3z" fill="#8ed3ba"/>
<path d="M522.7 612.2l6.2 1.7 6.1 1.7 2.7-2 2.6-2 2.6-2-6.2-1.7-6.1-1.7-2.7 2-2.6 2z" fill="#081d58"/>
<path d="M673.2 613.5l6.3 1.8 6.4 15.5 2.5-7.9 2.4-9.9 2.7 8.5-6.4-12.2-6.3-1.8-2.4 6.3-2.6-2.3z" fill="#091e5a"/>
<path d="M948.7 1056.9l6.4 10.2 6.4-8.6 2.3 18.2 2.5-19.8 2.2 19.1-6.4 4.9-6.3-2.8-2.3-12.2-2.4-4.4z" fill="#a7dcb7"/>
<path d="M640.6 612.6l6.2 1.7 6.3 1.7 2.5-2 2.6-2 2.5-2-6.2-1.7-6.2-1.7-2.6 2-2.5 2z" fill="#081d58"/>
<path d="M1069.9 968.9l6.9-25.4 7.2-42.8 2 17.9 2.3-2.4 2 14.2-6.8 19.9-6.4 1.2-2.4 7.2-2.1-13.8z" fill="#40b5c4"/>
<path d="M968.5 1076l6.6-26.2 6.5-13.1 2.2 23.3 2.4-6.4 2.6-21-6.7 25.2-6.4 6-2.3-1.1-2.5 7z" fill="#9ed9b8"/>
<path d="M843.4 1075.6l6.4 18 6.3 5.1 2.4-17.4 2.6 38.1 2.3-53-6.4-8.9-6.4-25.1-2.3 47.1-2.4 13.6z" fill="#b2e1b6"/>
<path d="M555.3 613.1l6.1 1.8 6.2 1.7 2.6-2 2.7-2 2.6-2-6.2-1.7-6.2-1.8-2.6 2-2.6 2z" fill="#081d58"/>
<path d="M856.1 1098.7l6.3-8.6 6.4 9.5 2.4-.3 2.5-2.9 2.4-15.2-6.3 15.5-6.4-30.3-2.3 53-2.6-38.1z" fill="#bde5b5"/>
<path d="M876.1 1081.2l6.3 3.1 6.4-11.9 2.4 19.2 2.4-11.4 2.4 11.1-6.3-22.9-6.3 4.4-2.4 21.3-2.5-9.2z" fill="#b2e1b6"/>
<path d="M756.5 920.5l6-25.1 6.6 25.6 2.7 23.9 2.2-29 2.6 6.2-6.5-26.9-6.3-1.9-2.5-1.4-2.5 7.5z" fill="#33a7c2"/>
<path d="M502.5 614.7l6.1 1.7 6.2 1.8 2.6-2 2.7-2 2.6-2-5.8 10.8-5.8 8.2-3.4-20.5-2.6 2z" fill="#091e5a"/>
<path d="M908.7 1094l6.4-4.5 6.4-15.9 2.4-2.7 2.4 7.7 2.4-1.4-6.3-1.5-6.4 18.2-2.4-2.2-2.5 14.9z" fill="#b7e3b6"/>
<path d="M587.8 614.1l6.2 1.7 6.3 1.8 2.5-2 2.6-2 2.6-2-6.2-1.8-6.2-1.7-2.6 2-2.6 2z" fill="#081d58"/>
<path d="M995.9 1029l6.6-22.4 6.4 4.4 2.4-10.6 2.3 3.5 2.4-2.1-6.5 10.4-6.6 13.5-2.2-12.6-2.7 41.9z" fill="#78cbbc"/>
<path d="M774.5 962.7l6.1-18.6 6.5 21.4 2.9 43.7 2-58.2 2.7 21.3-6.4-7.5-6.5-23.9-2.3 22.5-2.7-24.7z" fill="#50bbc2"/>
<path d="M620.4 615.1l6.3 1.7 6.2 1.8 2.6-2 2.5-2 2.6-2-6.2-1.8-6.2-1.7-2.6 2-2.6 2z" fill="#081d58"/>
<path d="M1097.5 911.5l6.5-2.6 6.9-17.2 1.9 18.5 3.1-44 1.9 17.5-6.7 10.8-6.6 10.5-2-15.5-2.3 1.4z" fill="#2ca1c2"/>
<path d="M761.6 930l6.3 3.8 6.6 28.9 2.3-24 2.7 24.7 2.3-22.5-6.1 16.9-6.6-36.8-2.3 22.7-2.4 11z" fill="#42b6c4"/>
<path d="M738.1 841.9l6.4 8.8 6.3 6.8 2.9 22.4 2.1-33.3 2.8 23.8-6.5-21.7-6.4-11.3-2.7-14.1-2.4 10.9z" fill="#1e8abd"/>
<path d="M535 615.6l6.2 1.8 6.2 1.7 2.6-2 2.6-2 2.7-2-6.2-1.7-6.2-1.8-2.6 2-2.6 2z" fill="#081d58"/>
<path d="M792.6 1012.5l6.4 19.2 6.1-23.6 2.6 6.1 2.5 8.3 2.4-12.9-6.3-5.5-6.3 1-2.4 11.5-2.6-16.2z" fill="#75c9bd"/>
<path d="M703.1 630.1l7.4 68.4 6.3 5.1 2.1-32 2.4-5.7 3.2 41.2-6.4-10.2-6.9-41.7-2.4 7.8-2.8-14.5z" fill="#1d2e83"/>
<path d="M732.9 812l6.2-2 6.6 27.4 2.4-7.3 2.1-36.6 2.7 13.4-6.2 3.4-6.6-29-2.3 21.4-2.7-9z" fill="#2070b0"/>
<path d="M653.1 616l6.2 1.8 6.2 1.7 2.6-2 2.6-2 2.5-2-6.2-1.7-6.3-1.8-2.5 2-2.6 2z" fill="#081d58"/>
<path d="M888.8 1072.4l6.3 9 6.4-11.8 2.4 35.9 2.4 7 2.4-18.5-6.3-7-6.4 4.3-2.4-11.1-2.4 11.4z" fill="#b7e3b6"/>
<path d="M482.7 630.7l5.7-11.7 6.1 1.7 2.7-2 2.6-2 2.7-2-6.2-1.8-6.2-1.7-2.4 8.9-2.6 2.6z" fill="#091e5a"/>
<path d="M779.8 988.5l6.3 .6 6.5 23.4 2.4-12.1 2.6 16.2 2.4-11.5-6.4-12.4-6.5-27.2-2.2 34.2-2.6-13.8z" fill="#67c4be"/>
<path d="M1043.3 966.5l6.7-18.3 6.2 15.7 2.4-3.6 2.3-2.8 2.8-33.1-7.2 52.8-6.3-13.8-2.4 11.6-2.5 15.4z" fill="#50bbc2"/>
<path d="M727.4 766.9l5.7-35.8 7 50.2 2.4-5.4 3.2 50.7 1.9-49.9-6.7-36.2-6.2 6.4-2.4 10.7-2.5 1.9z" fill="#2356a4"/>
<path d="M567.6 616.6l6.2 1.8 6.2 1.7 2.6-2 2.6-2 2.6-2-6.2-1.7-6.1-1.8-2.6 2-2.7 2z" fill="#081d58"/>
<path d="M868.8 1099.6l6.3-2.2 6.4 9.3 2.4 7.6 2.4-1.2 2.5-40.7-6.4 11.9-6.3-3.1-2.4 15.2-2.5 2.9z" fill="#bbe4b5"/>
<path d="M461.9 619.7l6.8 18.7 5.7-11 2.5-6.2 2.6-2 3.2 11.5-6.6-12.1-5.1 26.6-3.5-22.7-2.7 2.8z" fill="#0c2060"/>
<path d="M749 926.7l6.2-8 6.4 11.3 2.8 24.7 2.4-11 2.3-22.7-6.6-25.6-6 25.1-2.6-7.7-2.6-7.3z" fill="#37acc3"/>
<path d="M600.3 617.6l6.2 1.7 6.2 1.8 2.6-2 2.6-2 2.5-2-6.2-1.8-6.2-1.7-2.6 2-2.6 2z" fill="#081d58"/>
<path d="M1138.4 846.2l6 23.1 2.4-6.8 2.5-13.4 2.1 7.7-7 23.8-2-11.5-2.3 .7z" fill="#1d90c0"/>
<path d="M743.6 884.8l6.4 12.8 6.5 22.9 2.3-21.1 2.5-7.5 2.5 1.4-6.6-27.7-6.4-8.1-2.6-12-2.3 21z" fill="#259ac1"/>
<path d="M709 699.3l6.2-4.1 6.7 30.8 2.5-4.9 2.6 2.8 2.7 7.9-6.7-31.3-6.2 3.1-2.9-20.3-2.4 10.5z" fill="#253896"/>
<path d="M514.8 618.2l6.3 4.6 6.1-1.1 2.6-2 2.6-2 2.6-2.1-6.1-1.7-6.2-1.7-2.6 2-2.7 2z" fill="#081d58"/>
<path d="M988.8 1032.6l6.4-1.1 6.4-2 2.3 8.5 2.6-22.7 2.4-4.3-6.4-4.4-6.6 22.4-2.6 20.6-2.3-7.7z" fill="#7ecdbb"/>
<path d="M632.9 618.6l6.2 1.7 6.3 1.8 2.5-2 2.6-2 2.6-2.1-6.3-1.7-6.2-1.7-2.6 2-2.5 2z" fill="#081d58"/>
<path d="M1016 1001.8l6.8-29.9 5.8 53.5 3.1-64.1 2.1 16.1 2.3 2.7-6.5 7.8-6.6 9.4-2.4 7.3-2.3 2.8z" fill="#63c3bf"/>
<path d="M665.5 619.5l6.3 1.8 6.3 3.8 2.6-.2 2.5-5.9 2.7 11.8-6.4-15.5-6.3-1.8-2.5 2-2.6 2z" fill="#091e5a"/>
<path d="M547.4 619.1l6.2 1.8 6.2 1.8 2.6-2.1 2.6-2 2.6-2-6.2-1.7-6.1-1.8-2.7 2-2.6 2z" fill="#081d58"/>
<path d="M714.3 728.9l6.5 18.5 6.6 19.5 2.4-7.4 2.5-1.9 2.4-10.7-6.2 .6-6.6-21.5-2.8-17-2.1 31.5z" fill="#23499e"/>
<path d="M1117.8 883.7l6.6-5.7 7-21.2 2.5-11.6 1 58.8 3.5-57.8-6.6 4.8-7 22.6-2.3 4.3-2.8 22.5z" fill="#2094c0"/>
<path d="M678.1 625.1l6.2-.3 6.5 12.1 2.3-12.3 3 23 2.9 19.3-6.8-36.4-6.3 .3-2.7-11.8-2.5 5.9z" fill="#0d2161"/>
<path d="M690.8 636.9l6.6 21.2 5.7-28 2.9 18.4 2.8 14.5 2.4-7.8-6.5-18.6-5.7 30.3-2.9-19.3-3-23z" fill="#11246b"/>
<path d="M941.5 1070.2l6.4 8 6.4-6.5 2.3 14.1 2.6-44.1 2.3 16.8-6.4 8.6-6.4-10.2-2.5 38.1-2.3-14.3z" fill="#a2dbb8"/>
<path d="M580 620.1l6.3 1.8 6.2 1.7 2.6-2 2.6-2 2.6-2-6.3-1.8-6.2-1.7-2.6 2-2.6 2z" fill="#081d58"/>
<path d="M921.5 1073.6l6.3 30.8 6.5-31.2 2.3 14.4 2.5-6 2.4-11.4-6.4 16-6.4-9-2.4 1.4-2.4-7.7z" fill="#abdeb7"/>
<path d="M766.9 957.8l6.3-.7 6.6 31.4 2.5-2.6 2.6 13.8 2.2-34.2-6.5-21.4-6.1 18.6-2.5-2-2.5 1.2z" fill="#50bbc2"/>
<path d="M1090.3 930.4l7.2-39.3 6.6-1.3 2 11.3 2.6-15.1 2.2 5.7-6.9 17.2-6.5 2.6-2.4 7.9-2.1-8.7z" fill="#2da2c2"/>
<path d="M494.5 620.7l6.2 1.8 6.2 1.7 2.6-2 2.7-2 2.6-2-6.2-1.8-6.1-1.7-2.7 2-2.6 2z" fill="#081d58"/>
<path d="M901.5 1069.6l6.4 9.1 6.3 9 2.4 10.5 2.5-18 2.4-6.6-6.4 15.9-6.4 4.5-2.4 18.5-2.4-7z" fill="#b2e1b6"/>
<path d="M612.7 621.1l6.2 1.8 6.3 1.7 2.5-2 2.6-2 2.6-2-6.2-1.8-6.3-1.7-2.5 2-2.6 2z" fill="#081d58"/>
<path d="M725 795.1l6.5 19.6 6.6 27.2 2.5-7.7 2.4-10.9 2.7 14.1-6.6-27.4-6.2 2-2.7-4.5-2.7-15.2z" fill="#2072b1"/>
<path d="M696 664l6.5 13.9 6.5 21.4 2.5-5.5 2.4-10.5 2.9 20.3-6.3-5.1-7.4-68.4-2 30.1-1.8 47.1z" fill="#1d2e83"/>
<path d="M1063.7 924.4l6.3 12.5 6.5-1.1 2.1 13.3 2.9-36.6 2.5-11.8-7.2 42.8-6.9 25.4-1.9-22.1-2.3 2.4z" fill="#3bb0c3"/>
<path d="M527.2 621.7l6.1 1.7 6.2 1.8 2.7-2 2.6-2 2.6-2.1-6.2-1.7-6.2-1.8-2.6 2.1-2.6 2z" fill="#081d58"/>
<path d="M645.4 622.1l6.2 1.7 6.3 1.8 2.5-2 2.6-2 2.5-2.1-6.2-1.7-6.2-1.8-2.6 2.1-2.6 2z" fill="#081d58"/>
<path d="M961.5 1058.5l6.5-9.6 6.4 6.1 2.5-15 2.4-7.9 2.3 4.6-6.5 13.1-6.6 26.2-2.2-19.1-2.5 19.8z" fill="#90d4b9"/>
<path d="M719.4 746l6.8 40.7 6.7 25.3 2.2-18.3 2.7 9 2.3-21.4-7-50.2-5.7 35.8-2.7-8.7-2.6 1.1z" fill="#2258a5"/>
<path d="M1036.1 980.1l6.8-26.3 6.4 5.8 2.3 1.7 2.7-28.9 1.9 31.5-6.2-15.7-6.7 18.3-3 51.6-2.3-.6z" fill="#50bbc2"/>
<path d="M474.4 627.4l6-2.4 6.2 1.7 2.6-2 3 7.4 2.3-11.4-6.1-1.7-5.7 11.7-3.2-11.5-2.6 2z" fill="#091e5a"/>
<path d="M754.4 962.9l6-21.5 6.5 16.4 2.6 4.1 2.5-1.2 2.5 2-6.6-28.9-6.3-3.8-2.5 .7-2.6-.8z" fill="#3fb4c4"/>
<path d="M559.8 622.7l6.2 1.7 6.2 1.8 2.6-2 2.6-2.1 2.6-2-6.2-1.7-6.2-1.8-2.6 2-2.6 2z" fill="#081d58"/>
<path d="M730.6 850.8l6.1-13.8 6.9 47.8 2.3-18.3 2.3-21 2.6 12-6.3-6.8-6.4-8.8-2.8-18-2.1 27z" fill="#1e85ba"/>
<path d="M881.5 1106.7l6.3 12.2 6.4-20.6 2.4-17.6 2.5-11.7 2.4 .6-6.4 11.8-6.3-9-2.5 40.7-2.4 1.2z" fill="#b2e1b6"/>
<path d="M735.6 858.9l6.6 22.8 6.8 45 2.3-21.2 2.6 7.3 2.6 7.7-6.5-22.9-6.4-12.8-2.9-28.9-2.6 .7z" fill="#269bc1"/>
<path d="M592.5 623.6l6.2 1.8 6.2 1.7 2.6-2 2.6-2 2.6-2-6.2-1.8-6.2-1.7-2.6 2-2.6 2z" fill="#081d58"/>
<path d="M1008.9 1011l6.4 2.7 6.3 6.6 2.8-32 2.4-6.3 1.8 43.4-5.8-53.5-6.8 29.9-2.4 2.1-2.3-3.5z" fill="#67c4be"/>
<path d="M914.2 1087.7l6.3 26.6 6.4 14 2.5-33.1 2.4-2.7 2.5-19.3-6.5 31.2-6.3-30.8-2.4 6.6-2.5 18z" fill="#b4e2b6"/>
<path d="M741.3 920.6l6.4 11.6 6.7 30.7 2.1-33 2.6 .8 2.5-.7-6.4-11.3-6.2 8-2.6-8.2-2.7-10.7z" fill="#36abc3"/>
<path d="M981.6 1036.7l6.3 13.4 6.7-30.3 2.6-21.3 1.9 53.3 2.5-22.3-6.4 2-6.4 1.1-2.6 21-2.4 6.4z" fill="#80cebb"/>
<path d="M506.9 624.2l6.2 1.8 6.1 1.7 2.7-2 2.6-2 2.7-2-6.1 1.1-6.3-4.6-2.6 2-2.7 2z" fill="#081d58"/>
<path d="M625.2 624.6l6.2 1.8 6.3 1.7 2.5-2 2.6-2 2.6-2-6.3-1.8-6.2-1.7-2.6 2-2.6 2z" fill="#081d58"/>
<path d="M683.5 662.2l5.9-18.1 6.6 19.9 3.3 43.3 1.8-47.1 2-30.1-5.7 28-6.6-21.2-2.2 23-3-20.9z" fill="#13266f"/>
<path d="M701.3 700.5l6.3-3.1 6.7 31.5 2.7 11.6 2.1-31.5 2.8 17-6.7-30.8-6.2 4.1-2.8-14.2-2 31.9z" fill="#253595"/>
<path d="M539.5 625.2l6.2 1.7 6.2 1.8 2.7-2 2.6-2 2.6-2-6.2-1.8-6.2-1.8-2.6 2.1-2.6 2z" fill="#081d58"/>
<path d="M657.9 625.6l6.2 1.8 6.3 1.7 2.5-2 2.6-2 2.6 0-6.3-3.8-6.3-1.8-2.5 2.1-2.6 2z" fill="#081d58"/>
<path d="M1110.9 891.7l6.6-6.9 6.9-20.1 2.3-2.5 2.2 5.9 2.5-11.3-7 21.2-6.6 5.7-1.9-17.5-3.1 44z" fill="#1f93c0"/>
<path d="M1131.4 856.8l6.5 .1 2 11.3 2.8-22.7 1.7 23.8-6-23.1-3.5 57.8-1-58.8z" fill="#1e8abd"/>
<path d="M934.3 1073.2l6.4 3.9 6.4-1.7 2.4-9.5 2.3 19.2 2.5-13.4-6.4 6.5-6.4-8-2.4 11.4-2.5 6z" fill="#a2dbb8"/>
<path d="M572.2 626.2l6.2 1.7 6.3 1.8 2.6-2 2.6-2 2.6-2.1-6.2-1.7-6.3-1.8-2.6 2-2.6 2.1z" fill="#081d58"/>
<path d="M670.4 629.1l6.3 5.9 6.8 27.2 2.1-23.2 3 20.9 2.2-23-6.5-12.1-6.2 .3-2.6 0-2.6 2z" fill="#0c2060"/>
<path d="M486.6 626.7l6.1 1.8 6.2 1.8 2.7-2.1 2.6-2 2.7-2-6.2-1.7-6.2-1.8-2.3 11.4-3-7.4z" fill="#081d58"/>
<path d="M706.5 723.8l6.7 25.5 6.2-3.3 2.7 13.3 2.6-1.1 2.7 8.7-6.6-19.5-6.5-18.5-2.4 9.3-2.8-14.6z" fill="#24459c"/>
<path d="M604.9 627.1l6.3 1.8 6.2 1.8 2.6-2 2.6-2.1 2.6-2-6.3-1.7-6.2-1.8-2.6 2-2.6 2z" fill="#081d58"/>
<path d="M712.2 777.1l6.3 3.3 6.5 14.7 2.5-2.8 2.7 15.2 2.7 4.5-6.7-25.3-6.8-40.7-2.2 22.8-2.7-5.7z" fill="#2259a6"/>
<path d="M519.2 627.7l6.2 1.8 6.2 1.8 2.7-2.1 2.6-2 2.6-2-6.2-1.8-6.1-1.7-2.7 2-2.6 2z" fill="#081d58"/>
<path d="M1056.2 963.9l6.7-14.5 6.6-8.4 2.6-21.3 2.1 17.6 2.3-1.5-6.5 1.1-6.3-12.5-2.8 33.1-2.3 2.8z" fill="#3bb0c3"/>
<path d="M688.4 673.5l6.2-3 6.7 30 2.9 16.5 2-31.9 2.8 14.2-6.5-21.4-6.5-13.9-2.1 31.2-2.8-17z" fill="#1d2e83"/>
<path d="M1001.6 1029.5l6.6-10.2 6.8-30.6 2.2 7.4 2.3 9.5 2.1 14.7-6.3-6.6-6.4-2.7-2.4 4.3-2.6 22.7z" fill="#6dc6be"/>
<path d="M637.7 628.1l6.2 1.8 6.3 1.8 2.5-2.1 2.6-2 2.6-2-6.3-1.8-6.2-1.7-2.6 2-2.6 2z" fill="#081d58"/>
<path d="M954.3 1071.7l6.5-17.8 6.4 6.2 2.4 4 2.4-7.2 2.4-1.9-6.4-6.1-6.5 9.6-2.3-16.8-2.6 44.1z" fill="#90d4b9"/>
<path d="M717.1 784.7l6.8 34.1 6.7 32 2.6 .1 2.1-27 2.8 18-6.6-27.2-6.5-19.6-2.5 8.8-2.6-1z" fill="#206eb0"/>
<path d="M551.9 628.7l6.3 1.8 6.2 1.7 2.6-2 2.6-2 2.6-2-6.2-1.8-6.2-1.7-2.6 2-2.6 2z" fill="#081d58"/>
<path d="M1084 900.7l6.4 2.6 6.6-3.6 2.5-10 2.4-6 2.2 6.1-6.6 1.3-7.2 39.3-2-14.2-2.3 2.4z" fill="#299dc1"/>
<path d="M584.7 629.7l6.2 1.8 6.2 1.7 2.6-2 2.6-2 2.6-2.1-6.2-1.7-6.2-1.8-2.6 2.1-2.6 2z" fill="#081d58"/>
<path d="M894.2 1098.3l6.4-4.9 6.3 8 2.5-28.1 2.4 34.6 2.4-20.2-6.3-9-6.4-9.1-2.4-.6-2.5 11.7z" fill="#a7dcb7"/>
<path d="M498.9 630.3l6.2 1.7 6.2 1.8 2.6-2 2.7-2.1 2.6-2-6.1-1.7-6.2-1.8-2.7 2-2.6 2z" fill="#081d58"/>
<path d="M722.7 835.5l6.8 40 6.1-16.6 2.5-2.3 2.6-.7 2.9 28.9-6.9-47.8-6.1 13.8-2.5 .8-2.9-22.8z" fill="#1f82b9"/>
<path d="M675.6 654.7l6.3 5 6.5 13.8 2.7 4.7 2.8 17 2.1-31.2-6.6-19.9-5.9 18.1-2.6-.5-3-20.1z" fill="#142670"/>
<path d="M926.9 1128.3l6.4-22.7 6.5-21.3 2.6-28.7 2.2 40.7 2.5-20.9-6.4 1.7-6.4-3.9-2.5 19.3-2.4 2.7z" fill="#a7dcb7"/>
<path d="M1028.6 1025.4l7.4-76.8 6.2 17 2.2 11.8 2.7-28.2 2.2 10.4-6.4-5.8-6.8 26.3-2.3-2.7-2.1-16.1z" fill="#48b9c3"/>
<path d="M617.4 630.7l6.3 1.7 6.2 1.8 2.6-2 2.6-2 2.6-2.1-6.3-1.7-6.2-1.8-2.6 2-2.6 2.1z" fill="#081d58"/>
<path d="M727.9 860.4l6.4 6.4 7 53.8 2.4-12.8 2.7 10.7 2.6 8.2-6.8-45-6.6-22.8-2 37.4-2.9-19.1z" fill="#2397c1"/>
<path d="M531.6 631.3l6.2 1.7 6.3 1.8 2.6-2 2.6-2.1 2.6-2-6.2-1.8-6.2-1.7-2.6 2-2.6 2z" fill="#081d58"/>
<path d="M906.9 1101.4l6.4 8.9 6.4-16.6 2.5-30 2.4 21.7 2.3 42.9-6.4-14-6.3-26.6-2.4 20.2-2.4-34.6z" fill="#aedfb6"/>
<path d="M693.3 683.8l7.2 56.8 6-16.8 2.6-.2 2.8 14.6 2.4-9.3-6.7-31.5-6.3 3.1-2.4 6.3-2.6 2.3z" fill="#253494"/>
<path d="M650.2 631.7l6.2 1.7 6.3 3.9 2.6-4.1 2.5-2.1 2.6-2-6.3-1.7-6.2-1.8-2.6 2-2.6 2z" fill="#081d58"/>
<path d="M564.4 632.2l6.2 1.8 6.2 1.8 2.6-2.1 2.7-2 2.6-2-6.3-1.8-6.2-1.7-2.6 2-2.6 2z" fill="#081d58"/>
<path d="M974.4 1055l6.5-16.3 6.6-13.4 2.3 11.1 2.4-6.4 2.4-10.2-6.7 30.3-6.3-13.4-2.3-4.6-2.4 7.9z" fill="#78cbbc"/>
<path d="M662.7 637.3l6.3 1.3 6.6 16.1 2.3-13.1 3 20.1 2.6 .5-6.8-27.2-6.3-5.9-2.6 2-2.5 2.1z" fill="#0c2060"/>
<path d="M1104.1 889.8l6.7-14.3 6.6-2 2 12.7 3-34.3 2 12.8-6.9 20.1-6.6 6.9-2.2-5.7-2.6 15.1z" fill="#1d91c0"/>
<path d="M1076.5 935.8l7.1-34.2 6.2 16 2.5-11.8 2 19.9 2.7-26-6.6 3.6-6.4-2.6-2.5 11.8-2.9 36.6z" fill="#2ca1c2"/>
<path d="M597.1 633.2l6.3 1.8 6.2 1.8 2.6-2.1 2.6-2 2.6-2-6.2-1.8-6.3-1.8-2.6 2.1-2.6 2z" fill="#081d58"/>
<path d="M698.8 727.3l6.7 23.5 6.7 26.3 2.3-14 2.7 5.7 2.2-22.8-6.2 3.3-6.7-25.5-2.1 27.2-3-24.1z" fill="#24449c"/>
<path d="M511.3 633.8l6.2 1.8 6.2 1.7 2.7-2 2.6-2 2.6-2-6.2-1.8-6.2-1.8-2.6 2-2.7 2.1z" fill="#081d58"/>
<path d="M1124.4 864.7l6.5 4.2 2.7-22 1.7 26.1 2.6-16.1-6.5-.1-2.5 11.3-2.2-5.9z" fill="#1e85ba"/>
<path d="M1049.3 959.6l6 34.7 7.4-65.1 2.4-2.4 2.3-.3 2.1 14.5-6.6 8.4-6.7 14.5-1.9-31.5-2.7 28.9z" fill="#3bb0c3"/>
<path d="M629.9 634.2l6.3 1.8 6.2 1.7 2.6-2 2.6-2 2.6-2-6.3-1.8-6.2-1.8-2.6 2.1-2.6 2z" fill="#081d58"/>
<path d="M544.1 634.8l6.2 1.7 6.2 1.8 2.6-2 2.7-2 2.6-2.1-6.2-1.7-6.3-1.8-2.6 2-2.6 2.1z" fill="#081d58"/>
<path d="M704.3 769.7l6.5 13.8 6.3 1.2 2.8 18.2 2.6 1 2.5-8.8-6.5-14.7-6.3-3.3-2.8-10.2-2.4 12.1z" fill="#2356a4"/>
<path d="M947.1 1075.4l6.5-13.3 6.5-22.7 2.3 20.9 2.4 8.3 2.4-8.5-6.4-6.2-6.5 17.8-2.5 13.4-2.3-19.2z" fill="#8ed3ba"/>
<path d="M994.6 1019.8l6.4 9 6.5 1.1 2.6-23.7 2.5-22.2 2.4 4.7-6.8 30.6-6.6 10.2-2.5 22.3-1.9-53.3z" fill="#67c4be"/>
<path d="M1021.6 1020.3l7-39.5 6.6-8.6 2.3-3.1 2.7-25.3 2 21.8-6.2-17-7.4 76.8-1.8-43.4-2.4 6.3z" fill="#4cbac2"/>
<path d="M576.8 635.8l6.3 1.7 6.2 1.8 2.6-2 2.6-2.1 2.6-2-6.2-1.7-6.2-1.8-2.6 2-2.7 2z" fill="#081d58"/>
<path d="M715 833.9l6.9 46.1 6-19.6 2.8 16.8 2.9 19.1 2-37.4-6.1 16.6-6.8-40-2.8-14.4-1.7 56.8z" fill="#1e83ba"/>
<path d="M680.5 668.2l6.9 34.1 5.9-18.5 3 25.3 2.6-2.3 2.4-6.3-6.7-30-6.2 3-2.6-.1-2.7-5.2z" fill="#192b7c"/>
<path d="M609.6 636.8l6.3 1.7 6.2 1.8 2.6-2 2.6-2.1 2.6-2-6.2-1.8-6.3-1.7-2.6 2-2.6 2z" fill="#081d58"/>
<path d="M709.8 810.3l6.3 6.9 6.6 18.3 2.5-6.7 2.9 22.8 2.5-.8-6.7-32-6.8-34.1-2.4 11.4-2.7-5.5z" fill="#2168ad"/>
<path d="M642.4 637.7l6.3 1.8 6.3 1.8 2.8 10.5 2.3-14.6 2.6 .1-6.3-3.9-6.2-1.7-2.6 2-2.6 2z" fill="#081d58"/>
<path d="M523.7 637.3l6.2 1.8 6.2 1.8 2.7-2.1 2.6-2 2.7-2-6.3-1.8-6.2-1.7-2.6 2-2.6 2z" fill="#081d58"/>
<path d="M686 711.2l6.8 30.7 6-14.6 2.6-.4 3 24.1 2.1-27.2-6 16.8-7.2-56.8-2.4 7.9-2.5 5.7z" fill="#243392"/>
<path d="M556.5 638.3l6.2 1.8 6.3 1.8 2.6-2.1 2.6-2 2.6-2-6.2-1.8-6.2-1.8-2.6 2.1-2.7 2z" fill="#081d58"/>
<path d="M1097 899.7l6.4 6.6 6.9-20.4 1.9 23.2 3-40.8 2.2 5.2-6.6 2-6.7 14.3-2.2-6.1-2.4 6z" fill="#1f93c0"/>
<path d="M967.2 1060.1l6.4-.1 6.7-34.5 2.5-10.3 2.3 8.1 2.4 2-6.6 13.4-6.5 16.3-2.4 1.9-2.4 7.2z" fill="#78cbbc"/>
<path d="M919.7 1093.7l6.5-15.5 6.4 8.3 2.4-11 2.4 3.7 2.4 5.1-6.5 21.3-6.4 22.7-2.3-42.9-2.4-21.7z" fill="#a0dab8"/>
<path d="M691.1 732.4l6.8 30.2 6.4 7.1 2.7 9.3 2.4-12.1 2.8 10.2-6.7-26.3-6.7-23.5-2.3 14.9-2.3 18z" fill="#24479d"/>
<path d="M1042.2 965.6l6.7-12.4 6.3 12.4 2.6-20.1 2.4-4.2 2.5-12.1-7.4 65.1-6-34.7-2.2-10.4-2.7 28.2z" fill="#3cb1c3"/>
<path d="M589.3 639.3l6.3 1.8 6.2 1.8 2.6-2.1 2.6-2 2.6-2-6.2-1.8-6.3-1.8-2.6 2-2.6 2.1z" fill="#081d58"/>
<path d="M655 641.3l6.5 15.3 6.1-11.8 2.5-2 2.8 7.9 2.7 4-6.6-16.1-6.3-1.3-2.6-.1-2.3 14.6z" fill="#0a1e5c"/>
<path d="M667.6 644.8l6.4 11.8 6.5 11.6 2.6 0 2.7 5.2 2.6 .1-6.5-13.8-6.3-5-2.7-4-2.8-7.9z" fill="#0e2265"/>
<path d="M1117.4 873.5l6.9-18 1.9 17.2 2.3 2.9 2.4-6.7-6.5-4.2-2-12.8-3 34.3z" fill="#1e85ba"/>
<path d="M622.1 640.3l6.3 1.8 6.3 1.7 2.6-2 2.5-2 2.6-2.1-6.2-1.7-6.3-1.8-2.6 2-2.6 2.1z" fill="#081d58"/>
<path d="M536.1 640.9l6.3 1.7 6.2 1.8 2.6-2 2.7-2 2.6-2.1-6.2-1.8-6.2-1.7-2.7 2-2.6 2z" fill="#081d58"/>
<path d="M1069.5 941l7-31.3 6.6-6 2.3-.3 2.6-15.4 1.8 29.6-6.2-16-7.1 34.2-2.3 1.5-2.1-17.6z" fill="#299dc1"/>
<path d="M939.8 1084.3l6.6-21.4 6.4 2.5 2.3 16.8 2.4-6.5 2.6-36.3-6.5 22.7-6.5 13.3-2.5 20.9-2.2-40.7z" fill="#8ed3ba"/>
<path d="M1015 988.7l6.2 17.8 6.8-27.8 2.5-13.4 2.5-8.8 2.2 15.7-6.6 8.6-7 39.5-2.1-14.7-2.3-9.5z" fill="#4ebbc2"/>
<path d="M569 641.9l6.2 1.7 6.3 1.8 2.6-2 2.6-2.1 2.6-2-6.2-1.8-6.3-1.7-2.6 2-2.6 2z" fill="#081d58"/>
<path d="M987.5 1025.3l6.7-28.9 6.3 21.8 2.5-21 2.2 18.4 2.3 14.3-6.5-1.1-6.4-9-2.4 10.2-2.4 6.4z" fill="#65c3bf"/>
<path d="M601.8 642.9l6.3 1.7 6.2 1.8 2.6-2 2.6-2.1 2.6-2-6.2-1.8-6.3-1.7-2.6 2-2.6 2z" fill="#081d58"/>
<path d="M1089.8 917.6l6.8-17.2 6.6-2.9 2.7-18.6 2.2 1.6 2.2 5.4-6.9 20.4-6.4-6.6-2.7 26-2-19.9z" fill="#2195c0"/>
<path d="M673.2 693.1l6.3 1.8 6.5 16.3 2.4-13.8 2.5-5.7 2.4-7.9-5.9 18.5-6.9-34.1-2.6 .8-2.3 13.5z" fill="#182a7a"/>
<path d="M960.1 1039.4l6.3 36.6 6.7-38.5 2.3 8.9 2.3 18.8 2.6-39.7-6.7 34.5-6.4 .1-2.4 8.5-2.4-8.3z" fill="#7ecdbb"/>
<path d="M634.7 643.8l6.3 1.8 6.2 1.8 2.6-2 2.6-2.1 2.6-2-6.3-1.8-6.3-1.8-2.6 2.1-2.5 2z" fill="#081d58"/>
<path d="M696.2 752.1l6.8 26.5 6.8 31.7 2.2-19.7 2.7 5.5 2.4-11.4-6.3-1.2-6.5-13.8-2.9-22.3-1.9 43z" fill="#234fa1"/>
<path d="M548.6 644.4l6.2 1.8 6.3 1.8 2.6-2.1 2.6-2 2.7-2-6.3-1.8-6.2-1.8-2.6 2.1-2.7 2z" fill="#081d58"/>
<path d="M701.5 780l6.7 26.8 6.8 27.1 3.2 44 1.7-56.8 2.8 14.4-6.6-18.3-6.3-6.9-2.7-5.7-2.5 5.3z" fill="#2165ab"/>
<path d="M678.2 710.6l6.4 8.3 6.5 13.5 3.1 27.8 2.3-18 2.3-14.9-6 14.6-6.8-30.7-2.5 6.6-3.2-35.5z" fill="#243392"/>
<path d="M581.5 645.4l6.2 1.8 6.3 1.8 2.6-2.1 2.6-2 2.6-2-6.2-1.8-6.3-1.8-2.6 2-2.6 2.1z" fill="#081d58"/>
<path d="M1110.3 885.9l7-22.5 1.9 19.8 2.6-18.7 2.5-9-6.9 18-2.2-5.2-3 40.8z" fill="#1e85ba"/>
<path d="M614.3 646.4l6.3 1.8 6.3 1.8 2.6-2.1 2.6-2 2.6-2.1-6.3-1.7-6.3-1.8-2.6 2-2.6 2.1z" fill="#081d58"/>
<path d="M647.2 647.4l6.3 1.8 6.3 1.8 2.6-2.1 2.7 2.9 2.5-7-6.1 11.8-6.5-15.3-2.6 2-2.6 2.1z" fill="#081d58"/>
<path d="M659.8 651l6.4 4.6 7 37.5 2.4-10.6 2.3-13.5 2.6-.8-6.5-11.6-6.4-11.8-2.5 7-2.7-2.9z" fill="#0d2163"/>
<path d="M561.1 648l6.2 1.8 6.3 1.7 2.6-2 2.6-2 2.7-2.1-6.3-1.8-6.2-1.7-2.7 2-2.6 2z" fill="#081d58"/>
<path d="M1007.5 1029.9l6.9-45.9 6.6-8.9 2.4-4.3 2.3 9.3 2.3-1.4-6.8 27.8-6.2-17.8-2.4-4.7-2.5 22.2z" fill="#4ab9c3"/>
<path d="M1062.7 929.2l7.1-34.5 6.1 24.3 2.7-21.1 1.8 32.2 2.7-26.4-6.6 6-7 31.3-2.1-14.5-2.3 .3z" fill="#269bc1"/>
<path d="M683.6 748.3l6.4 5.8 6.2-2 3.3 38.3 1.9-43 2.9 22.3-6.4-7.1-6.8-30.2-2.7-9.7-2.5 10.4z" fill="#243d98"/>
<path d="M594 649l6.2 1.8 6.3 1.7 2.6-2 2.6-2.1 2.6-2-6.2-1.8-6.3-1.7-2.6 2-2.6 2z" fill="#081d58"/>
<path d="M1035.2 972.2l6.6-15.1 6.9-24.9 2.1 15.6 2.7-21.4 1.7 39.2-6.3-12.4-6.7 12.4-2-21.8-2.7 25.3z" fill="#35aac3"/>
<path d="M932.6 1086.5l6.5-17.6 6.4-1.7 2.4 3.9 2.5-16.6 2.4 10.9-6.4-2.5-6.6 21.4-2.4-5.1-2.4-3.7z" fill="#87d0ba"/>
<path d="M626.9 650l6.3 1.7 6.3 1.8 2.6-2 2.5-2.1 2.6-2-6.2-1.8-6.3-1.8-2.6 2.1-2.6 2z" fill="#081d58"/>
<path d="M664.9 671.4l6.8 27 6.5 12.2 2.1-28.3 3.2 35.5 2.5-6.6-6.5-16.3-6.3-1.8-3.1-21.3-2.4 6.8z" fill="#172978"/>
<path d="M952.8 1065.4l6.4 3.4 6.7-37.4 2.2 26.3 2.5-13.6 2.5-6.6-6.7 38.5-6.3-36.6-2.6 36.3-2.4 6.5z" fill="#7acbbc"/>
<path d="M573.6 651.5l6.2 1.8 6.3 1.8 2.6-2 2.7-2.1 2.6-2-6.3-1.8-6.2-1.8-2.7 2.1-2.6 2z" fill="#081d58"/>
<path d="M639.5 653.5l6.7 21.2 5.9-17.6 2.6-2.1 3.4 39.1 1.7-43.1-6.3-1.8-6.3-1.8-2.6 2-2.5 2.1z" fill="#0b1f5e"/>
<path d="M980.3 1025.5l6.6-15.2 6.4 18.5 2.5-22.9 2.3 8.5 2.4 3.8-6.3-21.8-6.7 28.9-2.4-2-2.3-8.1z" fill="#59bfc0"/>
<path d="M670.5 717.2l6.7 23.4 6.4 7.7 2.3-15.2 2.5-10.4 2.7 9.7-6.5-13.5-6.4-8.3-2.6 1.3-2.3 17.1z" fill="#22328f"/>
<path d="M688.7 765.4l6.4 9.6 6.4 5 3.1 29.9 2.5-5.3 2.7 5.7-6.8-31.7-6.8-26.5-2.1 27.8-3-26z" fill="#234c9f"/>
<path d="M1083.1 903.7l6.9-17.6 6.7-10.1 1.9 23.5 2.5-12.4 2.1 10.4-6.6 2.9-6.8 17.2-1.8-29.6-2.6 15.4z" fill="#1d8ebf"/>
<path d="M606.5 652.5l6.3 1.8 6.3 1.8 2.6-2 2.6-2.1 2.6-2-6.3-1.8-6.3-1.8-2.6 2-2.6 2.1z" fill="#081d58"/>
<path d="M652.1 657.1l6.4 7.1 6.4 7.2 2.8 7.2 2.4-6.8 3.1 21.3-7-37.5-6.4-4.6-1.7 43.1-3.4-39.1z" fill="#0d2163"/>
<path d="M1103.2 897.5l6.9-18.3 2.4-2.5 2.5-13.9 2.3 .6-7 22.5-2.2-5.4-2.2-1.6z" fill="#1f82b9"/>
<path d="M586.1 655.1l6.3 1.8 6.3 1.8 2.6-2.1 2.6-2 2.6-2.1-6.3-1.7-6.2-1.8-2.6 2-2.7 2.1z" fill="#081d58"/>
<path d="M1000.5 1018.2l6.6-14.5 6.7-17 2.6-23.3 2.3 2.6 2.3 9.1-6.6 8.9-6.9 45.9-2.3-14.3-2.2-18.4z" fill="#46b8c3"/>
<path d="M1055.2 965.6l7.6-72.3 6.4 13.2 2.4-6.7 2 20.1 2.3-.9-6.1-24.3-7.1 34.5-2.5 12.1-2.4 4.2z" fill="#2498c1"/>
<path d="M619.1 656.1l6.3 1.8 6.3 1.8 2.6-2.1 2.6-2 2.6-2.1-6.3-1.8-6.3-1.7-2.6 2-2.6 2.1z" fill="#081d58"/>
<path d="M973.1 1037.5l6.5-9.1 6.6-10 2.3 13 2.7-36.9 2.1 34.3-6.4-18.5-6.6 15.2-2.6 39.7-2.3-18.8z" fill="#5fc1c0"/>
<path d="M1028 978.7l6.7-10.2 6.8-24 2.5-9.6 2.2 8 2.5-10.7-6.9 24.9-6.6 15.1-2.2-15.7-2.5 8.8z" fill="#33a7c2"/>
<path d="M657.3 684.9l5.9-16.2 7.3 48.5 2.8 11.8 2.3-17.1 2.6-1.3-6.5-12.2-6.8-27-2.1 25-3-19.5z" fill="#162874"/>
<path d="M675.5 731.8l6.6 20.2 6.6 13.4 2.4-11.5 3 26 2.1-27.8-6.2 2-6.4-5.8-2.9-16.8-2.4 13.2z" fill="#253997"/>
<path d="M598.7 658.7l6.3 1.8 6.2 1.8 2.7-2.1 2.6-2 2.6-2.1-6.3-1.8-6.3-1.8-2.6 2.1-2.6 2z" fill="#081d58"/>
<path d="M1075.9 919l6.7-7.6 7.1-30.5 1.9 24.5 2.3 .7 2.8-30.1-6.7 10.1-6.9 17.6-2.7 26.4-1.8-32.2z" fill="#1d8dbe"/>
<path d="M631.7 659.7l6.3 1.8 6.3 1.8 2.6 .4 2.6-4.5 2.6-2.1-5.9 17.6-6.7-21.2-2.6 2.1-2.6 2z" fill="#091e5a"/>
<path d="M662.6 719.2l6.7 21 6.2-8.4 2.8 12.9 2.4-13.2 2.9 16.8-6.4-7.7-6.7-23.4-2.6 1.3-2.8-7.6z" fill="#21308b"/>
<path d="M945.5 1067.2l6.6-8.9 6.5-19.5 2.5-15.3 2.1 51.6 2.7-43.7-6.7 37.4-6.4-3.4-2.4-10.9-2.5 16.6z" fill="#71c8bd"/>
<path d="M644.3 663.3l6.3 1.8 6.7 19.8 2.5-8 3 19.5 2.1-25-6.4-7.2-6.4-7.1-2.6 2.1-2.6 4.5z" fill="#0c2060"/>
<path d="M1096.7 876l6.7-7.5 2.6-15 1.6 38.1 2.5-12.4-6.9 18.3-2.1-10.4-2.5 12.4z" fill="#1f80b8"/>
<path d="M993.3 1028.8l6.7-28.6 6.7-15.1 2.4-2.3 2.2 17.4 2.5-13.5-6.7 17-6.6 14.5-2.4-3.8-2.3-8.5z" fill="#48b9c3"/>
<path d="M611.2 662.3l6.3 1.8 6.3 1.8 2.7-2.1 2.6-2.1 2.6-2-6.3-1.8-6.3-1.8-2.6 2.1-2.6 2z" fill="#081d58"/>
<path d="M1048.7 932.2l6.7-12.9 6.5 2.4 2.5-7.3 2 17.5 2.8-25.4-6.4-13.2-7.6 72.3-1.7-39.2-2.7 21.4z" fill="#2397c1"/>
<path d="M1021 975.1l6.6-11 6.7-7.1 2.6-25.3 2.3 4.8 2.3 8-6.8 24-6.7 10.2-2.3 1.4-2.3-9.3z" fill="#32a6c2"/>
<path d="M965.9 1031.4l6.6-16.2 6.7-26.9 2.1 36.6 2.4-.9 2.5-5.6-6.6 10-6.5 9.1-2.5 6.6-2.5 13.6z" fill="#57bec1"/>
<path d="M623.8 665.9l6.4 1.8 6.3 1.8 2.6-2.1 2.9 13.8 2.3-17.9-6.3-1.8-6.3-1.8-2.6 2-2.6 2.1z" fill="#081d58"/>
<path d="M649.1 673.1l6.9 26.8 6.6 19.3 2.5-8.3 2.8 7.6 2.6-1.3-7.3-48.5-5.9 16.2-2.8-8.9-2.4 14z" fill="#13266f"/>
<path d="M636.5 669.5l6.3 1.8 6.3 1.8 3 16.9 2.4-14 2.8 8.9-6.7-19.8-6.3-1.8-2.3 17.9-2.9-13.8z" fill="#0b1f5e"/>
<path d="M1069.2 906.5l6.4 7.8 7.2-38.7 2.2 9.3 2.4-7.7 2.3 3.7-7.1 30.5-6.7 7.6-2.3 .9-2-20.1z" fill="#1e86bb"/>
<path d="M1041.5 944.5l6.6-3.2 6.6-2.7 2.6-18.4 2.2 9.3 2.4-7.8-6.5-2.4-6.7 12.9-2.5 10.7-2.2-8z" fill="#2397c1"/>
<path d="M1089.7 880.9l6.8-13.6 2.5-8.8 2 15 2.4-5-6.7 7.5-2.8 30.1-2.3-.7z" fill="#1f78b4"/>
<path d="M986.2 1018.4l6.6-12.6 6.6-6.9 2.5-15.6 2.4-3.3 2.4 5.1-6.7 15.1-6.7 28.6-2.1-34.3-2.7 36.9z" fill="#42b6c4"/>
<path d="M1013.8 986.7l6.7-22.7 6.8-14.1 2.2 7 2.6-16.9 2.2 17-6.7 7.1-6.6 11-2.3-9.1-2.3-2.6z" fill="#2fa4c2"/>
<path d="M1061.9 921.7l7-25.9 6.6 .3 2.4-5.4 2 18.3 2.9-33.4-7.2 38.7-6.4-7.8-2.8 25.4-2-17.5z" fill="#1e86bb"/>
<path d="M958.6 1038.8l6.6-16.5 6.6-3.1 2.4-8 2.4 11.6 2.6-34.5-6.7 26.9-6.6 16.2-2.7 43.7-2.1-51.6z" fill="#4ebbc2"/>
<path d="M1034.3 957l6.7-14.6 6.8-16.6 2.5-12.9 2.4-2.2 2 27.9-6.6 2.7-6.6 3.2-2.3-8-2.3-4.8z" fill="#2094c0"/>
<path d="M1082.8 875.6l6.3 18.8 2.4-6.9 2.3-1.5 2.7-18.7-6.8 13.6-2.3-3.7-2.4 7.7z" fill="#2075b3"/>
<path d="M1006.7 985.1l6.5-4.3 7.1-45.8 2.2 18.9 2.4-9.3 2.4 5.3-6.8 14.1-6.7 22.7-2.5 13.5-2.2-17.4z" fill="#2ea3c2"/>
<path d="M979.2 988.3l6.4 21.5 6.7-26.7 2.4 7.3 2.5-19.6 2.2 28.1-6.6 6.9-6.6 12.6-2.5 5.6-2.4 .9z" fill="#3db2c4"/>
<path d="M1054.7 938.6l6.8-18.9 7-26 1.8 33.9 3-44.3 2.2 12.8-6.6-.3-7 25.9-2.4 7.8-2.2-9.3z" fill="#1e86bb"/>
<path d="M1075.5 896.1l6.7-8.5 2.5-9.2 1.8 31.7 2.6-15.7-6.3-18.8-2.9 33.4-2-18.3z" fill="#1f7ab5"/>
<path d="M1027.3 949.9l6.2 24.6 7.2-53.8 2.4 0 2.5-12.4 2.2 17.5-6.8 16.6-6.7 14.6-2.2-17-2.6 16.9z" fill="#2094c0"/>
<path d="M999.4 998.9l6.6-8.1 7-43.8 2.1 26.8 2.6-21.6 2.6-17.2-7.1 45.8-6.5 4.3-2.4-5.1-2.4 3.3z" fill="#2da2c2"/>
<path d="M971.8 1019.2l6.4 11.5 6.9-47.1 2.3 15.3 2.4 1.7 2.5-17.5-6.7 26.7-6.4-21.5-2.6 34.5-2.4-11.6z" fill="#3bb0c3"/>
<path d="M1047.8 925.8l6.9-28.2 6.4 16.4 2.2 11.3 3.1-50.3 2.1 18.7-7 26-6.8 18.9-2-27.9-2.4 2.2z" fill="#1f80b8"/>
<path d="M1068.5 893.7l6.7-11.4 2.1 16.4 2.3 2 2.6-13.1-6.7 8.5-2.2-12.8-3 44.3z" fill="#2076b3"/>
<path d="M1020.3 935l6.3 23.1 7-33.5 2.4-1.5 2.4-.9 2.3-1.5-7.2 53.8-6.2-24.6-2.4-5.3-2.4 9.3z" fill="#1d90c0"/>
<path d="M992.3 983.1l6.6-6.2 6.9-26.2 2.1 26.6 2.7-26.3 2.4-4-7 43.8-6.6 8.1-2.2-28.1-2.5 19.6z" fill="#2a9ec1"/>
<path d="M1040.7 920.7l6.5 10.5 7-31.9 2 31.2 2.4-6 2.5-10.5-6.4-16.4-6.9 28.2-2.2-17.5-2.5 12.4z" fill="#1f7eb7"/>
<path d="M1061.1 914l7-27.7 2.2 10.8 2.1 16 2.8-30.8-6.7 11.4-2.1-18.7-3.1 50.3z" fill="#2073b2"/>
<path d="M985.1 983.6l6.4 19.7 6.6-11.9 2.8-37.2 2.2 24.8 2.7-28.3-6.9 26.2-6.6 6.2-2.5 17.5-2.4-1.7z" fill="#2b9fc2"/>
<path d="M1013 947l6.6-5.4 6.6-.3 2.4 .6 2.7-25.3 2.3 8-7 33.5-6.3-23.1-2.6 17.2-2.6 21.6z" fill="#1d8dbe"/>
<path d="M1033.6 924.6l6.3 23.4 7.1-38.6 2 27.8 2.3 3.3 2.9-41.2-7 31.9-6.5-10.5-2.3 1.5-2.4 .9z" fill="#1f80b8"/>
<path d="M1054.2 899.3l6.9-14.3 1.9 28.5 2.6-18.7 2.5-8.5-7 27.7-2.5 10.5-2.4 6z" fill="#2073b2"/>
<path d="M1005.8 950.7l6.4 10.2 6.9-24.3 2.3 9.9 2.6-24.4 2.2 19.2-6.6 .3-6.6 5.4-2.4 4-2.7 26.3z" fill="#1e8bbd"/>
<path d="M1026.2 941.3l6.5 5.7 6.8-14 2.5-7.9 2.3 10 2.7-25.7-7.1 38.6-6.3-23.4-2.3-8-2.7 25.3z" fill="#1f80b8"/>
<path d="M1047 909.4l6.8-15.1 1.8 37.9 2.9-37 2.6-10.2-6.9 14.3-2.9 41.2-2.3-3.3z" fill="#2073b2"/>
<path d="M998.1 991.4l7.1-45.9 6.8-17 2.4-2.1 2.1 23.1 2.6-12.9-6.9 24.3-6.4-10.2-2.7 28.3-2.2-24.8z" fill="#1e8abd"/>
<path d="M1019.1 936.6l6.6-4.1 6.4 20.1 2.9-41.1 2.3 7.4 2.2 14.1-6.8 14-6.5-5.7-2.2-19.2-2.6 24.4z" fill="#1f7db6"/>
<path d="M1039.5 933l7.1-35.2 2.6-14.2 2 29.8 2.6-19.1-6.8 15.1-2.7 25.7-2.3-10z" fill="#216daf"/>
<path d="M1012 928.5l6.7-7.4 6.3 24.6 2.7-21.3 2.4-7 2 35.2-6.4-20.1-6.6 4.1-2.6 12.9-2.1-23.1z" fill="#2076b3"/>
<path d="M1032.1 952.6l6.9-20.5 2.9-41.6 2.4 2.6 2.3 4.7-7.1 35.2-2.2-14.1-2.3-7.4z" fill="#216bae"/>
<path d="M1025 945.7l6.7-6.7 2.8-31.5 2.3 7.8 2.2 16.8-6.9 20.5-2-35.2-2.4 7z" fill="#2070b0"/>
</g>
   <g id="text_29">
    <text style="font-size: 12px; font-family: 'DejaVu Sans', 'Liberation Sans', sans-serif; text-anchor: middle; fill: #262626" x="314.834" y="87.018">Hydrogen Storage Evolution vs Time and Load Level</text>
   </g>
  </g>
  <g id="axes_2">
   <g id="patch_6">
    <path d="M 570.06 401.76 L 613.62778 401.76 L 613.62778 180 L 570.06 180 z" style="fill: #ffffff"/>
   </g>
   <g id="matplotlib.axis_1"/>
   <g id="matplotlib.axis_2">
    <g id="ytick_1">
     <g id="line2d_54">
      <defs>
       <path id="m4b0f480d96" d="M 0 0 L 6 0 " style="stroke: #262626; stroke-width: 1.25"/>
      </defs>
      <g>
       <use href="#m4b0f480d96" x="613.62778" y="400.406077" style="fill: #262626; stroke: #262626; stroke-width: 1.25"/>
      </g>
     </g>
     <g id="text_30">
      <text style="font-size: 11px; font-family: 'DejaVu Sans', 'Liberation Sans', sans-serif; text-anchor: start; fill: #262626" x="623.12778" y="404.585218" transform="rotate(-0 623.12778 404.585218)">8</text>
     </g>
    </g>
    <g id="ytick_2">
     <g id="line2d_55">
      <g>
       <use href="#m4b0f480d96" x="613.62778" y="368.919495" style="fill: #262626; stroke: #262626; stroke-width: 1.25"/>
      </g>
     </g>
     <g id="text_31">
      <text style="font-size: 11px; font-family: 'DejaVu Sans', 'Liberation Sans', sans-serif; text-anchor: start; fill: #262626" x="623.12778" y="373.098635" transform="rotate(-0 623.12778 373.098635)">9</text>
     </g>
    </g>
    <g id="ytick_3">
     <g id="line2d_56">
      <g>
       <use href="#m4b0f480d96" x="613.62778" y="337.432912" style="fill: #262626; stroke: #262626; stroke-width: 1.25"/>
      </g>
     </g>
     <g id="text_32">
      <text style="font-size: 11px; font-family: 'DejaVu Sans', 'Liberation Sans', sans-serif; text-anchor: start; fill: #262626" x="623.12778" y="341.612053" transform="rotate(-0 623.12778 341.612053)">10</text>
     </g>
    </g>
    <g id="ytick_4">
     <g id="line2d_57">
      <g>
       <use href="#m4b0f480d96" x="613.62778" y="305.94633" style="fill: #262626; stroke: #262626; stroke-width: 1.25"/>
      </g>
     </g>
     <g id="text_33">
      <text style="font-size: 11px; font-family: 'DejaVu Sans', 'Liberation Sans', sans-serif; text-anchor: start; fill: #262626" x="623.12778" y="310.12547" transform="rotate(-0 623.12778 310.12547)">11</text>
     </g>
    </g>
    <g id="ytick_5">
     <g id="line2d_58">
      <g>
       <use href="#m4b0f480d96" x="613.62778" y="274.459747" style="fill: #262626; stroke: #262626; stroke-width: 1.25"/>
      </g>
     </g>
     <g id="text_34">
      <text style="font-size: 11px; font-family: 'DejaVu Sans', 'Liberation Sans', sans-serif; text-anchor: start; fill: #262626" x="623.12778" y="278.638888" transform="rotate(-0 623.12778 278.638888)">12</text>
     </g>
    </g>
    <g id="ytick_6">
     <g id="line2d_59">
      <g>
       <use href="#m4b0f480d96" x="613.62778" y="242.973165" style="fill: #262626; stroke: #262626; stroke-width: 1.25"/>
      </g>
     </g>
     <g id="text_35">
      <text style="font-size: 11px; font-family: 'DejaVu Sans', 'Liberation Sans', sans-serif; text-anchor: start; fill: #262626" x="623.12778" y="247.152305" transform="rotate(-0 623.12778 247.152305)">13</text>
     </g>
    </g>
    <g id="ytick_7">
     <g id="line2d_60">
      <g>
       <use href="#m4b0f480d96" x="613.62778" y="211.486582" style="fill: #262626; stroke: #262626; stroke-width: 1.25"/>
      </g>
     </g>
     <g id="text_36">
      <text style="font-size: 11px; font-family: 'DejaVu Sans', 'Liberation Sans', sans-serif; text-anchor: start; fill: #262626" x="623.12778" y="215.665723" transform="rotate(-0 623.12778 215.665723)">14</text>
     </g>
    </g>
    <g id="ytick_8">
     <g id="line2d_61">
      <g>
       <use href="#m4b0f480d96" x="613.62778" y="180" style="fill: #262626; stroke: #262626; stroke-width: 1.25"/>
      </g>
     </g>
     <g id="text_37">
      <text style="font-size: 11px; font-family: 'DejaVu Sans', 'Liberation Sans', sans-serif; text-anchor: start; fill: #262626" x="623.12778" y="184.179141" transform="rotate(-0 623.12778 184.179141)">15</text>
     </g>
    </g>
    <g id="text_38">
     <text style="font-size: 12px; font-family: 'DejaVu Sans', 'Liberation Sans', sans-serif; text-anchor: middle; fill: #262626" x="650.602" y="292.136" transform="rotate(-90 650.602 292.136)">Storage (tons)</text>
    </g>
   </g>
   <defs><linearGradient id="cbg" x1="0" y1="0" x2="0" y2="1"><stop offset="0.0000" stop-color="#2e4072"/><stop offset="0.0312" stop-color="#34447d"/><stop offset="0.0625" stop-color="#3a498a"/><stop offset="0.0938" stop-color="#404e96"/><stop offset="0.1250" stop-color="#4653a3"/><stop offset="0.1562" stop-color="#465ba8"/><stop offset="0.1875" stop-color="#4664ad"/><stop offset="0.2188" stop-color="#456db1"/><stop offset="0.2500" stop-color="#4476b5"/><stop offset="0.2812" stop-color="#4381ba"/><stop offset="0.3125" stop-color="#428cbf"/><stop offset="0.3438" stop-color="#4196c4"/><stop offset="0.3750" stop-color="#40a1c9"/><stop offset="0.4062" stop-color="#47a9cb"/><stop offset="0.4375" stop-color="#4fb1cb"/><stop offset="0.4688" stop-color="#56b9cc"/><stop offset="0.5000" stop-color="#5ec1cd"/><stop offset="0.5312" stop-color="#6bc6cb"/><stop offset="0.5625" stop-color="#78cbc9"/><stop offset="0.5938" stop-color="#85d0c8"/><stop offset="0.6250" stop-color="#92d5c6"/><stop offset="0.6562" stop-color="#a1dac4"/><stop offset="0.6875" stop-color="#b1e0c3"/><stop offset="0.7188" stop-color="#c0e6c1"/><stop offset="0.7500" stop-color="#cfecc0"/><stop offset="0.7812" stop-color="#d7efbf"/><stop offset="0.8125" stop-color="#e0f3be"/><stop offset="0.8438" stop-color="#e8f6be"/><stop offset="0.8750" stop-color="#f0f9bd"/><stop offset="0.9062" stop-color="#f4fbc5"/><stop offset="0.9375" stop-color="#f7fcce"/><stop offset="0.9688" stop-color="#fbfed6"/><stop offset="1.0000" stop-color="#ffffdf"/></linearGradient></defs><rect id="cbrect" x="570.060" y="180.000" width="43.568" height="221.760" fill="url(#cbg)"/>
   <g id="LineCollection_1"/>
   <g id="patch_7">
    <path d="M 570.06 401.76 L 591.84389 401.76 L 613.62778 401.76 L 613.62778 180 L 591.84389 180 L 570.06 180 L 570.06 401.76 z" style="fill: none; stroke: #cccccc; stroke-width: 1.25; stroke-linejoin: miter; stroke-linecap: square"/>
   </g>
  </g>
 </g>
 <defs>
  <clipPath id="p9361e5aaca">
   <rect x="92.88" y="69.12" width="443.52" height="443.52"/>
  </clipPath>
 </defs>
</svg>

</body></html>
